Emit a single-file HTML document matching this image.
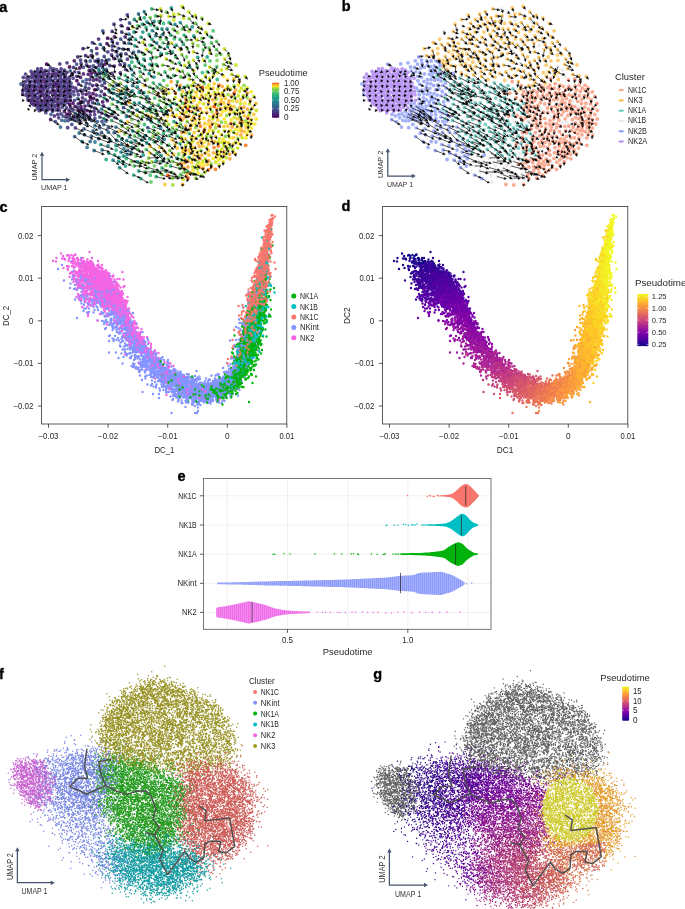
<!DOCTYPE html>
<html><head><meta charset="utf-8"><style>
html,body{margin:0;padding:0;background:#fff;width:685px;height:909px;overflow:hidden}
svg{display:block;font-family:"Liberation Sans", sans-serif;will-change:transform}
</style></head><body>
<svg width="685" height="909" viewBox="0 0 685 909" fill="none">
<defs><path id="qb" d="M89 252h0m-16 4h0m-1 2h0m-3-2h0m0 2h0m-13 0h0m16 3h0m5-1h0m8 4h0m2 2h0"/><path id="qc" d="M92 258h0m-9 0h0m-20-2h0m-10 5h0m25-1h0m3 0h0m13 6h0m-10 2h0m-4-3h0m-8 1h0m-5 0h0m18 4h0m0 1h0m2 3h0m9 2h0m-16 1h0"/><path id="qd" d="M73 258h0m-8 1h0m-9 2h0m17 2h0m1 0h0m4-1h0m6-1h0m0 0h0m6 3h0m0 0h0m3 0h0m4 1h0m-3 4h0m-1-1h0m-3-1h0m-1-1h0m-7 0h0m-13 0h0m1 7h0m13-2h0m5 0h0m1 0h0m2 2h0m3-3h0"/><path id="qe" d="M61 253h0m17 5h0m-9 0h0m-2-3h0m-3 3h0m-2 0h0m9 4h0m4-1h0m12 0h0m6 2h0m-5 2h0m-4 0h0m4 5h0"/><path id="qf" d="M81 258h0m12 11h0m-19-1h0m-16 1h0m16 2h0m9 0h0m-4 13h0m-5 5h0"/><path id="qg" d="M74 259h0m-3-4h0m-3 6h0m11 2h0m1-3h0m3 3h0m1 1h0m0-1h0m4 0h0m3-1h0m4 6h0m-4-3h0m-2 1h0m-3 3h0m-2-3h0m0 2h0m-2-1h0m-1 0h0m-1-1h0m-1-1h0m-1 0h0m-15 3h0m20 2h0m11 2h0m1-1h0m1-1h0m3 1h0m2 1h0m1-2h0m-15 9h0m-4-4h0m-14 2h0"/><path id="qh" d="M62 265h0"/><path id="qi" d="M77 258h0m-2-3h0m-7 0h0m-3 4h0m17 4h0m2-2h0m5 1h0m2 5h0m-7-1h0m-2 0h0"/><path id="qj" d="M87 259h0m-15 2h0m1 1h0m1 1h0m2 1h0m7-3h0m1 0h0m2 3h0m5-3h0m7 3h0m0 4h0m-1 0h0m-3 1h0m-4-3h0m-1 1h0m-3-2h0m-8 1h0m-5 0h0m-6 2h0m10 4h0m16-2h0m3 4h0m-7 2h0"/><path id="qk" d="M69 258h0m14 4h0m1-1h0m1 2h0m16 5h0m-6 1h0m-1-2h0m0-2h0m0 3h0m-2 0h0m-4-2h0m0 2h0m0 1h0m-1-2h0m-1 2h0m-1-2h0m0 1h0m-2-2h0m-2 0h0m0 1h0m-7 0h0m-2 5h0m4 1h0m1-1h0m2-2h0m1 2h0m2-2h0m8 1h0m4-1h0m1 3h0m0 1h0m1-2h0m1 1h0m7 0h0m9 3h0m-7 0h0m-1 0h0m-1 0h0m0 1h0m-2 0h0m-1 2h0m-3-2h0m0-1h0m0 0h0m-2 2h0m-3-2h0m-11 3h0m-4 0h0m10 2h0m3 1h0m0-1h0m12 2h0m8-3h0m-30 6h0"/><path id="ql" d="M71 261h0m13 7h0m11 3h0m-11 7h0m-7 1h0m-5 0h0m8 1h0m14 0h0m-15 7h0"/><path id="qm" d="M73 271h0m11-1h0m1 4h0m3-3h0m13 6h0m-1-1h0m-5-1h0m-2 0h0m-11 2h0m-18 3h0m26 3h0m13-2h0m4 5h0m-2-1h0m-14 3h0m-12-1h0m0 0h0m-4 12h0"/><path id="qn" d="M78 264h0m4-2h0m3 2h0m6 0h0m7-3h0m4 4h0m-1 3h0m-2-1h0m-1-1h0m-5 0h0m-3 1h0m-1-2h0m0 4h0m-1-2h0m-1 1h0m0-3h0m0 4h0m-1-3h0m-1 0h0m-1 3h0m-4-1h0m-12 2h0m7 1h0m2 1h0m5 1h0m4-2h0m3 1h0m6 2h0m3 0h0m4-1h0m1 1h0m1-2h0m4 3h0m-1 3h0m-10-2h0m-3-1h0m-4 0h0m-1 3h0m-2-2h0m-1 3h0m-4-4h0m-9 0h0m5 9h0m7-4h0m1 0h0m1 0h0m1 1h0m10 3h0m2-4h0m19 12h0"/><path id="qo" d="M73 260h0m-2 13h0m13-2h0m8 0h0m0 1h0m0-2h0m4 2h0m0 2h0m1-3h0m3 1h0m3 0h0m2 0h0m2 1h0m2 6h0m-4-3h0m-1-1h0m-1 4h0m-1-2h0m0 0h0m-3-1h0m-2 1h0m0-1h0m-1-1h0m0 4h0m-2 0h0m-6 0h0m-3-2h0m-3 0h0m-5 3h0m3 1h0m5-1h0m5 3h0m0-1h0m5-1h0m2 3h0m1-4h0m0 3h0m2-3h0m0 3h0m1-3h0m0 2h0m1-2h0m0 0h0m0 1h0m2 1h0m0-1h0m1 0h0m0 1h0m3 0h0m0 0h0m6 0h0m-1 3h0m-2 1h0m-1 3h0m-9-1h0m-8-1h0m-3-2h0m-3 2h0m-3 1h0m-2-2h0m-4 2h0m14 3h0m19 1h0m4 0h0m-11 4h0"/><path id="qp" d="M75 254h0m3 8h0m3 0h0m1-1h0m0 1h0m3 7h0"/><path id="qq" d="M87 262h0m6 5h0m-2 1h0m-3-3h0m0 4h0m-1-4h0m-2 2h0m0-1h0m-2 1h0m-2-2h0m0 1h0m-2-1h0m0 4h0m-8 3h0m5 0h0m4 1h0m4-3h0m3 0h0m1 1h0m2 0h0m0 2h0m0 1h0m1-2h0m0 0h0m2 2h0m0 0h0m4-2h0m0-1h0m3 3h0m1-2h0m5 1h0m1-1h0m6 3h0m-5 0h0m0 1h0m-1 2h0m-6-3h0m-3 2h0m-1 1h0m-5-2h0m-1-1h0m-2 2h0m0 1h0m-6-1h0m-4-1h0m-4-1h0m-2 3h0m16 3h0m14 1h0m5 0h0m7 0h0m-22 4h0m-15 0h0"/><path id="qr" d="M89 263h0m13 5h0m-8 0h0m-1 1h0m-4-4h0m0 3h0m0 1h0m-1 0h0m-1-4h0m-5 0h0m-7 1h0m-1 7h0m8-3h0m2 4h0m1-1h0m1-1h0m1 2h0m0 0h0m3-2h0m0 2h0m0-1h0m3 1h0m0 0h0m2-2h0m0 1h0m1-3h0m0 3h0m1-2h0m4 3h0m4-4h0m3 3h0m1 0h0m5 6h0m-6 0h0m-3-2h0m-1 2h0m-1-3h0m-1-1h0m0 4h0m-1-3h0m0 0h0m0 3h0m-2-2h0m-2-2h0m-1 0h0m0 3h0m-4-1h0m0 2h0m0-1h0m-4-1h0m-4-2h0m-1 0h0m-6 1h0m1 4h0m2 0h0m3 0h0m9 0h0m1 0h0m1 1h0m1 0h0m1 3h0m2-3h0m2-1h0m7 1h0m1-1h0m0 1h0m0 3h0m1-2h0m2-1h0m5 1h0m0 3h0m-8 0h0m-6 4h0m-4-2h0m-1 0h0m-3 0h0m-1 1h0m-7-3h0m-7 0h0m6 6h0m7 0h0m12 5h0m-15 2h0m-3 0h0m-5 1h0m-2-4h0"/><path id="qs" d="M76 263h0m3 1h0m2 0h0m0 0h0m9-3h0m5 7h0m-4-2h0m0-1h0m-1 2h0m0 2h0m-5-4h0m-5 1h0m0 3h0m-2 5h0m1-4h0m1 1h0m6 2h0m1-3h0m3 2h0m2 2h0m0-2h0m2 0h0m0-1h0m2 1h0m1 2h0m0-1h0m2-1h0m20 7h0m-13-2h0m-2-1h0m-1 1h0m-2 1h0m-2 1h0m-3-2h0m-3-1h0m-2 2h0m-2-3h0m-8 4h0m-3-3h0m-5 1h0m4 5h0m4-2h0m0 2h0m11 1h0m2-2h0m15 6h0m-14 5h0m14 0h0"/><path id="qt" d="M71 272h0m11 2h0"/><path id="qu" d="M80 273h0m3-3h0m10 1h0m-4 5h0m-15 0h0m2 5h0m37 1h0m-22 4h0m-3 1h0m-7-1h0m0 6h0m21 1h0m-20 2h0m-4 1h0"/><path id="qv" d="M80 274h0m10-2h0m-10 7h0m-8-3h0m13 5h0"/><path id="qw" d="M80 263h0m-6 16h0m3 4h0"/><path id="qx" d="M87 264h0m6 3h0m0 0h0m-2 2h0m-9-2h0m-1 6h0m5-1h0m0 2h0m4-4h0m1 0h0m0 4h0m2 0h0m1-4h0m0 3h0m1-2h0m0 2h0m1 1h0m3-3h0m7 3h0m16-2h0m-10 4h0m-1 3h0m-2-1h0m-1-1h0m-6-1h0m0 1h0m-3-2h0m-2 3h0m-2 0h0m-1-3h0m-2 0h0m-2 0h0m-1 1h0m-1 1h0m-1-1h0m0 3h0m-4-3h0m0-1h0m-1 1h0m-9 6h0m8 2h0m0-2h0m0-1h0m5 1h0m2 2h0m1-4h0m5 4h0m0 0h0m4-3h0m3 0h0m2 1h0m0-1h0m2 0h0m3 1h0m15 5h0m-6 2h0m-5-1h0m-15-2h0m-6-1h0m-2 1h0m-7 0h0m6 8h0m2-4h0m5 1h0m0 1h0m20-2h0"/><path id="qy" d="M99 279h0m-5-2h0m-5-2h0m-3 4h0m-2 0h0m-4-2h0m-10 6h0m7-2h0m11 2h0m3-2h0m8-1h0m2 1h0m0 0h0m12 8h0m-38-1h0m25 5h0m11 0h0m-33 5h0"/><path id="qz" d="M91 264h0m-3 4h0m-3-2h0m0 3h0m-7 5h0m1-3h0m3 2h0m2 1h0m1-3h0m8 0h0m0 1h0m1 1h0m1-2h0m0 3h0m0-1h0m2-1h0m1-1h0m1 3h0m1 0h0m6-4h0m4 8h0m-3-1h0m-1-1h0m0 0h0m0 3h0m-3-1h0m0 0h0m-3-1h0m-1-1h0m-3-1h0m0 0h0m0 1h0m0 3h0m-4-4h0m0 2h0m-2 0h0m-2-1h0m-1 2h0m-1-1h0m-1-1h0m0 0h0m-1-1h0m0 4h0m-1-1h0m-8 1h0m-1-1h0m2 3h0m1 3h0m2-2h0m6-1h0m6-1h0m1 4h0m2-3h0m1 3h0m2-4h0m1 0h0m0 1h0m1-1h0m2 2h0m5-2h0m5 8h0m-3-2h0m-5 1h0m-1-1h0m-11 0h0m-2 0h0m-3 0h0m-3 1h0m2 6h0m6 1h0m3-1h0m27 3h0"/><path id="qba" d="M100 267h0m-19 5h0m14 2h0m2 0h0m1 0h0m2-2h0m2 1h0m3 6h0m-4-1h0m-1 0h0m-2 1h0m-6-1h0m-15 5h0m15-2h0m5 2h0m1 0h0m3-1h0m0 2h0m1 0h0m1-3h0m0 3h0m1-1h0m2 0h0m4-3h0m6 5h0m-1 3h0m-2-2h0m-1 2h0m0 0h0m-3 0h0m-1 0h0m-1-3h0m0 2h0m-1-2h0m-2 0h0m-2 4h0m-2-3h0m-4-1h0m-2 1h0m-1 3h0m-4-1h0m-5-1h0m0 0h0m0 0h0m-8 2h0m2 5h0m4-2h0m2-1h0m4 3h0m9-2h0m8 0h0m3-1h0m1 2h0m1 1h0m11 0h0m1-3h0m1 3h0m-1 5h0m-14-3h0m-5 1h0m-9-2h0m-8 1h0m34 6h0"/><path id="qbb" d="M86 268h0m6 3h0m6 8h0m-18-4h0m-3 4h0m-3 0h0"/><path id="qbc" d="M110 276h0m-13 2h0m-12 1h0m-5 2h0m4 0h0m12 0h0m2-1h0m9 3h0m-17 2h0m-9 3h0m-2-3h0m-4 0h0m-5 3h0m16 3h0m9 1h0"/><path id="qbd" d="M80 271h0m16 2h0m-4 5h0m-7 4h0m3 0h0m-5 3h0"/><path id="qbe" d="M95 273h0m10 6h0m-6-2h0m-7-1h0m-14 4h0m31 4h0m1 0h0m4-4h0m-17 9h0m-3 0h0m0-2h0m-11-2h0m-1 4h0m14 1h0m4 4h0m2-2h0m17 5h0m0 0h0m-18-1h0m-13 3h0m-3 0h0m-6-3h0"/><path id="qbf" d="M90 272h0m0 2h0m3-1h0m1 1h0m5 0h0m5-1h0m1-1h0m5 7h0m-5-4h0m-4 3h0m-1 1h0m-5-3h0m-4-1h0m-4 9h0m10-3h0m0 2h0m2-3h0m0 4h0m3-3h0m2 1h0m0 2h0m2-3h0m2 3h0m1-2h0m2 2h0m3 2h0m-4-1h0m-2 1h0m-1 3h0m-6-2h0m-1 0h0m-13 1h0m-9-3h0m12 9h0m3 0h0m1-1h0m8-3h0m3 1h0m3 1h0m12-1h0m-4 5h0m-4 2h0m-9-2h0m-2 3h0m-2-3h0m-2-1h0m1 7h0"/><path id="qbg" d="M89 269h0m-3 4h0m31 6h0m-9 0h0m-5 0h0m-3-4h0m-1 2h0m-4 1h0m-3 1h0m-10-1h0m3 5h0m1-3h0m8 4h0m6-4h0m0 1h0m0 0h0m4 3h0m1-4h0m0 3h0m1-2h0m0-1h0m0 0h0m2 3h0m2 1h0m3-2h0m1 0h0m4 4h0m-3 3h0m0-2h0m-2-2h0m-3 0h0m-2 0h0m-1 2h0m-1-2h0m-2 0h0m-5 1h0m-4 1h0m0 0h0m-2 1h0m-3 0h0m-8 1h0m-6 0h0m6 3h0m8 1h0m6 0h0m3 1h0m2-4h0m0 2h0m2-1h0m0 1h0m0 1h0m2-2h0m0 0h0m3 2h0m3-1h0m0 2h0m1-1h0m2-2h0m2 2h0m2-3h0m2 3h0m-2 2h0m-5 0h0m0 2h0m-1-2h0m-3 2h0m-4-2h0m-2 2h0m-4-2h0m18 6h0m2-1h0m5 1h0"/><path id="qbh" d="M100 267h0m-10 6h0m2-1h0m8 2h0m23 5h0m-16-1h0m-1 0h0m-3-1h0m-1 2h0m-1-1h0m-2 0h0m-2-1h0m-3-2h0m-1 1h0m-4 0h0m-5 7h0m5-3h0m3 2h0m1-1h0m2 3h0m1-4h0m0 4h0m1-4h0m1 0h0m1 1h0m2 0h0m0 1h0m1-1h0m1 0h0m2 0h0m2 3h0m1-1h0m1 0h0m1-2h0m0 2h0m0 1h0m1-2h0m9 5h0m-8 0h0m-2-1h0m-1 1h0m-4 1h0m-1 1h0m-1-1h0m0 1h0m0 0h0m-1-3h0m0 0h0m-2 3h0m-1-1h0m0-3h0m0 4h0m-1-1h0m-2 1h0m-4-4h0m-3 3h0m-2-2h0m-5 1h0m1 6h0m3 0h0m1-3h0m5 1h0m7 3h0m6-1h0m3 1h0m12 2h0m-1-1h0m-4 0h0m-1 0h0m-30 0h0m-5 3h0m23 3h0"/><path id="qbi" d="M81 283h0m21 1h0m2 0h0m1 0h0m10-1h0m-12 6h0m-4-3h0m-2 3h0m-5-4h0m-5 5h0m12 3h0m3 1h0m18 3h0m-6-1h0m-2 0h0m-10 2h0m-8 0h0m-2-3h0m-5 1h0m-3 2h0m0 3h0m12 0h0m21 0h0"/><path id="qbj" d="M90 272h0m4 12h0m5-3h0m1 2h0m1 1h0m11-1h0m-12 6h0m-1-1h0m-9 1h0m-11-3h0m-2 4h0m20 0h0m0 2h0m5 0h0m16 1h0m-22 6h0m-6-4h0m-9 6h0"/><path id="qbk" d="M92 274h0m8 2h0m4 8h0m1 0h0m5-2h0m0-1h0m1 1h0m0-1h0m-1 6h0m0 2h0m-1-2h0m0 1h0m0 1h0m-1-4h0m-3 1h0m-1-1h0m-19 3h0m8 4h0m4-2h0m10 1h0m1-1h0m2 3h0m4 1h0m3-4h0m4 6h0m0 1h0m0 2h0m-1-2h0m-3 2h0m0 0h0m-1-1h0m0 1h0m-1-1h0m0 0h0m-1-2h0m0 1h0m-2-2h0m0 2h0m-1-1h0m0 3h0m-3-2h0m-1 2h0m-1-1h0m-1-3h0m-5 2h0m-6 1h0m-13 0h0m9 3h0m17 1h0m7-1h0m1-1h0m1 0h0m3 2h0m0-2h0m0 0h0"/><path id="qbl" d="M109 278h0m-17 1h0m-3 0h0m0 3h0m19 1h0m2 4h0m-4 1h0m-10 1h0m-2-4h0m-5 2h0m4 5h0m5 1h0m3-2h0m1-1h0m4 0h0m7 3h0m-19 6h0m-3 0h0m-7-1h0m-2-2h0"/><path id="qbm" d="M102 280h0m7 1h0m6 1h0m2 2h0m7 2h0m-7 2h0m-8-3h0m0 4h0m-2-1h0m-4-3h0m-2 2h0m-2-1h0m-1 3h0m-4 0h0m-4-4h0m-4 7h0m6 1h0m6 1h0m1-3h0m2 1h0m3 2h0m3 0h0m4-4h0m1 0h0m0 4h0m1-4h0m0 4h0m1-3h0m8 2h0m-1 2h0m-3 1h0m-3-1h0m-3 4h0m0 0h0m-4 0h0m-3 0h0m-13-4h0m-16 2h0m16 5h0m2 2h0m1-4h0m13 0h0m3 3h0m1-3h0m3 0h0m1 4h0m3 0h0m3-4h0m0 1h0m4 1h0m-1 5h0m-4-2h0m-16 1h0m-16-1h0"/><path id="qbn" d="M97 277h0m-5 7h0m14 5h0m-13 5h0m0-1h0m2-2h0m0 3h0m9 0h0m3-3h0m3 1h0m-6 4h0m0 0h0m0 3h0m-7 0h0m-1-2h0m-1-1h0m0 3h0m-10-4h0m-4 8h0m10-3h0m1 1h0m2 2h0m10-2h0m3-1h0m5 1h0m3-1h0m8 6h0m-5 0h0m-13 1h0m-1-2h0m-8 1h0m32 4h0"/><path id="qbo" d="M101 278h0m-5-1h0m1 7h0m3-2h0m2-1h0m1 3h0m9 5h0m-2-4h0m0 1h0m-3 0h0m-1 1h0m-3-1h0m-1 1h0m-4 2h0m-2 2h0m0-1h0m2 1h0m2 1h0m0 1h0m0 0h0m1 0h0m4-3h0m4 0h0m1 3h0m1 0h0m1 1h0m0-1h0m1 0h0m1 1h0m6-1h0m2 2h0m-4 0h0m-1 0h0m-1 0h0m-2 0h0m0 2h0m-2-2h0m0 2h0m-3-1h0m-1 0h0m-5 1h0m-2-2h0m-3 3h0m-5 1h0m0 0h0m-6 0h0m-5-3h0m12 4h0m18 0h0m4 0h0m8 7h0m-1 8h0"/><path id="qbp" d="M106 279h0m1 7h0m0 1h0m-2-1h0m0 3h0m-7 0h0m-1 0h0m-5 5h0m15-3h0m0 1h0m1 0h0m0-2h0m5 7h0m-8 0h0m-3 1h0m-2 0h0m-7-3h0m-12 0h0m35 6h0m4 0h0m2 7h0m-1-1h0m-9 1h0m-3 1h0m-2-4h0"/><path id="qbq" d="M104 283h0m7 7h0m4 3h0m12 4h0m-5 1h0m-2 0h0m-5-1h0m0 2h0m-1 0h0m-1-2h0m0 0h0m0 2h0m-10-1h0m-1 1h0m-1-2h0m-22 3h0m9 2h0m16 2h0m6-2h0m2 1h0m0 0h0m5-1h0m2 1h0m1 1h0m1-2h0m1 0h0m5-1h0m-3 8h0m-3-1h0m-2-2h0m-4 3h0m-2-4h0m-7 1h0m-4-1h0m18 6h0m8 8h0m-1-4h0m-9 5h0m18 7h0"/><path id="qbr" d="M103 283h0m9 6h0m-3 0h0m-6 0h0m-13-2h0m5 3h0m4 4h0m0 0h0m10 1h0m-7 3h0m-6 0h0m-1-2h0m-11 2h0m5 6h0m3-4h0m3 1h0m1 0h0m11 0h0m4 3h0m6-3h0m2-1h0m5 8h0m-30 2h0m22 0h0"/><path id="qbs" d="M107 289h0m-10-4h0m6 8h0m2-2h0m2 2h0m4-3h0m6 3h0m-3 2h0m-6 0h0m-3 2h0m-5-1h0m-2 1h0m-2 0h0m-5 2h0m-8-4h0m-1 1h0m2 8h0m13-2h0m3 2h0m2 0h0m1-3h0m3-1h0"/><path id="qbt" d="M109 279h0m-14 4h0m9 1h0m2-1h0m11 1h0m1 1h0m-3 2h0m-4 1h0m0 0h0m-3 0h0m-6-1h0m-3-2h0m-4 0h0m-5 7h0m2-1h0m6 3h0m1-1h0m3 0h0m8 0h0m4-1h0m6 2h0m1 3h0m-4-1h0m0 3h0m-4-4h0m-1 3h0m-4-3h0m-2 1h0m-2 0h0m-10 1h0m-4 0h0m-1 3h0m5 3h0m8 1h0m5-4h0m5 3h0m0-1h0m4-2h0m1 2h0m1-1h0m8 0h0m-14 8h0m-7-3h0m-18 0h0"/><path id="qbu" d="M98 294h0m5-2h0m7 1h0m0 1h0m6-2h0m1 2h0m3 4h0m-1 0h0m-3-1h0m-3 0h0m0-2h0m-1 2h0m-4 2h0m-1-2h0m-16-2h0m-4 0h0m-2 7h0m24 1h0m2 0h0m3-3h0m0 0h0m0 4h0m1-4h0m0 2h0m1-2h0m0 1h0m0 3h0m0 0h0m1-3h0m0 1h0m1-1h0m8 1h0m-2 3h0m-4 1h0m-1 1h0m-9-1h0m-7 1h0m-19-2h0m-2 2h0m36 5h0"/><path id="qbv" d="M105 288h0m-1-2h0m-11 8h0m6 0h0m5-1h0m1 1h0m4 0h0m4-2h0m2-1h0m6 4h0m-2 1h0m-1 0h0m-2-1h0m0 4h0m-2-1h0m-2 1h0m-5-3h0m-6 1h0m-5 2h0m-11 1h0m27 2h0m0 1h0m3-3h0m0 2h0m1-1h0m3 3h0m7-1h0m-2 2h0m0 1h0m-2 1h0m-5-1h0m-1 1h0m-3 2h0m-3-3h0m-5 0h0m-2 1h0m-1-1h0m-9-1h0m13 9h0m19-4h0m4 2h0m-1 5h0"/><path id="qbw" d="M106 289h0m-8 2h0m18 6h0m-1 2h0m-27-1h0m9 2h0m4 3h0m3 0h0m4 0h0m8-1h0m3 1h0m-1 3h0m-1-1h0m-2 0h0m-1 1h0m0 2h0m0-1h0m-3-2h0m-6 2h0m-4-1h0m-12 2h0m-5 0h0m3 4h0m27 2h0m4-1h0m2-3h0m1 2h0m3 3h0m-1 2h0m-4 0h0"/><path id="qbx" d="M106 287h0m-12 7h0m6 0h0m5-3h0m7 1h0m0 2h0m2-1h0m2-1h0m2 4h0m0 3h0m-3-3h0m-5 3h0m0 0h0m-5-3h0m-6 2h0m-4 2h0m7 0h0m0 4h0m0-3h0m2 1h0m5 1h0m2-2h0m0 1h0m2 2h0m4-3h0m0 2h0m2-3h0m0 4h0m1-3h0m2-1h0m3 4h0m4 4h0m-3-3h0m-4 3h0m-3-2h0m0 2h0m-6-3h0m0 2h0m-1 0h0m-6-1h0m-3-1h0m-12 0h0m23 8h0m2-2h0m5 1h0m1-2h0m1 7h0m-3-1h0m13 8h0"/><path id="qby" d="M110 297h0m0 2h0m-17-3h0m9 6h0m14 2h0m1 0h0m2 0h0m2 0h0m-1 2h0m-1-1h0m-4 0h0m-1 4h0m-1 0h0m2 5h0m1-2h0m3 1h0m2-1h0m4 0h0m0 1h0m1-3h0m2 8h0m-2-1h0m-5-1h0m7 5h0m0 0h0m2 3h0m4-3h0m2 3h0m-9 6h0m3 3h0"/><path id="qbz" d="M110 286h0m-12 8h0m18 0h0m-2 4h0m-1 0h0m-15-1h0m-11 6h0m7 0h0m1 1h0m4-2h0m2-1h0m3 1h0m0 1h0m2 1h0m2-4h0m4 2h0m5-2h0m0 4h0m1 3h0m-2-1h0m-6 1h0m0 0h0m-8-2h0m-9 2h0m-10 4h0m28 0h0m1-1h0m9 5h0m7 7h0"/><path id="qca" d="M96 298h0m3 2h0m9 2h0m3 2h0m1-1h0m12 4h0m-1 1h0m-1-1h0m0 0h0m-8 0h0m-1-2h0m-6 2h0m-21 1h0m38 3h0m3 6h0m-3-1h0m-2 0h0m-17 0h0m16 6h0m10 3h0m-4 2h0m9 5h0"/><path id="qcb" d="M102 298h0m-2-1h0m-12 7h0m11-2h0m19 3h0m-4 1h0m-1 2h0m-16-1h0m-4 5h0m15 1h0m7-2h0m5 2h0m0 1h0m3-1h0m4-2h0m1 1h0m-2 4h0m0 1h0m-1-2h0m-18 1h0m3 5h0m7 3h0m1 0h0m8-2h0m10 1h0"/><path id="qcc" d="M103 293h0m7 1h0m5 1h0m-6 7h0m14 6h0m-2 1h0m-14-1h0m-15-3h0m18 8h0m1-1h0m12 1h0m1 1h0m1 4h0m-1-3h0m5 6h0"/><path id="qcd" d="M100 298h0m-8 6h0m30 0h0m5 5h0m-8-2h0m-2-1h0m-1 0h0m-3 2h0m-12 4h0m0 2h0m2-1h0m6-3h0m6 4h0m1-1h0m4-1h0m5 1h0m4 5h0m-9-3h0m-2 2h0m0 1h0m-12-2h0m-2 0h0m23 4h0m3 0h0m2 5h0m-1 0h0m-5 5h0m6 1h0m4 9h0"/><path id="qce" d="M97 303h0m9-2h0m1 0h0m1 2h0m0 0h0m9-1h0m6 4h0m-3 3h0m-3 0h0m-4 0h0m-15 1h0m4 3h0m10 1h0m5-3h0m8 3h0m-2 2h0m-3 3h0m-9 0h0m0 0h0m-4-4h0m-30 3h0m47 2h0m6 2h0m5 7h0m-7-3h0m-1-1h0m-18 0h0m13 5h0m26 10h0"/><path id="qcf" d="M111 294h0m2-3h0m-3 8h0m-3-3h0m-14 7h0m9 0h0m4 0h0m3-3h0m0 3h0m2 1h0m1-3h0m7 4h0m0 3h0m-8-3h0m-5 4h0m-1-3h0m-4-1h0m-11 0h0m21 8h0m2-2h0m15 1h0m-13 10h0"/><path id="qcg" d="M118 298h0m-12 1h0m-4 1h0m8 3h0m6 0h0m1-3h0m2 4h0m7 4h0m-3 0h0m-7-2h0m-1 1h0m1 3h0m4 4h0m2-4h0m0 3h0m4-1h0m2 1h0m5 4h0m-2-1h0m-2 3h0m-1 0h0m-2-1h0m-29 2h0m19 3h0m11-2h0m6 2h0m0 4h0m-4-1h0m-5 10h0"/><path id="qch" d="M118 298h0m-14 6h0m5-2h0m5 1h0m2-3h0m7 2h0m2-2h0m3 9h0m-6-4h0m-1 3h0m0 1h0m-2-4h0m-2 2h0m-1-1h0m-2-1h0m0 4h0m-14 5h0m4-4h0m14 1h0m3 3h0m1-4h0m0 0h0m1 3h0m1 0h0m1 1h0m0-1h0m1 0h0m2 3h0m-1 3h0m-7-3h0m-1 0h0m12 7h0m9 11h0m1-2h0"/><path id="qci" d="M117 298h0m-3 1h0m-6 1h0m9 2h0m5-1h0m0 0h0m-8 5h0m-6 0h0m0-1h0m-3 6h0m4-1h0m14 3h0m0-1h0m3 2h0m1 0h0m-3 1h0m10 7h0m1 6h0m-2-1h0m0 9h0m-5 1h0"/><path id="qcj" d="M88 314h0m24-2h0m3-1h0m9-1h0m2 8h0m-2-1h0m0 2h0m-36-3h0m38 8h0m1-3h0m1-1h0m1 4h0m9 4h0m-2 0h0m-2 1h0m-1-4h0m-5 0h0m3 7h0m2-2h0m0 3h0m0 2h0m-3 4h0m8 3h0m5-1h0m8 3h0"/><path id="qck" d="M118 308h0m-3 1h0m-26 3h0m22 0h0m0 1h0m6 1h0m5-2h0m11 1h0m-7 5h0m-2-3h0m-4 3h0m0 0h0m-10-3h0m-8 6h0m4-1h0m13 1h0m1 0h0m7 3h0m5 5h0m-2 0h0m-13-2h0m7 7h0m4-2h0m-10 6h0m9 2h0m11 2h0m10 2h0m-2 7h0"/><path id="qcl" d="M112 305h0m-3 2h0m10 6h0m3-3h0m-13 5h0m7 6h0m1 0h0m8 0h0m2-1h0m1 1h0m0 3h0m0 3h0m-2-1h0m6 8h0m8-2h0m-1 3h0m-6 7h0"/><path id="qcm" d="M113 305h0m-3 9h0m15 0h0m1-1h0m-3 5h0m0 1h0m-1-4h0m-4 2h0m-4 0h0m-4 2h0m-13 1h0m0 0h0m14 0h0m0 3h0m5-2h0m2 0h0m3 0h0m1-1h0m0 0h0m2 2h0m3 0h0m5 4h0m-4 0h0m-2 1h0m-4-2h0m-1 3h0m-8-2h0m-1 0h0m12 7h0m5-2h0m0 1h0m1-1h0m2 0h0m2 6h0m-5 1h0m-1 0h0m2 4h0m8-2h0"/><path id="qcn" d="M124 303h0m-7 2h0m3 9h0m4-1h0m2 1h0m2 3h0m-8-2h0m6 8h0m6 3h0m-10-1h0m11 5h0m1 1h0m4 3h0m0 4h0m-11 1h0"/><path id="qco" d="M108 308h0m6 5h0m11 4h0m-9-2h0m0 4h0m-9 3h0m6 2h0m2-1h0m1-3h0m2 0h0m1 3h0m2-1h0m5-1h0m3 3h0m1-1h0m2 0h0m-1 5h0m0 0h0m-1-1h0m-1-1h0m-5 0h0m-1 3h0m-2-4h0m-5 1h0m4 7h0m5-3h0m11 2h0m3 4h0m-11 5h0m9-1h0m2 1h0m6 1h0m-1 4h0"/><path id="qcp" d="M120 306h0m-1 7h0m3-1h0m9 3h0m-4 0h0m-6 1h0m3 6h0m4-1h0m13 8h0m-5-1h0m-2 0h0m-1-1h0m-6-2h0m3 9h0m9 3h0m-2-1h0"/><path id="qcq" d="M107 313h0m5 1h0m9-1h0m9 0h0m-8 2h0m0 2h0m-2 1h0m-6-1h0m-10 4h0m2 1h0m4 2h0m4-2h0m7 1h0m4-2h0m1 1h0m4 0h0m4 7h0m-2 0h0m-2-4h0m0 1h0m0 2h0m1 5h0m1-1h0m0-1h0m0 1h0m3 2h0m1 0h0m-7 2h0m-4 0h0m-15-1h0m24 8h0m1 1h0"/><path id="qcr" d="M109 314h0m4-1h0m11 5h0m-4 1h0m-4-4h0m-5 3h0m12 3h0m9 0h0m-4 6h0m-9 6h0m4 0h0m2 0h0m3-2h0m5 1h0m14 6h0m-5 1h0m-5 0h0m-2-3h0m0 3h0m-4-1h0m-1-1h0m-2-1h0m8 4h0m9 7h0m0 2h0m-2-4h0m-8 2h0m-1-2h0m-2 2h0m-5-2h0m0 0h0m13 6h0m1 2h0m15 0h0"/><path id="qcs" d="M114 313h0m15 5h0m-3-2h0m-10 1h0m13 7h0m4 3h0m-4 0h0m-7-1h0m-3 7h0m3-2h0m10-1h0m2 0h0m13 7h0m-5 0h0m-2-2h0m-2 2h0m-5 2h0m10 2h0m2 1h0m0 2h0m5 5h0"/><path id="qct" d="M123 319h0m-6-4h0m-5 9h0m6-1h0m11 6h0m-2-2h0m-2-1h0m0 3h0m-1-3h0m-19 3h0m12 3h0m2 1h0m7 0h0m1-1h0m6 0h0m0 1h0m1-2h0m4 5h0m0 1h0m0 1h0m-3 1h0m-4-3h0m-1-1h0m-5 3h0m-16-2h0m28 4h0m3 0h0m3 2h0m4 6h0m-1-1h0m-5-1h0m-1 1h0m-2 2h0m-7-3h0m-5-1h0m13 6h0m6 6h0"/><path id="qcu" d="M104 324h0m15 5h0m-1 0h0m-5-1h0m-7 0h0m21 6h0m5 0h0m4 4h0m-6 0h0m-3 1h0m-1 0h0m-2-2h0m-9-1h0m-6 5h0m14 0h0m7-1h0m16 6h0m-2 2h0m-1-1h0m-1-2h0m-2 2h0m-2-2h0m0 4h0m-3-1h0m-1-1h0m-5-2h0m8 7h0m2 0h0m1-1h0m3 0h0m0 2h0m4 0h0m1-3h0m1 2h0m6-1h0m1 5h0m-3-1h0m-6 2h0m-4 2h0m-8-4h0m-4 3h0m10 4h0m2-2h0m-1 5h0"/><path id="qcv" d="M114 320h0m6 8h0m11 4h0m-2 10h0m7-2h0m3 1h0m12 6h0m-10-1h0m-3-1h0m4 5h0m4 0h0m2 4h0m3 0h0"/><path id="qcw" d="M107 324h0m21-1h0m2 6h0m-1 3h0m3 2h0m1-4h0m11 7h0m-2 1h0m-5-2h0m-4 0h0m0-1h0m0 4h0m3 2h0m5 2h0m1-3h0m1 5h0m-1 1h0m-2 0h0"/><path id="qcx" d="M112 324h0m20 4h0m-5 1h0m-2 0h0m-5 2h0m8 3h0m4 0h0m6 1h0m-3 2h0m-8-2h0m-1 3h0m4 5h0m7-2h0m7-1h0m6 9h0m-13-1h0m-8 5h0m10-3h0m6 2h0m0 1h0m1 0h0"/><path id="qcy" d="M110 323h0m25 0h0m-15 4h0m14 4h0m-5 6h0m10 5h0m11 7h0m-10-3h0m13 7h0"/><path id="qcz" d="M126 316h0m-1 6h0m10 2h0m-13 2h0m1 8h0m4 0h0m3-2h0m3 0h0m2 1h0m2-1h0m2 1h0m3 6h0m-2-2h0m0 2h0m-3-4h0m5 8h0m3 6h0m-9-4h0"/><path id="qda" d="M123 317h0m-3 6h0m2-2h0m1 3h0m2-3h0m0 3h0m3-1h0m8 5h0m-6-1h0m-14 0h0m-2 1h0m-2 2h0m4 0h0m13 0h0m13 2h0m-6 4h0m-1 1h0m-1-2h0m-1 3h0m0 0h0m-1-3h0m-4 3h0m-3-1h0m-1 0h0m0-1h0m-11 5h0m17 1h0m1 2h0m1-3h0m1 2h0m4-1h0m1 0h0m5 0h0m5 7h0m-6-4h0m2 6h0m7 1h0m-1 3h0m-2 0h0"/><path id="qdb" d="M115 322h0m15 21h0m6 1h0m6 3h0m-3 1h0m-1-1h0m-1-2h0m-3 1h0m0 1h0m-4 2h0m-6-3h0m-4-1h0m7 9h0m6-4h0m2 1h0m11 3h0m2 0h0m8 5h0m-1 0h0m-1-1h0m-4-1h0m0 1h0m-1 0h0m-3-1h0m-3 1h0m0-2h0m-2-1h0m-6 2h0m-2 6h0m8-1h0m6 1h0m1-3h0m1 1h0m3 0h0m2 1h0m1-2h0m3 3h0m1-3h0m2 1h0m5 7h0m-7-1h0m-15-1h0m-5 5h0m19 1h0m5-1h0m-23 4h0"/><path id="qdc" d="M124 328h0m-3-1h0m-9-1h0m17 8h0m-1 1h0m-1 3h0m-4-3h0m-11 3h0m20 4h0m8 2h0m2-2h0m5 7h0m-4-2h0m-1 1h0m-1-2h0m0 1h0m-1-1h0m-3 2h0m-1 1h0m-1-3h0m0 1h0m-1-1h0m0 3h0m-2 0h0m-2-2h0m-7 2h0m-1 0h0m-1 4h0m24-3h0m0 2h0m2 0h0m8 4h0m-6 0h0m0 1h0m-1-2h0m-4 1h0m-7 2h0m13 5h0"/><path id="qdd" d="M125 327h0m11 7h0m-12 3h0m-3 2h0m-5 1h0m16 3h0m5 1h0m1 0h0m5-1h0m-1 3h0m-3 3h0m0 0h0m-11-4h0m-1 4h0m12 1h0m6 1h0m2 2h0m3 1h0m2 0h0m9 5h0m-12-3h0m0-1h0m-14 1h0m-17 2h0m22 5h0m7 0h0m8-3h0m6 4h0"/><path id="qde" d="M125 328h0m-5 14h0m11 2h0m4-2h0m6 7h0m-21-3h0m12 6h0m11-1h0m4 3h0m10 4h0m-2 0h0m-3 0h0m-2 1h0m-1 0h0m-2-3h0m-4 0h0m0 2h0m0 1h0m-1 0h0m-6-3h0m0 0h0m-2-1h0m-12 8h0m16-1h0m8-2h0m3 1h0m0 0h0m2 1h0m1-1h0m4 3h0m2-4h0m3 4h0m10 2h0m-6 1h0m-17-2h0m-1 0h0"/><path id="qdf" d="M140 333h0m-4 3h0m0 1h0m-13-1h0m-1 0h0m0 2h0m-8 1h0m5 1h0m3 1h0m3 2h0m3-3h0m4 0h0m1 0h0m1 0h0m4 4h0m1-4h0m5 8h0m-1 0h0m-2-2h0m0 1h0m-3-2h0m-1 4h0m-5-2h0m-23 5h0m7 0h0m18-1h0m2 1h0m1-2h0m4 0h0m0 3h0m1-2h0m0 0h0m3 0h0m2-1h0m4 3h0m-3 5h0m-9-1h0m-9 0h0m13 5h0m9-2h0m1 0h0m4 0h0m4 0h0"/><path id="qdg" d="M126 340h0m9 3h0m6 2h0m-3 0h0m-13 7h0m11-1h0m8 0h0m2 0h0m0 3h0m3 0h0m2-1h0m1 6h0m-1 0h0m-3-4h0m-7 0h0m-6 4h0m-5-1h0m17 4h0m1-2h0m4 4h0m2-4h0m2 4h0m12-4h0m1 3h0m-6 2h0m0 0h0m-6 3h0m-4-2h0m-7-1h0m-13 2h0m18 4h0m7 0h0"/><path id="qdh" d="M139 335h0m-9 5h0m21 6h0m-8 6h0m8 1h0m-12 10h0m21-2h0"/><path id="qdi" d="M138 337h0m4 4h0m7 1h0m-9 4h0m-5 3h0m11 3h0m1-1h0m4 0h0"/><path id="qdj" d="M134 343h0m0-3h0m-2 9h0m-3-1h0m-4-2h0m5 7h0m3-1h0m15 2h0m1 0h0m5-3h0m8 6h0m-7 1h0m-5-3h0m-1 2h0m-2 0h0m-3 0h0m-6-1h0m-2 1h0m-5-1h0m-8 1h0m26 3h0m3 3h0m2 0h0m2-3h0m0 2h0m0 3h0m-1 0h0m-8 2h0m-1-2h0m0 5h0"/><path id="qdk" d="M135 338h0m-5 5h0m7 0h0m2-2h0m-10 4h0m16 6h0m5 1h0m-3 5h0"/><path id="qdl" d="M125 349h0m26 5h0m10 4h0m-5-1h0m-2 2h0m-1-2h0m-3 0h0m0 2h0m-2-3h0m-8 3h0m13 1h0m0 1h0m1 2h0m4 0h0m2-2h0m4 7h0m-1-2h0m-1 1h0m-2 2h0m-1-4h0m-4 2h0m0 2h0m-2-1h0m-2 0h0m-2-2h0m-6 0h0m-1 3h0m-1-3h0m0-1h0m-5 3h0m-1-1h0m10 5h0m13-1h0m7 3h0m5-4h0"/><path id="qdm" d="M139 343h0m2 5h0m9 5h0m2 1h0m5 5h0m-8-2h0m-3-1h0m7 7h0"/><path id="qdn" d="M134 346h0m-8 7h0m19-2h0m3 2h0m6 0h0m-2 6h0m-3 0h0m-23-4h0m15 7h0m4-1h0m0 2h0m5-3h0m1 0h0m1 3h0m3-1h0m3 1h0m2 0h0m8 2h0m-1 0h0m-5 3h0m-1 0h0m-1-3h0m0 4h0m-3-2h0m-3-2h0m0 1h0m0 1h0m-1-1h0m-7 0h0m-5 1h0m-3 0h0m6 3h0m6 2h0m3-1h0m3 1h0m5-2h0"/><path id="qdo" d="M125 354h0m30 24h0"/><path id="qdp" d="M143 341h0m2 9h0m9 3h0m1 1h0m3-1h0m-3 7h0m9 2h0m-14 5h0"/><path id="qdq" d="M147 348h0m-10 1h0m3 3h0m5-1h0m9 6h0m0 1h0m-3-2h0m3 5h0m16 2h0"/><path id="qdr" d="M144 347h0m1 6h0m7 1h0m1-2h0m-2 5h0m-1-2h0m0 4h0m-6-2h0m-2-1h0m-8 8h0m10-3h0m1 1h0m7-1h0m2 0h0m2 0h0m1-1h0m1 1h0m0 1h0m7 7h0m-3-1h0m-2 1h0m-2-2h0m-8-1h0m-1 3h0m-2-3h0m-4-1h0m-10 0h0m-2 1h0m8 6h0m10-2h0m2 1h0m2 2h0m4-2h0m1 1h0m8-1h0m3-1h0"/><path id="qds" d="M146 349h0m-3 1h0m4 3h0m4 2h0"/><path id="qdt" d="M154 359h0m-1-1h0m-8 1h0m-9-3h0m-2 4h0m6 4h0m2-2h0m2 1h0m4-3h0m4 0h0m1 3h0m2-1h0m6 0h0m3-2h0m-2 6h0m-1 3h0m-2-1h0m-2-3h0m-4 3h0m-7-2h0m-1-1h0m-7 4h0m-3-2h0m-1-1h0m6 4h0m5 2h0m5-2h0m2 3h0m7-2h0m1 0h0m3 5h0"/><path id="qdu" d="M155 350h0m-4 8h0m12 8h0"/><path id="qdv" d="M173 369h0m-15-2h0m-22 0h0m18 3h0m7 0h0m0 4h0m2-4h0m0 4h0m3-2h0m1-1h0m6 0h0m1 0h0m5 3h0m-4 4h0m-1 0h0m-2-2h0m-1 0h0m-2-1h0m-1 0h0m0 2h0m-4 1h0m-3-2h0m2 7h0m1-2h0m1 0h0m4 0h0m13 1h0m-19 3h0m-21 7h0"/><path id="qdw" d="M154 354h0m6 5h0m-9 0h0m-3-2h0m19 15h0"/><path id="qdx" d="M145 363h0m9-1h0m2 2h0m1-1h0m8 6h0m-2-1h0m-2 0h0m0 1h0m-1-4h0m-1 2h0m-2-1h0m-7 3h0m-10 1h0m11 4h0m4-2h0m5-2h0m1 1h0m4 1h0m1-1h0m1 2h0m1-3h0m0 1h0m1 3h0m0-1h0m0 1h0m2-2h0m5 7h0m-10-4h0m-1 2h0m-2-1h0m-3 2h0m-2-1h0m-11-2h0m-2 1h0m11 10h0"/><path id="qdy" d="M157 361h0m7 3h0m3 4h0m-3 0h0m-2 1h0m-4-2h0m-4-1h0m-3 0h0m-1 2h0m-5-1h0m7 6h0m2-1h0m6 0h0m5 0h0m9 1h0m1-3h0m3 6h0m-12-1h0m-4 1h0m0 1h0m0 1h0m-1-1h0m-12-2h0m9 6h0"/><path id="qdz" d="M157 364h0m12 2h0m-1 1h0m-16-2h0m13 13h0"/><path id="qea" d="M155 363h0m3 0h0m2 0h0m7-2h0m-3 8h0m-2-1h0m-2 0h0m-4-2h0m-1 1h0m-8 2h0m5 1h0m3 2h0m2-2h0m6 0h0m2 1h0m1 3h0m3-3h0m2 0h0m5 3h0m1-3h0m-1 5h0m-7 0h0m0 1h0m-13 0h0m-3 0h0m-8 1h0m8 8h0"/><path id="qeb" d="M154 363h0m9 5h0m-13 6h0m16-2h0m17 4h0m-7-1h0m0 2h0m-1-1h0m-1-1h0m-3 2h0m-1 0h0m-1 2h0m-1-1h0m-1-2h0m-1 0h0m-3 0h0m0 0h0m-2 2h0m-2-3h0m-3 0h0m-3 1h0m11 6h0m4 2h0m3-3h0m0 2h0m4-2h0m7-1h0m-6 9h0m-8-1h0m-9 0h0"/><path id="qec" d="M146 368h0"/><path id="qed" d="M158 358h0m9 5h0m-6 3h0"/><path id="qee" d="M160 361h0"/><path id="qef" d="M152 364h0m9-3h0m7 7h0m-1-3h0m-3 4h0m-4-1h0m-2-1h0m-1 0h0m-1 1h0m-5-3h0m3 5h0m0 0h0m1 3h0m2 0h0m2 1h0m2-1h0m1-3h0m0 3h0m1-3h0m1 4h0m2-2h0m0-2h0m5 1h0m2 0h0m-15 5h0m-1-1h0m-3 0h0m-2 2h0m-10 3h0"/><path id="qeg" d="M152 372h0m1-1h0m1 1h0m3 1h0m2-2h0m1 2h0m1-3h0m1 3h0m2 1h0m2-4h0m5 3h0m2 1h0m2-2h0m5 2h0m-6 3h0m-1 2h0m-3 0h0m-2-3h0m-2 2h0m0-1h0m0-1h0m-3 3h0m-8-4h0m-4 2h0m1 7h0m3-2h0m5-1h0m2 1h0m6 2h0m14-4h0m4 0h0"/><path id="qeh" d="M159 364h0m4 7h0m0 1h0"/><path id="qei" d="M163 364h0"/><path id="qej" d="M158 367h0m8 4h0m1 2h0"/><path id="qek" d="M175 369h0m-11 0h0m-9 3h0m1 2h0m3-2h0m2-1h0m1 2h0m3 1h0m0 0h0m3-3h0m2 1h0m7 1h0m16 6h0m-13-4h0m-1 1h0m0 3h0m-3-3h0m-2 3h0m0 0h0m-1-2h0m-3 0h0m0 1h0m0-1h0m-6 1h0m0 0h0m-12 2h0m12 0h0m0 1h0m4 3h0m6-4h0m7 1h0m-25 6h0m-5-2h0"/><path id="qel" d="M169 371h0m11 1h0m17 5h0m-11 0h0m0 1h0m-3-3h0m-1 4h0m-2-1h0m-5 0h0m-1-2h0m0 1h0m-2 0h0m0 1h0m-1-1h0m-1 0h0m0 1h0m-4 1h0m-1 0h0m0 0h0m-6 0h0m-12 5h0m9 0h0m5-2h0m0 2h0m2 0h0m6-2h0m2-1h0m1 1h0m1-2h0m2 0h0m3 0h0m0 3h0m1-1h0m2-1h0m-1 7h0m-1-1h0m-3 1h0m-2 1h0m-5-4h0m0 6h0"/><path id="qem" d="M171 374h0m8-1h0m13 5h0m-8-3h0m0 4h0m-1-2h0m-3 1h0m-2 1h0m-2-2h0m0 1h0m-1-3h0m-1 2h0m0 1h0m0-2h0m-9 1h0m-11 0h0m11 6h0m2-2h0m1-1h0m7 0h0m3 3h0m0-2h0m2 3h0m3 0h0m1 0h0m7 0h0m-8 3h0m-2-1h0m-1-1h0m-3 0h0m-2 1h0m-3 0h0m-1-1h0m-5 3h0m10 2h0m2 0h0"/><path id="qen" d="M157 374h0m19 0h0m3-1h0m10 4h0m-7 1h0m0-2h0m-2 2h0m-1-1h0m-5 2h0m-2-1h0m-2 0h0m-2 0h0m-8-3h0m1 5h0m2 1h0m2-1h0m3 2h0m1-1h0m6 0h0m1-1h0m3 2h0m2 0h0m0 1h0m0 0h0m1-3h0m1 3h0m1 0h0m-3 4h0m0-1h0m0 1h0m-4-2h0m-8 2h0m-4-1h0m-2 1h0m4 5h0"/><path id="qeo" d="M168 366h0m12 13h0m-1-3h0m-4-1h0m-1 4h0m-1-4h0m-1 4h0m-5 3h0m0 0h0m4 1h0m6-2h0m1 1h0m0 0h0m1-2h0m0 1h0m2 0h0m3-1h0m0 3h0m1-1h0m3 0h0m1 1h0m5-2h0m-26 5h0m-1-1h0m0 1h0m-3-1h0m2 7h0m8-2h0"/><path id="qep" d="M161 373h0m14 3h0m-12 4h0"/><path id="qeq" d="M173 366h0m5 12h0m-17-3h0m0 4h0"/><path id="qer" d="M162 376h0"/><path id="qes" d="M187 374h0m-2 4h0m0-1h0m-27 4h0m10 3h0m2-2h0m4-1h0m0-1h0m4 1h0m0 3h0m1-4h0m1 2h0m1 1h0m1 1h0m4 0h0m2-1h0m5-1h0m1 2h0m1-3h0m1-1h0m0 0h0m0 5h0m-4 0h0m-6 0h0m-3 0h0m-1 2h0m-3-2h0m-1 3h0m0 0h0m-5-3h0m-4 2h0m0 0h0m-7 0h0m-9 7h0m6 0h0m13-4h0m1 0h0m0 1h0m2 0h0m8-1h0m3 1h0m-13 8h0"/><path id="qet" d="M182 374h0m8 4h0m-4 0h0m-9 1h0m-2-1h0m-1-1h0m-1 2h0m-1 1h0m4 0h0m0 2h0m1 2h0m2-1h0m0 0h0m1 0h0m3-1h0m2-1h0m0-1h0m6 3h0m1-2h0m1 6h0m-7-2h0m-3 0h0m0 0h0m-1 3h0m0 1h0m-2-3h0m0-1h0m-1 1h0m0 0h0m-1 1h0m0 2h0m0-2h0m-3-2h0m-3 2h0m-1 0h0m-4 0h0m-11-1h0m4 4h0m6 0h0m7 4h0m2-1h0m5-2h0m0 1h0m1 0h0m0 2h0m5 0h0"/><path id="qeu" d="M165 373h0"/><path id="qev" d="M163 381h0m12 5h0"/><path id="qew" d="M166 382h0"/><path id="qex" d="M196 371h0m-9 8h0m-6-3h0m-3 0h0m-1 3h0m-9 0h0m3 4h0m1-1h0m3 2h0m1-1h0m6 0h0m0-1h0m0 0h0m3 1h0m2-3h0m2 1h0m4 1h0m-13 5h0m-2-2h0m-1 0h0m-4 0h0m-1 3h0m0 1h0m-2 0h0m-1-3h0m-6 4h0m13 0h0m2 4h0m5-3h0m1 0h0m0 0h0m-9 5h0m-2 0h0"/><path id="qey" d="M170 375h0"/><path id="qez" d="M175 374h0m-7 8h0m3-2h0"/><path id="qfa" d="M196 379h0m-1-3h0m-2 2h0m0 6h0m1-2h0m1-1h0m1 3h0m0 2h0m0-1h0m-3 1h0m0 2h0m-1-1h0m-5-1h0m-1 1h0m0 1h0m-1 1h0m-3 0h0m-2-2h0m-2 2h0m-1-3h0m-8 1h0m-3 2h0m6 3h0m8 0h0m0 0h0m4-1h0m9 5h0m-6-1h0m-2 2h0m-5 1h0m-21 0h0m34 3h0"/><path id="qfb" d="M174 373h0m13 12h0"/><path id="qfc" d="M172 377h0"/><path id="qfd" d="M180 371h0m7 7h0m0-2h0m-6 2h0m-2 0h0m-3-2h0m0 1h0m-1 2h0m-1-3h0m-1 6h0m2 1h0m4-3h0m0 3h0m3 1h0m1-3h0m2 0h0m0 1h0m3 0h0m2-1h0m2 0h0m-4 6h0m-3-2h0m0 0h0m-1 4h0m0-1h0m-2-3h0m0 2h0m-2-1h0m-9 1h0m-4-1h0m6 4h0m3 0h0m1 0h0m1 1h0m1-1h0m-1 6h0"/><path id="qfe" d="M178 379h0m-9 9h0"/><path id="qff" d="M189 388h0m-23 7h0"/><path id="qfg" d="M176 384h0m4-2h0m6 1h0m5 0h0m1 1h0m0 0h0m1-1h0m-5 5h0m0 1h0m-1 0h0m0 0h0m-1-2h0m-2 1h0m-1 0h0m-1-1h0m-4 0h0m-2 1h0m-8 4h0m6 1h0m8-3h0m3 1h0m5 2h0m2-1h0m0 1h0m3-3h0m-5 6h0m-9 0h0m-3 3h0m-2-2h0m-4 3h0m9 3h0"/><path id="qfh" d="M189 374h0m-11 8h0m1-1h0m0 3h0m2-1h0m1 1h0m0 0h0m3 0h0m1-2h0m2 2h0m3 0h0m1-3h0m1 3h0m3 0h0m1 1h0m-3 2h0m-1 0h0m-2 1h0m-2 0h0m-1 0h0m-1-3h0m-4 4h0m-1-1h0m-9 1h0m-4-1h0m9 4h0m9 2h0m4-4h0m1 5h0m0 2h0m-6-2h0m-1 0h0"/><path id="qfi" d="M199 376h0m-1 3h0m-11-2h0m-10 6h0m1 0h0m2-2h0m1 1h0m5-1h0m0 3h0m3-2h0m2 0h0m1 2h0m10 4h0m-5-2h0m-4 2h0m-1 1h0m-1 0h0m-2-2h0m-2-2h0m-2 1h0m0 1h0m-2 2h0m-1-1h0m-1-2h0m-5 3h0m0-3h0m-3 5h0m4 3h0m1 0h0m1-1h0m2 0h0m3-3h0m1 2h0m3-1h0m-18 5h0m8 4h0m3 0h0"/><path id="qfj" d="M179 376h0"/><path id="qfk" d="M183 376h0m-4 7h0"/><path id="qfl" d="M178 381h0m11 2h0m2 4h0m-6 3h0"/><path id="qfm" d="M177 385h0"/><path id="qfn" d="M180 381h0m14 8h0m-3-3h0m-4 9h0"/><path id="qfo" d="M192 382h0m-12 4h0"/><path id="qfp" d="M177 391h0"/><path id="qfq" d="M200 379h0m-2 0h0m-17 5h0m12-1h0m1-3h0m3 4h0m2 0h0m5 0h0m2 0h0m3 3h0m-12-2h0m-1 1h0m-1 2h0m-1-1h0m-2-1h0m0 0h0m-1 1h0m0 1h0m-4-3h0m0 2h0m-1 2h0m-2-1h0m0 1h0m-3 1h0m1 0h0m1 2h0m5 1h0m3-1h0m0-1h0m1-1h0m1 3h0m0-1h0m3-1h0m1 1h0m2 2h0m1 3h0m0-2h0m-3 3h0m-9 2h0m6 2h0"/><path id="qfr" d="M186 377h0"/><path id="qfs" d="M203 386h0m-24 3h0m14 5h0m-3 3h0m-11-1h0"/><path id="qft" d="M209 379h0m-3-1h0m-8 6h0m7-3h0m2 3h0m1-2h0m0 0h0m10 0h0m0 2h0m-7 5h0m-2-2h0m-1 0h0m0-1h0m-1 1h0m-1-1h0m-2 2h0m-1 0h0m-2 0h0m-1-1h0m-1 2h0m-1-1h0m0 0h0m-1 0h0m-1 1h0m-2-3h0m0 3h0m-18 5h0m12-3h0m5 3h0m2-3h0m0-1h0m0 2h0m1 0h0m0-2h0m2 2h0m0 2h0m0-1h0m0 1h0m1-1h0m1 0h0m0 1h0m4-3h0m1 2h0m6-3h0m-15 8h0m-3-2h0m-1 0h0m-14 5h0m10 1h0"/><path id="qfu" d="M199 383h0m13 1h0m-7 4h0m-2 1h0m-7-3h0m-4 2h0m-1 0h0m-1-2h0m-1 3h0m0-1h0m-2 1h0m-3 0h0m-2-4h0m-4 6h0m3 2h0m2-2h0m2 2h0m1 1h0m2-3h0m3 0h0m1-1h0m0 1h0m1 1h0m3 1h0m4-1h0m1 1h0m0-3h0m3 8h0m-5 1h0m-4-4h0m-1 0h0m-5 0h0m-5 0h0m-1 1h0"/><path id="qfv" d="M182 387h0"/><path id="qfw" d="M187 383h0m4-3h0m5 0h0m0 1h0m4 1h0m0 4h0m-1 1h0m-2 0h0m-1-2h0m-4 3h0m-2 0h0m-1 1h0m0-1h0m-1-1h0m-2 2h0m-1-3h0m-4 2h0m0 5h0m1 0h0m1-1h0m0 1h0m1 0h0m3-1h0m1 2h0m1-1h0m3-3h0m0 2h0m13 2h0m-16 2h0m-1 1h0m-2 0h0m-1 0h0m0 0h0m-9 0h0"/><path id="qfx" d="M204 384h0m1-3h0m-4 8h0m0-1h0m-2 1h0m-1-4h0m-1 0h0m-1 1h0m0-1h0m-4 2h0m0 0h0m0-1h0m-2 3h0m-2 0h0m-5-1h0m-2 4h0m10 1h0m1-2h0m1 0h0m2-1h0m8 0h0m-14 6h0m-1-1h0m-5 2h0m0 0h0m3 5h0m7 2h0"/><path id="qfy" d="M195 380h0m7 3h0m6 6h0m0-1h0m-2-2h0m0-1h0m0 0h0m-6 3h0m-1 1h0m0 0h0m-1-1h0m-1 1h0m-1-1h0m-1-2h0m-2-1h0m-7 2h0m-3 6h0m2 0h0m5-3h0m1 1h0m2 0h0m1 2h0m1-2h0m4 1h0m3 1h0m1-2h0m1-1h0m1 3h0m0-1h0m1-1h0m-1 6h0m-4-1h0m-5-1h0m-3 2h0m-2 0h0m0-2h0m-1 1h0m-3 0h0m-5 7h0m3-2h0m0 0h0m8-1h0m1 2h0m3 0h0m0 1h0m-26 10h0"/><path id="qfz" d="M207 384h0m2 0h0m-1 2h0m0 3h0m-3-3h0m-1 2h0m-1-1h0m-1 0h0m-1 2h0m-2-1h0m-1-2h0m-4 1h0m-8 2h0m-1 3h0m2 0h0m1 2h0m3 0h0m2 0h0m1-1h0m0-3h0m0 0h0m5 4h0m3-3h0m2-1h0m1 3h0m2-1h0m-1 7h0m0-4h0m-2 2h0m-4-2h0m-1 1h0m-3-1h0m-2 0h0m-1 0h0m-3 3h0"/><path id="qga" d="M211 375h0m-12 9h0m5 0h0m8 3h0m-3 1h0m-1-3h0m-1 1h0m-1 0h0m-3 3h0m-1 0h0m-3-2h0m-2-1h0m0-1h0m-10 2h0m2 5h0m4 2h0m4-4h0m0 2h0m2 1h0m1 0h0m1 1h0m1-3h0m3-1h0m4 3h0m1-2h0m1 1h0m-8 6h0m-3-3h0m-1 2h0m0-1h0m-5 2h0m-1-3h0m-4 0h0m-1 3h0m-2 3h0m2 1h0m4-1h0m5 3h0"/><path id="qgb" d="M186 389h0"/><path id="qgc" d="M192 376h0"/><path id="qgd" d="M190 382h0"/><path id="qge" d="M187 393h0"/><path id="qgf" d="M187 389h0"/><path id="qgg" d="M214 384h0m1-2h0m-1 5h0m-4 0h0m-2 0h0m-1 0h0m-1 0h0m-3 0h0m-11 3h0m0 1h0m5 3h0m4 0h0m0-3h0m2 2h0m0 0h0m0-2h0m5 3h0m2-4h0m0 3h0m2-3h0m3 1h0m2 3h0m-5 5h0m-5-3h0m-1-1h0m-1 2h0m-2 2h0m-4-2h0m-1 2h0m-12 1h0m12 3h0m0 1h0m2-4h0m0 5h0m-15 2h0"/><path id="qgh" d="M186 394h0m9-2h0"/><path id="qgi" d="M200 385h0m-10 5h0"/><path id="qgj" d="M201 385h0m-6 2h0m-1 0h0m-3 5h0m12-1h0"/><path id="qgk" d="M196 388h0m-2-2h0m-2 2h0m1 7h0"/><path id="qgl" d="M191 385h0"/><path id="qgm" d="M210 388h0m-18-1h0m16 4h0"/><path id="qgn" d="M195 389h0m4 2h0m3-1h0m7 3h0m0 3h0m-21 5h0"/><path id="qgo" d="M208 381h0m3 3h0m2-3h0m2-1h0m1 0h0m7 5h0m-10 1h0m0 2h0m-2-1h0m-1 1h0m0-1h0m0-1h0m0 1h0m-1-2h0m-2 4h0m0-3h0m0 2h0m-1-2h0m-1 1h0m0 2h0m0-1h0m-1-2h0m-3 0h0m-6 3h0m-3 2h0m9 2h0m1 1h0m0-3h0m1-1h0m5 2h0m0-1h0m1 3h0m-1 4h0m-1 1h0m-2-4h0m-2 3h0m-2-2h0m0 1h0m-2 6h0m2-2h0m2 0h0m-8 5h0m0 7h0m2 0h0"/><path id="qgp" d="M191 390h0"/><path id="qgq" d="M215 384h0m4-3h0m4 3h0m-5 1h0m-1 4h0m-3-4h0m0 2h0m-3 0h0m-1 0h0m-1 1h0m-2-1h0m-4 2h0m-2 0h0m-4-1h0m0 4h0m5-2h0m0 3h0m1-1h0m2 2h0m3-1h0m0-2h0m0 1h0m3 1h0m1-3h0m1 3h0m-4 2h0m-1 0h0m-1 3h0m-1 0h0m-4-3h0m-1 4h0m-2 0h0m-3 0h0m-1-3h0m-3 3h0m0 5h0m0-1h0m4-2h0m3 0h0m0 0h0m4-1h0m2 1h0"/><path id="qgr" d="M193 394h0m6 3h0"/><path id="qgs" d="M199 387h0m-4 2h0m0-3h0"/><path id="qgt" d="M212 383h0m3 6h0m0-2h0m-5 1h0m0 0h0m-1-2h0m-2 3h0m-1 0h0m-2 0h0m-1 0h0m-1-1h0m-1 0h0m-4 6h0m3 0h0m5-1h0m2 0h0m1 0h0m0-3h0m2 4h0m2 2h0m-5-1h0m-1 0h0m0 2h0m-3 1h0m-1-3h0m-1 4h0m0-4h0m-1 2h0m-1 2h0m0-2h0m-3-1h0m-1 4h0m2 3h0m13 0h0"/><path id="qgu" d="M207 387h0m-11 7h0m3-1h0"/><path id="qgv" d="M214 391h0m5-1h0m-20 5h0"/><path id="qgw" d="M211 388h0m-15 13h0"/><path id="qgx" d="M238 350h0m-9 19h0m-6-1h0m9 9h0m-4-2h0m-3 2h0m-15 3h0m13 4h0m0-2h0m3 1h0m1 1h0m1-1h0m1-3h0m1 4h0m-1 1h0m0 1h0m-3 0h0m-1 3h0m-1-2h0m0-2h0m-3 1h0m-3 3h0m-2-3h0m-3-1h0m-8 8h0m4 0h0m4-2h0m5 1h0m2-2h0m4 4h0m3-3h0m2 0h0m-11 7h0m-6-2h0m-2 0h0m3 5h0m-15 10h0"/><path id="qgy" d="M227 378h0m0 0h0m-5 1h0m0-1h0m-2-1h0m-1 2h0m-4-1h0m-2 6h0m2-2h0m2 1h0m0 0h0m4 1h0m1-1h0m6-2h0m3 7h0m-3-1h0m-7 1h0m-2 1h0m0-1h0m-1-2h0m-1 3h0m-2-1h0m-1 1h0m0-1h0m-2 0h0m-3 0h0m-8 5h0m4 1h0m1 0h0m1-1h0m2-3h0m1 3h0m1-2h0m2-1h0m0 3h0m0 1h0m0-4h0m1 4h0m7-1h0m5-1h0m-5 5h0m-5 0h0m-1-2h0m-5 2h0m-1-1h0m-1 3h0m-2-1h0m-2 4h0m2-2h0m-8 7h0"/><path id="qgz" d="M202 389h0m3 2h0"/><path id="qha" d="M218 374h0m10 4h0m-2 1h0m0-1h0m-8 1h0m0-3h0m-4 8h0m2-2h0m1 2h0m0 0h0m2 0h0m0 0h0m1 0h0m7-2h0m-1 7h0m-5-4h0m-1 2h0m-1-1h0m-3 0h0m-2 1h0m-6-1h0m-3 7h0m1-2h0m3 3h0m4-3h0m0-1h0m4 4h0m1-3h0m1 1h0m0-1h0m1 3h0m-3 2h0m-10-1h0m-1 0h0m-1 2h0m0 2h0m-1-4h0m0 5h0m2 1h0m3-1h0"/><path id="qhb" d="M205 398h0"/><path id="qhc" d="M235 375h0m-9 1h0m-1 2h0m-5 5h0m4 0h0m0 1h0m7 0h0m-1 4h0m-8-3h0m-3 4h0m-3-1h0m-1 1h0m-5 0h0m-2 5h0m5-2h0m7-1h0m-14 7h0m-1-3h0"/><path id="qhd" d="M223 378h0m-12 5h0m0 1h0m2 0h0m1 0h0m3-1h0m5-2h0m6-1h0m5 1h0m-11 6h0m0-1h0m-3 2h0m0-1h0m-1-1h0m-6 0h0m0 3h0m-1-3h0m-2 3h0m-3 5h0m2-3h0m1 3h0m1-4h0m1 0h0m1 0h0m2 4h0m2 0h0m3-3h0m1 2h0m4-2h0m-7 6h0m-3-1h0m-1 1h0m-5-1h0m-4 1h0m4 6h0m3-3h0m8 0h0"/><path id="qhe" d="M217 374h0m18 1h0m-8 0h0m-4 3h0m-8-3h0m-5 9h0m4 0h0m2-3h0m1 1h0m1 1h0m0 1h0m0-1h0m1 0h0m1-3h0m2 2h0m1-1h0m2 0h0m2 1h0m1 1h0m0-2h0m-2 7h0m-5-2h0m-2 2h0m-1-2h0m-1 2h0m0-3h0m0 1h0m-2-1h0m0 4h0m-8-2h0m-2 0h0m3 4h0m5 3h0m7-1h0m4-1h0m-4 3h0m-5 0h0m-3 0h0m-4 0h0m0 1h0"/><path id="qhf" d="M214 392h0m-1 3h0m-6 2h0m-1-2h0"/><path id="qhg" d="M223 378h0m0 0h0m1 4h0m2 1h0m3-1h0m-8 5h0m-1 1h0m-2 0h0m0 3h0m2-1h0m10 4h0m-18 1h0m-4 1h0m-2 2h0"/><path id="qhh" d="M234 377h0m-7 4h0m-8 4h0m-8 4h0m6 4h0m14-2h0m-13 8h0m-8-4h0m-2 3h0m0-2h0m-1 6h0"/><path id="qhi" d="M214 383h0m18-2h0m-6 5h0m-8-1h0m-6 3h0m-1 4h0m2 0h0m7 3h0m-15 0h0"/><path id="qhj" d="M226 371h0m2 0h0m2 3h0m1 0h0m0-3h0m1 1h0m-1 7h0m-18 5h0m0-3h0m1-1h0m9 0h0m2 2h0m0-2h0m1 3h0m5-3h0m1 0h0m-1 8h0m-1-1h0m-3-2h0m0 1h0m-3 0h0m-1 2h0m0-3h0m-1 4h0m0-3h0m-1 3h0m-1 0h0m-6-4h0m-4 6h0m7 1h0m2 2h0m0-4h0m1 1h0m0 0h0m4 3h0m0-1h0m0 1h0m3-4h0m-1 7h0m-6-2h0m-9 4h0m-2 2h0"/><path id="qhk" d="M224 372h0m6 6h0m-7 1h0m-7 5h0m0-1h0m1-2h0m4 2h0m4 0h0m1 0h0m5 1h0m1-2h0m-4 4h0m-4 1h0m-12-2h0m-1 3h0m-3 1h0m8 3h0m1 2h0m3-1h0m0-1h0m0-2h0m0 7h0m-4 2h0m-5-4h0m-2 1h0m0 2h0m2 2h0m0 1h0"/><path id="qhl" d="M240 358h0m-16 14h0m3 1h0m3 0h0m1 1h0m7-2h0m-9 4h0m-3 2h0m-4 1h0m-6 4h0m4-3h0m2 2h0m3-1h0m1-1h0m0 2h0m5-1h0m2 7h0m0-3h0m-7 1h0m-1 0h0m-2 2h0m-2 1h0m0-3h0m-1 1h0m-1 2h0m-1-1h0m-1 1h0m-4-3h0m-4 7h0m3-3h0m0 1h0m0 0h0m4 2h0m3-2h0m4 1h0m2 3h0m-4 0h0m0 3h0m-1-2h0m-1-1h0m-2 0h0m-5 3h0m-5 2h0m15 1h0"/><path id="qhm" d="M218 383h0m2 4h0m-9 2h0m0 4h0"/><path id="qhn" d="M237 379h0m-1-2h0m-1 1h0m-10 1h0m0-1h0m0 6h0m2 0h0m0-4h0m1 0h0m2 0h0m1 4h0m5-1h0m-9 4h0m-1 1h0m-2 0h0m-2-2h0m-3 2h0m2 6h0m1-4h0m2 4h0m-5 1h0m-8 1h0m6 5h0"/><path id="qho" d="M234 376h0m-1 1h0m-2 0h0m-4-1h0m-8 1h0m9 4h0m-1 6h0m0-1h0m-4 1h0m-12-1h0m4 6h0m1 0h0m15-1h0m-8 7h0m-5-2h0m-1-1h0m5 9h0"/><path id="qhp" d="M225 374h0m3 3h0m-6 5h0m7 0h0m0-1h0m2 2h0m2 1h0m-1 2h0m-4-1h0m-1 2h0m-1-2h0m-1 4h0m-1-2h0m-2 2h0m-1-3h0m-3 2h0m-5 1h0m0 2h0m3 2h0m4 1h0m7-4h0m4 7h0m-12 1h0m-1-1h0m-2-2h0"/><path id="qhq" d="M214 395h0"/><path id="qhr" d="M213 389h0"/><path id="qhs" d="M230 340h0m2 17h0m2 3h0m8 3h0m-6 5h0m-3-2h0m0 5h0m1 3h0m7-2h0m-5 4h0m-1 3h0m-4-1h0m-1 0h0m-1 1h0m-1-3h0m0 0h0m-5 8h0m1-1h0m1-1h0m6 1h0m2-1h0m2-2h0m3 1h0m-7 6h0m-3 0h0m0-1h0m0-1h0m-7 3h0m-2 1h0m2 2h0m2 0h0m1 2h0m3-3h0m0 0h0m11 5h0m-22 4h0"/><path id="qht" d="M238 364h0m1-2h0m2-2h0m2 2h0m-8 9h0m7 3h0m-4 5h0m-3 0h0m-3 4h0m7 2h0m-3 0h0m-2 3h0m0-2h0m-6 0h0m0 0h0m-3-1h0m-6 7h0m4 0h0m1 0h0m11-1h0m-9 7h0m-1-2h0m-3 1h0m-6 2h0"/><path id="qhu" d="M236 340h0m9 8h0m-6 1h0m0-3h0m-3 16h0m1 2h0m0-3h0m-1 7h0m-2-1h0m-1 6h0m0-1h0m3 1h0m2 1h0m2 5h0m-1-1h0m-2-1h0m-1 2h0m-1 0h0m0-1h0m0-3h0m-3 1h0m-4 3h0m-3 0h0m-3 5h0m0-2h0m3 2h0m8-2h0m2-1h0m-7 4h0m-1 2h0m-1-1h0m-3-1h0m-2 7h0m1 1h0m2-3h0m2 1h0m2-1h0m0 3h0m1-2h0m-6 6h0m-6 5h0"/><path id="qhv" d="M239 319h0m0 20h0m0 9h0m3 5h0m3-3h0m-5 7h0m-6 2h0m-3-1h0m5 6h0m4-2h0m0-1h0m5 0h0m2 3h0m-2 5h0m-4-1h0m-2 0h0m0-3h0m0 3h0m-2-3h0m-1 1h0m0-1h0m-2 4h0m0-1h0m0 5h0m2 0h0m1 0h0m5 1h0m-6 1h0m-1 2h0m-1-2h0m-10 4h0m4 3h0m1 2h0m8-1h0m-10 8h0m3 3h0m3-1h0m-2 3h0m-12 6h0"/><path id="qhw" d="M240 371h0m-21 12h0m8-1h0m9-1h0m-3 8h0m-5-3h0m-1 1h0m-1-1h0m-1 2h0m-4-2h0m-7 0h0m12 4h0"/><path id="qhx" d="M215 387h0"/><path id="qhy" d="M246 359h0m-14-1h0m3 5h0m1-3h0m4 0h0m0 6h0m-1 0h0m0 0h0m-3 2h0m-8-2h0m-2 7h0m1 0h0m11 1h0m0-4h0m5 0h0m-3 6h0m-2 0h0m-4 3h0m-6 0h0m-3-1h0m-1 1h0m-3 5h0m2 0h0m3 0h0m1-3h0m2 1h0m1 2h0m0 0h0m1-3h0m0-1h0m2 0h0m1 1h0m2 0h0m2 3h0m-8 4h0m-1-3h0m-3 3h0m-9 2h0m7 4h0m0 3h0m-3 6h0m3-2h0"/><path id="qhz" d="M220 390h0"/><path id="qia" d="M234 335h0m9 27h0m-4 3h0m-2 1h0m-4 7h0m0-2h0m1 3h0m1-4h0m9 4h0m0-3h0m-9 7h0m-7 3h0m5 1h0m3 0h0m1 0h0m0-2h0m2 2h0m-9 4h0m-3 1h0m0 2h0m-1-1h0m-10 5h0m5-3h0m1 0h0m2 4h0m5-3h0m3 2h0"/><path id="qib" d="M219 399h0"/><path id="qic" d="M226 385h0m-6 6h0"/><path id="qid" d="M239 354h0m6-4h0m-8 10h0m4 7h0m-6 7h0m2-1h0m2-2h0m0 2h0m2-3h0m2 5h0m-15 1h0m-7 8h0m3-2h0m1-1h0m6-1h0m1 4h0m0-2h0m4-1h0m3 6h0m-5 0h0m0 1h0m-4-1h0m-7 3h0m-2 7h0"/><path id="qie" d="M237 357h0m-3 5h0m2 2h0m3 0h0m4-4h0m4 4h0m-8 4h0m-1 0h0m-1-3h0m-7 7h0m1 1h0m2-1h0m7 3h0m-5 3h0m-1-2h0m-1 0h0m-6 3h0m-4-3h0m0 8h0m4-1h0m1-1h0m0-2h0m2 4h0m0-4h0m1 2h0m0 2h0m1 0h0m2-2h0m-5 3h0m-2 3h0m-8 1h0m-1 0h0m3 1h0"/><path id="qif" d="M240 334h0m10 13h0m-10-1h0m-8 6h0m6 1h0m1 0h0m5-3h0m1 0h0m4 7h0m0-1h0m-1 2h0m-6 0h0m-3-1h0m-3 1h0m-2-2h0m-1 7h0m4-1h0m1 1h0m1-2h0m3 1h0m2 2h0m0 0h0m2-2h0m2 2h0m2 4h0m-7-3h0m-5 1h0m2 4h0m3 2h0m0-2h0m1 2h0m3-1h0m2 5h0m-8 3h0m0-4h0m-2 2h0m0 1h0m-1 0h0m-1 1h0m-6-1h0m-4-2h0m12 4h0m-2 6h0m-9 0h0m-4 8h0m2 0h0m1-1h0"/><path id="qig" d="M236 327h0m6 9h0m1 18h0m-16 9h0m11 1h0m1-2h0m3 2h0m1-1h0m-2 5h0m-3 1h0m-6 3h0m4 0h0m3-1h0m1 3h0m1 5h0m-4-3h0m-1-1h0m-2 2h0m-2 1h0m0 1h0m-1-2h0m4 4h0m-2 8h0m0-4h0m-1 1h0m-10 4h0m9 0h0"/><path id="qih" d="M239 343h0m14 3h0m-4 2h0m-7 5h0m0 0h0m5-3h0m1 2h0m-6 6h0m-1-3h0m-2 4h0m-2 2h0m8 8h0m-4 0h0m-2-1h0m-1 0h0m-1 5h0m1 0h0m0-1h0m1 2h0m1-2h0m0-2h0m1 2h0m2 2h0m3-4h0m4 0h0m-5 8h0m-2-3h0m-1 0h0m-2 1h0m-1 0h0m-3 3h0m0-2h0m-2-1h0m-5 1h0m4 4h0m4 3h0m0 0h0m2-1h0m-8 4h0m-6 7h0m2-2h0m4 4h0m-5 1h0"/><path id="qii" d="M242 331h0m-8 14h0m7 5h0m1 3h0m2 0h0m4 0h0m-5 6h0m-5-3h0m-2 2h0m-2 1h0m-4 5h0m9-4h0m2 3h0m0 5h0m-9 1h0m-2 1h0m0 0h0m4 4h0m3 0h0m-6 8h0m2-2h0m2 4h0m3-2h0m3 0h0m-7 7h0m-7-3h0m12 4h0m-14 6h0"/><path id="qij" d="M243 323h0m-1 22h0m-8 2h0m4 8h0m7 11h0m-9 2h0m-4 2h0m4 0h0m1 0h0m2 0h0m-1 6h0m-5-1h0m-3 3h0m0-1h0m5 6h0m2-3h0m1 3h0m-7 5h0m-1 8h0"/><path id="qik" d="M222 386h0"/><path id="qil" d="M249 331h0m2 4h0m-7 8h0m-5 4h0m2 7h0m0-3h0m1 2h0m4-1h0m4 1h0m0 0h0m-2 5h0m-2 1h0m-3-4h0m-1 4h0m-2 0h0m0-3h0m-1-1h0m-1 0h0m-1 2h0m-1 6h0m1 1h0m0-2h0m2 2h0m0-1h0m1-1h0m2 2h0m0 0h0m3-2h0m2 1h0m4 5h0m-5 1h0m0-3h0m-6 1h0m0-2h0m0 1h0m-2-1h0m-1 2h0m-2 4h0m0 2h0m1-1h0m4 2h0m0-1h0m4 2h0m-2 1h0m-4-1h0m-1 4h0m0-3h0m0-1h0m-8 9h0m9-4h0m4 3h0m-5 2h0m-10 6h0m5 3h0m4 0h0"/><path id="qim" d="M233 349h0m8 3h0m-3 4h0m1 8h0m0-3h0m2 1h0m-1 4h0m-2 0h0m-7 2h0m0 6h0m1 0h0m1-4h0m3 0h0m1 4h0m0 0h0m0-4h0m5 0h0m1 1h0m-4 5h0m-2 3h0m-1-3h0m-2 2h0m-7 4h0m3-2h0m3 0h0m2 0h0m2 3h0m0 6h0m-4-4h0m-1 3h0m-7-3h0"/><path id="qin" d="M224 381h0"/><path id="qio" d="M250 334h0m-1 5h0m-6 5h0m-6 6h0m4 1h0m5 2h0m3-1h0m1 3h0m-3 4h0m-2 0h0m-3-1h0m-1 1h0m0 0h0m-1 0h0m-3-4h0m-1 8h0m2 0h0m5 1h0m11 2h0m-6-1h0m-3 2h0m-1 0h0m-3 1h0m-1-1h0m-1 1h0m0-2h0m-1 0h0m-1 8h0m5 0h0m0 0h0m5-2h0m-6 5h0m-2 2h0m-1-4h0m-2 0h0m-1 3h0m-1-3h0m-2 4h0m-5 3h0m6 2h0m0 0h0m5 0h0m0-2h0m3 5h0m-3-2h0m-6 6h0m5 2h0"/><path id="qip" d="M230 378h0m1 8h0"/><path id="qiq" d="M248 329h0m-3-1h0m-4 10h0m-1 2h0m7 8h0m0 0h0m-4 2h0m2 0h0m-9 10h0m2 0h0m5 5h0m-1 2h0m-1 2h0m-1-1h0m-5 1h0m0-3h0m3 10h0m-8 0h0m11 4h0m-5 8h0"/><path id="qir" d="M246 317h0m-4 2h0m20 1h0m-3 9h0m-5-4h0m-10 9h0m0-4h0m10 4h0m2 2h0m-5-1h0m-2 4h0m0-2h0m0 0h0m-3 2h0m-3-3h0m-2 3h0m0 3h0m5 0h0m1 0h0m0-1h0m8 6h0m-6 2h0m-1-2h0m-1-1h0m-1 3h0m-1-2h0m-1 1h0m0-2h0m-4 1h0m0-2h0m-1 9h0m0-4h0m4 1h0m1 1h0m1-1h0m0-1h0m0 0h0m1 3h0m1-2h0m0 2h0m2-3h0m0 1h0m9 4h0m-14 0h0m-5 1h0m-1 4h0m6 2h0m1-1h0m0 0h0m2 0h0m7 4h0m-7 1h0m-5 0h0m0 2h0m0-3h0m-2 0h0m-1 1h0m-2-1h0m9 7h0m0 0h0m2-2h0m3 4h0m-3 4h0m-5-1h0m-4 5h0m4 5h0m6 15h0"/><path id="qis" d="M249 312h0m-3 4h0m4 7h0m7-1h0m-12 12h0m4-1h0m6 3h0m-4 3h0m0-2h0m-4-1h0m0-1h0m-1 3h0m-1-3h0m-2 0h0m3 7h0m1-2h0m3 2h0m2 0h0m1 5h0m-2 1h0m-5-1h0m-1-1h0m-4 0h0m-2 2h0m0-1h0m1 3h0m2 3h0m3-1h0m0-1h0m3 1h0m4-1h0m2-1h0m-1 5h0m-3 4h0m0-2h0m-2 0h0m-1 0h0m-1-1h0m-3 0h0m-2 2h0m0 1h0m4 1h0m2 1h0m1 1h0m1-1h0m1 2h0m1 6h0m-4-3h0m-2 3h0m-2 0h0m-2-3h0m2 6h0m0-2h0m1 1h0m7 4h0m-11 1h0m-4 2h0m0 6h0m7 3h0m-6 1h0"/><path id="qit" d="M243 307h0m9 12h0m1 5h0m-4 10h0m7 4h0m-7-2h0m-7-1h0m7 11h0m-2 3h0m-3 0h0m5 9h0m-10-1h0m3 6h0m2 0h0m1-1h0m2 5h0m-2 0h0m-2-1h0m-1 1h0m-1 2h0m-3 3h0m7 4h0m-13 0h0m5 11h0"/><path id="qiu" d="M236 384h0"/><path id="qiv" d="M228 377h0"/><path id="qiw" d="M247 322h0m6 2h0m-2 2h0m-7 1h0m-1 5h0m11-1h0m0 0h0m-1 6h0m-3 2h0m-4-2h0m-2 2h0m-4 5h0m5-4h0m1 3h0m2 0h0m3-1h0m4 0h0m-2 5h0m-2-1h0m-2-1h0m-4 0h0m-9 1h0m-3 7h0m6 0h0m5 1h0m0-2h0m1 0h0m4 2h0m2-2h0m5 2h0m-8 5h0m0 0h0m-3-1h0m0-3h0m-2 4h0m-2 0h0m0-2h0m-7 4h0m6 2h0m3-1h0m0-1h0m1 2h0m1 1h0m0-2h0m4 1h0m7 1h0m-8 2h0m-2-1h0m-5 1h0m-3 1h0m4 3h0m2 4h0m-5 4h0m-4 0h0m-3-2h0m2 5h0m7 1h0"/><path id="qix" d="M249 311h0m-3 11h0m4 0h0m1 0h0m4 3h0m0 0h0m-9 3h0m0 6h0m5-1h0m3-2h0m-5 6h0m0 1h0m-3-1h0m-5 1h0m3 2h0m0 1h0m7-1h0m9 0h0m-6 5h0m-4 1h0m-2 3h0m-1-2h0m0 1h0m-4-1h0m-2 2h0m-1 3h0m2-2h0m2 0h0m2 0h0m1 2h0m0-2h0m1 4h0m1-1h0m4-1h0m-2 4h0m-5 1h0m-4 1h0m-2-3h0m-1 0h0m-2 3h0m3 3h0m1 3h0m3 0h0m3-4h0m2 0h0m-1 6h0m-1 3h0m-3-4h0m0 2h0m-1-2h0m-1 2h0m4 7h0m0-4h0m1 0h0m-2 9h0m-5-3h0m-4-1h0m4 9h0"/><path id="qiy" d="M234 330h0m5 17h0m-2 18h0m-5 12h0"/><path id="qiz" d="M238 378h0m-5-3h0"/><path id="qja" d="M247 329h0m-2-3h0m-5 3h0m2 5h0m4 3h0m-1 2h0m-3 8h0m0 2h0m-2-4h0m-3 4h0m1 5h0m6-4h0m3 0h0m5 8h0m-9-1h0m0-2h0m-2 7h0m2 1h0m2-1h0m-10 9h0m4 1h0m2-2h0m-3 6h0m-1 0h0"/><path id="qjb" d="M239 323h0m7 1h0m0-3h0m-8 7h0m7 3h0m1 12h0m4 1h0m5-1h0m-11 6h0m-2-1h0m6 6h0m1-1h0m2 1h0m-4 3h0m-1 0h0m-4 2h0m-1 0h0m0 1h0m6 5h0m-4 1h0m-1 2h0m-2-2h0m-4 1h0m1 7h0m4-1h0"/><path id="qjc" d="M238 354h0m6 2h0m-2 11h0m-2 8h0"/><path id="qjd" d="M238 374h0m5-2h0"/><path id="qje" d="M254 281h0m3 17h0m1 3h0m5 0h0m-3 7h0m-2-1h0m-1 0h0m-3 0h0m0 0h0m-2 1h0m-2 0h0m-3 3h0m2 1h0m3-2h0m1 4h0m4-1h0m1 3h0m-2 2h0m-1-1h0m-3-1h0m-1-1h0m-2 9h0m3-4h0m1 0h0m0 0h0m2 0h0m2 0h0m1 4h0m0-1h0m5-2h0m-1 8h0m-1-1h0m-3-3h0m-2 2h0m-1-2h0m-3 3h0m0 2h0m4 3h0m1 3h0m-1-1h0m-3 3h0m-1 0h0m-4 2h0m4 0h0m5 1h0m1 3h0m3 0h0m-9 39h0"/><path id="qjf" d="M243 349h0m-4 1h0m4 26h0m-1 0h0"/><path id="qjg" d="M233 373h0"/><path id="qjh" d="M256 299h0m-6 15h0m0-3h0m3 0h0m1 1h0m2 0h0m-4 7h0m0-4h0m-8 9h0m8-3h0m3 0h0m4 8h0m0-1h0m-11-1h0m-6-1h0m5 7h0m4 1h0m2-2h0m1-1h0m7 2h0m-2 5h0m0-1h0m-6 2h0m-3-2h0m-5 2h0m-1-2h0m-7 7h0m4-4h0m6 4h0m0-1h0m2-3h0m4 3h0m1 0h0m0-3h0m1 1h0m3 2h0m2-3h0m-2 6h0m-4-1h0m-11 2h0m-4-2h0m4 5h0m5 0h0m3 0h0m1 3h0m0-2h0m-1 6h0m-8-2h0m0 9h0m4-2h0m0 0h0m2-2h0m3 0h0m-5 10h0m5 4h0m4 2h0m-10 3h0"/><path id="qji" d="M259 314h0m4 2h0m-4 3h0m-1-3h0m-1 3h0m0-2h0m-2-1h0m-1 0h0m-1 2h0m-6 1h0m-4 3h0m6 2h0m3 0h0m0-2h0m0-1h0m1 0h0m6-1h0m0 9h0m-5 0h0m-1 0h0m-2-1h0m0-2h0m-6-1h0m5 9h0m4-2h0m1 1h0m5 3h0m-3 0h0m-2 0h0m-2-1h0m-2 3h0m0-1h0m-1 0h0m0-2h0m-7 0h0m-5 9h0m5-3h0m6 2h0m3-1h0m1 0h0m7-2h0m-5 6h0m-5 0h0m0-1h0m-2 4h0m-1-2h0m0-2h0m-3 7h0m2-1h0m0 2h0m5-2h0m4-1h0m1 6h0m-2-1h0m-6 0h0m-3 1h0m-2 3h0m-2 4h0m5 3h0m-1 7h0"/><path id="qjj" d="M253 292h0m4-2h0m0 6h0m1 5h0m-6 8h0m-5 5h0m5 2h0m-2 5h0m0-1h0m2 3h0m2 0h0m1-1h0m4 1h0m-5 6h0m-1-1h0m-1 0h0m0-3h0m-2 4h0m0 0h0m0-4h0m-2 2h0m-4 1h0m-1 6h0m0-3h0m3 1h0m2-2h0m2 1h0m2-1h0m3 8h0m-2-1h0m-1-2h0m-1 4h0m0 0h0m-2-4h0m-1 0h0m0 0h0m-6 3h0m1 5h0m1 0h0m0-3h0m3 4h0m3-2h0m8 2h0m-2 3h0m-5-1h0m-2 1h0m-2 1h0m-1-1h0m-1 7h0m4-4h0m2 4h0m0-3h0m1 0h0m1 2h0m2-1h0m-7 7h0m-12 1h0m9 0h0m4 3h0m2 0h0m1 3h0m-6 8h0"/><path id="qjk" d="M249 308h0m-3 4h0m5 3h0m6 7h0m-15 12h0m4-2h0m2 0h0m2 0h0m2-2h0m-7 10h0m-5 12h0m9 2h0m-8 5h0m-5 10h0"/><path id="qjl" d="M239 343h0m1 8h0m7-1h0m-7 13h0m-2 2h0"/><path id="qjm" d="M227 363h0"/><path id="qjn" d="M237 352h0m6 6h0m-9 5h0m2 0h0m2 1h0m0-3h0m7 0h0m-9 5h0"/><path id="qjo" d="M250 330h0m5 2h0m-2 6h0m-7-3h0m-8 17h0m13 5h0m-9 6h0m3-2h0m-4 5h0m-3 3h0"/><path id="qjp" d="M252 298h0m-11 16h0m12 5h0m-8 14h0m9-3h0m-12 9h0m8 2h0m-10 12h0m7-1h0m-11 13h0"/><path id="qjq" d="M242 305h0m5 17h0m9 1h0m-2 6h0m-6 0h0m-3-4h0m-13 15h0m12 1h0m8 1h0m-12 3h0m3 22h0"/><path id="qjr" d="M246 320h0m4 5h0m5 23h0m-11 1h0m-1 1h0m7 4h0m-4 14h0"/><path id="qjs" d="M253 300h0m-2 9h0m-10 14h0m14-2h0m-7 8h0m4 5h0m4-1h0m0 4h0m-10 2h0m-2-1h0m6 6h0m3-1h0m-4 6h0m-12 3h0m7-1h0m5 5h0m-7 8h0m5-1h0m1-1h0m-3 3h0"/><path id="qjt" d="M254 299h0m3 2h0m-2 7h0m-1-1h0m0-1h0m0-1h0m7 8h0m-1 4h0m-12 0h0m1 7h0m2 0h0m4-1h0m1-2h0m1 2h0m2-3h0m2 0h0m0 0h0m-2 8h0m-6 0h0m-1-3h0m-3 3h0m6 3h0m1 2h0m5 0h0m1-2h0m-4 7h0m-1-3h0m-2 1h0m-5 0h0m-4 2h0m-2-2h0m9 6h0m7 1h0m0-2h0m1 4h0m-10 8h0m6 5h0m-4-2h0m-4 0h0m-9 11h0m14 3h0"/><path id="qju" d="M259 316h0m-7 9h0m-6 4h0m0 12h0m-2 7h0m-2 1h0m0 11h0m4 5h0"/><path id="qjv" d="M238 346h0m-2 15h0m8 3h0"/><path id="qjw" d="M257 291h0m-4 20h0m3 5h0m-9 6h0m3 2h0m6 1h0m-1 3h0m0 8h0m0-1h0m-4 2h0m-1 6h0m4 0h0m-9 21h0"/><path id="qjx" d="M259 262h0m3 15h0m-14 26h0m6 11h0m3-1h0m5 4h0m-7 2h0m-4-3h0m-2 1h0m5 4h0m2-1h0m1 5h0m-4 0h0m-3 7h0m2-2h0m5 6h0m-5 4h0m2 1h0m-5 22h0"/><path id="qjy" d="M242 312h0m11 1h0m2 1h0m2-3h0m3 1h0m-2 4h0m-3-1h0m-6 9h0m0-1h0m3-3h0m2 3h0m0-3h0m2 4h0m3 4h0m0-2h0m0 0h0m-4 0h0m-1 0h0m-1 2h0m-7 5h0m1-2h0m1 0h0m2 2h0m2-3h0m2 3h0m0-1h0m1 0h0m1 2h0m-4 3h0m-2-1h0m-2 1h0m-8 3h0m5 4h0m1-3h0m1 0h0m2 1h0m2-2h0m1 4h0m0 0h0m2-3h0m3 1h0m1-2h0m-2 8h0m-1 0h0m0-3h0m-2 3h0m-1-2h0m-5 2h0m-2 0h0m-2-1h0m6 6h0m1 1h0m9-3h0m3-1h0m-17 6h0m-1 6h0m1-1h0m2 1h0m5 0h0m-4 3h0m-2 1h0"/><path id="qjz" d="M252 323h0m2 10h0m-3 5h0m-9 5h0m-5 8h0m11 6h0m-9 5h0m4-1h0m1 2h0m5 1h0"/><path id="qka" d="M256 289h0m1 1h0m4 3h0m-6 4h0m-3-1h0m1 6h0m2 1h0m3 1h0m1-4h0m1 6h0m-8 6h0m3 0h0m1 2h0m1 0h0m2-4h0m3 3h0m-3 4h0m-1 0h0m-3-2h0m-3 0h0m-1 4h0m3 5h0m1-2h0m3 1h0m1-3h0m1 4h0m0-4h0m0 0h0m3 9h0m-2 0h0m0 0h0m-1-1h0m-2 1h0m0-3h0m0 0h0m-2-1h0m-3 2h0m-3 4h0m3 1h0m2-1h0m0 0h0m5 2h0m3 3h0m-5 1h0m-1 2h0m-4-2h0m-3 0h0m2 3h0m2 1h0m5 0h0m0 7h0m-9 4h0m4-2h0m7 3h0m-9 10h0m4-3h0"/><path id="qkb" d="M244 328h0m-5 4h0m3 24h0m-14 3h0"/><path id="qkc" d="M235 357h0"/><path id="qkd" d="M247 340h0m-16 16h0"/><path id="qke" d="M257 300h0m1 4h0m4-4h0m1 6h0m-14 17h0m4 4h0m-4 6h0m10-1h0m-12 8h0m2 3h0m4-3h0m-1 6h0m0 6h0m-6 7h0m3 3h0"/><path id="qkf" d="M252 304h0m-11 14h0m4 15h0m5 4h0m-7 2h0m-1-1h0m1 3h0m3 0h0m1 0h0m6 0h0m-15 11h0m1-2h0m4 9h0m-5-2h0"/><path id="qkg" d="M247 323h0m6 1h0m1-3h0m-9 8h0m-3-4h0m3 11h0m-2 0h0m8 11h0m-7 5h0m8 6h0m-6 0h0m-1 2h0m5 0h0"/><path id="qkh" d="M250 318h0m-7 6h0m3-4h0m4 14h0m0-4h0m6 7h0m-3 0h0m-9-1h0m-1 0h0m2 10h0m-1-1h0m-2 9h0m7-1h0m0 0h0m-2 3h0m-2 2h0m1 3h0"/><path id="qki" d="M261 248h0m0 15h0m4 1h0m-8 20h0m1-1h0m5 0h0m0-2h0m2 13h0m1-4h0m-5 5h0m-3 3h0m3 4h0m2 6h0m-4 0h0m0-3h0m-1 2h0m-6 0h0m5 7h0m0-1h0m2 0h0m3 0h0m8 3h0m-9 2h0m0-3h0m-1 1h0m-1-1h0m-1 2h0m-1 0h0m-4 6h0m0-2h0m13-1h0m-8 7h0m-3-2h0m-9 4h0m8 15h0m0 17h0"/><path id="qkj" d="M250 322h0m0 7h0m-2 3h0m10 4h0m-20 7h0m1 11h0m5-2h0m2-2h0m5 1h0"/><path id="qkk" d="M248 349h0m-2-2h0m-7 8h0"/><path id="qkl" d="M256 288h0m6 20h0m-5-1h0m-4 7h0m8 4h0m-11 0h0m3 8h0m-1 3h0m-3 0h0m0-4h0m4 9h0m2 4h0m0-2h0m-10 4h0m-1 9h0m-1 4h0m11 4h0"/><path id="qkm" d="M257 306h0m-5 7h0m0-1h0m5 5h0m-6 1h0m-1-1h0m0 1h0m4 6h0m5-2h0m-2 8h0m0 9h0m-8-3h0m3 10h0m-1 3h0m1 4h0m0 5h0m-1-3h0"/><path id="qkn" d="M258 281h0m-6 11h0m7 2h0m3-1h0m3 5h0m-5-3h0m-1 3h0m-4 3h0m1-1h0m2 3h0m1 0h0m1-3h0m4 1h0m-3 5h0m-1 0h0m-1-1h0m0 0h0m-7 1h0m-2 3h0m8 4h0m1 1h0m0-2h0m2 2h0m1 2h0m-1 2h0m-2-1h0m-9-2h0m1 6h0m1 1h0m2-1h0m3 1h0m8 7h0m-9-3h0m-3 1h0m-3 2h0m0-4h0m-1 9h0m17 2h0m-15 3h0m-9 0h0m9 5h0m7-2h0m-2 7h0m-1-4h0m-3 0h0m6 14h0"/><path id="qko" d="M233 346h0m-1 2h0"/><path id="qkp" d="M253 295h0m-5 5h0m-1 17h0m0 12h0m3 1h0m4 2h0m-5 10h0m3 10h0"/><path id="qkq" d="M264 271h0m0 4h0m-4 11h0m-1 2h0m-2 2h0m6 3h0m3-1h0m0 6h0m0-1h0m0-1h0m-4 1h0m-3 2h0m-2-4h0m-6 5h0m4 4h0m7-3h0m9 8h0m-5 0h0m-10-2h0m-4 1h0m1 2h0m5 2h0m4-2h0m2 2h0m1-2h0m1 0h0m-1 5h0m-1 2h0m-3-1h0m-3 0h0m-6 2h0m9 5h0m3 0h0m-15 2h0m10 12h0m-7 12h0m-8-4h0"/><path id="qkr" d="M257 288h0m-2 10h0m4 9h0m-5-2h0m1 9h0m-5 5h0m3 18h0m-6 2h0m7 3h0m4 8h0"/><path id="qks" d="M259 268h0m1 3h0m-5 13h0m10 15h0m-6-1h0m0-3h0m0 0h0m-9 6h0m9 3h0m6 4h0m-11-3h0m-5 2h0m2 6h0m5-2h0m6 6h0m-11 6h0m2 0h0m4-3h0m4 9h0m0-3h0m-9-1h0m7 27h0"/><path id="qkt" d="M245 347h0"/><path id="qku" d="M255 281h0m-6 13h0m4 5h0m0-3h0m-5 8h0m-10 2h0m17 8h0m0-3h0m2 2h0m-2 6h0m-1-4h0m-3 0h0m-2 4h0m-1-2h0m2 7h0m2-4h0m-4 5h0m0 1h0m0-1h0m-4 3h0m-5 3h0m3 4h0m-1 8h0"/><path id="qkv" d="M264 230h0m-1 29h0m0-4h0m-2 7h0m-7 11h0m1-2h0m3 3h0m4 0h0m0-2h0m2 1h0m-10 3h0m-3 4h0m6 4h0m1 2h0m-4 1h0m0 2h0m-6 0h0m5 4h0m0 1h0m0-4h0m12 8h0m-4-3h0m-4 1h0m-1 3h0m0 0h0m-1-2h0m-1-2h0m-1 2h0m-5 3h0m3 3h0m1-1h0m6 1h0m4 1h0m-12 3h0m-1 2h0m-2 3h0m4-1h0m5-1h0m-2 9h0m-2-2h0m-3-1h0m2 5h0m4 1h0m-3 4h0m-7 2h0m12 4h0m-6 3h0m-4 9h0"/><path id="qkw" d="M260 273h0m3 16h0m-5 5h0m2-3h0m9 5h0m-13 7h0m1 0h0m0-2h0m4 2h0m6 2h0m-3 2h0m-3 1h0m0 1h0m-2-3h0m-1 0h0m-3 1h0m-2 6h0m2-1h0m3-2h0m1 3h0m1-1h0m1 6h0m-3 1h0m0 0h0m-1 3h0m-7 9h0m5 0h0m-2 11h0"/><path id="qkx" d="M248 292h0m2 10h0m5 2h0m0 16h0m-5 12h0m7 3h0m-1 10h0"/><path id="qky" d="M252 291h0m-2 7h0m-2 3h0m4 1h0m2 6h0m-4 1h0m-1 4h0m11 4h0m-15-1h0m-6-1h0m6 8h0m6-2h0m3-1h0m1 4h0m-3 1h0m-1 1h0m-2-1h0m-4 4h0m0-3h0m-1 9h0m6 8h0"/><path id="qkz" d="M261 255h0m3 17h0m0 10h0m-5 3h0m4 13h0m-1 7h0m-5 4h0m-11-3h0m11 5h0m9 6h0m-5 1h0m-1 5h0m0-1h0m1 1h0m2 5h0m-2-1h0m-3 0h0m3 4h0m-8 10h0"/><path id="qla" d="M270 225h0m-8 26h0m2 3h0m-9 5h0m0 1h0m6 4h0m-3 3h0m1 4h0m4 3h0m-11 4h0m6 4h0m0 1h0m0 4h0m-1 1h0m-1-2h0m0-1h0m-3 8h0m0-1h0m5 1h0m1-3h0m1 9h0m-2 0h0m-3-3h0m-1 2h0m0 0h0m-1-3h0m-3 9h0m1-3h0m1 2h0m0-2h0m1 1h0m1 2h0m0-3h0m1 2h0m0-3h0m10 1h0m-7 7h0m0-3h0m-1 1h0m-6-1h0m-1 2h0m2 4h0m-1 7h0m2 3h0m0 0h0m5 0h0m-7 12h0m-4 6h0"/><path id="qlb" d="M269 234h0m-3 11h0m-4 9h0m2-1h0m1-3h0m0 8h0m0-1h0m-1 2h0m0-1h0m0-3h0m0 1h0m-3 0h0m-1 7h0m0-2h0m2 2h0m0-2h0m1 3h0m1-2h0m4 3h0m-6 4h0m-1-2h0m-3 6h0m0 1h0m1 0h0m1-1h0m1 1h0m1-1h0m3 0h0m0-3h0m1 5h0m-7 3h0m-3-2h0m1 8h0m1-3h0m0 0h0m1 3h0m0-2h0m0 0h0m2-1h0m4 2h0m-6 4h0m-2-2h0m-3 2h0m0 7h0m1 0h0m2-2h0m-1 5h0m-5-2h0m6 6h0m1-1h0m2 4h0m-2 5h0m-6 1h0m5 7h0m-1 3h0m-5 18h0m1 2h0"/><path id="qlc" d="M261 269h0m-2 2h0m0 12h0m2 0h0m-4 2h0m-10 9h0m3-2h0m3 2h0m4-1h0m1 1h0m4-3h0m-16 4h0m9 8h0m0-2h0m6 3h0m5-3h0m-6 5h0m-4-1h0m-4 1h0m-2 1h0m3 6h0m1-3h0m2 1h0m1 0h0m-5 4h0m-1 1h0m-1 2h0m-2-3h0m-4 7h0m9 0h0m-2 4h0m-4 9h0m-2 0h0m9 5h0"/><path id="qld" d="M253 276h0m-6 22h0m1 6h0m4-4h0m2 0h0m6 3h0m-8 2h0m-4 1h0m-1 2h0m-4-1h0m8 7h0m0-1h0m-1 4h0m-3 2h0m-1 2h0m2 0h0m1-1h0m2 0h0m1 9h0m-14 3h0m1 2h0m6-4h0m5 3h0m-9 3h0"/><path id="qle" d="M262 237h0m-4 42h0m6 1h0m-5 8h0m-10 8h0m6 7h0m5-1h0m-2 9h0m0 4h0m-5 2h0m8 5h0m-6 5h0m-2 1h0m6 5h0m4 2h0m-18 2h0"/><path id="qlf" d="M264 262h0m-3 21h0m1-3h0m3 9h0m-7 2h0m5 8h0m-4-4h0m4 9h0m5 3h0m-9 0h0m-4 0h0m2 6h0m4-3h0m-8 19h0m-3 7h0"/><path id="qlg" d="M258 309h0m-9 0h0m-3 9h0m10 9h0m-3 4h0m2 6h0m-1 1h0"/><path id="qlh" d="M267 277h0m-3 10h0m-5-1h0m-1 2h0m-3 1h0m7 2h0m0 8h0m-1-4h0m-3 2h0m-1 5h0m2 1h0m0 1h0m3 0h0m-8 6h0m10 4h0m2 2h0m-8 6h0m9 0h0m-10 6h0m-2-2h0m-1 5h0m4 2h0m0 5h0"/><path id="qli" d="M264 264h0m-7 5h0m-1-1h0m1 3h0m3-1h0m1 5h0m-1 0h0m-1 2h0m0-1h0m-2 3h0m-1-2h0m0 4h0m3 0h0m3 3h0m4 2h0m-7 2h0m-4-2h0m-2 3h0m7 3h0m1 1h0m-1 2h0m-2 4h0m0 0h0m-3-2h0m-1-1h0m-1 3h0m-2-1h0m-3-2h0m-1 4h0m2 1h0m4 3h0m0 0h0m4 2h0m-5 3h0m-9 2h0m3 3h0m5-1h0m3 1h0m1-1h0m0-1h0m1 0h0m-3 7h0m-4-1h0m0-2h0m-1 1h0m3 3h0m1 4h0m5-1h0m-4 3h0m-2 2h0m1 6h0"/><path id="qlj" d="M268 237h0m-5 3h0m1 3h0m1 5h0m-2 6h0m0-3h0m-2 5h0m-3 1h0m-2 4h0m2 1h0m1 2h0m2-3h0m4 2h0m0 6h0m-3-3h0m-1 1h0m-4 7h0m0-3h0m2 1h0m2 1h0m0-2h0m2-1h0m3 0h0m-2 7h0m0 1h0m-1-3h0m-3 1h0m-1 0h0m-7 6h0m4 1h0m0-1h0m0-2h0m2 2h0m2-1h0m7 5h0m-2 1h0m-3 0h0m-2-2h0m-6 4h0m-1 4h0m2-2h0m0-1h0m0 3h0m3-1h0m1-2h0m1 1h0m2-1h0m-6 8h0m-1-3h0m0 0h0m-2 3h0m-4 5h0m2 1h0m11-3h0m2 2h0m-6 2h0m-6 1h0m5 6h0m-5 21h0"/><path id="qlk" d="M255 311h0m3 0h0m2-1h0m-10 6h0m3 15h0"/><path id="qll" d="M251 288h0m7 7h0m-4 0h0m-4 8h0m0-2h0m3-1h0m3 0h0m2 5h0m-4 1h0m-1-1h0m-11 7h0m8 1h0m1-1h0m3 1h0m-8 4h0m-1 0h0m-2 2h0m1 1h0m6 4h0m3 2h0m-5-1h0m-3 1h0m3 4h0m6 1h0"/><path id="qlm" d="M256 292h0m3 14h0m-1 1h0m2 4h0m-2 6h0m1 13h0"/><path id="qln" d="M262 267h0m-4 10h0m0 11h0m-2-3h0m1 5h0m3 3h0m6 3h0m-6 0h0m-2 3h0m-1 0h0m-3 4h0m0 0h0m5 0h0m0-2h0m2 2h0m4 0h0m0 6h0m-1-1h0m-3 1h0m-1-2h0m-2 2h0m-2-1h0m-2-3h0m1 7h0m2 1h0m3 1h0m0-3h0m4 1h0m-8 7h0m2 1h0m5 1h0m3-1h0m-12 8h0"/><path id="qlo" d="M270 223h0m-1 2h0m-1 1h0m-2 4h0m3 8h0m-3-2h0m-2 8h0m4 0h0m-1 2h0m-3 1h0m1 5h0m2 6h0m0-2h0m-2 0h0m-1-1h0m-3 1h0m-1 0h0m0 8h0m4 0h0m0-3h0m2 5h0m-2 2h0m-7 1h0m1 5h0m3 0h0m1-2h0m1 7h0m-1 0h0m-1-3h0m-1 1h0m-5-1h0m-1 8h0m1-2h0m2-1h0m1 1h0m3 1h0m3 3h0m-4 0h0m-1 3h0m0-2h0m-2 2h0m0 0h0m0-3h0m-4 0h0m-1 2h0m-4 6h0m1-1h0m3 1h0m3-4h0m3 4h0m0-3h0m2 3h0m5 4h0m-5-3h0m-3 4h0m-1-3h0m0 0h0m-5 2h0m5 5h0m0-1h0m6 1h0m-2 6h0m-3-3h0m-5 1h0m2 6h0m1 0h0m1-1h0m-1 4h0m-6 2h0m10 7h0"/><path id="qlp" d="M265 264h0m-2 5h0m-2 3h0m2-1h0m0 8h0m-2 0h0m-1-3h0m2 12h0m-3 6h0m1 0h0m3-3h0m1 2h0m2-2h0m-3 8h0m-2-1h0m-1 6h0m-6 2h0m3 4h0m1 4h0m-1 10h0m4 2h0"/><path id="qlq" d="M268 256h0m-3 7h0m-3 4h0m7 12h0m-7-2h0m-6 4h0m10 4h0m-3 1h0m-2 8h0m5-1h0m1 0h0m-8 3h0m-2 2h0m7 2h0m6 0h0m-8 7h0m7 8h0m-5 0h0m1 8h0"/><path id="qlr" d="M267 240h0m-1 20h0m0 9h0m-5-3h0m1 7h0m3-3h0m1 1h0m-4 23h0m3-3h0m-2 18h0m-4 16h0"/><path id="qls" d="M258 305h0m-7 15h0"/><path id="qlt" d="M264 273h0m2 5h0m-3 3h0m1 19h0m0 7h0m-1-2h0m-2 10h0m-3 1h0"/><path id="qlu" d="M267 273h0m0 4h0m-4 1h0m-1 2h0m12 8h0m-11 4h0m0 3h0m-6 7h0m3 0h0m5 17h0"/><path id="qlv" d="M259 268h0m3 2h0m-2 5h0m-1 7h0m1 2h0m2 5h0m-2-1h0m5 6h0m-7 4h0m-2-1h0m0-1h0m5 7h0m-9 12h0"/><path id="qlw" d="M264 252h0m0 16h0m0 5h0m0 6h0m-3-1h0m2 4h0m7 7h0m-11-2h0m1 4h0m1 3h0m3 7h0m0-1h0m4 16h0"/><path id="qlx" d="M269 248h0m-5 5h0m0 8h0m4 4h0m-7 4h0m6 3h0m-7 6h0m-1 0h0m10 7h0m-13 1h0m7 6h0m0-1h0m0 13h0m0-3h0m-3 8h0m0 4h0"/><path id="qly" d="M265 243h0m3 6h0m-1 5h0m-7 13h0m7 6h0m1-2h0m-11 7h0m6 5h0m0-3h0m1 0h0m2 3h0m5 3h0m-7 1h0m-6 8h0m-1 9h0m5 0h0m1-3h0m2-1h0m-1 7h0m-4 6h0m1 6h0"/><path id="qlz" d="M268 229h0m-3 5h0m1-4h0m1 6h0m-1 2h0m-3-1h0m8 9h0m-5 0h0m-5 1h0m-2 7h0m1-2h0m2 1h0m2-1h0m1 3h0m-2 0h0m-2 0h0m-3 3h0m1 2h0m1 0h0m3 1h0m1 3h0m1 2h0m-4 3h0m-1-4h0m-3 4h0m-2 1h0m3 0h0m9 3h0m1-3h0m-8 9h0m0-2h0m-2 0h0m0 2h0m0-1h0m-1 4h0m1-1h0m1-1h0m3 3h0m0 4h0m0 1h0m-1-2h0m-3 4h0m1 3h0m1-2h0m1 0h0m1 0h0m1 1h0m4-1h0m-6 5h0m-1 3h0m-3-4h0m-7 5h0m2 3h0m1 0h0m4-3h0m9 1h0m-10 4h0m-2 6h0m2 2h0m0 0h0"/><path id="qma" d="M269 314h0"/><path id="qmb" d="M269 255h0m-6 19h0m-6 37h0"/><path id="qmc" d="M267 246h0m-4 18h0m0-2h0m2 2h0m-4 10h0m5-3h0m1 2h0m-1 6h0m-3 0h0m-2 0h0m0 1h0m2 1h0m1 1h0m1 2h0m-1 5h0m-4 3h0m2 2h0m5-4h0m0 8h0m-4 7h0m-2 8h0"/><path id="qmd" d="M271 225h0m-6 7h0m4 2h0m0-2h0m1 5h0m-6 6h0m1-2h0m0-1h0m1 3h0m4 1h0m-2 2h0m-1 1h0m-2 2h0m0-1h0m-1-2h0m-1-1h0m0 8h0m1 1h0m2-4h0m0 8h0m-1-2h0m0-1h0m-1 2h0m0-2h0m-1 0h0m-1 1h0m-3 7h0m2-2h0m2-1h0m1 0h0m1 3h0m0-3h0m3 9h0m-1-3h0m0 1h0m-2 1h0m0-2h0m-2 2h0m-1-3h0m-2 7h0m0-1h0m1 0h0m1 0h0m0 1h0m0-2h0m2 1h0m1-1h0m1 1h0m2-1h0m1 4h0m-7 1h0m-1 3h0m-3 6h0m2 0h0m1-1h0m0-3h0m1 9h0m-7 1h0m3 2h0m2 1h0m4 6h0m0-1h0m-6-2h0m-2 12h0"/><path id="qme" d="M271 221h0m0-1h0m-2 9h0m-3 3h0m2-1h0m1 3h0m-5 3h0m1 6h0m0-2h0m1 2h0m1 1h0m1-1h0m-2 4h0m-2 2h0m0-1h0m0 4h0m1-1h0m5 6h0m-4 1h0m0 0h0m0-1h0m-1-1h0m-3 0h0m-2 4h0m2 1h0m3 0h0m2 8h0m-4-4h0m-1 6h0m1-1h0m0 0h0m2 1h0m0-1h0m1 1h0m-3 6h0m-2 1h0m0 1h0m0 0h0m-1 1h0m1 0h0m0 5h0m-4 1h0m-2 0h0m2 6h0m1 1h0m0 0h0m4-2h0m2-1h0m-2 6h0m-4 3h0m-1-3h0m-2 1h0m4 6h0m4 4h0"/><path id="qmf" d="M268 245h0m-2 18h0m-2 8h0m2 1h0m1 1h0m3 3h0m-2 1h0m2 7h0m4 8h0m-8 15h0"/><path id="qmg" d="M267 249h0m-1 28h0m3 20h0m-3 8h0"/><path id="qmh" d="M268 228h0m0-1h0m0-2h0m0 8h0m2 6h0m-2-2h0m-1 0h0m0-2h0m-3 8h0m2 0h0m2-1h0m-4 7h0m0-3h0m-3 4h0m3 1h0m2-1h0m1 1h0m0 0h0m0 5h0m-4 3h0m0-3h0m0-1h0m-1 3h0m0-3h0m-1 2h0m-1-1h0m0-1h0m1 6h0m2 2h0m0-2h0m0-1h0m1 3h0m2-3h0m-1 8h0m0 0h0m0-3h0m-1 0h0m-1 4h0m-1 0h0m-2 5h0m0-4h0m0 2h0m0-1h0m1-1h0m5 0h0m-3 6h0m-1-1h0m-4 0h0m0 7h0m1-1h0m3 3h0m0-2h0m1 2h0m4-1h0m3 1h0m-4 1h0m-5 4h0m-1-2h0m-2-1h0m6 8h0m6-3h0m-3 8h0m-1 0h0m-8-3h0m-8 0h0m14 8h0"/><path id="qmi" d="M269 222h0m2 3h0m-2 3h0m0-1h0m0-2h0m-1 0h0m-2 1h0m1 6h0m3 2h0m2 0h0m-2 2h0m-1 3h0m-1 0h0m-2 0h0m-2 4h0m0-3h0m1 3h0m4-3h0m-3 6h0m0 0h0m-3 3h0m-1 2h0m2 0h0m1 3h0m0 2h0m0-1h0m-2 4h0m0-1h0m-1 0h0m-1 6h0m2-2h0m0 0h0m0 0h0m1 2h0m1-4h0m2 5h0m-2 3h0m0-3h0m-1 2h0m0-2h0m-1 4h0m-1-1h0m-4-3h0m-1 4h0m-1 3h0m4 0h0m2 0h0m1 2h0m1-2h0m1-2h0m3 0h0m-5 9h0m-1-2h0m-2 2h0m-1 0h0m0-4h0m0 0h0m2 8h0m3-1h0m1 0h0m0 0h0m3-1h0m-3 6h0m-5 2h0m-1 1h0m2 0h0m0 9h0m-3 0h0m-4 2h0m3 1h0m0-2h0"/><path id="qmj" d="M265 250h0m1 24h0m2-4h0m1 12h0m-3 9h0m-3 11h0"/><path id="qmk" d="M271 229h0m-2 3h0m-3 21h0m-1 5h0m1 3h0m-3 28h0m4 10h0m-4 1h0"/><path id="qml" d="M252 298h0"/><path id="qmm" d="M275 216h0m-4 10h0m-1 2h0m0-2h0m-2 1h0m-1-1h0m0 5h0m0 0h0m0 0h0m1 0h0m0 1h0m2-2h0m0 7h0m-1 2h0m0-3h0m-1 1h0m0-2h0m-2 4h0m1 2h0m0 0h0m2 2h0m0-3h0m1 4h0m1 3h0m-3-2h0m-1 2h0m-2 0h0m-1 4h0m2-1h0m1 3h0m0-3h0m-5 10h0m2 0h0m4 1h0m-3 7h0m-4-3h0m-1 3h0m1 5h0m2 0h0m6 5h0m-6 2h0m3 0h0m0 5h0m-1 3h0m0-3h0m-1 7h0m1 3h0m-2 4h0"/><path id="qmn" d="M272 215h0m-3 5h0m1 3h0m1 6h0m-2-1h0m-1 1h0m0-2h0m1 6h0m1 0h0m0-2h0m0 6h0m-1 1h0m-3-3h0m-1 8h0m1 0h0m0-3h0m1 1h0m5 1h0m-4 6h0m-1 0h0m-1-2h0m-2 5h0m7 2h0m-3 4h0m-2-2h0m0 0h0m-1 1h0m-3 2h0m3 6h0m10 5h0m-7-3h0m-7 7h0m4-1h0m0-2h0m1 2h0m4 1h0m-18 16h0"/><path id="qmo" d="M268 247h0m-1 7h0m-1 9h0m1 0h0m-4 9h0m-1 15h0"/><path id="qmp" d="M269 258h0m-5 30h0"/><path id="qmq" d="M271 215h0m-1 8h0m0-3h0m0 0h0m1 4h0m0 0h0m0-4h0m1 2h0m-2 3h0m-2 9h0m0-2h0m1-2h0m2 3h0m0-2h0m-1 5h0m-2 3h0m0-1h0m-4 3h0m4 2h0m1 3h0m-1-1h0m-2 3h0m-2 4h0m2-2h0m1 1h0m2 3h0m1-4h0m-2 9h0m-1 0h0m-1 0h0m0 0h0m0-4h0m-1 4h0m-5 4h0m10-2h0m4 1h0m-7 5h0m0-1h0m-2 2h0m0-2h0m-4 4h0m7 2h0m1 2h0m1 2h0m-5 0h0m-3 1h0m-1 1h0m3 3h0"/><path id="qmr" d="M272 245h0m-6 2h0m-1 32h0"/><path id="qms" d="M273 218h0m0 1h0m-2 0h0m-1 7h0m0 1h0m-1-1h0m-1 2h0m0 3h0m3 3h0m-3 5h0m-1 5h0m1-4h0m1 1h0m1 6h0m0-1h0m-1 2h0m-2 0h0m0-3h0m-4 4h0m7 1h0m1 1h0m-3 6h0m-1 1h0m-3-1h0m-2 7h0m0-1h0m3-1h0m1-1h0m0 7h0m0 0h0m-2 4h0m2-2h0m0 0h0m2 4h0m1 0h0m-4 2h0m0 1h0"/><path id="qmt" d="M234 86h0m-41.3 4.5h0m-11.1 4.1h0m35 4.4h0m-4.7 12.4h0m27.7 4.9h0m-5.1 6.7h0m-18.8 4.6h0m22 10.6h0m-31.2-1.5h0m-8.7 25.2h0m-.6 7.1h0m-24.4 15.9h0"/><path id="qmu" d="M31.1 71.4h0m9.7.1h0m25.4 7.5h0m-5.8-1h0m-16.4-3.1h0m-9.4-2.5h0m-5.2 11.3h0m1.9-2.3h0m9.5 2h0m9.2.4h0m.8-3.5h0m4.4 6.2h0m2.8-6.3h0m2.7 2.8h0m4.6 11.2h0m-6.1-2.9h0m-6.5-3h0m-.1 6.1h0m-8.8-4.2h0m-6.5-.4h0m-4.5 3.2h0m-1.6-1.8h0m-1.6 1.7h0m-6.7-1.8h0m7.5 9.5h0m6.7-.1h0m2.9-1.7h0m3.2 2.3h0m15.7-2.7h0m8.7 4.1h0m-6.5 1.5h0m-8.5 7.2h0m-14-5.4h0"/><path id="qmv" d="M133.9 32h0"/><path id="qmw" d="M195.8 23.4h0m-13.5 5.7h0m-22 9.9h0m48.7 8.9h0m11.8 6.5h0m-68.2 14.8h0m60.2 1.5h0m-16.5 6h0m-8.7 8.9h0"/><path id="qmx" d="M112.7 99.1h0m48 28.8h0m-31.3 9h0m-2.7 3.8h0m-5-1.4h0"/><path id="qmy" d="M161.8 110.6h0m-30.9-3.6h0m-8.7 5.3h0m41.3 21.1h0m-45.1 2.7h0"/><path id="qmz" d="M77.8 98.7h0m-2.5 14.8h0m11.5 10.4h0m-24.9-3.6h0m39.6 12.1h0m2.8 4.8h0m-29.7-.6h0"/><path id="qna" d="M186.5 57h0m-5.7 20h0m23.5 6.6h0"/><path id="qnb" d="M90.2 61h0m-39.2 53.3h0"/><path id="qnc" d="M209.4 78.6h0m37.7 9.2h0m-3 2.4h0m-5.7 5.6h0m-24.1-3.1h0m-25.3-.7h0m-13.7 5.6h0m14.7 4.2h0m66.3 8.6h0m-22.5 1.6h0m14.7 13.6h0m-32.8-1.8h0m-2.5 6.8h0m5.2 1.1h0m6.1-1.1h0m-2.3 11.8h0m-3-3.5h0m-.5 3.5h0m-11.2-2.3h0m-14.7 1.6h0m40.2 8.3h0m4.5-1.9h0m-11.3 9.6h0m-5.2.1h0m-15.9 1.2h0m-12.3 7.7h0m4.2-1.6h0m8.1 6.9h0"/><path id="qnd" d="M137.3 86.8h0m-11.5 5.9h0m8.5 10.1h0m9.1 3.8h0m-11.3 40.8h0"/><path id="qne" d="M135.9 156h0m41.9 21.1h0"/><path id="qnf" d="M80.6 60.2h0m-2.9-3.3h0m-10.7 5.9h0m6.5 4.6h0m1.2 4.4h0m26.6 19.7h0m6.1 9.2h0m-8.9 11h0m-3.7-3.6h0m-23.9-.3h0m-12.2 10h0m50-1.2h0m-40.6 3.9h0"/><path id="qng" d="M90.2 141.5h0"/><path id="qnh" d="M197.1 31.4h0m-8.2-.4h0m3.9 12.1h0m-4.2 19.1h0m-18.4 7h0"/><path id="qni" d="M202.4 87.5h0m31.8 5.6h0m-3.4 16.3h0m-16.6-3h0m-26.3 2.6h0m30.9 16.6h0m-14.7 5.4h0"/><path id="qnj" d="M187.2 121.4h0m-4 34.8h0m-36.7 6.4h0m64.6 1.2h0"/><path id="qnk" d="M96.9 134h0m-1.9 8h0m26.7 2.6h0"/><path id="qnl" d="M223.6 76.1h0m-8.8 26.8h0m-5 13.7h0"/><path id="qnm" d="M171.3 7.9h0m-41.3 30.8h0m24 38.4h0"/><path id="qnn" d="M213.1 30.8h0m-46.8 8.2h0m8-.2h0m-18.2 25.7h0m17.6 11h0"/><path id="qno" d="M200 108.6h0"/><path id="qnp" d="M233.8 78.9h0m-6.4 1h0m-13.2 3.7h0m-12.5 11.6h0m-5.7-2.8h0m-2.1 8.3h0m42.9.7h0m4-1.9h0m-10 6.6h0m-3.1 1.7h0m-30.7-2.4h0m-12.1.3h0m-2.5 3h0m17.1 6.1h0m.1 3.7h0m44.8-2.7h0m7 3.5h0m2.4-4.8h0m-10.9 7.2h0m-19 4.6h0m-6-6.1h0m-26.1-.2h0m-6.4 12.7h0m8.9 0h0m42.5 1.1h0m4.1-5.7h0m-25.5 8.2h0m-.2 5.4h0m-20.3-3.7h0m-19.8 6.2h0m27.6 1.9h0m21.4 8.4h0m-26.1.4h0m-6.2 7.7h0"/><path id="qnq" d="M199.3 85.5h0m25.9 3.9h0m-4.8 6.3h0m-7.3-7.6h0m-10.5 3.1h0m-19.9.1h0m10.8 6.2h0m6.3 1h0m4.7-.1h0m4.1 4.4h0m12.8-3.1h0m2.3 3.2h0m1.7-4.4h0m30.5 4.9h0m-3.4 4.4h0m-8.7 4h0m-9.9-5.1h0m-37.5 2.9h0m-7.4 6.1h0m31.7-.8h0m16.7 3.9h0m8.6 8.9h0m-18.2-1.7h0m-23-2.5h0m-5.4-1h0m-4.1-2.4h0m-3.7 4.8h0m6.9 5.6h0m46.1 1.1h0m-11.2 6.2h0m-30.9.2h0m-4.7 5.1h0m-7 1.2h0m3.5 3.1h0m14.2 3.1h0m24.5-6.3h0m1.9 9.2h0m-25.9 1.6h0m-3.4-1.9h0m-10.4 6.3h0m12.1 5.1h0m-17.3 8.5h0m-25.1 11.5h0"/><path id="qnr" d="M137.3 161.7h0"/><path id="qns" d="M171.2 81.7h0m9 3.8h0m59-4.5h0m8.2 12.1h0m-11.9-3.3h0m-20.2 6h0m-2.5 4h0m7.5 3h0m8.8-2h0m21-1h0m-6.3 7.4h0m-52.2 4.2h0m40.6 15.6h0m-20.1-3.5h0m-21.8 5.5h0m50.6 5.9h0m10.7.2h0m-39.9 5.8h0m-11.1 0h0m29.1 13.4h0m-39.3-1.1h0m-5.4 6.2h0m-1.1 8.4h0m1-4.9h0m14.9 4.4h0m9-6.4h0m2.7 6.1h0m-28.8 17.4h0"/><path id="qnt" d="M69.5 66.9h0m25.2 22.9h0m-25 14.7h0m-2.9 9.6h0m17.1-1.7h0"/><path id="qnu" d="M195.3 15.5h0m-6.5-3.7h0m-5.3 6.3h0m24.7 5.2h0m-75.4 3.8h0m10.3 15.2h0m3.3 7.2h0m33.5.1h0m44.8 9.2h0m-21 1.4h0m-10.2.1h0m-16.2 9.6h0m49.3-1.2h0m11.5 7.2h0m-20.8-3.3h0m-12 3.4h0m-11.4 6.4h0"/><path id="qnv" d="M150.2 17.6h0m23.1 11.6h0m43.2 26h0m-34 16h0m-35.4 8.2h0m-6.6-3h0"/><path id="qnw" d="M206.5 87.7h0m31.7-2.6h0m13.2 6.7h0m-54.9 4h0m-16.6 4.5h0m44.9 6.4h0m-2.2 4.9h0m-12.1-4.3h0m-4 .7h0m-30.2 7.4h0m27.5 3h0m27.5 1.3h0m23.5 4.4h0m-3.4-1h0m-49.7 10.9h0m7.8-3.6h0m11.6 4.2h0m14.9-5.4h0m11 5.3h0m1.7-3.6h0m-9.6 12.5h0m-13.7-1.8h0m-2.4-2.4h0m-18.9 3.1h0m-21.5 6.4h0m9.9 1.7h0m27.8 1.2h0m6.4-4.9h0m1.2 3.4h0m-8.3 4.5h0m-19.2 9.3h0m-2.4 9.1h0m-5.1-2.9h0"/><path id="qnx" d="M141 37.2h0m11.2 2.1h0"/><path id="qny" d="M137.8 25.6h0m48.8 14.2h0m30 1.6h0m-29.1 7.2h0m15.8 1h0m13.2.1h0m-60.6 7.8h0m32.1 16.7h0"/><path id="qnz" d="M95.2 61.1h0m16.9 12.4h0m-22.2 6.2h0m14.7 3.3h0m-15.7 5.3h0m-4.9 1.9h0m7.4 16.6h0"/><path id="qoa" d="M117.3 55.8h0m1.4-7.5h0m4.3.9h0m-18.8 7.2h0m-1.8 11h0"/><path id="qob" d="M134.3 19.5h0m19.8 1.8h0m20.9 3.1h0"/><path id="qoc" d="M165.7 171.3h0m-13.3 0h0m-2.1 3.9h0"/><path id="qod" d="M134.6 96h0m20.1 2.1h0m-37.1 10.7h0m43.9 34.4h0m-7.3-1.3h0"/><path id="qoe" d="M155.5 15.9h0m3.4 5.7h0m27.6 4.6h0m-35.4 26h0m58.9 8.7h0m-75.4 5.5h0m70.5-1.3h0m2.1 6.6h0m-43.5 8.6h0m13.7 1.3h0"/><path id="qof" d="M74.3 60.8h0m12.9 49.8h0m-5.9-1.1h0m-3.3.8h0"/><path id="qog" d="M86.5 64.9h0m-7.8 7.4h0m7.6 11h0m-8 11.4h0m-5.4 15.5h0m4 6.5h0m2.7-3.6h0m10.6 2.1h0m4.7 3.1h0m-19.6 9.5h0"/><path id="qoh" d="M204.2 44.4h0m-79.1 30.9h0"/><path id="qoi" d="M139.3 18.7h0m49.7-.1h0m40.2 43.7h0m-57.1-.2h0m51.5 2.3h0"/><path id="qoj" d="M115.9 127.1h0m.9 13.5h0m-29.7 6.8h0"/><path id="qok" d="M98.6 39.1h0"/><path id="qol" d="M100.2 44.3h0m38.5 7.2h0"/><path id="qom" d="M56.6 69.6h0m7.9.5h0m-1 9.7h0m-27.5-5.4h0m-10.4-.3h0m1 11.5h0m21.9-5.5h0m10 3.4h0m3.3 2.5h0m2.9 5.6h0m-20.4 2.8h0m-7.4-.8h0m-9.9-.9h0m20.1 9.4h0m6.9 4.8h0m-1.6 1.9h0m-15.1-.7h0"/><path id="qon" d="M178.7 154h0m-47.3 7.5h0m8.6 4h0m25.9 0h0m13.8 2.8h0"/><path id="qoo" d="M148 167.7h0m-3 4.3h0m6 10h0"/><path id="qop" d="M222.1 92.6h0m-4.3.6h0m-7.3 2h0m-.9-6.8h0m-1.4 3.9h0m-45 .9h0m36.3 9.5h0m45.4.5h0m-4.4 8.6h0m-14.7-1.3h0m-37.2-4.7h0m-20.8 10.3h0m34.6-3.9h0m14.3 4.5h0m7.5 2.1h0m5.7-5.8h0m7 .2h0m19.3 5.8h0m-7.8 3.1h0m-2.7 1.9h0m-8.1 2h0m-29.1-1.7h0m-3.7 3.6h0m-9.6-4.1h0m12.4 9.5h0m22.5-2.8h0m8.9 0h0m12.4-2.4h0m-5.5 9.8h0m-15.9 0h0m-1.5 4.7h0m-37.3-5h0m-9.7 3.1h0m15.7 10.8h0m19.4 2.4h0m-3.5 4.5h0m-27.5-5.2h0m18 11.7h0m15-4.9h0m4.6 1.7h0"/><path id="qoq" d="M118.6 161.3h0"/><path id="qor" d="M114 24.2h0m2.1 27.6h0m4 12.9h0"/><path id="qos" d="M108 145.9h0m19.1 8.8h0"/><path id="qot" d="M103.9 76.1h0m78.8 27.2h0m-.8 24.5h0m-44.1 21.6h0"/><path id="qou" d="M146.9 22h0m45.3 4.8h0m-49.3 5.3h0"/><path id="qov" d="M123.2 161.8h0m2.2 4.3h0"/><path id="qow" d="M129.5 94.8h0m17.5 7h0m6.8 25h0m-11 3h0m26.4 6h0m19.9-2.3h0"/><path id="qox" d="M150.4 107.7h0m-22.2 3.3h0m-15.4.9h0"/><path id="qoy" d="M172.3 52h0m7 10.9h0"/><path id="qoz" d="M219 85.1h0m-39 32.5h0m67.8.3h0m-7.7 4.6h0m-29.8 4.5h0m-9.8-.8h0m13.5 21.4h0m4.3-1.6h0m27.5-.7h0m-46 13.4h0m-18.4 5.1h0m34.1 5.5h0m-6.9.5h0m-5.6-1.4h0"/><path id="qpa" d="M160.6 8.9h0m13.3 11h0m51.7 102.4h0"/><path id="qpb" d="M83.4 73.9h0m-2.8 3.5h0m-11.5 33h0m11.5 12.2h0"/><path id="qpc" d="M201.8 18.1h0m-24.2 14.3h0m4.2 22.2h0m-19.3 10.5h0"/><path id="qpd" d="M113.2 81.9h0m7.1 1.4h0m46.8 2.3h0m-5 2.4h0m-13.5 4.1h0m-25.6-2.9h0m40.7 8.3h0m6.4 3.5h0m-34.2 25.1h0"/><path id="qpe" d="M123.5 107.7h0"/><path id="qpf" d="M92.7 85.6h0m-2.5 26.2h0m-39.6 7.7h0m51.3-6.3h0"/><path id="qpg" d="M196.6 86.8h0m43.5 20.6h0"/><path id="qph" d="M177 109.4h0m-4.5 18.4h0m-33.7 16.3h0"/><path id="qpi" d="M70.2 70.9h0m33.3 53.7h0m-38.5-3.8h0"/><path id="qpj" d="M105.3 111.3h0m50.1 6.8h0m9.3 6.4h0m-39.8 9.4h0m32.8-.8h0m-4.7 3.3h0"/><path id="qpk" d="M144.4 17.8h0m-2.6 47.4h0m3.2 4.2h0m34.1 20.1h0"/><path id="qpl" d="M208.8 85.2h0m19 1.3h0m15.5 9.1h0m-2.1-7.5h0m-1.9 3.4h0m-8.8-2.3h0m-6.8 6.2h0m-5.8-6.5h0m-11.8 6.2h0m-6.7-4.8h0m-30.5 2.8h0m34.8 10.8h0m5.1-5.3h0m31.8 4.9h0m9.1.4h0m4-7.5h0m-60.7 10.1h0m-6.8 5.7h0m26.5 6.7h0m21.7-1.3h0m6.6 1.6h0m7.9-4h0m-13.3 26.9h0m-54.2-4.9h0m4.5 8.1h0m5.2 2.2h0m15.4-.2h0m15.5 1.3h0m1.8-3.2h0m-31.8 13.6h0m-14.8 5.3h0m25.5-2.9h0m13 .8h0m3.3 2.8h0"/><path id="qpm" d="M222.2 86.3h0m-36.7 12.2h0m43 5.3h0m2.7-7.6h0m16.4 13h0m-26.7-.8h0m-4.1.5h0m-31.9 8.5h0m8.6-.4h0m13.4-4.4h0m6.8 2.2h0m-4.7 5.9h0m-27-.6h0m-.2 12.4h0m60-1.6h0m-33 13h0m-9.5 2.4h0m24.7 5.4h0m5.9 7.1h0m-16.4-6h0m-11.7 2.3h0m-13.8 11.9h0m.1-6.1h0m-1.4 13.8h0"/><path id="qpn" d="M153.8 91.3h0m11.7 16.2h0m-8.8 6.1h0m11.6 45.5h0"/><path id="qpo" d="M65.4 75.5h0m-7.9.1h0m-3.3-.1h0m-3.6 2h0m-11.8-3.8h0m-11.9 4.4h0m-1.3 3.6h0m6 3.6h0m9.9.7h0m2.4.1h0m3.7-.3h0m11.5.7h0m4.8-4.4h0m9.7 9.2h0m-5.2 2h0m-.1-4.8h0m-5.6 4.1h0m-2.3.5h0m-4.5-.3h0m-3.8-1.9h0m-5.7 2.4h0m-15.9-4.6h0m-2.2 1.1h0m3.7 8.7h0m5.5-.7h0m1.3 4.5h0m2.8.3h0m12.3-1.1h0m10.2-5.2h0m3.2 3.6h0m0-3.5h0m3.1 4h0m.1-3.5h0m-20.5 12h0m-2.1-1.5h0m-2.9 2.7h0m-5.8.6h0"/><path id="qpp" d="M228 94.7h0m-42.3-.2h0m64.2 17.4h0m-31.5-6.7h0m8.4 10.3h0m14.7 9.7h0m-42.7 10.7h0m34.7-3.9h0m-22.7 4.3h0m16.3 16.7h0m-25.4 22.1h0m-6.1 3h0"/><path id="qpq" d="M172 88.8h0m-42.6 13.8h0m41.5 7.5h0m-24 5h0m25.2.2h0m13.6 10.6h0m-65.8 5.2h0m52.2 8.9h0m-12.3 7.3h0m4 3.4h0m13.4-2.5h0m-3.5 6.1h0"/><path id="qpr" d="M151.7 8.8h0m11.8 14.6h0m5.6-.9h0m1.6 12.6h0m13.4 0h0m26.2 1.5h0m-60.3 8.5h0m14.9 26.9h0"/><path id="qps" d="M37.6 71.7h0m12.9-3.9h0m3.2 1.1h0m7.2 2.9h0m12.2 6.4h0m-17.7-.2h0m-8.7-3.6h0m-6.2 5.5h0m-10.8-2.8h0m-5.8 7.1h0m4.9-3.6h0m5.7 3.3h0m11 .4h0m6.8 0h0m1.1-3.9h0m11.3 3.9h0m5.2 1.9h0m1.1-3h0m-9.7 12.6h0m-4.5-5.2h0m-33-2.4h0m50.7 12.1h0m-12.4 7.1h0m-16.7-.8h0m-2.8.9h0m3.2 5.2h0"/><path id="qpt" d="M89.8 83.8h0m8.1 5h0m-14.6 13.6h0m9.3.3h0"/><path id="qpu" d="M76.6 64.2h0m8.7 22.8h0m14.7 8.8h0m-36.8 20.4h0m7.5 2.8h0m7.3.9h0m4.8-4.3h0m23.1 5.6h0m-14.4-.7h0m7.1 18.2h0"/><path id="qpv" d="M115.1 117.4h0"/><path id="qpw" d="M98 62.5h0m-5.8 7.1h0m1.1-3.6h0m5.7 6.5h0m-12.6 7.2h0m15.5 5.7h0m-13.6 19.8h0m-8.5 11.2h0m5 2.3h0m15-1.6h0m-25.2 3.1h0m-2.8 4.2h0m-16.4-2.8h0"/><path id="qpx" d="M91.5 50.6h0"/><path id="qpy" d="M244.1 85.3h0m-53.4 9.7h0m-1.5 2.9h0m57.8-.3h0m-52.2 15.8h0m35 34.2h0"/><path id="qpz" d="M116.5 85.2h0m47.8 54.2h0"/><path id="qqa" d="M89.6 66.7h0m6.7.9h0m-5.1 8.8h0m-8.7 21.4h0"/><path id="qqb" d="M120.9 121.1h0m11.7 10h0m28.4 24.6h0"/><path id="qqc" d="M144.3 85.6h0m21.5 4.2h0m-8.1 4h0m-38.9-3.5h0m32.4 26h0m32.6-2.1h0m-56.2 7.7h0m57.4 17.1h0m-57.6 6.4h0m22.8 1h0m32.3 5.5h0m6.3-1.8h0m5.3 5h0"/><path id="qqd" d="M107.6 38.2h0m-.6 5.4h0"/><path id="qqe" d="M135.4 39.4h0m71.8 17.6h0m-9.4.3h0"/><path id="qqf" d="M107.8 51.9h0m4.5-1.8h0m13.6 3.7h0"/><path id="qqg" d="M104.9 64.3h0m9.4 1.9h0"/><path id="qqh" d="M137.2 109.9h0"/><path id="qqi" d="M59.8 63.9h0m17 12.4h0m23.1 4.8h0m3.6 24.9h0m-49.1 9.9h0m40.3-1.3h0m-27 13.1h0"/><path id="qqj" d="M82 141.3h0m42 7.2h0"/><path id="qqk" d="M216.8 66.7h0m-59.1 104.8h0"/><path id="qql" d="M108.7 153h0m10.8 14.7h0"/><path id="qqm" d="M182.2 6.5h0m-3.7 7.6h0m-4.7.1h0m-12.8 1.5h0m7.9.6h0m31.8 11.5h0m5.3 4.7h0m-9.1 7.5h0m-25.5 3.2h0m22 8.6h0m16.6.7h0m14.4-3.7h0m-58.2 10.1h0m18.5 6.5h0m8.9 5.3h0m16.1-3.6h0m26.2-2.1h0m9.3 11.6h0m-13.5-2.3h0m-18.3 1.1h0m-24.1 3.8h0m2.3 6.5h0m9.8-5.2h0"/><path id="qqn" d="M146.7 110.6h0m-7.3 24.9h0m40.5 8.1h0"/><path id="qqo" d="M94.9 125.7h0m-10.4 9.1h0m23.8-2.6h0m-14.2 18.3h0"/><path id="qqp" d="M156.7 28h0m23.3 11.4h0m-39.9 32.3h0m62.3.9h0m-34.2 4.5h0"/><path id="qqq" d="M45 70.5h0m7.1.1h0m9-1.6h0m3.4 8.6h0m-3.4-2.6h0m-13.8 2.2h0m-1.3 2.4h0m-4.9-4.5h0m-3.6 4.2h0m-3.4-3.5h0m2.4 10.5h0m10.5-4h0m22.3-2.2h0m3.5 7.1h0m-2.1 6.4h0m-9.3-4.4h0m-13.2 6.5h0m-13.1-.8h0m18.2 4.3h0m6.4 3h0m2.3-2.5h0m1 2.7h0m2.3-1.4h0m-9.1 8.9h0m-.6-4.4h0m-13.6 4.2h0"/><path id="qqr" d="M52.3 74.2h0m-8.8-1.8h0m-4.2 4.3h0m-4.3 5h0m21.4.8h0m12.1 1.8h0m-10.7 4.3h0m-8 3.7h0m-9.4-1.8h0m-12.2 9.8h0m7-2.8h0m4.4-1.1h0m5.5 3.4h0m.1 3.7h0m4.7-5.9h0m1.2 2.1h0m14.1-1.1h0m-14.4 6.4h0m-7.2 0h0m-8.3.2h0m-2.3-.7h0"/><path id="qqs" d="M174.7 103.4h0m-28.5 46h0"/><path id="qqt" d="M175.4 92.9h0m10.8 9.1h0m30.7 10.3h0m-31.3 37.6h0"/><path id="qqu" d="M127.3 14.8h0m-5.6 17.2h0m-9.5 14h0m-19.8-3.3h0m4.5 11h0m12.8 11.8h0"/><path id="qqv" d="M142.3 24.2h0m6.7 10.1h0m27.1 10.9h0m-8.6 1.4h0m-32.7-.8h0m26.1 7.7h0m-17.1 5.6h0"/><path id="qqw" d="M112.2 31.4h0m-26.6 24.3h0m20.2 5.5h0"/><path id="qqx" d="M121.6 103.7h0m36.6 1.1h0m-13.8 19.7h0m-32.9-4.1h0m60.6 11.7h0m5.1 4h0"/><path id="qqy" d="M82.9 81.4h0m31.2 51.3h0m-22.8 3.4h0"/><path id="qqz" d="M105.8 114.7h0m2.6 13h0m-8.8.1h0m-2.2-6.2h0m-13.5 7.3h0"/><path id="qra" d="M42.2 81.4h0m2.2.6h0m10.2 2h0m2.4 1.1h0m-23.3 5.6h0m24.6 16.6h0"/><path id="qrb" d="M149.8 87.1h0m7.1.5h0m-15.9 9.8h0m10.1 14.6h0m17.7 33.2h0"/><path id="qrc" d="M120.7 19.6h0m7.7 30h0m-30.3 9.8h0"/><path id="qrd" d="M37.6 69h0m10.6 1.8h0m20.9 6.6h0m-32.1-.6h0m-2.2 2.5h0m-2.5-1.6h0m-9-.2h0m5.8 8.5h0m16.5 1.8h0m4.2-1h0m11.7-5.9h0m4.9 5.9h0m4.1 3.1h0m-22.7-.2h0m-12.6-.7h0m-9.2 6.2h0m1.8 2.4h0m5.4-1.4h0m14.3 2.1h0m8.9 3.3h0m10.2 6.2h0m-7.1 2.5h0m-11.7-5.8h0m-7.7 3.5h0"/><path id="qre" d="M164 102.1h0m-52 2h0m20.3 9.9h0m48.2 9.9h0m-58.5 2.3h0m47.8 24.1h0"/><path id="qrf" d="M173.9 121.6h0m15.2 35.7h0m-18.6 8.7h0m-14.4 10.7h0"/><path id="qrg" d="M211.4 42.9h0m-48.4-.1h0m3.8 10.5h0m8.8 3.7h0m-38.9 0h0m60.5 9.4h0"/><path id="qrh" d="M118.9 78.1h0m40.8 6.3h0m-46.8 4.5h0m7.9 9.6h0m28.7 40.4h0"/><path id="qri" d="M109.8 85.2h0m42.2 18.3h0m-9.9 8.8h0m-14.4 15.4h0m10.5 3.1h0m49.7 11.5h0"/><path id="qrj" d="M153.2 82.8h0m1.8 26.7h0m3.8 12.2h0m-2.1 31.9h0"/><path id="qrk" d="M119 157.3h0"/><path id="qrl" d="M41.2 68.7h0m17.1 3.3h0m-1.7 1.5h0m-2.2-.6h0m-5.3 1h0m-5.6 4.3h0m-11.4-3.8h0m1.7 12.8h0m32.4-5.1h0m.9 8.6h0m-2-1.3h0m-6.4 6h0m-4.4-4.2h0m-12-2.7h0m-.4 4h0m-2.9.2h0m-8.8 2.6h0m-3.6-7.3h0m4.8 14.8h0m1.5-2.3h0m2.4 1.8h0m9.1-5h0m5.1 3.9h0m6.2-3.4h0m2.1 6.4h0m-20.4-.2h0"/><path id="qrm" d="M138.5 13.9h0m-18.4 45.9h0"/><path id="qrn" d="M131.9 79.7h0m-27.5 18.5h0"/><path id="qro" d="M105.8 73.7h0m33.4 29.2h0m2.8 37.3h0"/><path id="qrp" d="M117.3 43.4h0m8.2 25.9h0"/><path id="qrq" d="M129.2 65.7h0"/><path id="qrr" d="M126.8 80.2h0m17.2 12.5h0m-11.5-1.9h0m2.8 49.8h0"/><path id="qrs" d="M108.5 77.9h0m57.5 34h0m-17.2 19.7h0m19-1h0"/><path id="qrt" d="M155.6 35.7h0"/><path id="qru" d="M177.4 158.2h0m-15.2 3h0"/><path id="qrv" d="M143.3 53.9h0m11-5.7h0"/><path id="qrw" d="M161.7 118.8h0m19.1-5.7h0m-13.1 41.3h0"/><path id="qrx" d="M124.1 42.8h0"/><path id="qry" d="M234.9 97.6h0m2.3 11.9h0m8.5 11.5h0m-50.1 6.6h0m21.8 22.9h0"/><path id="qrz" d="M193.8 35.9h0m-43.9 28.4h0"/><path id="qsa" d="M221.4 69.9h0m11.2 30.9h0m-4 33.4h0m13.6 3.6h0m-58.9 41.4h0"/><path id="qsb" d="M81.1 63.6h0m-.4 26.5h0m3.6 19.2h0m-23.3 4.6h0m25.4 1.3h0"/><path id="qsc" d="M112.2 41.2h0m-.7 13.7h0m15.9 4.3h0"/><path id="qsd" d="M128.9 34.2h0m0 9h0m4.7 8.9h0"/><path id="qse" d="M83 48.7h0m37.3 24.2h0"/><path id="qsf" d="M78.6 84.2h0m15-4h0m2.9 4.8h0m-.3 10.1h0m-20.5-6.9h0m-53 6h0m55.5 9.6h0m15.8 7.4h0"/><path id="qsg" d="M96.8 79.5h0m-8.5 22.5h0m2.2-2.6h0m12.2 2.5h0m-32.8 11.5h0"/><path id="qsh" d="M149.9 153.2h0"/><path id="qsi" d="M89.2 70.6h0m-.9 3.7h0m-16.4.2h0m33.4 13.7h0m-11.7 10.3h0m-8.6 7.6h0m-20.7 5.4h0m9.4 5.5h0"/><path id="qsj" d="M83.3 67.3h0m16.6 10.3h0m-37-4.2h0m14.9 34.1h0m-8.6 9h0m32.8 5h0"/><path id="qsk" d="M216.6 157.1h0"/><path id="qsl" d="M197.9 45.6h0m-49.3 112.6h0m13.1 16.1h0m11 3.7h0"/><path id="qsm" d="M151.8 162h0m42.1 11.8h0"/><path id="qsn" d="M170.2 105.3h0m-66.2 13.3h0m27 23.5h0"/><path id="qso" d="M176.3 125.3h0m-9.6-4.4h0"/><path id="qsp" d="M156.6 42.9h0m-24 31.9h0"/><path id="qsq" d="M150.8 24.8h0m-.2 33.8h0m-18.8 3.6h0m85.5 17.3h0"/><path id="qsr" d="M159.7 100.5h0m-27.9 19.1h0m10.6-2.9h0m-3.3 6.1h0m14.3 9h0m23-2.1h0m-42 6.3h0m47 24h0"/><path id="qss" d="M180.6 174.5h0m-8.7-2h0"/><path id="qst" d="M98.7 69.4h0m27.6 17.3h0m12.7-5.1h0m.2 10.7h0m-17.9 1.5h0m25.8 2.8h0m11.3 41.4h0"/><path id="qsu" d="M95 72.6h0m-3.5.5h0m-5.4 21.2h0m-5.6 7.7h0m.5 4.6h0m-6-.1h0"/><path id="qsv" d="M131.7 57.5h0m-.2 12.2h0"/><path id="qsw" d="M167.9 175.4h0"/><path id="qsx" d="M46.7 64.2h0m33 3.8h0m-2.8 12.7h0m27.5 13.8h0m-11.4-.8h0m-20 9.5h0m17-6.8h0"/><path id="qsy" d="M144.2 11.7h0m18.1 22.9h0"/><path id="qsz" d="M179.2 106.1h0"/><path id="qta" d="M143.2 155h0"/><path id="qtb" d="M103.3 48.2h0"/><path id="qtc" d="M180.3 22.6h0m9.4 44.4h0"/><path id="qtd" d="M167.1 29h0"/><path id="qte" d="M166.3 12.1h0m55.2 110.1h0m-79.6 39.2h0m30.7.1h0m11.2 10.7h0"/><path id="qtf" d="M109.2 91.5h0m17.3 25h0"/><path id="qtg" d="M120.6 39.1h0m-11.7 20.6h0"/><path id="qth" d="M115.9 145.6h0m7.4 10.4h0"/><path id="qti" d="M230.8 123.3h0"/><path id="qtj" d="M85.6 60.8h0m13.7 4.7h0m-10.2 27.5h0m-6.5.8h0m-5.3-2.8h0m-19.5 23.4h0m8.1 2.7h0"/><path id="qtk" d="M121 152.1h0m-8 8.1h0"/><path id="qtl" d="M151.5 122.1h0"/><path id="qtm" d="M21 84h0m76.1 16.5h0"/><path id="qtn" d="M133.6 175.1h0"/><path id="qto" d="M117.5 95.7h0m29.3 47.3h0"/><path id="qtp" d="M162 168h0"/><path id="qtq" d="M201.9 38.3h0m15.1 22.1h0m-58.5 13h0"/><path id="qtr" d="M109.2 108.3h0m-7.7.8h0m44.1 26.6h0"/><path id="qts" d="M187.9 178.1h0"/><path id="qtt" d="M114.6 154.8h0m-8.5 4.7h0"/><path id="qtu" d="M63.8 86.9h0m10.2 7.9h0m-48.2-4.7h0m26.8 13.3h0m12.1 1.4h0m-17.2 5.1h0"/><path id="qtv" d="M228.4 55.1h0"/><path id="qtw" d="M140.8 178.6h0"/><path id="qtx" d="M137 115.5h0"/><path id="qty" d="M168.8 124.3h0m-14.4 25.4h0"/><path id="qtz" d="M146.1 27.4h0m37.2 16.6h0m-23.2 3.1h0"/><path id="qua" d="M101.7 73.3h0m-41.2 53.8h0m32.5 3.9h0m34.7 19.5h0"/><path id="qub" d="M113.4 93.3h0"/><path id="quc" d="M200.9 150.5h0"/><path id="qud" d="M127.9 28.5h0"/><path id="que" d="M110.6 140.9h0"/><path id="quf" d="M225.5 136.4h0"/><path id="qug" d="M125.2 97.5h0"/><path id="quh" d="M129.5 23h0m-23 46.4h0"/><path id="qui" d="M121.1 54h0m-19.1 6.6h0m-.3 3.1h0m22.9.3h0"/><path id="quj" d="M66.9 72.4h0m-29.5 9.7h0m18 12.9h0m-13.5.1h0"/><path id="quk" d="M41.3 105.2h0"/><path id="qul" d="M154.4 165.8h0"/><path id="qum" d="M85.4 99.9h0m3.6 18.4h0"/><path id="qun" d="M126.3 158.7h0"/><path id="quo" d="M162 29h0m-23.8 32.6h0m11 12.1h0"/><path id="qup" d="M103.8 80h0m28.8 5.6h0"/><path id="quq" d="M79.2 133h0m22.8 16.9h0"/><path id="qur" d="M121.2 25.7h0"/><path id="qus" d="M138.7 171h0"/><path id="qut" d="M156.1 161h0"/><path id="quu" d="M147.7 127.6h0"/><path id="quv" d="M134.2 165.9h0m53 5h0"/><path id="quw" d="M117.7 101.9h0"/><path id="qux" d="M131.2 152.9h0"/><path id="quy" d="M96 75.7h0"/><path id="quz" d="M116.1 150.1h0"/><path id="qva" d="M125.1 36.8h0m-28.4 11.6h0m17.3 10.1h0"/><path id="qvb" d="M114.4 36.9h0"/><path id="qvc" d="M152.3 30.7h0"/><path id="qvd" d="M98.3 103.9h0"/><path id="qve" d="M102.8 31h0"/><path id="qvf" d="M39.4 87.1h0"/><path id="qvg" d="M100.8 144.6h0"/><path id="qvh" d="M184 87.4h0"/><path id="qvi" d="M103.7 70h0"/><path id="qvj" d="M147.8 119.1h0"/><path id="qvk" d="M38.6 84h0"/><path id="qvl" d="M91.1 55.7h0"/><g id="arw"><path d="M189 12l3 4m-10-9.5l1 1m-11.5.5l0 1m-11 0l.5 1.5m-9.5-1.5l5 .5m-12.5 2l1.5 2.5m-18 1l0 1m11-2l1.5 3m10 .5l2 5m3.5-6.5l2 0m3.5-.5l-.5 5m8.5-4l4.5.5m5-3l4.5 1.5m12.5 0l.5 1.5m12 6.5l1 0m-13 0l2 3m-9-8l3.5 4m-12 0l3 4.5m-14.5-4.5l1.5 1m-11.5-2l.5 1m-5.5-1l0 3.5m-7-3l1 1m-8.5-4.5l.5.5m-5.5.5l1.5 1.5m-6.5 2l2.5 3m-11.5-6.5l4.5 0m-11 4.5l1.5 5m5.5-3.5l1 .5m11 1l3.5 1.5m1.5-3l1 .5m3.5-2l1 .5m2.5 3l.5 2m15.5-.5l1.5 3m3.5-3l1.5 3m5-3l1 1.5m.5-6l1.5 1.5m6 3l1.5.5m2.5-3.5l3 3m11-1l.5.5m5 4l1 1.5m-10-2.5l2.5 1m-5.5 3.5l0 1m-10-2l1.5 1.5m-15-1.5l4 1.5m-12-2l3.5 2.5m-10.5-1.5l4 1.5m-7-6.5l3.5 2.5m-7 1.5l1 1.5m-16-4l1 0m-6 2l3 2.5m-10.5-4.5l4 2m-13.5-2.5l3 1.5m-12-2l.5 1.5m4 5.5l3 1m1.5 2l.5 1m8-3l4 3.5m.5-5.5l3 2.5m7.5 0l3 2.5m2.5-5l2.5 2m8.5.5l1.5 1.5m13-2l1.5 3m12-2.5l1.5 1.5m5-1l4 0m6.5 0l5 1.5m0-3l1 0m7.5-2l1 .5m5 4.5l2 2.5m-7-1l2 2.5m-4.5 2.5l.5 1.5m-5.5-5l1 2.5m-12-4l0 3m-9.5-2l2.5 3m-10-2l4 3m-8.5-5l2.5 3.5m-6.5 0l2.5 4m-7-7.5l4 1m-7 3l4 1.5m-7.5-5.5l2.5 3m-9-1l1.5.5m-8.5-3l1.5 2m-9.5 1.5l1.5.5m-7.5-3.5l1.5 1m-18.5 2l2 .5m-7-3l1.5 1.5m-8.5-.5l3.5 2.5m-11-4.5l1.5 1m-11 5l4.5-.5m4 2.5l1.5 5m10.5-7.5l.5 2m8.5 0l3.5 1m0 1l3.5 2.5m-1-6l5.5.5m-3 5l0 2m2-7l4 0m-1 5l3 2m-.5-6.5l3 3.5m2-1l1.5 2.5m3.5-3l3 1m2 1.5l.5 0m2.5-4.5l2 2m2.5.5l1.5 5m2-9l3 1.5m3.5 4l.5.5m5.5-.5l3.5 0m2-1.5l2.5 2.5m12.5-6l1 3m5 .5l3 1m7-3.5l-1 5m7.5-2l.5.5m6-3.5l2.5 3m5.5-3.5l3.5 3.5m.5 2.5l1.5 3m-5.5 1l2 2.5m-28.5-4l.5 2.5m-16.5-5.5l2 4.5m-8.5-2l1 1m-10.5 1l3.5 1.5m-13.5-3l4-1m-9.5 2l2 5m-8.5-4.5l.5 1m-8-3l.5 1.5m-5.5-1l4.5.5m-16 2l1 .5m-3.5-4.5l1 4.5m-4.5-2l.5 0m-3-3.5l.5.5m-8 1l2 3m-8 0l.5 1.5m-7.5-5.5l1 2m-6.5-2l2 1.5m-10 0l2-.5m-33 7.5l1.5 1m33-1.5l0 1.5m5.5 0l.5 1m8-5l2 0m4.5 2.5l1 1.5m3.5-4l.5 1.5m3 3l2.5.5m8-1.5l2.5 2m2-2.5l.5 1.5m4 0l1 2.5m8-6.5l1 1m3 2.5l2 1.5m6-2l1.5 1m4.5-1l1 1m5.5-.5l5 1m4.5-4l2.5 1.5m5-.5l1 1.5m4 1l2 2m2-5.5l1 2.5m4-4l2.5 2.5m7.5-3l.5.5m19.5 4l4.5 2m1-4l1.5.5m-4 5.5l4 1.5m-13.5-3.5l-1.5 4m-2.5 0l.5 2m-4-5.5l4 2m-6.5 2.5l1 .5m-11-5.5l.5 1m-4 3l.5 3m-4.5-6.5l2.5 2m-9.5 2l2.5 5m-7.5-6l1.5 1m-9-2l2.5-.5m-20 .5l1 2.5m-8.5-2l4 1m-9 1l3 2m-8.5-7l4.5 1.5m-7.5 1.5l2.5 3m-8.5-3l1.5.5m-12.5-4l0 5m-8-1.5l3 3.5m-6-3l9.5 5.5m-10.5-8l4 3.5m-8-1.5l4 2.5m-9-6l1.5 1m-3 2.5l1.5 1m-20-3l2 1m-5.5 2.5l2 2m5 3.5l1 0m13 0l1.5.5m2.5-4.5l2 1.5m-1 1.5l6.5 3.5m-3.5-6.5l.5 1m2 0l6.5 2.5m-4 0l5 2.5m-3-5l8 4.5m-5.5 0l10 6m2-11l0 1m4.5 1.5l2.5 1.5m5-2l4 3.5m4-2l4 3.5m4.5-6.5l2 2.5m7.5-2.5l2 1m4.5-2.5l2.5 3.5m.5 1.5l2 1m3.5-2.5l1.5 0m6 1.5l2 .5m5-3.5l1 1m7.5 1.5l3.5 3.5m13.5-4.5l-.5 1m4.5-4l4 2m10 0l4 1.5m2.5 0l1 3m6-2.5l1 1m-12 1.5l-.5 1.5m-24-2l0 1.5m-8 .5l1 1m-8.5 1l3.5 2m-8-5.5l2.5.5m-14.5 2l-.5 3.5m-24-2l9 7.5m-23-9l5.5 3m-12.5-5l4.5 3m-9.5-2.5l6 3m-12.5.5l6.5 5m-8-10.5l8 4m-14 0l4 3m-13-5l8.5 5.5m-34-1.5l2 1m5 2l.5 3m8.5 0l1 0m6.5-4.5l6.5 4m-3-1.5l5.5 4.5m-1-7.5l10.5 5.5m-7.5-1.5l9 4.5m-5.5-8.5l9.5 4.5m-3-.5l7 3m-3.5-5.5l7.5 7m-1.5-8l9.5 7m-4.5-5.5l3 3m4-4.5l8 3m-2.5-1.5l8 5.5m-1-5l6 6m-3.5-9l8 4.5m-5.5-1l1.5 2.5m2.5-.5l0 3.5m6-4.5l1.5 1.5m5.5-1l5-1.5m-4-2.5l0 1.5m4 .5l2.5 4.5m1-6.5l1 1.5m3-1.5l1.5.5m3.5 1l.5 1.5m2.5-3l.5 1.5m2.5.5l.5 1.5m6.5-.5l1 0m14.5 1l-.5.5m3.5-3.5l-.5 1.5m19.5 0l0 .5m.5 4.5l-.5 1.5m-3-4.5l.5 1m-1 4.5l-.5 1m-9-3.5l0 1m-12-1.5l.5 1.5m-7 2l0 1m-1-4.5l1 1.5m-14 1l1 2m-10-6.5l-1 1.5m-1 3l.5 2m-9.5-2.5l.5 1.5m-24.5-2l6 5m-9.5-7.5l3 3m-8.5-2.5l10.5 4.5m-20-4l10 6m-14.5-2.5l11 2.5m-19.5-6l6 3m-10.5-1.5l7.5 2m-10-5.5l8.5 3m-10 2l9 5.5m-13-7.5l7 4.5m-11.5-6.5l10 2.5m-14.5.5l5 2.5m-9.5-1l6 3m-28.5-8l3 .5m0 10.5l1-.5m12-3l3 1m16-.5l9.5 4m-4.5-1l7.5 2m-4-5.5l4 3.5m0-4.5l4 2m12-2l7.5 4m-1.5.5l5.5 3.5m7-5l7 3.5m-3-6.5l4.5 2m2 1.5l2 2m3.5-5.5l-1 1m11 0l.5.5m4 3l.5 0m9.5-3.5l0 .5m9-.5l0 1.5m41 0l0 1m6 2.5l-1 1m-2.5 3.5l-.5.5m-12-1l1 .5m-10-2l-1 1.5m-5-1l0 1m-4.5-4.5l0 .5m-5.5-.5l0 .5m-4.5 4l0 1m-2-5.5l0 .5m-11.5 2l-.5 1.5m-3.5-.5l.5 1m-5-1.5l1 .5m-3.5-4.5l0 .5m-1 3l.5 1m-6.5-.5l1 1.5m-5.5-4l1.5.5m-6 1.5l1 1.5m-5.5.5l2.5 2.5m-4-8l1.5 1.5m-7.5 1.5l8 6m-14-7.5l8 4m-9.5 0l5 3m-12-4l6 3m-10.5-6.5l9 5.5m-13.5-5.5l8 5m-11.5-1l8 5m-9.5-9.5l4.5 2.5m-10.5 2.5l9 4.5m-11-8.5l9.5 3.5m-19-3l4 2m-12.5 0l10 5.5m-15-7.5l10 5m-16-6.5l2 1m-3 3.5l5 1.5m-8-3.5l.5.5m-11-1.5l2-.5m-5 3l6.5 4m-10.5-2.5l8 3.5m-10-1l8.5 4m-7.5-1l7 3m-1.5-3l6.5 4m-4-7l4.5 3m-3-.5l8 3.5m-3.5-4l5.5 4.5m-5-7.5l5.5 1.5m8.5.5l8 4m-5-6.5l9 5m-5-2.5l6.5 2.5m-3-5.5l5.5 3.5m-1.5 0l4.5 2.5m0-5.5l5.5 3m-1 .5l7 3.5m-1-5l4 2m5-3l8 5m-3-2.5l5.5 3.5m-1-5.5l10 3.5m-5.5-2l5.5 3.5m-1.5-6l10 4m-8.5 0l4 4m1.5-7l1 3.5m3-2l1 2m4-4l1.5 2.5m4.5-3l5 4m-1-.5l4.5 3.5m-3-8l.5 1.5m5-1l.5 1.5m6.5 3l.5.5m1-4.5l.5.5m20 2.5l0 1m13-.5l0 1m4-2l.5 1.5m6-1.5l-.5 1m-.5 3.5l1 .5m-27-2l0 1.5m-14-1.5l0 .5m-6 1.5l.5 1m-10-4l2 2.5m-14-1l2 1m-12.5 2.5l2 4m-8-5l9.5 2.5m-14-4l7.5 3.5m-10.5-1l10 7m-11-11l3.5 3m-8-1.5l7.5 3.5m-13-4.5l4 3m-8.5-4.5l8 5m-14-2.5l11 4m-22.5-3l9.5 6m-18.5-9l10 3.5m-16-1l6 2.5m-17-1l4.5 2m-10.5-5l5.5 4m-8.5-3l4.5 3m-7.5-3l8.5 5.5m-12-5l5.5 2.5m-8.5-.5l8.5 4.5m-12-9.5l5 2.5m-6 .5l5 2m-20.5.5l6.5 4m17.5-3.5l5.5 3m.5-.5l6 3.5m.5-2l9 5.5m-4.5-9l7.5 4.5m-4 .5l10.5 4m-2-5l7.5 2m.5-6l10 4.5m-.5-4l10.5 5.5m-4-4.5l10 3.5m14-3.5l8 3.5m-.5-4l9.5 7.5m-4-4.5l2.5 2m7-5l2 1.5m.5 2.5l2 .5m2-2l4.5 4.5m.5-2.5l1.5 3.5m0-8l3 3m5-.5l1.5 1m46.5-3.5l-1 1.5m6.5 2.5l0 1.5m0 4l1 0m-19.5-.5l-.5.5m-16.5-.5l0 2m-8-4.5l-.5 1m-14 0l-1.5.5m-7-1.5l2.5 1.5m-8 0l6 2m-10-3.5l2.5 3.5m-7-1l3 3m-17-6.5l9 3.5m-9.5 1.5l8 6m-12.5-6.5l6 3.5m-7.5-7.5l6 2.5m-15.5 1l7.5 4m-9.5-9l6 4m-9.5 1l10 5.5m-15-9l9.5 5m-15-6.5l5.5 4m-7.5 1l9.5 3.5m-13.5-7.5l9.5 5m-17-4.5l8 4m-23.5-.5l10.5 5m-19.5-7l9.5 4m-18-5l5.5 2.5m-6.5 6l7.5 5.5m-3-9l4.5 1.5m1 .5l6.5 3m.5-2l7 2.5m-1.5-4.5l7 3.5m-2.5-5l7.5 5.5m-4.5-1l5 3.5m-1-8.5l7 7.5m-1.5-7l8 5.5m7.5-1l9 6m-4-7l6 3.5m-1-4l4.5 3m1.5-3l11 5.5m-3.5-4.5l9 5.5m-4.5-9l5.5 3m-4.5 2l8.5 7m-3.5-11.5l2 2m3.5.5l5.5 2.5m-2.5-6.5l2 1m3 3l2 1.5m2.5-.5l.5 1.5m7-5l2.5 2m-.5 2l.5 1m15-2l0 2m4.5-2l0 .5m4.5-.5l.5.5m12.5-3l0 1.5m23-.5l0 1.5m-12.5 7l1 .5m-2.5-6l.5 1m-9.5 3.5l1 1.5m-4-2.5l-1 1m-6 0l-.5 1m-3-2l-1 1.5m-13.5-2l.5 1.5m-6-4.5l.5.5m-7.5 4l2 1.5m-5-5l4 3.5m-7.5-2l1.5 1m-3 2l1.5 4m-9.5-7.5l4 2m-22 0l7.5 5.5m-12-8.5l5 2.5m-12.5-1.5l7 4m-13.5-3.5l6 4m-10.5-2.5l11 3m-15.5-4.5l9 5m-14-6l5 5m-9.5-4l10 4.5m-16.5-4l7.5 3.5m-19.5-6l9 3.5m-25.5-.5l5 2.5m14 .5l10 4m-9 1.5l5 1m9-5.5l8.5 5.5m-3-6.5l10 4.5m-4-3.5l6 2m-1.5 0l7 3.5m-1-1.5l4 2m4-2l8 5.5m-4-8.5l8.5 5m-4-2l9 8.5m-3.5-10.5l4 3m5-5.5l3 3m3-4l0 2m11-.5l0 1m5-2l-.5 1.5m.5 1.5l.5 1m15-1l.5 1m17-3l1 1m1.5 0l.5 1.5m6-4l-.5 1.5m2.5 8l0 .5m-2-4l-.5 1.5m-8.5 3l-.5 1.5m-4-1.5l1.5 1m-3.5-5l-.5.5m-19 4l0 .5m-4-.5l4 2.5m-12.5-4.5l-.5 1m-2.5-2l1.5 1.5m-10.5 1l3 4m-6.5-8l1.5 2m-4 2l3 2m-6.5-6l1.5 1.5m-9 1.5l6.5 6.5m-13-7l6 4.5m-28.5-7l9 3.5m-13 2l10.5 5m-13-9l9 2.5m-15.5.5l8 6m-14-8l9.5 4.5m-24-7l8 3m11 6.5l3.5 3m2-1.5l4 2.5m.5-2l6 2.5m2.5-3l8 2m-3.5-7.5l3.5.5m-2 5l7 3m-2.5-3l6 1.5m.5-5l8.5-.5m-5 4.5l7.5 1.5m-3.5-2.5l6.5 0m-.5 0l4.5 1.5m2-3.5l.5 1.5m3.5 1l6.5 2m-1.5-5.5l4 1.5m0 .5l4.5 2m3-4.5l5 2m11-.5l1 1.5m3 .5l-1.5.5m15.5 0l0 1.5m-4 2l0 1m-8-2l0 1m-14 0l1 1.5m-5 0l1.5.5m-13-3l0 1.5m-11 .5l9 2.5m-31.5-1l8.5 2.5m-16.5-4.5l5.5 2.5m-11.5-2l5 0m-19.5 1.5l7 5m12-1.5l6.5 1.5m0-.5l8.5 0m-1-.5l7.5 1.5m-2.5-1.5l8-1m-3.5-2.5l8.5 4m-5-.5l8.5 2.5m5.5-5.5l5 .5m-.5 3l8.5 2m-5.5-3l8 3m-5-1l0 .5m4 .5l6 2m1.5-1l1.5 1.5m-7.5 1.5l.5.5m-8-.5l-.5 1.5m-7-5l4.5 2m-7 .5l3 .5m-8.5.5l4.5 0m-9-2.5l7.5 1m-14-2l7.5 3m-13-1l7 2m-22 0l5.5 3.5m-13-7l4.5 2" stroke="#000" stroke-width="0.65"/><path d="M193.5 18l-2.5-1.5 2-1.5zm-9-8.5l-2.5-1.5 2-1.5zm-12 2l-2-2 2.5-.5zm-10.5 1.5l-2-2 2.5-1zm-3-3l-3 1 .5-2.5zm-12 6l-2.5-1.5 2-1.5zm-18.5 2.5l-2-2 2.5-.5zm12.5 1l-2-2 2-1zm12 5.5l-2-2 2-1zm7-8.5l-3 1 .5-2.5zm.5 6.5l-1-3 2.5.5zm8.5-9.5l-2.5 0 1-2.5zm7 3.5l-2.5 1 0-2.5zm9.5-.5l-3 .5 1-2.5zm11.5 3l-2-2 2-1zm14.5 5l-3 .5 1-2.5zm-8.5-3.5l-2-2 2-1zm-3.5 8l-2.5-1.5 2-1.5zm-5.5-4.5l-2.5-1.5 2-1.5zm-9 4.5l-2.5-1.5 2-1.5zm-12.5-3.5l-3-1 1.5-2zm-12-.5l-2-2 2-1zm-6.5 2.5l-1-2.5 2.5 0zm-3.5-3l-3-.5 1.5-2zm-8.5-4l-3-.5 1.5-2zm-4 2l-2.5-.5 1.5-2zm-4.5 5.5l-2.5-1.5 2-1.5zm-6-9l-2.5 1.5 0-2.5zm-11 12.5l-2-2 2.5-.5zm7.5-4.5l-2.5 0 1-2zm6.5 3l-2.5 0 1-2.5zm8.5-1l-3 .5 1-2.5zm2-1.5l-3-.5 1.5-2zm5-2.5l-3 .5.5-2.5zm1 7l-1.5-2.5 2-.5zm12-2l-2.5-.5 1.5-2zm5.5 4.5l-2-1.5 2-1.5zm5.5 0l-2.5-2 2.5-1zm6.5-2.5l-3-1 2-1.5zm2-4.5l-2.5-.5 1.5-2zm8 3l-2.5.5.5-2.5zm5 0l-3-.5 2-2zm11.5 0l-3-1.5 2-1.5zm5 6l-2-2 2-1zm-6-2.5l-3 0 1-2.5zm-6.5 5.5l-2.5-2 2.5-1zm-8-1.5l-3-.5 2-2zm-11-.5l-2.5.5 1-2.5zm-8.5 1l-3-.5 1.5-2zm-6-1l-3 .5 1-2.5zm-4-3l-3-.5 1.5-2zm-7 4l-2.5-2 2.5-1zm-13-6.5l-3 1.5 0-2.5zm-4 6l-3-.5 1.5-2zm-6-3l-3 0 1-2.5zm-10.5-1l-3 0 1-2.5zm-13.5 1l-2-2 2.5-1zm9 4.5l-3 .5 1-2.5zm.5 5l-2-2 2.5-1zm4-6.5l-3 .5 1-2.5zm9 6.5l-3-1 1.5-2zm3.5-3.5l-3-1 2-1.5zm2.5-.5l-3-.5 1.5-2zm8 3l-3-.5 2-2zm5.5-3l-3-.5 1.5-2zm9.5 2.5l-3-1 2-1.5zm14 1l-2.5-1.5 2-1.5zm13.5-1l-2.5-1 2-1.5zm10-3l-2.5 1 0-2.5zm11.5 2.5l-3 .5 1-2.5zm1-4.5l-2.5 1.5 0-2.5zm8 .5l-3 0 1.5-2.5zm6.5 7.5l-2.5-1.5 2-1zm-5 2l-2.5-1.5 2-1.5zm-4.5 4l-2-2 2.5-1zm-4.5-3l-2-1.5 2.5-1zm-13-.5l-1.5-2.5 2.5 0zm-5 0l-2.5-1 1.5-1.5zm-5.5.5l-3 0 1.5-2.5zm-6.5-.5l-3-1 2-1.5zm-5 4.5l-2.5-1.5 2.5-1.5zm-1.5-8.5l-2.5.5.5-2zm-3 5l-3 .5 1-2.5zm-6-1.5l-2.5-1 2-1.5zm-6.5-2.5l-3 1 .5-2.5zm-7.5 1l-3-1.5 2-1.5zm-8 1l-2.5 0 1-2zm-5.5-3l-2.5.5.5-2.5zm-16.5 2.5l-2.5.5 0-2.5zm-6.5 0l-2.5-1 1.5-2zm-4.5 2l-2.5-1 1.5-1.5zm-9-4.5l-3 0 1-2zm-6.5 3l-2.5 1.5-.5-2.5zm3.5 10.5l-2-2 2.5-1zm12-6l-2.5-1.5 2-1.5zm13-.5l-3 .5.5-2.5zm3.5 4.5l-3-.5 1.5-2zm4.5-6.5l-2.5 1 0-2.5zm-5.5 9l-1-2.5 2.5 0zm8.5-9.5l-2.5 1.5 0-2.5zm1.5 9l-2.5-1 1.5-2zm2.5-3l-2.5-1 1.5-2zm2.5 2l-2-2 2-1zm8-4l-3 .5.5-2.5zm2.5 2l-3 .5 1-2.5zm3.5-2l-2.5-1 1.5-1.5zm3 6.5l-1.5-2.5 2-.5zm6.5-8.5l-3 0 1.5-2.5zm3.5 5l-2.5-1 2-1.5zm10-2l-3 1 .5-2.5zm3.5 2.5l-2.5-1 2-1.5zm6.5-7l-2.5 1.5 0-2.5zm6.5 4.5l-2-2 2.5-1zm9.5 0l-3 0 1-2zm3 3.5l-1-3 2.5.5zm10.5-2.5l-3-1 2-1.5zm8.5-.5l-3-1 2-2zm8.5 0l-2.5-1 2-1.5zm1.5 6l-2.5-2 2.5-1zm-3 3.5l-2.5-1.5 2-1.5zm-28.5-1.5l-2-2 2.5-.5zm-14.5-1l-2-1.5 2-1.5zm-6-2l-3-.5 1.5-2zm-7 2l-3 0 1-2.5zm-9.5-6l-2.5 2-.5-2.5zm-9.5 10.5l-2-2 2.5-.5zm-7-4l-2.5-1 2-1.5zm-8-1l-2-2 2.5-1zm.5-2.5l-3 .5.5-2.5zm-15.5 4l-3-1 2-2zm-3.5.5l-2-2 2.5-.5zm-2.5-3.5l-2.5.5.5-2.5zm-4-1.5l-2-1.5 2-1.5zm-5.5 3.5l-2.5-1.5 2-1zm-8.5 2l-2-2.5 2.5-.5zm-5.5-4l-2.5-1.5 2-1.5zm-4-1.5l-2.5 0 1-2.5zm-7-2l-2.5 1.5-.5-2zm-32 10l-3 0 1-2.5zm31 1.5l-1.5-2.5 2.5-.5zm6-5l-2.5-.5 1.5-2zm1 5.5l-2.5-1.5 2-1.5zm11-7l-2.5 1.5 0-2.5zm4.5 6.5l-2.5-1.5 2-1.5zm4-2.5l-2.5-1.5 2.5-1.5zm6.5 1.5l-3 .5.5-2zm10.5 1l-3 0 1.5-2.5zm.5.5l-2-2 2.5-.5zm5.5 2l-2-1.5 2-1zm9-5l-2-1.5 2-1.5zm6 2.5l-2.5 0 1-2.5zm7.5-.5l-3-.5 1.5-2zm5.5.5l-3-1 2-2zm11-1l-3 .5.5-2zm7-2l-3 0 1.5-2zm5 2l-2.5-1 2-1.5zm6.5 2.5l-3-1 2-1.5zm1.5-2l-2-2 2.5-1zm7.5-2l-2.5-1 2-2zm8.5-2.5l-2.5-1 1.5-2zm24.5 5l-3 0 1-2.5zm2-3l-3-.5 1.5-2zm.5 6l-3 .5 1-2.5zm-18 2.5l-.5-2.5 2.5.5zm-.5 2l-2-2 2.5-1zm1.5-4.5l-3 0 1.5-2.5zm-6 3l-2.5-.5 1-2zm-12-3.5l-2-2.5 2.5-.5zm-3.5 6l-2-2.5 2.5-.5zm-.5-5l-3-1 2-1.5zm-8 7l-2-1.5 2-1zm-5-5.5l-2.5-.5 1-2zm-6-4.5l-2 2-.5-2.5zm-20 6l-2.5-2 2.5-1zm-3.5-3l-2.5.5.5-2.5zm-6.5 4l-3-.5 1.5-2zm-4-6l-2.5 0 1-2zm-5.5 5.5l-2.5-1.5 1.5-1.5zm-6.5-2.5l-3-1 1.5-2zm-14 1.5l-1.5-2.5 2.5 0zm-4 1.5l-2.5-1.5 2-1.5zm4.5 2l-3-.5 1-2zm-7-4.5l-3-.5 2-2zm-3.5 1l-3-.5 1.5-2zm-8-5l-3-.5 1.5-2zm-1 3l-3 0 1-2.5zm-4.5 0l-2.5.5 1-2.5zm-13.5-2l-3 0 1-2.5zm-4.5 5l-2.5-1 2-1.5zm-10.5-2.5l1-2 1.5 2zm-3 1.5l-2-1.5 2.5-1zm-5.5-2l-2.5 0 1.5-2zm-9.5 1l1-2.5 1.5 1.5zm-6 .5l1.5-2.5 1.5 2zm-5-.5l.5-2.5 2 1.5zm-7.5 4.5l1.5-2 1.5 2zm9.5 1l-1.5-2 2.5-.5zm5.5.5l-1.5-2 2.5-.5zm5.5-.5l-.5-2.5 2 .5zm4 0l.5-3 2 1.5zm7.5-.5l-1-3 2.5 1zm6.5-2.5l-3-.5 2-2zm-1 3l-.5-2.5 2.5 1zm5.5-1l.5-2.5 2 1.5zm4.5-1.5l-2.5.5 1-2.5zm6.5 1l-2.5 1 0-2.5zm0-2l-2.5-1 2-1.5zm14 4l-3-.5 1.5-2zm4.5-3l-3-.5 1.5-2zm6 4.5l-3 0 1-2.5zm-4.5-4.5l-2-1.5 2-1.5zm9.5 1.5l-2.5 0 1-2.5zm1.5 2.5l-3 0 1-2.5zm4.5 0l-2.5-.5 1-2zm4.5 6l-3 0 1.5-2.5zm.5-9l-1.5-2.5 2.5-.5zm8.5 2l-3-.5 1.5-2zm9 1.5l-3-.5 2-2zm7.5 2l-2.5-1 1.5-2zm6.5-4l-2.5-1.5 2-1.5zm10-2l-2.5-.5 1-2zm6 1.5l-2.5-1.5 2.5-1zm4 1l-2.5.5.5-2.5zm5-3l-3 1.5.5-2.5zm8 2.5l-3 1 1-2.5zm5.5-1l-3-1 2-1.5zm11 5l-3-1 2-1.5zm4.5-3l-2-2 2-1zm5.5 0l0-3 2 1zm12-4l-3 .5 1-2.5zm14 2.5l-3 0 1-2.5zm2 4l-2-2 2.5-1zm7.5-2l-2.5-1.5 2-1.5zm-8 4.5l-1.5-2.5 2.5 0zm-6-1l-1-2.5 2.5 0zm-5.5-1l-1.5-1.5 2-.5zm-17.5.5l-2-2 2.5-1zm-5.5 0l-3 0 1.5-2zm-5.5 3l-2.5 0 1-2zm-5-5.5l-2.5 1 .5-2.5zm-18 7.5l-1-3 2.5.5zm-12.5 5l-3-1 2-1.5zm-17-6.5l-3-.5 1.5-2zm-8.5-2.5l-3 0 1.5-2.5zm-3 .5l-3 0 1-2.5zm-6.5 6l-3-.5 1.5-2zm0-7l-2.5 0 1-2zm-9.5 3.5l-3-.5 1.5-2zm-5 0l-2.5 0 1-2zm-46-3.5l.5-3 2 2zm-5-.5l0-2.5 2.5 1.5zm-7-1l1.5-2 1 2zm-3.5 1.5l-1.5-2.5 2.5 0zm-7-.5l0-2.5 2 1.5zm-6.5-.5l.5-2.5 2 1.5zm-5.5.5l0-2.5 2 1zm-4 1l-1.5-2.5 2.5 0zm-7.5-.5l-.5-2.5 2.5.5zm-1 8l.5-2.5 2 2zm.5-4.5l1-2 1.5 2zm7.5 2l-1-3 2.5 0zm4.5 3.5l-.5-2.5 2.5 1zm.5-4l-1-2.5 2.5.5zm7 0l-1.5-2.5 2.5-.5zm4 0l0-3 2 1zm7.5 0l-1-2.5 2.5 0zm0 4l-1-2.5 2.5.5zm5.5-3.5l-1-2.5 2.5 0zm4.5-1l.5-2.5 2 1.5zm6.5.5l-.5-3 2.5 1zm-1.5 3.5l1.5-2.5 1.5 2zm15-5l-3 0 1-2.5zm4 6l-2-2 2.5-1zm11-2l-2.5.5 0-2.5zm1.5-4.5l-3 .5 1-2.5zm11 4.5l-3 0 1.5-2.5zm2.5 4l-3-1 1.5-2zm10-3l-3 0 1.5-2zm1.5 3l-3 0 1.5-2zm4-4l-3 0 1-2zm4 2.5l-3 0 1-2zm3 2l-2.5-.5 1.5-2zm9-1l-3-.5 1.5-2zm-2-2.5l-2.5-.5 1.5-2zm12.5-2.5l-3 .5 1-2.5zm5 5l-3-.5 1.5-2zm5 1l-3-1 2-1.5zm5-5l-3 0 1.5-2zm-5 2.5l-2.5-1.5 2-1.5zm1.5 3.5l-1.5-2.5 2.5 0zm9-3.5l-2.5-1 1.5-1.5zm11-5.5l-2 2-1-2.5zm-7.5 2.5l-.5-3 2.5.5zm9 5l-2.5-2 2.5-1zm1.5-5l-2-2 2-1zm6-3.5l-2.5 1 0-2.5zm2 5l-1.5-2.5 2-.5zm4-2l-2.5-1.5 2.5-1zm2 2.5l-2-2 2.5-.5zm9.5-2l-3 .5.5-2.5zm5-1.5l-.5-3 2.5 1zm5 4l1-3 1.5 2zm4.5-1l-1-3 2.5.5zm1.5.5l.5-3 2 1.5zm5.5-2.5l-1.5-2.5 2.5-.5zm12.5 2l-1-2.5 2.5 0zm-1 6l0-3 2 1zm.5-4.5l-3-1 2-1.5zm-3.5 7l-1-3 2.5.5zm-9-3l-1-3 2.5.5zm-10.5 1l-1-2 2.5.5zm0-1l-2-2 2.5-1zm-3.5-1.5l-3-.5 2-2zm-5 4.5l-1-2.5 2.5 0zm2-3.5l-2.5-1.5 1.5-1.5zm-6.5 2l-1.5-2.5 2.5 0zm-1-3.5l-2-1.5 2-1zm-5.5 4.5l-2.5-1.5 2-1zm-3.5-6l-2-2 2-1zm-10.5 1l.5-3 2 1.5zm1.5 5.5l-1.5-2.5 2-.5zm-5-2.5l-2-1.5 2.5-1zm-3.5 1.5l-2-2 2.5-1zm-7-3.5l-2-1.5 2.5-.5zm-10.5 5.5l-2.5-1 1.5-1.5zm-7-4l-2.5-1 2-2zm3 1l-3 0 1-2zm-10.5 2.5l-3-.5 1.5-2zm-3-1l-3 .5.5-2zm-14-2.5l-3 0 1.5-2zm-2.5.5l-3 .5 1-2.5zm-2-2.5l-2.5 0 .5-2zm-.5 8l-3-.5 1.5-2zm-6.5-3.5l-2.5 0 1-2zm-1-4.5l-2.5 1 .5-2.5zm-10 4l-2.5 0 1-2.5zm-3.5 2l-2.5 0 1-2.5zm-25-8.5l-3 .5.5-2.5zm-13.5 6l0-3 2 1zm-6-5.5l.5-2.5 2 1.5zm-.5 4.5l0-3 2.5 1.5zm-6-5.5l1.5-2.5 1 2.5zm0 4.5l1-2 1.5 2zm-4 1.5l-1.5-2 2.5-.5zm-7-.5l0-2.5 2 1zm1.5-4l-2-2 2.5-.5zm-7 4.5l-.5-2.5 2 1zm-.5-4.5l-1-2.5 2.5.5zm-6 3.5l.5-2.5 1.5 2zm-6.5-4.5l1-2.5 1.5 2zm1.5 5.5l-1.5-2.5 2.5 0zm-7.5-1.5l1-2 1.5 2zm1 6l-.5-2.5 2.5.5zm6.5 0l-1.5-2.5 2.5 0zm5 0l-.5-2.5 2.5 1.5zm7.5 0l-1.5-2 2.5-.5zm5.5.5l-1-2.5 2.5 0zm3-2l2.5-1.5.5 2.5zm6.5-.5l1.5-2 1 2.5zm8 2.5l-.5-3 2.5 1zm5.5-.5l-.5-2.5 2.5 1zm10-2l-2.5 0 1-2zm4 1l-2.5 2-.5-2.5zm8.5-3l-3-.5 1.5-2zm6 2.5l-2.5.5 1-2.5zm26 3.5l-3 .5 1-2.5zm3 .5l-3 .5 1-2.5zm-.5-1l-3-.5 1.5-2zm4.5-2.5l-3 0 1.5-2.5zm19.5 1.5l-3 0 1-2zm3.5 4.5l-3-.5 1.5-2zm14.5-2l-3 0 1-2zm1.5-4l-3 0 1-2.5zm3.5 3.5l-3-1 2-1.5zm-1-4l.5-2.5 2 1.5zm9 2l-2.5-1 1.5-2zm5.5-1l-2.5-1.5 2-1.5zm5 2l-2.5-.5 1-2zm3.5-4.5l-3-.5 1.5-2zm5.5 2l-2.5-1.5 2-1zm6-1.5l-3 0 1-2zm1.5 3l-1.5-2.5 2.5 0zm23-4l-2-1.5 2.5-1zm3.5 1.5l-1.5-2 2-.5zm14.5 3.5l-1-3 2.5.5zm5.5-5l-2.5-1 2-1.5zm-2 8l.5-2.5 2 1.5zm-3.5 4l1-3 2 2zm-7.5-.5l-2.5-1 1.5-2zm-13 0l-.5-2.5 2.5.5zm-1-4l-1.5-2 2.5 0zm-2.5 4l-2-2 2.5-1zm-4.5-4l-2-2 2.5-.5zm-5.5 0l-2-2 2.5-1zm-5.5 5l-1.5-2.5 2.5 0zm-2.5-5l-1-2.5 2.5.5zm-12 3.5l-.5-2.5 2.5.5zm-1 .5l-2.5-2 2-1zm-3.5-2l-2.5-.5 1-2zm-7.5-3.5l1-2.5 2 1.5zm2.5 4.5l-2.5-2 2.5-1zm-5 .5l-2.5-1.5 2-1.5zm-3-4l-3 0 1.5-2.5zm-6 4l-2.5-2 2-1zm-2.5 2l-3-.5 2-2zm-2.5-6l-2.5-1 1.5-2zm.5 7.5l-3-1 2-2zm-6-4l-3-.5 1.5-2zm-4.5 3l-3 0 1.5-2.5zm-5.5-1.5l-3 0 1-2.5zm-1.5-.5l-3-.5 1.5-2zm-5.5-.5l-3-.5 1.5-2zm-3.5 3.5l-3 0 1.5-2zm-5-7l-3 0 1-2zm-1.5 7l-3 0 1-2zm-1.5-5l-3 .5 1-2.5zm-15-.5l-3 0 1.5-2.5zm-3 5.5l-2.5-.5 1-2zm-5-2.5l-2.5-.5 1-2zm-13.5-6l-3 0 1-2.5zm1.5 5l-2.5.5.5-2.5zm-7-2.5l-3 0 1.5-2.5zm-9-3.5l-2.5 1.5 0-2.5zm1.5 8.5l-3-.5 1-2zm-3 .5l-2.5 0 1-2zm-11-5l-1-2.5 2.5.5zm-7-.5l0-3 2.5 1zm-5-.5l-.5-2.5 2.5 1zm-7 1l0-3 2 1zm-7-2l2-2 1 2.5zm-4 1.5l-.5-2.5 2.5.5zm-5-.5l-.5-2.5 2 .5zm-4.5 1l-2-2 2-1zm-2.5 3l-.5-2.5 2.5 1.5zm6 1.5l.5-3 2 1.5zm6.5-.5l-.5-2.5 2.5 1zm5 .5l.5-3 2 1.5zm7.5 0l-1.5-2.5 2.5-.5zm4-.5l0-2.5 2 1.5zm8 0l-1-2.5 2.5.5zm15 4l-3 0 1-2.5zm-.5 2l-3 0 1-2zm5 1l-3 0 1.5-2zm0-3.5l-2.5-.5 1-2zm5.5 2.5l-3 0 1-2zm1.5 1.5l-3-1 1.5-1.5zm1-7.5l-3 .5.5-2.5zm16.5 5l-3 0 1-2.5zm4-1l-3-.5 1.5-2zm1.5-.5l-3 0 1-2zm2-1.5l-3-.5 1.5-2zm3 2.5l-2.5-.5 1-2zm6-3l-3 0 1-2zm6 4l-3 0 1-2zm3-3l-3 0 1.5-2zm13 2.5l-3-.5 1.5-2zm2.5 1l-3 0 1.5-2.5zm9-3l-3 .5 1-2.5zm-.5 2l-2.5 0 1-2.5zm9-1.5l-3 0 1-2.5zm-5.5 4.5l-2.5-1 2-2zm2.5-3l-2.5-2 2.5-1zm4-.5l-2.5-1.5 2.5-1zm5.5-1.5l-2.5-1.5 2-1.5zm10 .5l-3-.5 1.5-2zm4 2.5l-3 0 1.5-2zm-4.5-5l-2-2.5 2.5-.5zm6.5.5l-2.5-2 2.5-1zm3.5.5l-2.5-1 2-1.5zm3.5 2.5l-2.5-1.5 2-1.5zm2.5-4.5l-3-.5 1.5-2zm.5 2.5l1.5-2.5 1.5 2zm6.5.5l-1-2 2.5.5zm10.5-2.5l-1.5-2.5 2.5 0zm.5 4l-1.5-2 2.5-1zm2-5l0-3 2.5 1.5zm10 5.5l-1-3 2.5.5zm3.5-6.5l-2.5.5 1-2.5zm3 5.5l-2.5-1.5 2-1.5zm2 0l-2-1.5 2-1zm-.5-4l-1.5-1.5 2.5-.5zm2 4l-.5-3 2.5 1zm2.5-2l.5-2.5 2 2zm8 1l-1.5-2.5 2.5 0zm1.5 7l-1.5-2 2.5 0zm-3.5-1.5l-1.5-1.5 2.5-.5zm-5.5 1l-2.5-1 2-1.5zm-.5-2l-2.5-1 1.5-2zm-24.5-.5l-2-1 2.5-1.5zm-4.5.5l-1-3 2.5.5zm-14 1.5l-.5-2 2 .5zm.5-2.5l-1.5-2.5 2.5 0zm-4 2l-2.5-1.5 2-1.5zm-7-2l-1-2.5 2.5 1zm-1 0l-2.5-1 1.5-1.5zm-7.5 3l-1.5-3 2.5.5zm-4-3l-3-.5 1.5-2zm-11.5 7l-2-1.5 2-1zm3-3.5l-3 .5.5-2.5zm-7-.5l-2.5 0 1-2zm-.5 6l-2.5 0 1-2.5zm-7.5-7.5l-3-.5 1.5-2zm0 2l-3 0 1-2.5zm-9.5-1.5l-2.5-.5 1.5-2zm0 .5l-3-.5 1.5-2zm-3 1l-3 0 1-2zm-13 3l-3 0 1.5-2.5zm-8.5-5.5l-2.5.5.5-2.5zm-10 1.5l-2.5 0 .5-2zm-12.5 1l-3 0 1-2.5zm-5.5-1l-2.5 0 1-2.5zm-3.5.5l-3-.5 1.5-2zm1 2.5l-3-.5 1-2zm-6.5-2.5l-3 0 1-2.5zm-.5 4l-2.5-.5 1-2zm-6.5-7.5l-3 0 1-2zm-1 2.5l-3 .5 1-2.5zm-14 5l-3-.5 1-2zm22.5-1l-2.5 0 1-2.5zm7 3l-3 0 1.5-2zm9 3.5l-3 0 1.5-2zm3-4l-2.5-.5 1-2zm7 4l-2.5 0 .5-2zm5.5-3.5l-2.5.5.5-2.5zm10-1l-2.5 0 1-2zm10 2l-3-.5 1.5-2zm6.5-1.5l-2.5.5.5-2.5zm22 0l-3 0 1-2zm9 4l-3-.5 1.5-2zm-2.5-2l-2.5-1 1.5-2zm10-4.5l-3 0 1-2.5zm2.5 3.5l-3 0 1-2.5zm6 2.5l-3-1 2-1.5zm-8-9.5l2.5-1.5.5 2.5zm9 11l-2.5-2 2.5-.5zm4-5l-3-1 2-1.5zm-3 .5l1.5-3 1.5 2zm4.5-5.5l-2.5-.5 2-1.5zm4.5 5.5l-2.5-1 2-1.5zm.5-2.5l-.5-2.5 2.5 1zm14 1.5l-1.5-2 2.5-.5zm8.5 1.5l-3-.5 2-2zm10.5-2.5l-2-1 2.5-1zm2 1l-.5-3 2.5 1zm3 1.5l0-2 2 1.5zm4.5-3.5l-2-1 2.5-1zm.5 3.5l-1-2 2.5 0zm-1-2l.5-3 2 1.5zm7.5-1l-1-2.5 2.5.5zm0 5l-1-3 2.5.5zm2.5-4l-.5-2.5 2.5.5zm1.5 6.5l-3 .5 1-2.5zm-25 .5l1.5-2.5 1.5 2zm-2 .5l-1.5-2 2.5-.5zm-12 2l-1-2.5 2.5 0zm-9-3.5l-.5-2.5 2.5.5zm-1 2.5l0-3 2 1zm-3.5-2l-2-.5 2-1.5zm-13-1.5l2-2 1 2zm.5.5l-3-.5 1.5-2zm-2 1.5l-3 .5 1-2.5zm-8.5 1l-2.5-1.5 2-1.5zm-3.5 2l-3-1 2-1.5zm-7.5-4l-3 0 1-2zm-2 8l-2.5-.5 1.5-2.5zm-6-3.5l-3 0 1-2zm-1.5-5l-3 0 1-2zm-8.5 5.5l-2.5-.5 1-2zm-3.5-5l-2.5-.5 1-2zm1 6.5l-3-.5 1.5-2zm-6-4l-3 0 1.5-2.5zm-9.5-2.5l-2.5-.5 1.5-2zm2.5 4l-3 .5 1-2.5zm-4.5-2l-3 0 1.5-2.5zm-9-1l-3 0 1.5-2zm-12.5 4.5l-3 0 1-2.5zm-10-3l-3 0 1-2zm-12.5-2.5l-3 0 1-2.5zm.5 12l-2.5-.5 1.5-2zm2-8.5l-3 .5 1-2.5zm7 4.5l-2.5-.5 1-2zm8-.5l-3 .5.5-2.5zm5.5-.5l-3 0 1-2.5zm4.5 1l-3-.5 1.5-2zm.5 2.5l-3-.5 1.5-2zm5.5-1l-2.5-1 1.5-1.5zm7-1.5l-3-.5 1.5-2zm16.5 5l-2.5-.5 1.5-2zm2-3.5l-2.5-.5 1-2zm4-1l-3-.5 1.5-2zm12.5 2l-3 0 1-2zm5.5 1l-3 0 1-2.5zm.5-6l-3 0 1.5-2zm4 9.5l-3-.5 1.5-2zm-1.5-9.5l-2.5-1 1.5-1.5zm9.5 2.5l-3 0 1.5-2zm-.5-5.5l-3 0 1-2.5zm4.5 5l-3-.5 1.5-2zm2 1.5l-2-1.5 2-1zm10.5-3.5l-2.5-.5 1.5-2zm-1.5 4.5l-2-2.5 2.5-.5zm7.5-5.5l1-3 2 2zm3.5 4l-1.5-1.5 2.5-.5zm3 1l-1-3 2.5.5zm2.5-6l-2-1 2-1zm3.5 4.5l-2-2 2.5-1zm5-.5l-2.5-1.5 2.5-1zm6-3.5l-2 .5 1-2.5zm6 2.5l-1.5-2.5 2.5 0zm5.5-4l-2-1.5 2-.5zm13 2l-1.5-1 2-.5zm3.5 3l-1-2.5 2.5 0zm-9 6.5l-2.5-.5 1.5-2zm-3-4l-2-2 2-1zm-3 3l-1.5-2 2.5-.5zm-5.5 2l-2.5-2 2.5-1zm-7-2l0-2.5 2.5 1zm-6.5 1l0-3 2.5 1.5zm-5-1l1-2.5 2 2zm.5-1.5l-2-1.5 2.5-1zm-3.5-1.5l-2-.5 1.5-1.5zm-7 3.5l-2-2 2.5-1zm-4-5.5l-3 0 1-2.5zm-6 6l-2.5-.5 1.5-2zm-1-1.5l-3-.5 2-2zm-6-1l-3-.5 1.5-2zm-2 6.5l-2.5-1.5 2.5-1.5zm-5-6l-3-.5 1.5-2zm-14.5 5.5l-3-.5 1.5-2zm-6.5-6.5l-3 0 1-2zm-6 3l-3-.5 1.5-2zm-7.5.5l-2.5-.5 1-2zm1 0l-3 .5 1-2.5zm-7 1l-3-.5 1.5-2zm-9-.5l-3-1 2-2zm1 0l-3 0 1-2.5zm-9-1l-3 0 1-2zm-10.5-2.5l-3 0 1-2zm-21 2l-2.5 0 1-2zm24.5 4.5l-3 0 1-2zm-4 2.5l-2.5.5.5-2.5zm17.5 0l-3 0 1.5-2zm6.5-2l-3 .5 1.5-2.5zm2.5-1.5l-3 .5 1-2.5zm5 4l-2.5-.5 1-2zm3 .5l-2.5-.5 1-2zm12 3.5l-2.5-.5 1-2zm5-3.5l-3-.5 1-2zm4.5 6.5l-3-.5 2-2zm.5-7.5l-3-.5 1.5-2zm8-2.5l-3-.5 1.5-2zm1-1l-1.5-2.5 2.5 0zm10 3.5l-.5-2 2.5.5zm.5-2.5l-1-3 2.5 0zm5-1l-1-2.5 2.5 0zm1.5 2.5l-2-2.5 2.5-.5zm4.5-2l-3-.5 2-2zm11 2l-2-2.5 2.5-.5zm19.5-3.5l-2.5 0 1-2.5zm0 3.5l-1.5-2.5 2.5-.5zm5-3l-.5-3 2.5.5zm4 8.5l-2-2 2.5-1zm-3.5-2.5l-1-3 2.5.5zm-3.5-1.5l-2-1.5 2-1zm-3.5 2.5l.5-2.5 2 1.5zm-2.5 3.5l-.5-2.5 2.5.5zm0-5.5l0-2 2 1.5zm-.5-1l-2 1 0-2.5zm0 5.5l-2.5-1 1.5-1.5zm-6.5-4l0-3 2.5 1zm2.5 2l-2.5-.5 1.5-2zm-15-2.5l2-1 0 2.5zm-2-.5l-1.5-1.5 2-.5zm-4 5.5l-1-2.5 2.5 0zm0-4l-1.5-2 2.5-.5zm3 5l-3-.5 1.5-2zm-7.5-5.5l-1.5-2.5 2.5-.5zm0 0l-2.5 1 0-2.5zm-9.5 3l.5-3 2 1.5zm2.5-1.5l-2.5-.5 1.5-2zm-7.5 5.5l-3-1.5 2.5-1.5zm-5.5-6l-2.5-1.5 2-1zm0 3.5l-3-.5 1.5-2zm-6-4l-2.5-1 1.5-1.5zm-2 8l-2.5-1 1.5-2zm-7-3l-2.5-.5 1.5-2zm-19-4l-3 0 1-2zm-2.5 7l-3 0 1-2zm-4-7l-3 .5.5-2.5zm-8 7.5l-3-.5 1.5-2zm-4.5-3.5l-2.5 0 1-2.5zm-15.5-4.5l-3 .5 1-2.5zm14.5 10.5l-3-1 1.5-1.5zm5.5 0l-2.5 0 1-2.5zm7 .5l-3 0 1-2zm10.5-1.5l-2.5.5.5-2.5zm.5-7l-3 1 .5-2.5zm4.5 8.5l-3 .5 1-2.5zm3.5-2l-2.5.5.5-2.5zm9-6l-2.5 1.5 0-2.5zm2.5 6.5l-3 .5.5-2.5zm3-2.5l-2.5 1 0-2.5zm4 2l-2.5.5.5-2.5zm1.5-.5l-2.5-2 2-1zm11 1.5l-2.5 0 .5-2zm2-4l-2.5 0 .5-2zm5 2l-3 .5 1-2.5zm-3.5 0l-1.5-2.5 2.5-.5zm.5 0l1.5-2.5 1.5 2zm11-2l-3 0 1-2zm-4 .5l-1.5-1.5 2.5-.5zm2.5.5l-1-2 2.5.5zm12.5 1l-2.5-1.5 2-1.5zm-2.5 0l2-2 1 2zm10-4.5l.5-2 1.5 2zm8 7.5l-1-2.5 2.5 0zm-3.5 3l-1.5-2.5 2.5-.5zm-9.5 0l.5-2.5 1.5 2zm1-.5l-1-3 2.5.5zm-11 .5l-3-1.5 2-1.5zm-3-.5l-3 .5 1-2.5zm-13.5 1.5l-1-2 2.5 1zm-1.5-1.5l-1.5-2.5 2.5-.5zm-3.5-2l-2-1 2-1.5zm3.5 3l-3 .5 1-2zm-23 1.5l-3 .5 1-2.5zm-11-1.5l-3 0 1-2zm-6-3l-3 1.5.5-2.5zm-13.5 8l-3-.5 1.5-2zm19-.5l-3 .5.5-2.5zm8.5-2l-2.5 1.5 0-2.5zm6.5 2l-3 .5.5-2.5zm6-3.5l-2.5 2-.5-2.5zm4 3l-3 0 1.5-2zm4 1.5l-3 .5.5-2.5zm10.5-5l-3 1 .5-2.5zm8 5l-2.5 1 .5-2.5zm2.5.5l-3 .5 1-2.5zm-6.5 1l-2-2 2.5-.5zm11.5 1l-3 .5 1-2.5zm.5-6.5l-1.5-2 2.5 0zm.5 2.5l.5-2 1.5 2zm2.5-1.5l1.5-2.5 1.5 2zm-1.5 6.5l-2.5-1 2-1.5zm-6 1.5l-3 0 1-2zm-11.5 2.5l-.5-2.5 2.5 0zm.5-4.5l-2.5 0 .5-2.5zm-3.5.5l-3 1 .5-2.5zm-4.5.5l-2.5 1 0-2.5zm-1.5-2l-3 1 .5-2.5zm-6.5 2.5l-3 0 1-2.5zm-6 0l-2.5.5.5-2.5zm-17 4l-2.5 0 1-2zm-8-5l-3 0 1-2zm42 8.5l-1-2 2.5 0z" fill="#000" stroke="#000" stroke-width="0.3" stroke-linejoin="round"/></g><path id="qvm" d="M242 745h0m-51 9h0m4 7h0m5-1h0m5 1h0m24 6h0m-4-2h0m-4 1h0m-9-3h0m-3-1h0m-4 0h0m-16 2h0m0 2h0m0 1h0m-1 0h0m-11-4h0m2 8h0m2-1h0m2 3h0m7-2h0m1-3h0m6 1h0m10-1h0m13 0h0m5 2h0m0 1h0m0-2h0m7-1h0m3 1h0m7 8h0m0 2h0m-9 0h0m0-2h0m-1 2h0m-2-4h0m-63-1h0m60 10h0m5-4h0m1 1h0m7-1h0m2 1h0m0 2h0m1 0h0m0 0h0m0-2h0m5 1h0m0 4h0m-3 2h0m-1 2h0m-3-3h0m-3 4h0m0-2h0m-3-3h0m-62 4h0m-1-4h0m3 6h0m66 5h0m1-3h0m9 5h0m-1 1h0m-3 0h0m-4 3h0m-1-3h0m-1 2h0m-7 0h0m-2 6h0m2-2h0m0 3h0m1-5h0m2 3h0m3 1h0m2 0h0m0 0h0m7 1h0m1 0h0m13-3h0m-4 7h0m-7-2h0m-5 4h0m-2-3h0m-5 0h0m-1 0h0m-2 1h0m-1-2h0m-4 1h0m-60-1h0m51 10h0m3-4h0m1 1h0m0 1h0m8 1h0m2-3h0m1 4h0m3-2h0m3-3h0m0 3h0m1-2h0m1-1h0m0 5h0m3-4h0m1 1h0m9 3h0m-8 4h0m-5-2h0m-2 0h0m0 0h0m-1 2h0m-1-2h0m0-1h0m-2 4h0m0 0h0m-2-2h0m-1 0h0m-1 2h0m-10-3h0m-2 2h0m-1-3h0m-1 4h0m0-1h0m-2 1h0m-36-2h0m-8 3h0m-5-4h0m-8 9h0m15-2h0m9 3h0m2-4h0m3 4h0m7-1h0m1 1h0m7 0h0m12-5h0m5 3h0m1-2h0m3 2h0m0 0h0m0-2h0m3 0h0m2 1h0m1 1h0m6-3h0m4 1h0m2 3h0m2 1h0m1-2h0m-6 3h0m-1 0h0m-34 1h0m-9 0h0m-4 1h0m-1 0h0m-2-2h0m-11 1h0m-1 1h0m60 6h0m5-2h0m-6 10h0m5 8h0"/><path id="qvn" d="M140 754h0m-9 10h0m-21 3h0m-3 6h0m21-1h0m6 0h0m2-1h0m9 2h0m6-2h0m13 2h0m11-5h0m12 3h0m-15 4h0m-11 3h0m-21 0h0m-1-1h0m-2 2h0m-1 0h0m-7-5h0m-8 0h0m0 4h0m-8 7h0m7-3h0m2-2h0m0 2h0m5-2h0m6 4h0m1-2h0m4 1h0m0-3h0m1 3h0m0-2h0m3 1h0m1-1h0m1 4h0m3-3h0m2 0h0m1 2h0m1 1h0m0-3h0m4 0h0m5 0h0m1-1h0m3 4h0m7-3h0m1 1h0m1-3h0m3 1h0m3 1h0m-4 4h0m-1 5h0m-2-4h0m-5 4h0m-1-5h0m-3 4h0m0-1h0m-3-1h0m0 3h0m-1-2h0m0 0h0m-1 0h0m-1 1h0m-1-2h0m-4 1h0m0-2h0m-5 0h0m-4 1h0m-7 2h0m0-3h0m-3 0h0m0 3h0m-3-4h0m-1 1h0m-1 3h0m-1-3h0m-3 4h0m-3-3h0m-2-2h0m-12 1h0m-5 3h0m0-1h0m-3-3h0m0 9h0m24-1h0m3 1h0m1 0h0m8 1h0m2-2h0m8 0h0m0 1h0m1-2h0m7 3h0m1 1h0m5-5h0m3 3h0m5-3h0m4 5h0m2-3h0m1-2h0m-3 9h0m-7 1h0m-1 1h0m-6-4h0m-4 2h0m-2-3h0m-8 0h0m-3 0h0m-1 3h0m-2 0h0m-5-3h0m-1 5h0m-5-2h0m-1-3h0m-1 2h0m-1 0h0m-1 0h0m-1 0h0m-5 0h0m-2-1h0m-4 1h0m-3-1h0m-4 10h0m4-2h0m2 0h0m3-1h0m1 1h0m7-2h0m11-1h0m3 0h0m1 5h0m0-1h0m1-4h0m0 1h0m1 4h0m3-3h0m3 0h0m1 0h0m1 1h0m2-1h0m3 2h0m1-1h0m1-3h0m10 0h0m1 0h0m1 10h0m-12 1h0m-2-4h0m-3 4h0m-1-2h0m-1-3h0m-2 5h0m-14-3h0m0 3h0m-4-4h0m-1-1h0m-3 2h0m0-1h0m-3 1h0m0 1h0m-1 2h0m-1-4h0m0-1h0m-2 3h0m-2 7h0m4-2h0m2 3h0m9-2h0m0 0h0m11-3h0m1 4h0m12-3h0m3 2h0m8-3h0m2 0h0m-23 6h0m-15 4h0m-4-4h0m-4 3h0m-9 5h0m30 3h0m4-3h0m21 1h0m-39 5h0m-11-1h0m17 5h0"/><path id="qvo" d="M151 671h0m5 5h0m20 6h0m-5-1h0m-2 1h0m-6-1h0m-1-1h0m-1 1h0m-3 2h0m-3-5h0m-1 2h0m-1 0h0m0 3h0m-1-1h0m-2-2h0m0-1h0m-1 2h0m0 2h0m-2-5h0m-3 3h0m0 2h0m0-3h0m-3-1h0m-2 2h0m-16 7h0m2 0h0m1-1h0m1 1h0m3-2h0m1 2h0m2 1h0m1-1h0m3-3h0m2 1h0m1 3h0m1 0h0m3 0h0m1-5h0m1 2h0m1-1h0m1 0h0m0 4h0m0-5h0m1 2h0m1-1h0m0 3h0m1 1h0m0 0h0m0-2h0m1-2h0m0 4h0m0-4h0m1 4h0m1-5h0m3 3h0m0 2h0m1-1h0m1-1h0m1 2h0m1-1h0m2 0h0m1-2h0m1 3h0m0-4h0m0 4h0m2-3h0m1-2h0m1 4h0m0-2h0m0 0h0m0-2h0m1 5h0m1 0h0m0-4h0m0 4h0m1-4h0m4 2h0m1 2h0m0-4h0m15 4h0m5-2h0m-2 8h0m-1-4h0m-1 0h0m-1 3h0m-1-3h0m-1 2h0m-4-2h0m-2 4h0m0-5h0m-2 0h0m0 4h0m-1-1h0m0-1h0m0 0h0m0 3h0m-1-3h0m-1 3h0m0-4h0m-1-1h0m-1 0h0m-1 1h0m-1 4h0m-1-4h0m-1 4h0m0-3h0m0 2h0m0-3h0m0 0h0m-1 0h0m-2-1h0m-2 0h0m-1 3h0m0-2h0m0 4h0m-1-1h0m-2 0h0m0 1h0m0-5h0m-1 0h0m-2 0h0m0 0h0m-3 1h0m0 1h0m-6 1h0m-1-2h0m-1 0h0m0 2h0m0 0h0m-1 1h0m0-3h0m-1 1h0m0-1h0m-1 3h0m-1-4h0m-1 5h0m-3-3h0m-1 0h0m0 0h0m-1-2h0m-2 3h0m0 0h0m-3-3h0m-2 4h0m0-2h0m0-1h0m-2 0h0m-1 1h0m0 0h0m0 3h0m0-1h0m0 0h0m-1-2h0m-8-1h0m-15 2h0m8 4h0m0 3h0m0-3h0m1 1h0m2 1h0m4-1h0m0-1h0m2-1h0m0 0h0m0 5h0m1-5h0m2 1h0m0-1h0m1 4h0m1-1h0m7 0h0m0-3h0m1 1h0m0 0h0m0 1h0m1-2h0m1 0h0m0 3h0m0 0h0m0-3h0m0 3h0m0-3h0m2 4h0m2-3h0m0 0h0m3 1h0m0 0h0m1-1h0m1 4h0m0-4h0m3 4h0m1-5h0m2 0h0m1 3h0m0 1h0m0 1h0m1-4h0m0 4h0m1 0h0m0-1h0m1-4h0m1 5h0m2-4h0m3 2h0m0 1h0m0-3h0m1-1h0m0 4h0m0-2h0m1-2h0m0 3h0m1-1h0m1 3h0m0-1h0m0-1h0m1 2h0m2 0h0m0-2h0m0 2h0m0-2h0m2 2h0m1 0h0m0 0h0m1-1h0m0-4h0m1 5h0m1-2h0m3 1h0m1-4h0m1 1h0m1 4h0m1-2h0m1 1h0m0 1h0m7-2h0m1 2h0m0-2h0m0-3h0m3 5h0m1-3h0m0 2h0m0-1h0m0-2h0m1 3h0m2-3h0m2 2h0m0-1h0m1 2h0m3-1h0m1 0h0m0 0h0m0 2h0m9 0h0m0-2h0m5 8h0m-4-3h0m-2-2h0m-3 3h0m-1 0h0m-2 0h0m-1 0h0m-3-2h0m-1 3h0m-2-1h0m0 0h0m-1-3h0m-1 4h0m0-4h0m-1 0h0m-1 2h0m-1 2h0m0-4h0m-3 5h0m0 0h0m-2-3h0m-1 3h0m0-5h0m-2 4h0m-1-3h0m0-1h0m-1 0h0m0 4h0m0-1h0m0 1h0m0 0h0m-1-2h0m0 3h0m-1-3h0m0-2h0m0 1h0m-5-1h0m-1 0h0m-3 4h0m-2 0h0m0 0h0m0 1h0m-2-3h0m0 1h0m0-2h0m-1 1h0m-1-1h0m0 1h0m-4 3h0m0 0h0m0-3h0m-1 1h0m-2 1h0m0-1h0m-1-3h0m0 2h0m-1-1h0m-1 2h0m0 1h0m-1-3h0m-1 0h0m-1 4h0m-2-5h0m0 3h0m-2 0h0m-1-2h0m-1 4h0m0-3h0m-1 1h0m0-2h0m-2 0h0m-1 4h0m-3-3h0m-1 1h0m0 2h0m-1-3h0m0 0h0m-2-2h0m0 1h0m0 2h0m-3 2h0m-1-3h0m0 3h0m-1-4h0m0 2h0m-2 2h0m0-4h0m-3 0h0m-2 3h0m-1-2h0m0-1h0m0-1h0m0 4h0m-3 1h0m0-1h0m-2-4h0m0 3h0m0-1h0m-1 2h0m-1-2h0m-3 2h0m-3-4h0m-1 3h0m-3-1h0m-11 8h0m9-4h0m3 5h0m0 0h0m1-2h0m0 1h0m1-1h0m0-3h0m2 2h0m1-1h0m1 3h0m0 0h0m0-3h0m1 4h0m1-2h0m0-3h0m1 2h0m1 3h0m0-4h0m1 2h0m2-2h0m1 2h0m1-1h0m2-2h0m2 3h0m1 0h0m1-3h0m1 0h0m1 0h0m0 5h0m0-1h0m1-4h0m6 3h0m1-2h0m1 4h0m0-4h0m1 2h0m0 1h0m1 1h0m0-3h0m0 2h0m2-1h0m1 0h0m1 2h0m1-5h0m1 2h0m0 0h0m2-2h0m0 4h0m1-1h0m2-3h0m2 0h0m2 1h0m1-1h0m1 0h0m1 5h0m0-5h0m1 0h0m0 2h0m0 1h0m1-1h0m1 3h0m0 0h0m4-4h0m2-1h0m3 4h0m4 1h0m1-5h0m0 4h0m0-1h0m0-1h0m2 2h0m0-1h0m4 0h0m1 2h0m1-2h0m0 2h0m0-5h0m2 4h0m2-3h0m4 3h0m0-1h0m0 2h0m0 0h0m3-1h0m3-1h0m1 0h0m3 0h0m0 1h0m1-3h0m0 1h0m1 0h0m5-1h0m3 0h0m2 4h0m1-4h0m9 10h0m0-3h0m-3 1h0m-1 1h0m-1-2h0m-1 0h0m0-2h0m-2 1h0m-2 3h0m-1-1h0m-1-3h0m-2 5h0m-1-5h0m-1 4h0m0-3h0m-1 4h0m-2-5h0m0 2h0m-1 0h0m0 2h0m0 0h0m0-2h0m-1 2h0m-1-1h0m-1 1h0m-1-3h0m-1-1h0m-1 3h0m-2 0h0m-4 0h0m0-2h0m-1 0h0m0 2h0m-1 1h0m-1 0h0m-1-2h0m-2-1h0m-4 0h0m0 0h0m0 4h0m-2-4h0m0-1h0m-1 4h0m0-2h0m-1 2h0m-1-4h0m0 0h0m-1 1h0m-2 2h0m-2 0h0m0 0h0m-3 2h0m-1-5h0m-2 5h0m0 0h0m-2-3h0m-1-1h0m0-1h0m-2 4h0m-1-2h0m-2 1h0m-1-1h0m-2 1h0m0 2h0m0 0h0m-1-2h0m0-3h0m0 0h0m-1 3h0m0 1h0m-2-4h0m0 4h0m-1-2h0m-2-1h0m-2 2h0m-2-3h0m0 0h0m-2 3h0m-2 2h0m0 0h0m-1 0h0m-1-4h0m0 4h0m-1-1h0m-2-4h0m-1 2h0m0 0h0m-2 1h0m0 0h0m0 2h0m-1-4h0m-3 0h0m-1 2h0m-1-1h0m0 1h0m-1-3h0m-1 0h0m-1 2h0m-2 3h0m-1-4h0m0-1h0m0 1h0m-5 4h0m-1-3h0m-1-1h0m0 3h0m-1-1h0m-1-3h0m0 0h0m-1 3h0m-2 2h0m-3-1h0m-3-2h0m0 3h0m-2-2h0m-1 0h0m-12 7h0m11 0h0m5 1h0m2-3h0m0-2h0m3 2h0m0 3h0m0 0h0m1 0h0m3-5h0m1 2h0m3 2h0m0-1h0m1 2h0m0-3h0m0 0h0m0-2h0m1 4h0m0-3h0m2 2h0m2 1h0m0-4h0m1 2h0m5 2h0m0 0h0m1-4h0m2 2h0m1 1h0m0-1h0m0 3h0m1-4h0m0-1h0m1 1h0m1 1h0m0 3h0m6-5h0m1 5h0m2-3h0m1-1h0m1 4h0m0-3h0m1 2h0m1-1h0m0-1h0m2-1h0m2-1h0m3 1h0m3 1h0m1 3h0m1-2h0m0-1h0m2 3h0m1-5h0m0 1h0m1 4h0m1-3h0m1 0h0m1 1h0m0 1h0m1-4h0m0 3h0m0 1h0m1-2h0m0 3h0m0 0h0m1 0h0m0-2h0m2-1h0m0 2h0m0 1h0m2-1h0m2-4h0m0 2h0m1 0h0m0 1h0m1 2h0m0-3h0m1 3h0m1-5h0m1 0h0m2 1h0m0-1h0m1 4h0m0 1h0m1-1h0m1 1h0m3-2h0m0 1h0m1 0h0m2-4h0m0 2h0m2-1h0m2 1h0m1-1h0m2 4h0m1 0h0m1 0h0m2-4h0m1-1h0m0 4h0m0-1h0m1 2h0m1-4h0m0 2h0m2 1h0m0-3h0m0 3h0m1-4h0m0 0h0m1 5h0m2-3h0m1 3h0m2 0h0m1-2h0m2-1h0m1 3h0m0-4h0m0 1h0m2 3h0m4-1h0m9-1h0m-8 8h0m-1-1h0m-1 1h0m0-1h0m-6-3h0m-1-1h0m-2 3h0m-2 1h0m-1-1h0m0-2h0m-1 0h0m-1 0h0m-1 2h0m-1-2h0m-1 0h0m-6 3h0m0-3h0m-2 2h0m0 2h0m-2-1h0m-1-3h0m-3-1h0m-3 1h0m0 1h0m-1-1h0m0 2h0m-2-2h0m-2 3h0m-3 1h0m-1-4h0m-2 3h0m0-2h0m-3 3h0m-6 0h0m-1-1h0m-1-3h0m-2-1h0m-3 2h0m0 2h0m-1-1h0m-1-1h0m-3 3h0m-3-4h0m0 3h0m-4 1h0m-1-1h0m0 1h0m-5-1h0m-4 1h0m-1-5h0m-2 5h0m-2-5h0m0 0h0m-1 3h0m-2-2h0m-1 4h0m0-5h0m-2 1h0m0 2h0m-2-3h0m-2 3h0m-1 0h0m-1 2h0m0-5h0m-1 5h0m0-5h0m0 5h0m0-3h0m-1-1h0m0 1h0m0 3h0m-1-4h0m-2-1h0m-1 4h0m0-2h0m-1 0h0m-1 3h0m-2-5h0m-1 0h0m0 3h0m0 2h0m0-1h0m-1-1h0m-1 2h0m-1-5h0m-1 0h0m0 4h0m-4 0h0m0-4h0m-2 1h0m-1 0h0m-4 1h0m-3 2h0m0 1h0m-3 1h0m7 3h0m0 2h0m0-1h0m0-3h0m1 4h0m1 0h0m1-3h0m1 2h0m5-3h0m1 1h0m1-1h0m0 0h0m0 0h0m3 1h0m1 0h0m1 0h0m1 3h0m0-2h0m0 2h0m0-4h0m1 0h0m2 3h0m0-2h0m1 0h0m2-2h0m0 5h0m3-5h0m0 1h0m0 4h0m3-1h0m0-1h0m3 2h0m0-3h0m0 0h0m2-2h0m0 3h0m2-3h0m0 2h0m0-2h0m0 4h0m1-4h0m2 2h0m0 0h0m1 0h0m0-1h0m1-1h0m0 1h0m1 2h0m1-1h0m2-1h0m1 0h0m1-1h0m0 0h0m2 4h0m0-3h0m1 3h0m0-4h0m3 3h0m2 1h0m0 0h0m1-2h0m1 0h0m0 1h0m0-2h0m2 2h0m0 1h0m1-2h0m2-1h0m0 0h0m1 2h0m0-2h0m1 3h0m3-3h0m5-1h0m0 1h0m0 2h0m1 0h0m0 2h0m1-4h0m1 3h0m0-2h0m0-2h0m2 0h0m0 4h0m0 1h0m2 0h0m0-3h0m2 3h0m1-2h0m1-3h0m2 4h0m3-3h0m2 2h0m1-3h0m5 1h0m0 2h0m2 0h0m1-1h0m2-1h0m2 1h0m3 2h0m10-4h0m2 3h0m1 0h0m2-1h0m2 0h0m0-2h0m1 2h0m0-2h0m1 4h0m0 0h0m0 1h0m6 0h0m1-2h0m-4 8h0m-1 0h0m0-3h0m-2 2h0m-1 1h0m-1-5h0m-3 1h0m0 0h0m-3 0h0m0 4h0m0 0h0m-1-3h0m0-2h0m-3 4h0m-1-2h0m0-2h0m-3 4h0m-1-1h0m-1 1h0m-1-1h0m0-2h0m0 1h0m-1 2h0m-1 0h0m0-1h0m0-3h0m-2 2h0m0-1h0m-1 4h0m0-4h0m0 3h0m-10-1h0m0 2h0m-1-5h0m0 3h0m0-1h0m-2 3h0m-3-2h0m-5 0h0m0-1h0m0 1h0m0-2h0m0 4h0m-2-3h0m0-1h0m-1 4h0m0-2h0m0-2h0m-1-1h0m0 4h0m0 0h0m-1 0h0m-5 1h0m-1-4h0m-2 0h0m0-1h0m-1 2h0m-1 3h0m0-2h0m-1 2h0m-2-1h0m-1-4h0m0 3h0m-1-2h0m0-1h0m-2 5h0m-1-2h0m0-2h0m-1-1h0m0 2h0m0 1h0m-1-1h0m0 0h0m0-1h0m-3 4h0m-1-1h0m-5-2h0m-1 0h0m-3 0h0m0 2h0m0-2h0m-2-2h0m0 3h0m-1-2h0m0 3h0m0-1h0m-1 2h0m-1-2h0m0-3h0m-1 2h0m0 2h0m0 0h0m-3-1h0m-6 1h0m0 1h0m-1-5h0m-2 3h0m0 1h0m0-4h0m-3 3h0m-1-2h0m-1 1h0m-3 2h0m0 0h0m-1-1h0m-1 2h0m-1-4h0m0 2h0m-1 1h0m0 1h0m0-4h0m-4 1h0m0-1h0m-1 0h0m-1 3h0m0-4h0m-1 3h0m-1-2h0m-1 0h0m0 2h0m-3 1h0m-1-4h0m-1 0h0m-4 4h0m5 5h0m4 2h0m0-2h0m0 0h0m3 0h0m1-3h0m1 0h0m3 3h0m1 2h0m0 0h0m0-4h0m0 2h0m1 0h0m1-2h0m3-1h0m0 0h0m0 5h0m2-5h0m2 4h0m0-1h0m2-1h0m0-2h0m0 3h0m4 1h0m1-1h0m1 0h0m1-3h0m2 5h0m0 0h0m1-4h0m2 0h0m3-1h0m0 1h0m2 4h0m1-2h0m1-2h0m3-1h0m0 0h0m2 2h0m0 0h0m5-1h0m1 0h0m0 3h0m5 1h0m0-3h0m1 1h0m0 2h0m2-1h0m5-3h0m0 0h0m1-1h0m1 4h0m3-1h0m4-3h0m3 3h0m0-3h0m9 5h0m0-5h0m1 1h0m2 1h0m1 1h0m3-1h0m0 0h0m1 2h0m2-1h0m3-3h0m0 3h0m0-3h0m1 3h0m0-3h0m0 2h0m0 2h0m2-3h0m3 0h0m2-1h0m1 4h0m1-3h0m1 2h0m0-2h0m1 1h0m1-2h0m0 5h0m1-2h0m5-3h0m2 3h0m3 0h0m0 2h0m1-3h0m1 3h0m1-4h0m2 2h0m1 2h0m3-1h0m-6 3h0m-3 1h0m-1 1h0m-2-2h0m-3 2h0m-1-1h0m-2 0h0m-2 3h0m-2-5h0m-3 1h0m0-1h0m-1 2h0m-3 0h0m0 0h0m0 2h0m-1-1h0m0 0h0m-2-3h0m-3 4h0m-2-2h0m-3 1h0m0-1h0m-1-2h0m-1 1h0m0-1h0m-2 3h0m0 1h0m-1 0h0m-2-4h0m0 5h0m-4-3h0m0 3h0m-2-3h0m-1 0h0m0-2h0m-1 2h0m0 1h0m-5 1h0m0-2h0m0 0h0m-2 1h0m-3 1h0m-2-2h0m0 1h0m0 2h0m-1-2h0m-2-3h0m-4 4h0m-1 1h0m-1-1h0m0-3h0m-1 2h0m-2-3h0m0 4h0m-1-3h0m-1 4h0m0-1h0m-3-2h0m0 3h0m-2 0h0m-1-5h0m-1 3h0m0 0h0m-5-3h0m0 0h0m-2 5h0m0-5h0m-2 0h0m-1 3h0m0 1h0m-2-2h0m-1-2h0m-1 0h0m-2 2h0m-1 0h0m0 0h0m0-2h0m-1 0h0m-2 0h0m0 3h0m0 0h0m-1-1h0m-2 0h0m-2 0h0m0-2h0m0 3h0m-2-3h0m-2 2h0m-1 0h0m-2-2h0m0 0h0m-6 5h0m-3-4h0m-1 0h0m-3-1h0m0 5h0m-2 5h0m6-2h0m4 0h0m2-2h0m1 3h0m2 0h0m5-3h0m4 1h0m0 3h0m1-1h0m0 1h0m4-1h0m0-3h0m3 0h0m1 0h0m1 5h0m0-2h0m0-1h0m1 2h0m4 0h0m1 0h0m0-2h0m1 3h0m1-4h0m0 3h0m0 1h0m1-5h0m0 0h0m0 4h0m1-2h0m0 0h0m2-2h0m0 0h0m1 5h0m1-3h0m2 0h0m0-2h0m1 1h0m0 3h0m0-1h0m0 1h0m1-1h0m1 1h0m2-2h0m2-2h0m1 5h0m1-3h0m1 3h0m1-5h0m2 3h0m0 1h0m3-4h0m0 4h0m2 1h0m0-2h0m1 1h0m1-1h0m1 0h0m1 1h0m1 1h0m2-2h0m5 1h0m0-2h0m1-1h0m1 0h0m4 2h0m2 2h0m1-3h0m2 3h0m3 0h0m1-4h0m1 4h0m1-4h0m6 0h0m0 0h0m0 0h0m0-1h0m1 2h0m3 1h0m0-1h0m1 1h0m1 1h0m1-4h0m0 0h0m1 3h0m1-1h0m7-2h0m1 1h0m0 2h0m1-1h0m3 1h0m2-2h0m3 1h0m2-1h0m9-1h0m-11 7h0m0 1h0m-8 1h0m-1-2h0m-2 2h0m0 1h0m-5-3h0m-4 1h0m-4-2h0m-1 2h0m-4 1h0m-3 1h0m-5 0h0m-1-2h0m-2 1h0m-3 0h0m-2 1h0m-2 1h0m0-4h0m-1 3h0m-1 1h0m0-4h0m-1-1h0m-5 3h0m-1-1h0m0 0h0m-2-1h0m-2-1h0m0 0h0m-2 3h0m-2 2h0m-10-2h0m0-3h0m-3 5h0m-3-1h0m-2 1h0m-5-3h0m-2-1h0m-1-1h0m0 0h0m0 3h0m-2-2h0m-3 0h0m-2-1h0m-2 0h0m-1 2h0m-2-1h0m-8-1h0m-1 2h0m0-2h0m3 6h0m11 3h0m16-2h0m3 0h0m2 1h0m0-2h0m1 3h0m1 2h0m7-4h0m1 4h0m2-5h0m6 1h0m1-1h0m1 0h0m1 4h0m4-3h0m0-1h0m2 5h0m0 0h0m10-2h0m7-3h0m1 1h0m-4 5h0m-12 0h0m-5 3h0m-9-3h0m-24 5h0"/><path id="qvp" d="M67 747h0m16 8h0m-27-5h0m-3 3h0m-7 5h0m10-2h0m3 4h0m4 1h0m3-2h0m10 0h0m6 1h0m-1 2h0m-8 0h0m-3 4h0m-1 1h0m-7 0h0m-2-2h0m-1-2h0m-6 1h0m-1-1h0m-6 3h0m-1 1h0m-1 0h0m-4 2h0m7 4h0m6-4h0m10 1h0m1-1h0m4 3h0m4-4h0m1 5h0m1-2h0m2-1h0m5 2h0m8-3h0m-13 10h0m-2-3h0m-3 3h0m-1-1h0m-2-1h0m-3 0h0m-1 1h0m-4-2h0m-5-1h0m0 4h0m-6-1h0m-10-3h0m8 5h0m8 5h0m5 0h0m8-1h0m8 1h0m0 0h0m18-4h0m0 5h0m-10 5h0m-7-5h0m-4 5h0m-15-2h0m-27 1h0m6 6h0m3 0h0m10 0h0m3 1h0m11-4h0m6 4h0m6-4h0m8 1h0m2-1h0m8 4h0m-21 3h0m-2 2h0m-14-4h0m-5 5h0m-12 1h0m15 5h0m2-4h0m1 3h0m1-2h0m18-1h0m3 4h0m-11 5h0m-6-1h0m-7 2h0m0 2h0m6 3h0m3-3h0m-2 5h0m-2 3h0m-21-1h0m36 15h0"/><path id="qvq" d="M182 776h0m58 26h0m-15 31h0m9 6h0m-16 0h0m-3 0h0m-2-4h0m-1 2h0m-2-2h0m-3 2h0m-4-1h0m-19 3h0m-4 2h0m2 3h0m2-1h0m2 2h0m3 0h0m2-5h0m2 5h0m3-4h0m5 4h0m3-3h0m2 1h0m12 1h0m1 0h0m5-4h0m5 4h0m5 0h0m-1 7h0m-1-2h0m-13 1h0m-4-4h0m-4 2h0m-1-1h0m-9 4h0m-4 0h0m-1-5h0m-12 3h0m14 8h0m34 1h0m-29 4h0m-9 5h0m26-1h0m-8 7h0"/><path id="qvr" d="M139 750h0m-44 4h0m3 2h0m3 2h0m9 2h0m4-2h0m6 1h0m2 2h0m3-2h0m7 0h0m1 2h0m21 4h0m-15-1h0m-4 0h0m-1 1h0m-9 0h0m-6-3h0m-1 1h0m-1 0h0m-1 2h0m-3 0h0m-17 1h0m-4 7h0m15-3h0m0-1h0m6 2h0m1 1h0m1 1h0m0-4h0m1 3h0m1 1h0m6-2h0m4-3h0m6 0h0m2 4h0m0-3h0m9 2h0m5-3h0m-8 6h0m-8 3h0m-4 1h0m0 1h0m-4-5h0m0 1h0m-3 0h0m-11 2h0m-3-3h0m0 2h0m-3 3h0m6 3h0m5-1h0m4 1h0m0-2h0m0 5h0m12-2h0m2 2h0m16-1h0m5 0h0m11-4h0m-63 8h0m15 5h0m3 4h0m6-2h0"/><path id="qvs" d="M153 677h0m16 0h0m14 6h0m-6-4h0m-4 3h0m-2-1h0m-4-3h0m-3 1h0m-2 2h0m-1 2h0m-1-2h0m-1 2h0m-1 0h0m-5-1h0m-1-1h0m-2 1h0m-5 0h0m-5-2h0m-9 6h0m4 1h0m1-3h0m0 2h0m1 2h0m0 1h0m3-3h0m1-1h0m0 4h0m1 0h0m1 0h0m0-3h0m2 3h0m1-2h0m1-1h0m0-2h0m0 2h0m2-1h0m0 4h0m2-1h0m1-4h0m2 5h0m0 0h0m0-5h0m1 5h0m1-4h0m5 3h0m0 1h0m1 0h0m2-2h0m1 1h0m1-4h0m0 1h0m3 4h0m4-3h0m2 1h0m0-1h0m0-1h0m0 2h0m3 2h0m2-4h0m1 4h0m2-2h0m1-1h0m14 6h0m-3 1h0m-1 1h0m-5 1h0m-2-2h0m-1 2h0m-1-2h0m-1-2h0m0 1h0m-1-1h0m0 4h0m0-5h0m-1 2h0m-2 0h0m-1-1h0m-1 4h0m0-1h0m0-2h0m-1 1h0m-2 0h0m0-2h0m0-1h0m-2 2h0m0-1h0m0 1h0m0 3h0m-1-3h0m-1 0h0m-1 0h0m0 2h0m0 0h0m-1 1h0m-1-1h0m-1 0h0m0-3h0m-1 2h0m0-1h0m-2 0h0m-3 3h0m0-4h0m0 1h0m-1 1h0m-1-2h0m-1 1h0m0 1h0m-1 0h0m0 1h0m-1 0h0m-1-3h0m-1 4h0m-1-5h0m0 1h0m-1 2h0m-3-3h0m0 2h0m-1 2h0m-1 1h0m0-1h0m0-4h0m-1 4h0m-1-2h0m0 1h0m-1 2h0m0-3h0m-1 1h0m0-2h0m-1 0h0m-2 2h0m-1 1h0m-1 1h0m-2-4h0m0 4h0m-4 0h0m0 0h0m-7 0h0m-1 0h0m-1-1h0m0-2h0m-3-2h0m-8 10h0m4 1h0m1 0h0m1-1h0m2 1h0m0 0h0m5-4h0m3 3h0m2 1h0m0-2h0m0 0h0m0-1h0m2-1h0m0 1h0m1-1h0m1 4h0m0-2h0m1-1h0m0 1h0m1 2h0m0-2h0m3-3h0m2 1h0m0 1h0m1 0h0m0-2h0m1 5h0m1 0h0m3-3h0m6-1h0m0 2h0m1 1h0m0-3h0m0 1h0m1 3h0m1-1h0m1 0h0m0-4h0m1 2h0m1 2h0m3-2h0m3-1h0m0 3h0m5-2h0m1-2h0m1 1h0m0 0h0m0-1h0m1 5h0m0 0h0m4-5h0m0 1h0m1 4h0m2-3h0m1 3h0m0 0h0m0-1h0m4-1h0m0 0h0m1 1h0m1-4h0m0 3h0m1-1h0m0 2h0m4 1h0m2-3h0m3 1h0m2 2h0m3-4h0m8-1h0m8 9h0m-3 1h0m0-1h0m-2 0h0m0 1h0m-2 1h0m-1-3h0m-2-2h0m0 5h0m-1-5h0m-1 1h0m0-1h0m-3 4h0m0-4h0m0 5h0m-1-2h0m-2 0h0m-3 0h0m0 1h0m-2-4h0m-3 3h0m-1-1h0m0 0h0m0 3h0m0-2h0m0 0h0m-3 0h0m-2-3h0m-2 1h0m-1 1h0m-4-2h0m-1 2h0m-1 2h0m-1-1h0m0-1h0m-1-1h0m0 1h0m-2 0h0m-3-2h0m0 5h0m0-5h0m-1 3h0m-1 0h0m-1 1h0m0-3h0m0 0h0m0 1h0m-1-1h0m-3 2h0m-2-3h0m0 0h0m-1 3h0m-1 1h0m-1-1h0m-1 1h0m-2-3h0m-6 0h0m0 0h0m0 2h0m-2 0h0m-2 2h0m0-3h0m-2-2h0m0 2h0m-1 0h0m-2 3h0m0-2h0m-1-3h0m-1 3h0m0-3h0m-2 4h0m-1-3h0m-1-1h0m-1 0h0m-2 2h0m-1-1h0m-1 0h0m-1 4h0m-1-3h0m0 3h0m-1-5h0m-1 2h0m-1 2h0m-5-2h0m-1 1h0m-2-2h0m-2 3h0m-2-1h0m-5 2h0m-4 3h0m2 3h0m2-1h0m0-1h0m2 0h0m2-1h0m0 2h0m2-3h0m1 4h0m1-4h0m2 1h0m0-2h0m2 0h0m0 5h0m0-4h0m0 4h0m1-3h0m1 0h0m0 2h0m0-1h0m1 0h0m0 2h0m0-3h0m2-2h0m2 5h0m0-3h0m1 1h0m0 2h0m1-5h0m0 5h0m1 0h0m1-3h0m1 3h0m1 0h0m1-4h0m0 2h0m0-3h0m3 4h0m1 0h0m1-2h0m1 3h0m2-2h0m2-1h0m3 1h0m0 1h0m1 1h0m0-2h0m2-3h0m1 4h0m3 1h0m2-5h0m0 5h0m0-1h0m6-4h0m1 5h0m3-2h0m0-3h0m1 1h0m3 1h0m8 0h0m1-2h0m2 5h0m0-4h0m1 4h0m2-4h0m1 2h0m1 1h0m0-4h0m1 3h0m1-3h0m1 1h0m3 3h0m1-2h0m3-2h0m0 1h0m1 4h0m1-4h0m0 0h0m1 0h0m1 3h0m0-4h0m0 2h0m1-2h0m0 4h0m0 0h0m4 1h0m2-3h0m1-1h0m1 4h0m3 0h0m1-4h0m0 2h0m0-1h0m2 3h0m1-2h0m3-3h0m0 5h0m2-3h0m1 3h0m1 0h0m7 5h0m-4-1h0m0 1h0m-4-4h0m-1 5h0m-1-4h0m-1 1h0m0-2h0m-1 1h0m-1-1h0m0 5h0m-1-1h0m-3-4h0m0 2h0m-1 2h0m-1-4h0m-4 1h0m0 1h0m-1 2h0m-2-2h0m-1 3h0m-1 0h0m-1-4h0m-1 2h0m-1-2h0m-1 0h0m0 2h0m-4 0h0m-1-1h0m-2 1h0m-3-1h0m-1-2h0m-3 2h0m0 0h0m-2 2h0m-4-2h0m-3 3h0m0 0h0m-1-4h0m0 2h0m-3 2h0m0 0h0m-3-1h0m-1-3h0m-1-1h0m0 0h0m-3 2h0m-1-1h0m0 2h0m0-2h0m-2 2h0m-1-3h0m-5 4h0m-2 0h0m0-2h0m-2 3h0m0-1h0m-1-1h0m-2 2h0m-1-5h0m0 1h0m-1 1h0m-1 1h0m-1 0h0m-2-1h0m-7 1h0m0-3h0m-1 1h0m0-1h0m-2 2h0m0 1h0m-1-3h0m0 2h0m-1-2h0m-2 4h0m-1 1h0m0-5h0m-2 4h0m-2-2h0m-1 0h0m-1 2h0m-1-1h0m0 2h0m-1-1h0m-1-1h0m-1 0h0m0 1h0m-2-1h0m0 1h0m-1-3h0m-2 0h0m-1 0h0m-1 3h0m-1-4h0m0 5h0m-1 0h0m0-2h0m0-1h0m-1 3h0m0-5h0m-2 1h0m0 4h0m2 1h0m3 0h0m1 3h0m0-1h0m0 2h0m0-2h0m0 2h0m1 1h0m1-5h0m0 0h0m0 0h0m0 0h0m2 2h0m0 2h0m2-2h0m1 2h0m1 0h0m0 0h0m0-4h0m1 5h0m1-4h0m0 4h0m2-1h0m2-2h0m1 2h0m1-2h0m2-1h0m1 4h0m2 0h0m0-2h0m1 0h0m0 2h0m1-2h0m1-1h0m3 1h0m2-2h0m0 2h0m1 2h0m0-5h0m0 2h0m1-2h0m1 0h0m0 1h0m2 3h0m1-2h0m0-2h0m4 5h0m0-2h0m1-1h0m2 1h0m0-2h0m0-1h0m5 2h0m1 1h0m6-2h0m0-1h0m2 4h0m2-2h0m1-2h0m0 3h0m1-3h0m0 2h0m1 2h0m0-2h0m1-2h0m0 4h0m1 0h0m0 1h0m2 0h0m1-1h0m2 1h0m1 0h0m2-4h0m1 2h0m1-1h0m0 0h0m1 0h0m1 1h0m1-1h0m0 0h0m1 3h0m0-2h0m0-3h0m3 1h0m1 4h0m0 0h0m3 0h0m1-5h0m4 2h0m1 0h0m3 1h0m0 2h0m0-2h0m4-1h0m1 3h0m0-2h0m1-1h0m3 1h0m1-2h0m0 0h0m4 3h0m2 1h0m1-5h0m1 0h0m0 0h0m3 4h0m1-3h0m0 1h0m1-1h0m1 1h0m1-2h0m1 4h0m6 7h0m-1 0h0m-7-2h0m-3-3h0m-3 4h0m-4-1h0m0 1h0m-1-3h0m-1 3h0m-1 0h0m-6-1h0m0-3h0m-1 3h0m-1-3h0m-1 3h0m-1 0h0m-8-2h0m0 0h0m-2 4h0m-1-1h0m0-1h0m0-3h0m-1 4h0m-5 1h0m0-3h0m-1 1h0m0 0h0m-1 2h0m-1-1h0m0-4h0m-1 5h0m-1-2h0m0-1h0m-2 0h0m0 1h0m-2 2h0m0 0h0m-1-5h0m0 5h0m-2-3h0m-2 3h0m-1-1h0m-1 0h0m-4-2h0m-1-2h0m0 4h0m0-1h0m-3-2h0m0 1h0m-1 0h0m-1-1h0m-1 3h0m-3-1h0m-2-1h0m-1 3h0m-2-2h0m0 0h0m0 2h0m-1-3h0m0-2h0m-1 1h0m-1 2h0m0 0h0m-1-1h0m-1 1h0m0 1h0m0 0h0m-1 1h0m0-4h0m0-1h0m-3 3h0m-1-1h0m0-2h0m-1 4h0m0 1h0m-1-3h0m0-1h0m-1 1h0m-1-1h0m0 0h0m0 2h0m-1-3h0m0 4h0m-1-3h0m0 1h0m-1 1h0m-1 0h0m0-3h0m-1 0h0m0 5h0m-2-1h0m-1-1h0m-2 2h0m0-5h0m-3 5h0m0-4h0m0 1h0m0 0h0m0-1h0m-2 1h0m0-1h0m-1 0h0m-1 1h0m-1 1h0m-1 1h0m0-2h0m-4-2h0m-2 5h0m0-1h0m0-2h0m0 0h0m0 0h0m-1 3h0m0-4h0m-2-1h0m0 5h0m0-2h0m0 1h0m0-3h0m-1 2h0m0-3h0m-1 5h0m-1-3h0m-1 2h0m-2 1h0m0-5h0m-2 0h0m0 0h0m0 3h0m-11 0h0m2 7h0m7-4h0m2 1h0m2 2h0m2-3h0m0 2h0m2 3h0m0-5h0m0 4h0m3-1h0m1 0h0m0-2h0m1 1h0m3 3h0m0-2h0m1 0h0m1-3h0m1 4h0m1 1h0m2-3h0m0 2h0m0-1h0m0 1h0m1-4h0m0 3h0m1-2h0m1 1h0m2 0h0m6 3h0m0 0h0m1-5h0m0 2h0m2 2h0m3 1h0m0 0h0m1-4h0m1 4h0m2 0h0m1-5h0m0 4h0m0 1h0m1-2h0m2-3h0m3 0h0m0 4h0m0-1h0m1 2h0m2-2h0m2 1h0m4-1h0m0 2h0m1-3h0m0 3h0m0-5h0m1 0h0m0 5h0m2-2h0m0-2h0m0 1h0m2 0h0m1-2h0m2 0h0m2 4h0m2-4h0m0 4h0m1 1h0m0-1h0m1-3h0m2 4h0m3-1h0m0-1h0m3 1h0m1-2h0m0 3h0m2-1h0m1-1h0m1-1h0m1 3h0m2 0h0m0 0h0m3-2h0m2-1h0m2 0h0m1 1h0m1-2h0m1 0h0m0 3h0m1-2h0m0 3h0m2 0h0m4 0h0m4-5h0m2 1h0m1-1h0m0 1h0m1 3h0m1-4h0m3 4h0m3 1h0m1-3h0m1 3h0m1-3h0m0 3h0m0-4h0m2 2h0m2-2h0m2 3h0m3-1h0m0-1h0m5 3h0m-3 1h0m0 3h0m-1 1h0m-3-4h0m-2 3h0m0 1h0m-1-1h0m-1 0h0m-1-2h0m-2 4h0m-3-3h0m-7 3h0m-5-3h0m0 1h0m0-3h0m-1 5h0m0-4h0m0 4h0m-3 0h0m0-4h0m-1 3h0m-1-2h0m-1-2h0m0 2h0m-3-2h0m-1 4h0m-1-4h0m-2 5h0m-1-4h0m0 4h0m-2-2h0m-1-1h0m-1 2h0m-1-1h0m0-3h0m-1 5h0m-1-5h0m-4 0h0m-1 0h0m0 3h0m-1-1h0m0 0h0m-1 0h0m0 3h0m-1-5h0m-1 5h0m-4-4h0m-3-1h0m-2 0h0m-1 0h0m-1 4h0m0 0h0m0-4h0m-1 3h0m-3-2h0m0-1h0m-1 4h0m0-2h0m-1-2h0m0 0h0m-1 5h0m-2-2h0m-1 1h0m0 0h0m-1 0h0m-1 1h0m-1 0h0m-1-3h0m0-1h0m-1 2h0m-1-1h0m0 0h0m-1-2h0m0 1h0m-1 0h0m0 0h0m-7-1h0m-4 1h0m-1 2h0m0 1h0m-2-4h0m-4 2h0m0-1h0m0 3h0m-2-1h0m-1-3h0m-1 0h0m-3 3h0m-5 2h0m-1-4h0m-1 2h0m-1 0h0m0 1h0m-3 1h0m0-4h0m0 3h0m0 0h0m-3-2h0m-1-1h0m0 1h0m-2 1h0m0 1h0m-1-1h0m0 2h0m-1-2h0m0 2h0m0-5h0m-1 3h0m-1-1h0m-1 2h0m0-3h0m-1 3h0m0-2h0m-2 4h0m2 5h0m4-5h0m0 5h0m1-1h0m1 0h0m3 1h0m0-5h0m1 1h0m1 0h0m1 0h0m0 3h0m0 0h0m0-4h0m0 3h0m1 1h0m1-1h0m2-2h0m0 4h0m2-4h0m1 2h0m0 1h0m2-3h0m1 1h0m1 2h0m0-2h0m0 2h0m1 0h0m1-4h0m4 5h0m1-3h0m2 3h0m1-4h0m1 3h0m0-1h0m5-3h0m1 3h0m3-3h0m2 0h0m0 2h0m3 0h0m1 0h0m2-1h0m1 3h0m4 0h0m1-4h0m1 0h0m1 3h0m0-2h0m1 4h0m0-2h0m0 2h0m0 0h0m2-4h0m1 4h0m0 0h0m1-3h0m0-1h0m1 2h0m1-2h0m2-1h0m1 5h0m4-2h0m4-1h0m0-1h0m3 0h0m2 4h0m2 0h0m0-2h0m0 0h0m1-1h0m2 1h0m0 2h0m3-2h0m2-1h0m2 3h0m1-1h0m4 1h0m1-4h0m0-1h0m2 0h0m1 4h0m0-1h0m1 2h0m0-1h0m1-3h0m1 0h0m0 2h0m1-2h0m1 2h0m6-1h0m0 0h0m1 1h0m0-3h0m3 4h0m2 0h0m1-2h0m1-1h0m0 2h0m1-3h0m1 3h0m1 0h0m0-2h0m1 4h0m1 0h0m1 0h0m1 0h0m1-5h0m3 0h0m1 5h0m5 1h0m-7 0h0m-3 3h0m0-1h0m0-1h0m-2 0h0m0 0h0m0 0h0m-1 4h0m-6-5h0m-2 1h0m-2 0h0m-6 4h0m-1-3h0m0 0h0m-3-2h0m-2 1h0m-1 0h0m0 1h0m-2-1h0m-2 3h0m-6-3h0m-1 1h0m-2 3h0m0-1h0m-1-4h0m0 3h0m-1 0h0m-4-2h0m-2 2h0m0 1h0m0 0h0m0 0h0m-1 1h0m-1-2h0m0-2h0m-1 0h0m0 3h0m-2 0h0m-1 1h0m-3-3h0m-1 0h0m-1 0h0m0 2h0m-2-1h0m-2 1h0m-1 1h0m-1-3h0m-5-1h0m-4 0h0m-1 4h0m-2-4h0m-1-1h0m-1 0h0m-2 5h0m-1-3h0m-1 1h0m0 0h0m0-3h0m-2 0h0m-3 4h0m-1 1h0m0-3h0m0 3h0m-1-1h0m-1-1h0m-1-3h0m0 4h0m0 1h0m-1-2h0m0 0h0m-1-1h0m-3 0h0m-2-2h0m-3 0h0m0 3h0m0 0h0m0 1h0m-1-3h0m0-1h0m0 4h0m-1-3h0m-2-1h0m-1 1h0m0 3h0m0 1h0m-1-1h0m0 1h0m-1 0h0m0-5h0m-2 2h0m0 3h0m0-4h0m0 0h0m-1 2h0m0 2h0m0-1h0m-1-4h0m0 0h0m0 0h0m0 2h0m-2 1h0m-1-1h0m-5-1h0m0 2h0m-1 1h0m-1-1h0m0 0h0m-2 1h0m-3-3h0m-7 0h0m7 5h0m2 1h0m5 4h0m0 0h0m3-4h0m3-1h0m2 2h0m1-2h0m3 2h0m1 0h0m0-1h0m1 2h0m0-1h0m3 0h0m1-1h0m0 2h0m1 1h0m2-3h0m2 4h0m1-4h0m2 3h0m0-4h0m3 0h0m5 1h0m0 2h0m2 2h0m1-3h0m0 0h0m1 0h0m1 1h0m2-1h0m1-2h0m0 1h0m2 2h0m0-2h0m1-1h0m0 3h0m0 2h0m3 0h0m0-3h0m2-1h0m3-1h0m0 4h0m4-3h0m1 3h0m1-4h0m1 3h0m4-2h0m0 0h0m2 2h0m1-2h0m1-1h0m2 3h0m0 1h0m1-3h0m1 3h0m1-3h0m0-1h0m3 2h0m0 0h0m3 0h0m0 0h0m1 2h0m0-1h0m0 0h0m1 0h0m1 1h0m0 0h0m1-4h0m0 2h0m3-2h0m5 1h0m1 4h0m0 0h0m2-3h0m3 2h0m2-4h0m2 4h0m0 1h0m0-4h0m2 3h0m2-2h0m0-1h0m0 3h0m1-3h0m2 1h0m2-2h0m1 4h0m2 0h0m4 1h0m1-1h0m4-4h0m2 5h0m2-4h0m-15 9h0m-3-2h0m-1-1h0m-2 3h0m0-3h0m0-1h0m-4 3h0m0-2h0m-2 2h0m-1-2h0m-1 1h0m0 0h0m-1 2h0m-1-4h0m-4 0h0m-1 1h0m-1 2h0m-1-3h0m-1 3h0m-1 0h0m0 0h0m-1 0h0m-2 0h0m-2-3h0m0 0h0m-2 2h0m-1-2h0m-4 0h0m-1 5h0m0-3h0m-3 0h0m0 3h0m-1-4h0m-2 1h0m-5-2h0m0 4h0m-2-3h0m-2 2h0m0 1h0m0-1h0m-1 0h0m-1-2h0m-6 1h0m-3 3h0m0-2h0m-1-2h0m-1 0h0m-4 2h0m-2-1h0m-4 2h0m-2-4h0m0 1h0m-1 3h0m-2-3h0m-1 2h0m-2-2h0m-1 3h0m-1-2h0m-2-2h0m-3 3h0m-3-3h0m-4 2h0m-3-2h0m-6 0h0m-2 0h0m-1 0h0m25 6h0m3 0h0m12 1h0m7 2h0m1 0h0m8-2h0m3 0h0m2-1h0m2 2h0m0-2h0m0 2h0m1-1h0m2 1h0m2-2h0m5 2h0m2-1h0m3 3h0m2-2h0m1-1h0m0 4h0m1-5h0m13 4h0m6-4h0m-27 6h0m0 0h0m-5 0h0"/><path id="qvt" d="M164 666h0m-27 8h0m19 1h0m1 1h0m17 6h0m-3 1h0m-4-3h0m-2 3h0m-1-3h0m0 2h0m-1 0h0m-3-2h0m0 1h0m-1-2h0m-4 3h0m-2-1h0m-2-2h0m-3 3h0m-1-2h0m-18 7h0m10 2h0m1-2h0m1 1h0m0 0h0m0-1h0m1 1h0m0 1h0m1-2h0m1 2h0m1-1h0m2 0h0m2 0h0m2 1h0m0-1h0m2-4h0m2 5h0m1 0h0m3-4h0m1 1h0m1 1h0m0 2h0m3-3h0m0-2h0m1 0h0m0 4h0m2-3h0m0 3h0m0-3h0m0 2h0m3 0h0m1-3h0m1 1h0m0 4h0m1 0h0m0 0h0m1-2h0m1 1h0m3 0h0m4-1h0m0-1h0m20 8h0m-8 1h0m0-3h0m-1-2h0m-2 1h0m0 0h0m-2 1h0m-1 3h0m-7-4h0m0 4h0m0-2h0m-2-1h0m-1 3h0m-1-4h0m0 4h0m-3 0h0m-1-4h0m-2 2h0m-1 0h0m-2-3h0m-1 4h0m0-2h0m-1 2h0m0 0h0m-1-1h0m-1-1h0m-1 2h0m-1-3h0m-1-1h0m-1 3h0m-1 1h0m-1 1h0m0-2h0m-2-2h0m-3 4h0m-3-1h0m0-4h0m-3 1h0m0 1h0m-1 2h0m-1-1h0m-1-2h0m-1 4h0m-1-2h0m0-1h0m0 2h0m-1-4h0m0 1h0m-4 4h0m0-4h0m-2 3h0m0 1h0m-1-4h0m0 4h0m-2-2h0m-1-1h0m0 0h0m-4 3h0m-2-3h0m0 1h0m-1-2h0m0 2h0m-1-2h0m0-1h0m-2 3h0m-12 7h0m5 1h0m2-1h0m2 0h0m0-4h0m1 4h0m2-2h0m1 3h0m0-5h0m0 5h0m1-1h0m1 1h0m0-5h0m0 5h0m1-2h0m0 0h0m1-1h0m1 1h0m2 1h0m1-1h0m0 2h0m1 0h0m0-1h0m0 1h0m1-1h0m1 1h0m0-2h0m2-2h0m2 3h0m1 1h0m1-4h0m1 1h0m0 3h0m1-5h0m0 2h0m2-2h0m0 2h0m1-1h0m0-1h0m1 0h0m0 3h0m0 1h0m1 0h0m0 0h0m1-2h0m0 1h0m1-2h0m4 1h0m0-2h0m2 3h0m0 1h0m1 0h0m1-4h0m0 1h0m1 4h0m0-2h0m5-3h0m2 3h0m0-2h0m1 4h0m0-2h0m1 2h0m4-1h0m2 1h0m2-4h0m0 0h0m1 3h0m0-1h0m1 0h0m0 2h0m6 0h0m0-1h0m1 1h0m4-2h0m1-2h0m0 1h0m2-1h0m1 2h0m1 0h0m0-2h0m3 3h0m1 0h0m5-1h0m2 1h0m2 1h0m2-5h0m11 10h0m-3-1h0m-1 1h0m-1-1h0m-3 2h0m-1-2h0m-2 0h0m-1-1h0m-2 0h0m0-2h0m-3 5h0m0 0h0m-1-4h0m-1 0h0m-2 1h0m-1-2h0m0 0h0m-1 1h0m-2 4h0m-1-1h0m-2-1h0m0 0h0m-3 1h0m0-4h0m0 5h0m0-1h0m0-3h0m-2 0h0m0-1h0m0 3h0m0-3h0m-4 5h0m0 0h0m-1-5h0m-1 0h0m-1 4h0m-2 1h0m0-2h0m0-2h0m-2 4h0m-1-1h0m-5 1h0m0-1h0m0-2h0m-1-1h0m-3 4h0m-1-2h0m0-3h0m-2 3h0m-1 0h0m-2 1h0m-1-3h0m0 2h0m-1 2h0m-1-4h0m-7 3h0m-1-3h0m-1 0h0m0 0h0m-1-1h0m0 3h0m-2-1h0m0-1h0m-1 3h0m0-4h0m-3 1h0m0 3h0m-1-2h0m0 1h0m-1-2h0m-2 3h0m-3-4h0m0 0h0m-1 5h0m0-2h0m-1 2h0m0-4h0m0-1h0m-1 3h0m-5 2h0m-1-2h0m0 1h0m-2 1h0m0-3h0m0 0h0m-1 2h0m-1 1h0m0 0h0m0-5h0m-4 2h0m-2 1h0m-1-3h0m-2 2h0m0 1h0m-4-1h0m-2 2h0m2 4h0m3 3h0m2-2h0m1 0h0m1 1h0m1-1h0m2 1h0m0 0h0m0 1h0m2 0h0m1-3h0m1 2h0m1 0h0m1-4h0m0 3h0m1-2h0m0-1h0m2 1h0m0 0h0m1 0h0m1 2h0m2 0h0m4 1h0m2-2h0m0 0h0m0 2h0m1 1h0m1-5h0m0 0h0m2 2h0m1 2h0m1 0h0m1-2h0m1-1h0m0 2h0m3-1h0m0 0h0m0 2h0m2 0h0m1-3h0m0 4h0m2-1h0m2 1h0m2-2h0m1-3h0m0 4h0m0 1h0m2 0h0m1-2h0m0-2h0m1 3h0m0-2h0m1-1h0m3 4h0m2-5h0m2 2h0m2 3h0m1-4h0m0 0h0m0 0h0m1 3h0m3-1h0m1-2h0m0 0h0m0 4h0m2-4h0m1 2h0m0 1h0m3-2h0m1-2h0m1 3h0m0 2h0m1 0h0m0-4h0m0-1h0m1 0h0m1 0h0m3 1h0m0 4h0m1-2h0m1 1h0m0-3h0m0 3h0m4 0h0m0-1h0m1-3h0m4 2h0m1 0h0m0 0h0m1 1h0m4-1h0m1-1h0m1 0h0m1 4h0m1 0h0m0-4h0m0-1h0m3 5h0m3-2h0m0 0h0m1-3h0m2 0h0m0 2h0m2-1h0m0 1h0m1 9h0m-1 0h0m-4-5h0m-3 3h0m0 2h0m-2-2h0m0 1h0m-1-2h0m-2-2h0m-2 5h0m-1-4h0m0 0h0m0 1h0m-1 2h0m-1-2h0m-1 3h0m-2-2h0m-1-2h0m0 2h0m-2 0h0m0-1h0m-1-1h0m-1 2h0m-1-1h0m-1 0h0m0-2h0m0 5h0m-1-4h0m-2 2h0m0 2h0m0 0h0m-1-5h0m-2 0h0m0 0h0m-2 5h0m-1-5h0m0 5h0m-2-5h0m-2 5h0m0-3h0m-1 1h0m-4-3h0m-1 0h0m-4 3h0m0 0h0m-1-2h0m-5 4h0m-1-1h0m0-3h0m-1 4h0m0-5h0m0 0h0m-1 3h0m0-3h0m-1 1h0m0-1h0m0 1h0m-3-1h0m0 4h0m0-3h0m-2 3h0m0 0h0m0-2h0m-1 0h0m-2-2h0m-1 5h0m0-1h0m-3-1h0m0 2h0m-1-4h0m-2 1h0m-1 3h0m0-1h0m-1 1h0m-8-2h0m0-2h0m0 4h0m0-5h0m-4 1h0m-1 4h0m-1 0h0m-1-2h0m0-1h0m-1 1h0m-1 1h0m-1-2h0m0 2h0m0-1h0m-2-2h0m-1 0h0m-1 3h0m0-1h0m-2-3h0m0 3h0m0-2h0m-1 2h0m-1 2h0m0 0h0m0-2h0m-1 0h0m0 0h0m0-3h0m-3 0h0m-1 0h0m0 4h0m-1-4h0m-1 4h0m0-2h0m0 2h0m-1-4h0m-1 3h0m0 1h0m0 0h0m-1 0h0m0 1h0m-1 0h0m-4-2h0m-2 0h0m-3 6h0m1-2h0m2 0h0m2 4h0m1-5h0m0 2h0m0 0h0m0 1h0m1 1h0m3-1h0m1 0h0m1-1h0m1-1h0m0 2h0m1-1h0m0 2h0m1 1h0m3-3h0m1-1h0m0 0h0m2 4h0m1 0h0m2-1h0m1-3h0m1 1h0m0 0h0m1 2h0m0-1h0m1-1h0m0 0h0m1 0h0m0 3h0m0-1h0m1 1h0m0-3h0m1 2h0m2-3h0m1 1h0m1-2h0m0 2h0m0 3h0m3-5h0m0 3h0m4 0h0m2 2h0m0 0h0m1 0h0m2-1h0m0 0h0m1-1h0m3 2h0m1-5h0m0 1h0m1 4h0m1-3h0m1 2h0m0 1h0m2-3h0m0-1h0m2-1h0m0 1h0m0 2h0m1 0h0m0 1h0m1-3h0m2-1h0m0 0h0m1 1h0m0 2h0m1-1h0m2-1h0m0-1h0m1 4h0m1-2h0m0 2h0m0 0h0m4-2h0m1-2h0m1 5h0m0-4h0m0 4h0m0-4h0m1 0h0m3 3h0m2 1h0m1-3h0m2 0h0m6 3h0m1-1h0m0-1h0m1-3h0m5 2h0m1 1h0m0 1h0m1-3h0m1 0h0m0 3h0m1-1h0m0 0h0m3-3h0m1 4h0m1-4h0m1 2h0m0 0h0m6 1h0m2-1h0m1 0h0m1 2h0m1-2h0m1 0h0m1 3h0m2 0h0m1-3h0m2-1h0m2 1h0m2-2h0m0 1h0m4 3h0m4 3h0m-5 4h0m-1-1h0m-2-4h0m-3 5h0m-2-2h0m-1-1h0m-1-1h0m-3-1h0m-2 5h0m-2-2h0m-2 2h0m-1-4h0m0-1h0m-3 1h0m-3 3h0m-1 0h0m0-4h0m-1 1h0m-2 3h0m0-4h0m0 4h0m0-3h0m-3 4h0m-4-2h0m0 0h0m-1-3h0m-2 0h0m-2 5h0m-1-4h0m-1 2h0m-1-2h0m-1 0h0m0 0h0m-3 1h0m-1 2h0m0-3h0m0 0h0m-2 2h0m0 1h0m0-1h0m-1-2h0m-1 1h0m0 3h0m0-3h0m-1 2h0m0-3h0m0-1h0m-4 1h0m0 2h0m0-3h0m-1 3h0m0 0h0m-1 0h0m-1-3h0m-2 1h0m0 0h0m0 3h0m-1-3h0m0 2h0m-2 2h0m0 0h0m-4 0h0m-1-1h0m0-1h0m-2 2h0m-3-1h0m-2-1h0m-1 2h0m-1-4h0m0 1h0m-1-1h0m0 0h0m-1-1h0m-3 4h0m-1 1h0m-3-3h0m-1 3h0m0-1h0m-1-1h0m0 2h0m-2-1h0m-1-3h0m-1 1h0m-1 3h0m-1-1h0m-1-3h0m0 4h0m-2-2h0m-2-1h0m-1-2h0m-1 1h0m0 2h0m0-1h0m-2 3h0m-1-3h0m-2 0h0m-1-1h0m-3 0h0m-1 3h0m0-2h0m0 1h0m-1 2h0m-1-3h0m0-1h0m0 2h0m-1 0h0m0 2h0m0-1h0m-3-4h0m0 2h0m0 2h0m-1 1h0m0-1h0m-1 0h0m0-1h0m-3-3h0m0 1h0m-1-1h0m-3 5h0m-1-2h0m0-3h0m-3 3h0m1 5h0m4 0h0m4 3h0m0-2h0m0 1h0m1-4h0m3 1h0m2 2h0m3-2h0m1 4h0m2-4h0m0 2h0m1-1h0m2 1h0m4 0h0m0-2h0m0 1h0m1 1h0m0 2h0m2-5h0m0 2h0m1 3h0m0 0h0m2-2h0m1-3h0m1 3h0m1-3h0m0 2h0m1-1h0m0-1h0m0 5h0m3-5h0m0 0h0m3 3h0m1-1h0m0-2h0m2 4h0m0-1h0m2-3h0m0 1h0m4 0h0m0 2h0m0-1h0m1-2h0m1 2h0m0 2h0m2-1h0m1-2h0m1-1h0m0 1h0m2 2h0m0 0h0m1-1h0m1-1h0m1 4h0m2-1h0m3-1h0m0 1h0m0-2h0m2 1h0m0 1h0m1 0h0m1-3h0m0 4h0m5 0h0m3-5h0m1 2h0m1 1h0m0-1h0m2 1h0m1-3h0m2 5h0m4-2h0m0-3h0m2 0h0m2 4h0m1-4h0m1 3h0m0-1h0m3 3h0m2-4h0m0-1h0m2 0h0m0 4h0m3 1h0m0-4h0m0 1h0m0 2h0m1-3h0m0 1h0m2 1h0m1 0h0m0 2h0m0-2h0m5 0h0m0 1h0m1-2h0m1-1h0m1 4h0m0-4h0m0 4h0m1-3h0m1-2h0m1 2h0m0-2h0m0 1h0m0 4h0m3-1h0m2-4h0m4 1h0m1 2h0m0-1h0m3 3h0m2 6h0m0-3h0m-6 0h0m0 3h0m-2 0h0m0-3h0m-1 1h0m0-1h0m0 3h0m-1-2h0m-2-2h0m0-1h0m-1 1h0m-1 3h0m-1-4h0m-2 5h0m-2 0h0m-1-3h0m0 2h0m-2-4h0m0 1h0m-3 1h0m-2 0h0m-4 0h0m-2 3h0m-1-4h0m0 3h0m-1-2h0m-1 1h0m-1 1h0m0 0h0m-1-3h0m-1 1h0m-3-1h0m0 4h0m-1 0h0m0-3h0m-3 3h0m-4-1h0m-3-4h0m-1 4h0m0-3h0m0 0h0m-1 4h0m-1-1h0m-4-1h0m-2-2h0m0 0h0m-1 1h0m-1-1h0m-1 0h0m-2 2h0m0-3h0m-1 0h0m0 2h0m-4-2h0m-1 5h0m0-2h0m-1 2h0m-1-4h0m-1 1h0m-1 3h0m-1 0h0m-3-5h0m-2 1h0m-1-1h0m-1 2h0m-1 1h0m0 0h0m-3 1h0m-2-2h0m-6-1h0m-1-1h0m-1 4h0m0-1h0m-2 1h0m-3-3h0m0 4h0m-2-2h0m0 2h0m-2-4h0m0 4h0m-1-5h0m-2 0h0m-1 1h0m-3 4h0m0-3h0m-2-2h0m0 2h0m-1-1h0m-4 4h0m0 0h0m0-3h0m-3-1h0m0 0h0m-1 0h0m0 4h0m-2-5h0m-1 2h0m0 0h0m0 2h0m-1-1h0m-2 0h0m-1 0h0m-1-1h0m-2-2h0m-10 1h0m9 6h0m2-1h0m1 2h0m3-1h0m1 2h0m1 2h0m2-1h0m1-2h0m1 3h0m1 0h0m2-5h0m1 5h0m0-5h0m1 2h0m1-1h0m0 1h0m1-2h0m1 3h0m1 1h0m1-4h0m2 5h0m4-3h0m1 2h0m0-2h0m1 1h0m1 2h0m1-1h0m0-2h0m1 3h0m1-1h0m3-3h0m1 0h0m2 1h0m2 0h0m1-2h0m0 2h0m0-1h0m2 2h0m2 1h0m2 0h0m1-4h0m0 5h0m2-1h0m8-3h0m1 2h0m0-3h0m1 3h0m0 1h0m4 1h0m0-1h0m1 1h0m1 0h0m2-3h0m0-2h0m1 2h0m1 0h0m1-1h0m6 1h0m3-2h0m1 2h0m2 3h0m1-1h0m2 1h0m0 0h0m1 0h0m1 0h0m8-1h0m0-3h0m3 2h0m0 2h0m0-2h0m6-1h0m1-2h0m1 1h0m1 4h0m2-5h0m1 0h0m1 4h0m1-1h0m3 0h0m2-3h0m0 0h0m3 2h0m3-2h0m3 2h0m1-2h0m1 1h0m8 4h0m-1 6h0m-4-5h0m-1 0h0m-6 1h0m-1-1h0m-5 5h0m0-3h0m-1 0h0m-4-1h0m0 1h0m-1 3h0m-3-5h0m-1 1h0m0 2h0m-1 0h0m-1 2h0m-1-4h0m0 2h0m-1 0h0m-4-3h0m-1 4h0m-2-3h0m-2 3h0m-2-1h0m-3 2h0m-1-5h0m-1 3h0m-1 1h0m0-2h0m-4-2h0m0 1h0m-1 2h0m0-2h0m-1 1h0m-2 2h0m-2 1h0m-2-4h0m-1 3h0m-3 1h0m-6-5h0m-4 5h0m-2 0h0m-2-3h0m-4 1h0m0-1h0m-3 3h0m0-3h0m0 0h0m-3-2h0m-2 0h0m0 0h0m-2 5h0m0-4h0m0-1h0m0 0h0m-1 0h0m0 5h0m-2-4h0m0 1h0m0 2h0m0-1h0m-3-2h0m-1 1h0m-1-2h0m0 0h0m-1 1h0m-1 2h0m-6-3h0m0 5h0m-2-5h0m0 4h0m0-1h0m0-1h0m-1 0h0m-2 2h0m-1 0h0m-3-2h0m-3 0h0m0 2h0m-1-4h0m-3 4h0m-2-1h0m-2 1h0m0 0h0m-1 0h0m-2-3h0m0 4h0m0-4h0m-5 1h0m-2 2h0m10 2h0m0 0h0m4 5h0m0-1h0m0-4h0m2 3h0m1 0h0m1-2h0m0 1h0m2 3h0m1-2h0m5-3h0m2 1h0m0 2h0m2 2h0m0-5h0m2 3h0m1-2h0m2 2h0m1 0h0m2 0h0m1 0h0m6 1h0m6 0h0m1-3h0m0 3h0m2-1h0m1-1h0m4 0h0m9 0h0m0 2h0m1 0h0m3 0h0m1 1h0m1-1h0m0 0h0m5-2h0m1 0h0m7 0h0m0 2h0m1-1h0m0 2h0m1 0h0m3-5h0m0 0h0m0 1h0m1 4h0m1-1h0m0 0h0m2 0h0m1-2h0m1 0h0m4-1h0m0 3h0m3-3h0m2 1h0m0-2h0m1 0h0m3 4h0m2-4h0m0 1h0m0 0h0m4 3h0m3 1h0m1-4h0m0 1h0m6 3h0m0-5h0m5 7h0m-1 2h0m-6 0h0m0-1h0m-3-2h0m0 0h0m-2 2h0m-1-1h0m-2 4h0m-5-2h0m-1-3h0m0 1h0m0 0h0m-1 1h0m-6-1h0m0 2h0m-4 1h0m-4-2h0m-5 0h0m-6 1h0m-2 0h0m-2-1h0m0 3h0m-2-3h0m-1-1h0m0-1h0m-1 4h0m-3-2h0m-1 3h0m0-5h0m0 0h0m-1 4h0m-1-1h0m-3-1h0m-1 0h0m-3-1h0m-1 1h0m-1 2h0m-5-1h0m0 2h0m-1 0h0m-2-5h0m-3 2h0m0-2h0m-2 2h0m0 2h0m0-4h0m-4 2h0m-2 3h0m-1-1h0m0-3h0m-1-1h0m-3 3h0m-1-2h0m0 1h0m-1-2h0m0 2h0m-1-2h0m-2 2h0m0-1h0m-4 0h0m-5 0h0m0-1h0m0 0h0m9 6h0m4 0h0m9 0h0m3 0h0m6 1h0m4 3h0m0 1h0m1-3h0m2-1h0m2-1h0m7 3h0m1-3h0m2 0h0m3 1h0m2 0h0m0 4h0m5-1h0m1-4h0m4 2h0m2 0h0m13 1h0m3-3h0m5 5h0m2-2h0m5-3h0m3 1h0m0-1h0m-28 6h0"/><path id="qvu" d="M17 758h0m0 0h0m5 3h0m3-1h0m0-1h0m2-2h0m5 4h0m2 0h0m5-1h0m5 1h0m5 0h0m-3 4h0m-4-2h0m-2 4h0m-2 0h0m-1-5h0m0 1h0m-1 4h0m-1-2h0m0-3h0m0 0h0m-1 4h0m0-3h0m-1 2h0m0-2h0m0 3h0m-4-2h0m0 2h0m-2-2h0m-1 1h0m-1-2h0m-2 4h0m-1 0h0m0-1h0m-1-1h0m0-3h0m-1 1h0m-1 2h0m0 2h0m-2 0h0m0-2h0m0-1h0m-2 0h0m-7 9h0m8-5h0m1 3h0m1 0h0m0 0h0m1 2h0m0-5h0m1 2h0m1 3h0m0-3h0m0-2h0m0 3h0m0 0h0m2-1h0m1-2h0m0 1h0m2 0h0m0 2h0m0-1h0m1 2h0m0 1h0m0-1h0m2-1h0m0 0h0m1 1h0m0 0h0m4-1h0m1 1h0m1-3h0m1-1h0m0 4h0m0-1h0m1 1h0m2 0h0m2-1h0m1-3h0m1 2h0m0 2h0m0-1h0m1-2h0m0 4h0m1-1h0m0-1h0m1 0h0m6 7h0m-1 1h0m-2 0h0m-4-2h0m-1-1h0m0 0h0m0 2h0m-1-2h0m-2 1h0m-2-1h0m0 2h0m-1 1h0m0-4h0m0 4h0m0 0h0m-1 0h0m0-3h0m0 2h0m0-1h0m-1-1h0m-1 0h0m0 3h0m-1 0h0m-3-2h0m-1-2h0m-1 3h0m-2 1h0m0-5h0m-1 3h0m0-1h0m0 0h0m-1-1h0m0 0h0m-1 0h0m0 0h0m0 1h0m0 0h0m0 0h0m-1 1h0m-1-1h0m-1 3h0m-1-1h0m-1-4h0m-1 4h0m-4 1h0m-2-4h0m-4 7h0m5 3h0m3-3h0m0 1h0m0 2h0m3-3h0m1 0h0m0 3h0m0-1h0m1 1h0m0-2h0m2-2h0m0 4h0m3 0h0m0-3h0m0 0h0m1 2h0m1-1h0m0 1h0m0-3h0m1 0h0m0 1h0m1-1h0m0 2h0m0-2h0m2-1h0m0 3h0m1 2h0m3-3h0m1 2h0m1-3h0m0-1h0m2 4h0m12 1h0m0-3h0m2 2h0m1 0h0m-5 5h0m-1 1h0m-1-1h0m-1-2h0m-1 3h0m-1 0h0m-1-2h0m0 1h0m0-3h0m-2 4h0m0-4h0m-1 2h0m-1-2h0m-1 0h0m0 1h0m-1-1h0m-1 3h0m0 1h0m0-2h0m0 1h0m-1-3h0m-1 5h0m-1-1h0m-1 0h0m0 1h0m0-4h0m-2 0h0m-1 1h0m-1 2h0m-1 1h0m-5 0h0m0-1h0m-2 0h0m-1-1h0m-1-2h0m0 1h0m-1-2h0m-2 2h0m3 7h0m3 1h0m1-4h0m1 2h0m1-2h0m1 2h0m2 0h0m1-2h0m0 5h0m1 0h0m1-5h0m3 2h0m1 2h0m0-4h0m1 1h0m1 3h0m1 0h0m1-4h0m0 3h0m0 0h0m1 1h0m6-2h0m1-1h0m3 1h0m1 0h0m3 2h0m-5 4h0m-3 0h0m-7-2h0m-3 3h0m0-2h0m-1-1h0m-1 4h0m0 0h0m0 1h0m-1-3h0m-2-2h0m-1 4h0m-1-2h0m0 1h0m-2 2h0m0-4h0m-6 0h0m15 6h0m1 2h0m1-1h0m1 0h0m0 0h0m4 3h0m0-4h0m1-1h0m1 1h0m2 6h0m-17 3h0"/><path id="qvv" d="M192 773h0m1 0h0m4-2h0m1 2h0m2-2h0m0-2h0m7 2h0m1 0h0m3 0h0m8 8h0m-1-3h0m-2 1h0m-6 1h0m0 0h0m-1-3h0m-2 0h0m0 4h0m-1-3h0m-1-2h0m0 0h0m-1 4h0m-5 0h0m0-3h0m-1 4h0m0 0h0m-6-3h0m-3 3h0m-1-1h0m-3-1h0m-3 3h0m7 4h0m2-2h0m1 1h0m0-1h0m1 3h0m1 0h0m0-2h0m2 1h0m0 0h0m1-4h0m4 3h0m0 0h0m0 1h0m2-2h0m1 0h0m4-2h0m0 3h0m0 2h0m2-3h0m3 3h0m5-3h0m1 0h0m2-2h0m0 0h0m1 0h0m1 5h0m4 0h0m4 6h0m-5 0h0m-1-4h0m-1 4h0m-1-3h0m-8-1h0m-1 2h0m-3 2h0m-1 0h0m0-4h0m-4-1h0m0 1h0m-4 1h0m-1 2h0m0-1h0m-1 1h0m-2-4h0m-2 1h0m0 3h0m-1-3h0m-1 3h0m0-4h0m0 3h0m-1 0h0m-1 1h0m-3-3h0m-3 0h0m-3 2h0m-2 2h0m-1-4h0m0 8h0m1-1h0m1-1h0m1 4h0m2-4h0m2 4h0m3-1h0m1 0h0m2 1h0m0-1h0m4-4h0m5 1h0m2 0h0m1-1h0m2 2h0m2 0h0m4-1h0m0-1h0m2 1h0m3 2h0m1-3h0m4 1h0m0 1h0m0-1h0m1 0h0m0 1h0m1 2h0m1-4h0m1 0h0m1 2h0m1 0h0m1 3h0m1 3h0m0 3h0m-1-1h0m0-3h0m0 1h0m-2-2h0m0 5h0m-5-1h0m-1 0h0m-1-2h0m-1-2h0m0 1h0m-1 1h0m-2 2h0m0-4h0m-4 3h0m0-2h0m-3-1h0m0 2h0m-1-1h0m-1 4h0m-5 0h0m0-3h0m-2-2h0m-2 4h0m-2-2h0m-4 1h0m-1-3h0m0 5h0m-3-5h0m-1 1h0m-1 2h0m-1 1h0m-3-3h0m-1-1h0m-6 1h0m0 1h0m5 4h0m3 2h0m1-1h0m1 1h0m1 3h0m1-3h0m1 3h0m1 0h0m1-3h0m0 1h0m3 0h0m1 2h0m1-3h0m1-1h0m1-1h0m4 0h0m0 4h0m1-2h0m2-2h0m2 4h0m0-1h0m1 0h0m4 1h0m1-4h0m0 2h0m4 2h0m3-4h0m3 1h0m2 4h0m1-3h0m1 3h0m1-5h0m0 8h0m-1 0h0m-5 3h0m-2-3h0m-1 3h0m-5-3h0m-2-2h0m-1 5h0m-2-5h0m-1 4h0m0 0h0m-1-3h0m-3 2h0m-3-3h0m0 1h0m-1 3h0m-2-1h0m0 0h0m-3-2h0m0 4h0m-1-2h0m-1 0h0m-4 2h0m-2-1h0m-4 1h0m4 6h0m1-4h0m0 3h0m1 0h0m2-4h0m1 3h0m1 2h0m1-2h0m1 2h0m1-5h0m0 2h0m1 0h0m0 3h0m2-3h0m3 1h0m0-2h0m0 3h0m0-3h0m3 4h0m1-4h0m5 2h0m1 0h0m1-2h0m2-1h0m1 0h0m1 3h0m1 0h0m1-3h0m1 0h0m0 4h0m2-1h0m3-1h0m-3 8h0m-2-3h0m-2 2h0m-5-2h0m0-1h0m-2 4h0m-3-3h0m-1 2h0m-1-3h0m-2 1h0m-1 4h0m-2-4h0m0 3h0m-1-2h0m-5 3h0m-4-2h0m-1 1h0m-3 0h0m-2-3h0m0-1h0m-2 0h0m7 6h0m8 1h0m1-1h0m0 0h0m2 2h0m7-2h0m1 1h0m0 2h0m1-1h0m1-1h0m2 1h0"/><path id="qvw" d="M199 765h0m-28 13h0m-3 0h0m-12-1h0m2 5h0m18 6h0m-1-1h0m-4-1h0m-2 3h0m-1 0h0m-9 2h0m-2-5h0m-20 2h0m-9 1h0m-9 1h0m-11 5h0m21 2h0m1-4h0m3 4h0m5 0h0m6-1h0m2 1h0m7-3h0m1 2h0m8 0h0m8-4h0m5 11h0m-2-4h0m-2 2h0m-2 1h0m0-4h0m-4 2h0m-3 0h0m-1 3h0m-9-5h0m-13 2h0m-1-1h0m-15 4h0m-2 0h0m-20 0h0m12 5h0m24-4h0m0 4h0m8 0h0m15 0h0m0 1h0m2 0h0m5-1h0m1 1h0m1-2h0m7-1h0m0-1h0m-7 9h0m0 1h0m0 0h0m-8-5h0m-8 2h0m-1-1h0m-3 3h0m-13 0h0m-4 0h0m-2 1h0m-8-1h0m-6-1h0m-3-3h0m-12 4h0m7 7h0m2 0h0m9-2h0m0 0h0m3 0h0m2-1h0m9 1h0m4-2h0m4 2h0m2-1h0m2 3h0m0-2h0m0-1h0m1 0h0m2-1h0m7 2h0m4-3h0m0 5h0m2-5h0m4 1h0m0 4h0m2-4h0m0 3h0m9 1h0m1-2h0m11 7h0m-8 1h0m-6-1h0m-2-4h0m-3 3h0m-2 0h0m-2-2h0m-1 4h0m-1-5h0m0 1h0m-5-1h0m-3 0h0m-3 3h0m-2 1h0m0-4h0m-1 2h0m-2 0h0m-2 3h0m-1-5h0m0 3h0m-2-3h0m-2 5h0m-7 0h0m-1-5h0m-2 4h0m-1-1h0m-4-1h0m-3 2h0m0-4h0m-2 1h0m-5 5h0m2 2h0m4 0h0m1-1h0m1-1h0m6 1h0m1 3h0m1-4h0m2 3h0m1-2h0m0 2h0m3-1h0m0-2h0m4 5h0m0 0h0m1-2h0m5 2h0m1-4h0m0 1h0m9 0h0m1 2h0m2-2h0m1 2h0m1 1h0m4 0h0m2-2h0m-1 3h0m-1 0h0m-7 1h0m-5-1h0m-1 1h0m-2 4h0m-3-2h0m0-3h0m-2 5h0m-3 0h0m-1 0h0m-7 0h0m-9-1h0m-1 3h0m10 1h0m3-1h0m17 0h0m2 4h0m5-5h0m-28 6h0m-20 1h0"/><path id="qvx" d="M75 755h0m-16-4h0m-3 4h0m-3 0h0m-25 3h0m19 3h0m0-1h0m40 5h0m-45-2h0m0 5h0m4 5h0m20-4h0m1 3h0m1-2h0m11 7h0m-6 0h0m-11-3h0m-11 4h0m-7 4h0m27 1h0m-3 3h0m-4 5h0m-17 0h0m0-1h0m-10 3h0m20 0h0m46 1h0m-43 9h0m29 4h0m-46 4h0m-2-1h0m-1 7h0"/><path id="qvy" d="M150 806h0m21 3h0m-29 7h0m1 0h0m16 3h0m4 2h0m13-2h0m2 0h0m0 1h0m1 5h0m-2-3h0m-15 4h0m0-2h0m-1 0h0m-5 0h0m-15 1h0m-1 2h0m0 6h0m2 0h0m5-1h0m1 0h0m9 1h0m6 0h0m1-5h0m0 1h0m1 3h0m4 0h0m1-1h0m2-1h0m22 1h0m-14 3h0m-2 5h0m-1-5h0m-7 2h0m-7 1h0m0 0h0m-5 2h0m0 0h0m-5-3h0m-1-1h0m-7 1h0m0-1h0m-2 3h0m-6 1h0m-2-2h0m-2-1h0m-4 0h0m-2-2h0m9 7h0m0 1h0m1-2h0m10 4h0m1-1h0m11 1h0m0-3h0m1 4h0m2 0h0m1-4h0m0 2h0m4 2h0m1-5h0m9 3h0m-7 3h0m-17 0h0m-4 4h0m-11-4h0m-1 1h0m-13 1h0m24 4h0m32 0h0"/><path id="qvz" d="M102 753h0m-6-1h0m-6-2h0m-3 2h0m-2 3h0m-13-1h0m-3 0h0m-11 4h0m6 3h0m9-3h0m3-1h0m4 4h0m10-1h0m12 1h0m3-2h0m6-2h0m-13 10h0m0 0h0m-2-3h0m-2 3h0m-1-1h0m-1-2h0m-1 1h0m0-3h0m-5 5h0m-6-4h0m-9-1h0m-3 1h0m-10-1h0m-3 9h0m5-1h0m3 3h0m1-4h0m2-1h0m9 5h0m5-5h0m2 2h0m3 3h0m8-1h0m14-1h0m0-3h0m8 1h0m2 4h0m-5 4h0m-5 2h0m-6 0h0m-4-5h0m0 5h0m0-3h0m-1-1h0m-1 3h0m-2 0h0m0-2h0m-1-2h0m-3 0h0m-8 2h0m-3 1h0m-3-2h0m-8-1h0m-2 4h0m-5-3h0m0-1h0m-3 5h0m-9-3h0m-9 4h0m15 4h0m17 0h0m1 1h0m3-4h0m0 2h0m5 0h0m1-2h0m4 4h0m2-3h0m1-1h0m5 1h0m9-2h0m3 5h0m1-5h0m7 0h0m2 10h0m-15-2h0m-1 1h0m-7-2h0m-2 4h0m-1-1h0m-3-2h0m0-2h0m-1 4h0m-2-3h0m-9-1h0m-3 2h0m-1 0h0m-1 3h0m-11-1h0m-1-2h0m-2-2h0m0 1h0m-2-1h0m-9 10h0m16-1h0m17 1h0m2-1h0m2 1h0m1-3h0m1 3h0m0-1h0m16-2h0m2-1h0m1 2h0m1 0h0m2-2h0m-5 6h0m-1 4h0m-1 0h0m-5-2h0m-1 2h0m-4-3h0m-2-1h0m-6 3h0m-2-1h0m-1-2h0m-5 0h0m-7 3h0m-7 1h0m-6-1h0m5 4h0m9 3h0m1-2h0m0 0h0m12-1h0m4-1h0m1 1h0m3 1h0m2 0h0m4-2h0m3 3h0m4 1h0m17-1h0m-23 4h0m-1 3h0m-1-1h0m-14 1h0m-4 0h0m-1 1h0m-2-1h0m-2 1h0m-1-1h0m0-4h0m-4 5h0m-4-3h0m-10 0h0m3 6h0m7-1h0m12 4h0m7-1h0m2-1h0m4 0h0m1-1h0m9-1h0m8 0h0m-12 8h0m-16 1h0m-14 0h0m-3-2h0m13 6h0m7 1h0m4-3h0m3 0h0m14 0h0m20 11h0m-24-2h0m-2-2h0m-5 2h0m-3-3h0m-3 0h0m-3 0h0m-9 2h0m-1 4h0m4 1h0m41 10h0m-37-5h0m0 0h0m-17 2h0m40 8h0m2-1h0m-14 10h0m20 0h0m-18 9h0m2 2h0"/><path id="qwa" d="M158 755h0m9 11h0m-20 0h0m-3 0h0m-4 1h0m-2 0h0m-9 1h0m1 3h0m1-2h0m1 1h0m6-2h0m3 1h0m1 2h0m10 0h0m4-2h0m0 1h0m2 2h0m12-1h0m2 1h0m8 4h0m-17-1h0m-13 0h0m-9-1h0m0 4h0m-2-4h0m0 5h0m-1-5h0m-1 5h0m-1-1h0m-5 1h0m-2 0h0m0 0h0m-28-1h0m1 2h0m9 4h0m6 0h0m0 1h0m2 0h0m1 0h0m2-1h0m2-2h0m2 2h0m1 0h0m0-2h0m4-1h0m2 0h0m6-1h0m1 1h0m3 4h0m1-2h0m1 1h0m8-2h0m4-1h0m4 3h0m0-3h0m6-1h0m0 2h0m2-2h0m0 4h0m9-1h0m1-2h0m-2 6h0m-2-1h0m0 3h0m-2 1h0m-3 0h0m-3-2h0m-1 1h0m0 1h0m0 1h0m-8 0h0m-1-4h0m-5 2h0m-2-3h0m0 5h0m-3-4h0m-1-1h0m0 5h0m-2-4h0m-2 0h0m0 2h0m-1-1h0m-1 0h0m-6-2h0m-3 4h0m0-4h0m0 0h0m-4 0h0m-2 0h0m-3 4h0m-8-3h0m-1 2h0m0 2h0m0-4h0m-5 4h0m1 6h0m1-1h0m2-3h0m0 0h0m2 0h0m2 3h0m1 0h0m1-2h0m2 2h0m4-3h0m0 1h0m12 2h0m8-4h0m1 1h0m0 4h0m0 0h0m2-5h0m1 4h0m3 1h0m1-4h0m3 4h0m0-4h0m3 4h0m3 0h0m2 0h0m8 3h0m0 3h0m0 0h0m-8-3h0m0 1h0m-3-1h0m-2 3h0m-2-1h0m-9-1h0m-1 2h0m0-4h0m-4 0h0m-1 3h0m0-4h0m0 0h0m-3 3h0m-4-2h0m-4 1h0m-2-1h0m0 4h0m-4-1h0m-4 1h0m0 0h0m-1-3h0m-1 1h0m-3-1h0m-4-1h0m-4 2h0m0 1h0m0-4h0m-3 10h0m0-3h0m10-1h0m1 5h0m0-2h0m2 2h0m4-2h0m2-2h0m1 4h0m0-3h0m4 3h0m0-3h0m1 1h0m1-2h0m1 2h0m0-3h0m8 1h0m6 3h0m0-4h0m2 0h0m5 3h0m1-1h0m19 3h0m-6 1h0m-6 4h0m-3-3h0m-4 4h0m-1-4h0m-9 3h0m-6-3h0m-8 0h0m-8-1h0m-3 4h0m-1-1h0m0-1h0m-2 2h0m-7 1h0m-2-1h0m2 4h0m2-2h0m3 1h0m5 0h0m2 4h0m2-1h0m4-2h0m1 2h0m1 1h0m10-2h0m1 1h0m2-3h0m10 3h0m4-2h0m7 0h0m16 5h0m-14-1h0m-2 0h0m-8 2h0m-19-1h0m-2 4h0m-5-5h0m-1 2h0m-11 0h0m-13 3h0m22 5h0m8-4h0m17 2h0m11-2h0m-32 8h0"/><path id="qwb" d="M161 830h0m15 7h0m-13-2h0m-7 4h0m-11-5h0m-9 10h0m5 1h0m10 0h0m1 0h0m4 0h0m1-1h0m6-2h0m8-1h0m4 10h0m-3-3h0m-15 0h0m-5 2h0m-3-3h0m-6 4h0m0-2h0m0-1h0m-1 1h0m-13 3h0m9 1h0m0 4h0m2 0h0m1-3h0m2 2h0m1-3h0m2 2h0m1-1h0m6 0h0m4 1h0m4 0h0m2-3h0m2 3h0m15-1h0m8 4h0m-26 4h0m-2 1h0m0 0h0m0-5h0m-8 4h0m0-3h0m-1 0h0m0 1h0m-3-1h0m-3 4h0m-5-2h0m-2-3h0m-4 1h0m0 6h0m6 2h0m1 2h0m2-2h0m2 2h0m2 0h0m4-1h0m2 0h0m2-2h0m0 3h0m1-5h0m1 2h0m2 0h0m4 0h0m2 1h0m2 1h0m1-1h0m4 0h0m15 2h0m-4 1h0m-9 0h0m-3 5h0m-7-3h0m-3 0h0m-1 3h0m0-4h0m-2 1h0m0 2h0m-1-3h0m-4 1h0m0-2h0m0 4h0m-1-2h0m-1 0h0m-1-1h0m-7 1h0m-1 2h0m-24-1h0m10 6h0m6-3h0m2 3h0m1-3h0m5 0h0m3 2h0m0 2h0m3 1h0m6-1h0m4 0h0m0-2h0m1 3h0m0-4h0m1 1h0m2-1h0m5 3h0m0-4h0m3 1h0m3 4h0m1-1h0m1-4h0m2 7h0m-2-1h0m-7 0h0m-4 1h0m0 1h0m-3 0h0m-1 0h0m-8 3h0m-1-2h0m-1 2h0m0-4h0m-1-1h0m-1 1h0m-1 4h0m0 0h0m-9-3h0m0 3h0m-14 0h0m1 1h0m17 0h0m9 4h0m0 1h0m7-1h0m3 5h0m-7 4h0"/><path id="qwc" d="M148 675h0m22 2h0m10 6h0m-9 0h0m-9-2h0m-2 0h0m-4-3h0m-1 4h0m-3 1h0m-4-1h0m-5-1h0m-3 2h0m-2-5h0m-9 4h0m6 7h0m4-1h0m1 0h0m1-2h0m1 1h0m1 1h0m1 0h0m2 1h0m1-1h0m1-2h0m0-1h0m2 4h0m0-3h0m0-2h0m1 3h0m3 1h0m1 0h0m0 1h0m0-1h0m1-4h0m0 0h0m1 2h0m0 3h0m1-3h0m3 3h0m1-3h0m1 1h0m0-1h0m1-1h0m0 2h0m0 2h0m2-1h0m0-2h0m1 3h0m0 0h0m1-2h0m5 2h0m4 0h0m1 0h0m1-1h0m1 0h0m1 1h0m4-3h0m1 3h0m4 0h0m1-1h0m19 6h0m-5 0h0m-8 0h0m-2-1h0m-4 0h0m-1-1h0m0 0h0m0 1h0m-6 2h0m-1 0h0m0-1h0m-3 0h0m-1 1h0m-2-2h0m-1 2h0m0-5h0m0 0h0m0 1h0m-2 4h0m-1-3h0m0-1h0m0-1h0m-1 4h0m0 1h0m0-5h0m-3 0h0m-1 1h0m-1 2h0m-1-2h0m-1-1h0m-4 4h0m-1-1h0m0-2h0m-2 3h0m-3-1h0m-1 1h0m-1 1h0m-1-1h0m0-2h0m-1 2h0m0 1h0m-1 0h0m0-2h0m-2-1h0m0 1h0m0-1h0m-2 2h0m-2-2h0m-1 0h0m0-1h0m-4 3h0m0-1h0m-4 0h0m-1 2h0m-3-3h0m-3 3h0m-5-1h0m-14 2h0m3 5h0m3-4h0m5 4h0m1-5h0m1 0h0m0 3h0m4 1h0m0-3h0m1-1h0m2 0h0m0 3h0m1-2h0m1-1h0m0 2h0m0-1h0m2 1h0m1 0h0m0 0h0m3 2h0m2-2h0m2 1h0m0 2h0m0-5h0m1 4h0m2-2h0m1 3h0m2-2h0m0-3h0m1 5h0m0-4h0m1 1h0m2 0h0m0 3h0m1-5h0m0 2h0m1-2h0m2 1h0m0 2h0m1-2h0m1 2h0m0 1h0m0 1h0m2-4h0m0-1h0m2 0h0m1 5h0m0-4h0m0 3h0m0-3h0m1 4h0m0-4h0m0-1h0m1 1h0m2 1h0m0 2h0m2 0h0m0 1h0m2-3h0m2 3h0m4 0h0m0-1h0m1 1h0m0-5h0m0 3h0m1 0h0m1-3h0m4 5h0m1-5h0m0 2h0m0-1h0m1 0h0m1 4h0m3-3h0m0-1h0m1 1h0m1 2h0m1-1h0m2 1h0m1-4h0m0 5h0m1-4h0m0-1h0m0 1h0m1 4h0m0-4h0m3 4h0m1-3h0m6 2h0m2 1h0m3-1h0m3-1h0m1 7h0m-2 1h0m-1-2h0m0-3h0m-1 5h0m-2-3h0m-3 1h0m-1-1h0m0 0h0m-2 3h0m-1-4h0m-1 4h0m-2-2h0m-2-2h0m0 3h0m-1-1h0m0-2h0m-1 2h0m-2-2h0m-1 0h0m0 3h0m0-3h0m0 1h0m-1 0h0m-1 0h0m0-2h0m-2 0h0m-2 2h0m0 0h0m-1 3h0m-1-4h0m0 4h0m-1-2h0m0 0h0m-1-2h0m-1 0h0m0 1h0m-2 0h0m-2 1h0m-1-2h0m-1 2h0m0-1h0m-2-1h0m-1 1h0m-1 3h0m0-3h0m-1-2h0m0 0h0m0 0h0m0 1h0m-1 1h0m-2-1h0m-1 0h0m0 1h0m-1-1h0m0 0h0m-1 0h0m-1 4h0m0-4h0m-2 1h0m0 0h0m-1 3h0m0-4h0m-1 3h0m0-2h0m-1 2h0m-1-2h0m0 1h0m-1-2h0m0 0h0m0 1h0m-5-1h0m0 3h0m-5-1h0m0 2h0m-1-4h0m-2 2h0m0-3h0m0 0h0m-1 1h0m0 2h0m0-2h0m-1-1h0m-1 4h0m-2-2h0m0-1h0m0 2h0m-1 1h0m-4-3h0m0 3h0m-2-3h0m-2 0h0m-1 1h0m0 1h0m-1-1h0m-1-2h0m-1 2h0m-1 3h0m-1-5h0m0 1h0m-1 4h0m-1 0h0m-2-1h0m-1-1h0m0 0h0m-2-3h0m0 5h0m-1 0h0m-3-5h0m-1 0h0m-2 3h0m-2 2h0m-7 2h0m8 2h0m2-1h0m1 1h0m1 1h0m1-3h0m3 3h0m1-4h0m1 0h0m2 3h0m0-2h0m0 2h0m0 2h0m1-2h0m0 0h0m1-2h0m2 4h0m0-2h0m1-3h0m1 1h0m0 0h0m0 0h0m1 3h0m0-3h0m4-1h0m1 2h0m0-2h0m1 2h0m2-1h0m1 3h0m1-4h0m2 5h0m1-2h0m0-3h0m0 5h0m0-5h0m1 5h0m0 0h0m0-1h0m0 1h0m2 0h0m1-2h0m0 2h0m3-1h0m1-4h0m0 2h0m0 3h0m3-3h0m1 3h0m2-5h0m0 5h0m1-3h0m2 2h0m0-4h0m0 3h0m0 2h0m1-1h0m0-2h0m2 2h0m0-4h0m0 5h0m2-1h0m1-1h0m1 1h0m2 0h0m1-1h0m1 1h0m0 1h0m2-4h0m3 1h0m3-1h0m0 3h0m0-2h0m0-2h0m1 4h0m1 1h0m1-4h0m2 2h0m1-2h0m1 4h0m0-1h0m2-2h0m1 1h0m0-2h0m0 3h0m2 1h0m1 0h0m0-1h0m1 1h0m1-5h0m1 1h0m0 4h0m0-3h0m3 2h0m1-2h0m0 2h0m0 1h0m1-1h0m1-2h0m0-2h0m2 1h0m0 2h0m2 0h0m2-2h0m1 1h0m0 2h0m2-3h0m3 4h0m2-5h0m2 1h0m2 4h0m1-3h0m0 2h0m2-1h0m4 7h0m-6 0h0m0-4h0m-1 1h0m-1 3h0m-1-3h0m-1-1h0m-1 5h0m-1-1h0m0-4h0m-3 4h0m-5-1h0m0-2h0m-3 2h0m-2 2h0m-1-1h0m0-4h0m-4 5h0m0-5h0m-1 2h0m0 2h0m-2-4h0m-4 2h0m-1-1h0m-2 4h0m-1-2h0m-3-3h0m0 2h0m0-1h0m-1 2h0m0-1h0m0 1h0m0-2h0m-1 0h0m-1 0h0m-2 1h0m-1 3h0m-2-4h0m0 3h0m-3-1h0m-1 2h0m-3-5h0m0 3h0m-5 1h0m0-2h0m-3 0h0m-2-1h0m-2 2h0m-1 2h0m0-3h0m-1 1h0m0-3h0m-4 4h0m-1 0h0m0 0h0m0 1h0m0-5h0m-1 0h0m0 4h0m0-2h0m-2 1h0m-2-1h0m-4 1h0m0 1h0m-2-4h0m0 3h0m-1 0h0m-1-3h0m-2 1h0m-1 2h0m0-3h0m0 2h0m0-2h0m-1 1h0m0 3h0m0-2h0m-1 0h0m0-2h0m-1 2h0m-1 1h0m0-3h0m-1 1h0m0 3h0m-1-4h0m-2 5h0m0-2h0m0-2h0m0 4h0m-1-5h0m-1 5h0m0-4h0m-1 2h0m0 0h0m-1 1h0m-1-4h0m0 3h0m0 1h0m-1-1h0m-2-3h0m0 0h0m-1 4h0m-1 1h0m0-2h0m0-1h0m-1-1h0m-1 3h0m0-1h0m-1-1h0m-1-2h0m-1 4h0m-1-1h0m-4 0h0m2 8h0m0-4h0m1 4h0m0-1h0m1-4h0m0 3h0m1 2h0m0-5h0m0 1h0m2 0h0m1-1h0m1 3h0m1 1h0m1 1h0m0-5h0m2 2h0m0 0h0m2-2h0m0 2h0m1-1h0m0 2h0m1-2h0m0 2h0m0 1h0m2-3h0m0-1h0m0 3h0m2-3h0m1 0h0m3 1h0m4-1h0m1 2h0m0-1h0m0 2h0m1 1h0m0-1h0m1-2h0m3 0h0m3-1h0m2 3h0m3-1h0m1 2h0m0-4h0m3 0h0m3 0h0m1 1h0m0 0h0m1-1h0m2 2h0m2-2h0m3 5h0m1-1h0m0-4h0m1 4h0m0-1h0m1 1h0m1-3h0m1 2h0m1-3h0m0 3h0m0 2h0m2-1h0m0-3h0m1 0h0m1 0h0m0 2h0m0-2h0m1 3h0m1-3h0m0 2h0m0-2h0m2 4h0m0-5h0m0 1h0m1 0h0m2 3h0m1 0h0m1 0h0m0-2h0m0-1h0m2 1h0m0 2h0m0-2h0m3 0h0m1 3h0m0-5h0m0 2h0m2-1h0m3 0h0m2 1h0m1 3h0m1-5h0m1 2h0m0 3h0m4-4h0m0 1h0m1 0h0m3 0h0m0 2h0m0 0h0m3-4h0m1 5h0m0-4h0m2 3h0m1 0h0m3-2h0m1 1h0m0 1h0m0-4h0m1 5h0m0-4h0m0 2h0m1-1h0m0-1h0m1-1h0m0 2h0m1-2h0m1 2h0m4 2h0m3-4h0m2 5h0m2 0h0m0 0h0m-1 3h0m-3-2h0m-1 1h0m-2 4h0m-4-1h0m-1-4h0m0 0h0m0 5h0m-2-1h0m0 0h0m-1 1h0m-1-2h0m-1-2h0m-3-1h0m-1 5h0m-1-3h0m-4 1h0m-1-2h0m-3 0h0m-5-1h0m-2 3h0m-5 1h0m-1 0h0m-1-4h0m-1 3h0m-2-1h0m-1 1h0m0 2h0m-1-2h0m-1-3h0m-1 1h0m-1 3h0m0-1h0m-2-1h0m-1 3h0m-3-4h0m0 2h0m0-2h0m0 1h0m-1-1h0m0 4h0m-1-2h0m-2-2h0m-1 2h0m-1 0h0m0-1h0m-1 2h0m-1-4h0m-1 1h0m-1 0h0m-1-1h0m0 5h0m0-4h0m-2 4h0m-1-5h0m-2 0h0m0 3h0m-2 1h0m0 1h0m0-3h0m-1 2h0m0-3h0m-1 0h0m-1-1h0m-1 3h0m0-1h0m-1 2h0m-2-3h0m0 0h0m-1 0h0m0 4h0m0-5h0m-2 2h0m-3-2h0m0 0h0m-2 2h0m0 0h0m-1 0h0m0-1h0m0 2h0m0-1h0m-2 3h0m-2-3h0m-2 3h0m-2 0h0m-1-2h0m-1 2h0m0-2h0m-1-2h0m-1 3h0m-1-4h0m0 2h0m0 2h0m-3-4h0m-1 1h0m0 3h0m-1-1h0m-1-2h0m0-1h0m-2 1h0m0-1h0m-1 1h0m-3 1h0m-1-1h0m-2 3h0m-1 1h0m-3-1h0m-1-1h0m0-2h0m-2 3h0m-2 0h0m-1 0h0m-5 1h0m-5 0h0m9 3h0m0-1h0m0 4h0m5-3h0m1-1h0m1 1h0m1-2h0m1 4h0m1-1h0m0 2h0m1 0h0m0-3h0m1 1h0m1 2h0m1-1h0m1 0h0m1-1h0m0-2h0m3 1h0m3 2h0m0 0h0m1-1h0m0-2h0m1 1h0m1-1h0m2-1h0m3 4h0m1 0h0m1-1h0m1-3h0m2 3h0m0 1h0m3 0h0m5-2h0m0-2h0m1 3h0m1 0h0m2-1h0m0-1h0m2 0h0m1 4h0m0-4h0m3 2h0m0 1h0m2-2h0m0 3h0m1-5h0m0 1h0m2 0h0m1 2h0m1-1h0m2-2h0m1 3h0m5-3h0m2 1h0m1-1h0m0 2h0m0 0h0m1 2h0m3 1h0m1-3h0m0 3h0m1 0h0m0-1h0m0-1h0m1 1h0m0-4h0m0 5h0m0-1h0m1-4h0m1 0h0m0 2h0m2 2h0m0-2h0m1 3h0m0-3h0m2 3h0m3-5h0m1 3h0m4-2h0m1 4h0m6-5h0m2 4h0m1-2h0m2 2h0m8 1h0m1-5h0m1 0h0m1 4h0m1-1h0m1-2h0m1 3h0m0 0h0m1-2h0m4 3h0m2-2h0m0-3h0m2 3h0m1 1h0m1 0h0m2-1h0m0-2h0m2 6h0m-5-1h0m-1 4h0m0-1h0m-1 0h0m-1-2h0m-5-1h0m0 0h0m-4 1h0m-1 0h0m0 3h0m-2-3h0m-3-1h0m-5 5h0m-2-3h0m-3 0h0m0-2h0m-1 4h0m-1-3h0m0 1h0m-1 1h0m-2-2h0m-4 0h0m-4 3h0m-1-2h0m-1 1h0m-1-3h0m-3 5h0m-1-5h0m0 3h0m0 2h0m-1-1h0m0-3h0m-4 1h0m-1 3h0m-2 0h0m-2-2h0m0-3h0m-1 3h0m-1 2h0m-1 0h0m-1-5h0m-1 5h0m-1-3h0m0-2h0m-1 5h0m0-2h0m-1-2h0m-1-1h0m-1 4h0m0-4h0m0 2h0m-3 2h0m0-3h0m0 1h0m-1 1h0m0-1h0m-2 0h0m0-2h0m0 3h0m-1-2h0m-2 4h0m0-1h0m-1-2h0m0-1h0m0 2h0m-2 0h0m-2 2h0m-1 0h0m-3-2h0m0-3h0m0 4h0m-1-4h0m-4 3h0m0 0h0m-2 2h0m0-1h0m-2-1h0m-5-2h0m-1 4h0m0-3h0m-1 0h0m-1 2h0m0-1h0m-1-1h0m-1 2h0m0-2h0m-1-1h0m-2 3h0m-1-3h0m-1 4h0m-2 0h0m0-2h0m0 0h0m-1 1h0m-1 0h0m0-4h0m0 4h0m-1 0h0m-1 0h0m-1-3h0m-1 1h0m-1 3h0m0-2h0m-4 1h0m-2-1h0m-4-1h0m-3 3h0m-2-3h0m10 8h0m0-3h0m0 3h0m1-4h0m2 2h0m0 0h0m1-1h0m3-1h0m3 3h0m0-1h0m1 3h0m1-3h0m0 0h0m1 2h0m1-3h0m3 1h0m0 1h0m0 0h0m1 1h0m1-2h0m1-2h0m0 5h0m2-4h0m0 4h0m1-3h0m0-2h0m0 1h0m1 2h0m0 2h0m1 0h0m2 0h0m1-4h0m3 0h0m1 1h0m0-2h0m1 5h0m2-5h0m0 5h0m1-3h0m3 2h0m0-2h0m2 2h0m1-3h0m1-1h0m1 4h0m0-1h0m1 1h0m1 0h0m2-4h0m1 4h0m0-3h0m0 4h0m0-1h0m1-3h0m0 0h0m0-1h0m1 2h0m0-2h0m1 1h0m1 1h0m0 2h0m1-3h0m1-1h0m0 5h0m2-1h0m1-2h0m1 1h0m3-3h0m0 4h0m0 1h0m1 0h0m0-2h0m0-3h0m1 4h0m0-2h0m1 3h0m1-2h0m5-3h0m1 0h0m1 2h0m4-2h0m6 2h0m1-2h0m2 2h0m1 1h0m1 2h0m3-3h0m3-1h0m1 4h0m0-2h0m2-2h0m0-1h0m1 0h0m0 2h0m1 1h0m2-2h0m0-1h0m1 1h0m1 0h0m0 0h0m1 3h0m2-3h0m1 4h0m1-4h0m1-1h0m1 1h0m0 4h0m1-5h0m3 2h0m1 2h0m4 0h0m1 1h0m1-2h0m5-1h0m0 1h0m10-3h0m-4 6h0m-3 3h0m0-2h0m-1-1h0m-4 3h0m-1-3h0m0 3h0m-3-1h0m-1 2h0m-1-4h0m-3 1h0m-1 1h0m-2 3h0m-3-4h0m-2 0h0m0 2h0m-1-3h0m0 0h0m-1 0h0m-1 2h0m-5-1h0m-1 3h0m0-2h0m-1-1h0m-1 2h0m0-1h0m-1 1h0m0-1h0m-1 3h0m-3-3h0m-1 1h0m-4 2h0m-1-1h0m-1-1h0m-2 1h0m0 1h0m-1-5h0m-1 0h0m-1 5h0m-1-1h0m-3-4h0m-1 0h0m-1 2h0m0-2h0m-1 1h0m-1 1h0m-1-2h0m0 2h0m-1 1h0m-2-1h0m-4 0h0m-2 0h0m-4 1h0m-1-1h0m0 1h0m-1 1h0m-3 0h0m-1-4h0m-1 5h0m-2-4h0m-1 2h0m-1 0h0m0 1h0m-2-1h0m-2-1h0m-2 1h0m-2 0h0m0 2h0m0-3h0m-1 0h0m0 3h0m0-2h0m-2 1h0m-1 1h0m-1-5h0m0 5h0m-1-2h0m0 0h0m-5 1h0m-1 1h0m-1-4h0m0 3h0m-1-4h0m-3 1h0m0 4h0m-1-3h0m-3 0h0m-2 3h0m-1-3h0m-2 0h0m-1 0h0m0 0h0m-1 0h0m-2 0h0m0-1h0m-1 2h0m-1 2h0m-5-2h0m-1 1h0m-1-2h0m1 9h0m1-5h0m1 4h0m5-2h0m0 3h0m3-4h0m1-1h0m0 1h0m0 2h0m3-2h0m0 3h0m0-4h0m0 2h0m2 2h0m0 0h0m0-3h0m2 1h0m1-2h0m2 2h0m6-1h0m2 3h0m0 1h0m0-2h0m3-1h0m1 0h0m0 1h0m1-3h0m3 5h0m0-1h0m0 0h0m0-2h0m0-1h0m1 2h0m1-1h0m1-2h0m0 3h0m0 0h0m3-1h0m1 0h0m1-1h0m0 2h0m2 2h0m1-1h0m1 0h0m0 1h0m1-2h0m0 2h0m4-2h0m0-1h0m1-2h0m4 5h0m0-4h0m1 3h0m0 1h0m1 0h0m0-2h0m2 1h0m0-2h0m0 0h0m0 2h0m3-2h0m1 0h0m1 1h0m1 2h0m2-3h0m0-1h0m1 1h0m0 0h0m4 1h0m1-1h0m1 2h0m3-2h0m1 1h0m0 0h0m1-1h0m2 3h0m2-1h0m2-4h0m2 0h0m1 2h0m0 2h0m0 0h0m2-1h0m1 2h0m1-4h0m2 0h0m0 1h0m5 3h0m0-2h0m0-2h0m2 0h0m0 0h0m0 0h0m1 0h0m1 3h0m2-4h0m3 1h0m0-1h0m2 1h0m0 3h0m0-4h0m1 3h0m1 2h0m2-1h0m0-1h0m1-2h0m2 1h0m1-1h0m2 1h0m1 0h0m0 8h0m-1-4h0m-2 4h0m-5-1h0m0-3h0m-2 5h0m-1-4h0m-4 0h0m-1 2h0m-2-3h0m0 4h0m-2-4h0m0 2h0m-1-1h0m-2 3h0m0 1h0m-1-1h0m0-3h0m-1 3h0m-4-4h0m-1 2h0m-1 3h0m-1 0h0m0-5h0m-2 5h0m-2 0h0m0-1h0m-1 0h0m-2-1h0m-1-2h0m-2 2h0m-4 0h0m-2-2h0m-9 3h0m-1-4h0m-1 5h0m-1 0h0m-1-4h0m-1 1h0m-1 1h0m-3-2h0m-6 2h0m-2 0h0m-5-2h0m0 0h0m-1 3h0m-1-4h0m0 3h0m-3 0h0m-5 1h0m0-4h0m-2 4h0m0-1h0m-6-1h0m-1-1h0m0-1h0m0 4h0m-3-1h0m-1-1h0m-1 0h0m-2 0h0m-2-2h0m-1 0h0m-11 2h0m-5 0h0m-7-2h0m47 7h0m3 0h0m17 0h0m7-1h0m2 1h0m3 1h0m1 0h0m8-2h0m3 2h0m1-2h0m0 0h0m1 5h0m1-3h0m3-1h0m8 1h0m2-2h0m4 3h0m6 0h0m20-2h0m-36 6h0m-5 1h0m-44-2h0"/><path id="qwd" d="M229 832h0m7 0h0m-3 2h0m-11 4h0m-1-2h0m0 0h0m-1 3h0m-1-1h0m-1-2h0m-2-2h0m-3 5h0m-1-2h0m-7-2h0m0 3h0m-9-1h0m-2 0h0m-5 2h0m-3 1h0m7 2h0m0-1h0m7 3h0m2 0h0m1 0h0m3 0h0m6-2h0m1 3h0m3-5h0m2 4h0m0-1h0m3-3h0m16 1h0m-2 9h0m-4-3h0m-8 2h0m0-2h0m-6 2h0m-1 2h0m-2-4h0m-1 3h0m-3 0h0m-4-4h0m-4 1h0m-1 3h0m-3-2h0m-5-2h0m-4 5h0m5 5h0m6 1h0m14-2h0m0-1h0m3 0h0m1-2h0m-17 8h0m5 6h0"/><path id="qwe" d="M240 755h0m-44 4h0m9-2h0m34 10h0m-9-4h0m-18 1h0m-5 3h0m0 0h0m-2 0h0m-1-5h0m-3 1h0m-1 1h0m-7-1h0m-2 0h0m-24 5h0m24 5h0m3-5h0m21 3h0m0-1h0m10-1h0m0 3h0m6-2h0m2 0h0m5 1h0m5-1h0m6 3h0m-14 1h0m-3 3h0m-3 2h0m0-1h0m-1-3h0m0 0h0m-4 2h0m-2 1h0m-42-3h0m-2 9h0m50 1h0m1 0h0m1 0h0m1 0h0m2 0h0m9-2h0m2-2h0m7 3h0m-14 6h0m-2-1h0m-2-1h0m-1-2h0m0 1h0m1 6h0m1 3h0m1 1h0m3-5h0m4 5h0m5-1h0m1-2h0m2 0h0m0 1h0m5-1h0m2 7h0m-5 0h0m-1-2h0m-4 3h0m-1-1h0m-1-1h0m-1-2h0m-4 0h0m-3 2h0m-1-2h0m-1 4h0m-3 2h0m0 5h0m1 0h0m3-3h0m3-2h0m0 2h0m3-2h0m1 4h0m1-4h0m12 11h0m-4-3h0m-2 1h0m-4-2h0m-1 2h0m-2-2h0m-2 1h0m-7 2h0m-3 1h0m0-5h0m-1 5h0m-1 0h0m0-5h0m-52 5h0m-9 1h0m7 4h0m1-3h0m5 2h0m43-2h0m2 3h0m2-4h0m1 3h0m0 1h0m5-3h0m2 3h0m3-4h0m5 4h0m6-2h0m2 8h0m-3 1h0m0-1h0m-6-1h0m0-1h0m-4 1h0m-2-3h0m-5 5h0m-2-2h0m0 0h0m0-3h0m-8 5h0m-1-3h0m-29 3h0m-7-4h0m-3 0h0m0 2h0m-2 1h0m-5-2h0m10 9h0m1-4h0m3 1h0m0-2h0m2 2h0m2 2h0m0-3h0m1 2h0m7 1h0m4-3h0m9 1h0m1 1h0m2 0h0m3-2h0m0 1h0m2 2h0m1-4h0m1 2h0m3 1h0m5 0h0m7-1h0m2-1h0m8-1h0m0 2h0m2 8h0m-1-3h0m0 3h0m-9-4h0m-40 1h0m-1-1h0m-1 1h0m-1 1h0m-15 1h0m61 3h0m-2 6h0m-4 1h0"/><path id="qwf" d="M200 752h0m-11 8h0m5 0h0m24-1h0m24 6h0m-5 0h0m-7 2h0m-5-2h0m-5-1h0m-9 2h0m-2-1h0m-7 2h0m-8-5h0m-3 4h0m0-2h0m0 2h0m-7 1h0m-4 6h0m3 0h0m0 0h0m8-2h0m18-2h0m6-1h0m2 0h0m0 4h0m0-1h0m3 2h0m4-3h0m2 2h0m0-1h0m2-3h0m3 5h0m5-1h0m11 1h0m2-3h0m-15 9h0m-2-1h0m-3 1h0m-2-1h0m-1-3h0m-1 1h0m0 4h0m4 5h0m0-3h0m1 2h0m3-2h0m1-1h0m3 1h0m1 3h0m3 0h0m1-4h0m2 1h0m5 2h0m1-2h0m4 2h0m4 0h0m7 7h0m-12-5h0m-1 2h0m-9 3h0m-1-4h0m-2 1h0m-3-1h0m0 1h0m-2 0h0m-1 1h0m-1 2h0m0 6h0m0-5h0m0 0h0m1 1h0m0 4h0m4 0h0m1-1h0m1-4h0m1 1h0m4 0h0m6 3h0m10 6h0m-7-2h0m-3-1h0m-1 4h0m-1-2h0m-7 0h0m-1 1h0m-1-3h0m-1 3h0m-1-3h0m-3 4h0m-4-2h0m-62 2h0m62 1h0m1 4h0m4 1h0m2-4h0m1 0h0m1 1h0m2-2h0m1 0h0m2 1h0m7 0h0m3 0h0m-7 8h0m-1 2h0m-3 0h0m0 0h0m-5-3h0m-2 1h0m-1-1h0m-4 2h0m-2-4h0m-59 5h0m8 5h0m55 1h0m3-3h0m0 0h0m3-2h0m1 3h0m1-3h0m3 0h0m3 5h0m1-1h0m2 1h0m2-1h0m1 0h0m7 7h0m-11-3h0m-4-1h0m-2 3h0m-4-1h0m-1-2h0m-4 1h0m0-1h0m-2 1h0m-7-2h0m-2 1h0m-45 4h0m1 4h0m3 2h0m0-2h0m1-1h0m2 2h0m2 0h0m1-1h0m1 0h0m3 0h0m0-2h0m0 1h0m5 2h0m0 0h0m1-1h0m0 0h0m4 2h0m9-2h0m1 0h0m2-1h0m2-2h0m4 4h0m1 0h0m1-3h0m1 1h0m1-1h0m0 3h0m1 0h0m3-1h0m0-3h0m1 1h0m2-1h0m3 1h0m1 1h0m3 2h0m6-4h0m3 2h0m2-1h0m-3 5h0m-3 5h0m-4 0h0m-42-5h0m-7 1h0m-6 2h0m-8 2h0m-2 0h0m64 1h0m0 4h0m0 0h0m3-4h0m4 1h0"/><path id="qwg" d="M202 775h0m-22 10h0m9-2h0m0 5h0m0 1h0m-4 0h0m-1 2h0m-9 1h0m3 0h0m19 3h0m-9 8h0m0 0h0m-8 0h0m0-3h0m-2-1h0m0 4h0m0-4h0m-1 6h0m5 2h0m6 3h0m-1 0h0m-5 5h0m-2-2h0m-1-1h0m0 5h0m1-1h0m2 4h0m1 1h0m10 0h0m-9 4h0"/><path id="qwh" d="M194 773h0m2 0h0m2-1h0m0 0h0m3 1h0m1 0h0m1-2h0m2 1h0m3-2h0m1 1h0m13 7h0m-5 1h0m0 0h0m-2-5h0m-2 4h0m0-3h0m0 3h0m-1-2h0m-8 3h0m0-4h0m-1 2h0m-3 2h0m-1-3h0m-2 3h0m-4-1h0m-1 0h0m-3-3h0m-2 0h0m-1 2h0m-1-1h0m-7 9h0m8-1h0m2-4h0m2 0h0m4 2h0m4-1h0m3 4h0m1 0h0m2 0h0m1-4h0m2 3h0m0-1h0m2-1h0m2-2h0m0 0h0m0 1h0m1-1h0m2 4h0m0-1h0m2 2h0m0-5h0m2 2h0m1 3h0m8 3h0m-1 2h0m-2-4h0m-2 3h0m-2-3h0m-6 4h0m-1-1h0m-4 1h0m-8 1h0m-1 0h0m-7-3h0m-2 0h0m-1 1h0m-1-1h0m-9-1h0m-4 7h0m3 0h0m1-2h0m6 4h0m2-4h0m1 0h0m2 3h0m4-3h0m4 1h0m2 2h0m5-1h0m2 0h0m3 2h0m3-3h0m1 0h0m6 4h0m0-1h0m1-3h0m0 1h0m2-2h0m1 4h0m0-2h0m2 3h0m0-2h0m0 2h0m1-1h0m3 2h0m-2 3h0m-2 2h0m0-2h0m-4 1h0m-1 0h0m-1-3h0m-1 2h0m-4 1h0m0 1h0m-17 0h0m0-5h0m-1 1h0m-3 4h0m-1 0h0m-5-4h0m-7 0h0m-3 6h0m1-1h0m1 2h0m2-2h0m2 1h0m5 1h0m2-2h0m2 3h0m2-3h0m0 0h0m1 4h0m2 1h0m1-3h0m0 2h0m0-1h0m5-1h0m1 3h0m2 0h0m2-4h0m1 4h0m0-3h0m3-1h0m2 4h0m1 0h0m5 0h0m1-3h0m1 0h0m0 2h0m1 0h0m1 0h0m0-4h0m3 4h0m0-1h0m1-3h0m-2 8h0m0 0h0m-2 1h0m-1-1h0m0 0h0m-1-1h0m-2 1h0m-1 0h0m-4 2h0m-6 1h0m-4-2h0m0 2h0m-1-4h0m-4 4h0m-1-1h0m-1 1h0m-3-4h0m-3 3h0m0-1h0m-3 0h0m-1-1h0m-1 0h0m-1-1h0m-3 0h0m-4 0h0m3 5h0m1 1h0m2 3h0m2-2h0m5 0h0m6 2h0m2-1h0m1-3h0m2 2h0m1-2h0m0 2h0m0 2h0m3-4h0m1 4h0m2-2h0m2 0h0m0 1h0m2-2h0m0 3h0m0 0h0m5 0h0m2 1h0m-3 2h0m0-1h0m-1 3h0m-3 1h0m0-2h0m-1 0h0m0-2h0m-1 2h0m0 1h0m-3 1h0m0-3h0m-2-1h0m-2 2h0m-2 1h0m-2 0h0m-4-2h0m-9-1h0m0 0h0m0 0h0m-1 5h0m10 3h0m3 0h0m2 3h0m0-5h0m0 1h0m1 2h0"/><path id="qwi" d="M107 773h0m56 5h0m-8-3h0m-9 2h0m-9 7h0m7-2h0m18 2h0m1-4h0m3 1h0m1 1h0m9 1h0m-5 6h0m-4-2h0m-3 4h0m0-5h0m-3 0h0m-8 4h0m-5-2h0m-18 8h0m23-2h0m0-2h0m6 3h0m2-1h0m1 1h0m11 0h0m3 0h0m-1 7h0m-1-3h0m-9-1h0m-14 5h0m-3-1h0m-5 1h0m-9-4h0m0 1h0m-22-2h0m2 6h0m3 0h0m11 2h0m8-1h0m5-1h0m4 5h0m1-5h0m7 3h0m0 2h0m1-5h0m1 3h0m1 0h0m1 1h0m0-4h0m0 5h0m1-3h0m0 1h0m0 0h0m3-2h0m2 0h0m3-1h0m4 4h0m1-2h0m5-1h0m2 9h0m-1-2h0m0 2h0m-3-3h0m-2 2h0m0-2h0m-1 4h0m-4-2h0m0 0h0m-3 0h0m-3 0h0m-2-2h0m-2-1h0m-1 3h0m0-3h0m-2 4h0m0-4h0m-11 1h0m-3 4h0m-2-5h0m-2 5h0m-8 0h0m-7-3h0m-1 0h0m-8 7h0m5 1h0m2 0h0m5 1h0m1-3h0m1 0h0m9 1h0m4 0h0m2 0h0m5-2h0m2 3h0m2-4h0m0 5h0m1 0h0m1-2h0m3 2h0m2-1h0m4-4h0m5 2h0m1 3h0m3-3h0m8 3h0m2 6h0m-9-5h0m-1 1h0m-3 1h0m-1-1h0m-2-1h0m-2 5h0m-2-1h0m-1-4h0m-1 3h0m-1 1h0m-3-1h0m0 2h0m0 0h0m-1-4h0m-6 2h0m-1-3h0m-1 4h0m-1-3h0m-1 4h0m-7-1h0m-1-2h0m-2 0h0m-2 0h0m-1 1h0m0 0h0m-3-3h0m-1 5h0m0-3h0m-1 1h0m0 1h0m-2-2h0m-5 0h0m-2 7h0m0 2h0m3-3h0m3 1h0m4-3h0m0 0h0m3 2h0m3 3h0m10-3h0m10 1h0m0-2h0m1 1h0m2 1h0m12-3h0m1 4h0m1-4h0m1 3h0m0-1h0m0 3h0m-11 2h0m-2 1h0m-8-1h0m-5 4h0m-1-4h0m-4 0h0m-3 1h0m0 1h0m-5-3h0m-3 1h0m-1 2h0m-1-1h0m-3-1h0m0 4h0m-3-1h0m-16-2h0m21 4h0m15 1h0m7 1h0m9 2h0m6 1h0m0 1h0m-8 3h0m-24 0h0m-14-2h0m36 5h0"/><path id="qwj" d="M180 827h0m3 11h0m-4 0h0m-11 3h0m8-1h0m2 1h0m10 2h0m-27 6h0m-12 6h0m13 2h0m4 15h0"/><path id="qwk" d="M145 831h0m2 1h0m19 4h0m-23 0h0m-3-1h0m-23 6h0m9 4h0m5-4h0m12 3h0m13 1h0m4-2h0m17 8h0m-22-1h0m-7-3h0m-9 3h0m0 1h0m-7-4h0m-3 2h0m-12 3h0m7 1h0m4 1h0m0-1h0m1 3h0m3-4h0m2 5h0m4-1h0m3 0h0m8-3h0m6 3h0m4-3h0m4 4h0m8 1h0m-8 0h0m-2 5h0m-2-5h0m-3 0h0m-5 3h0m-2-3h0m-2 3h0m0-3h0m-4 4h0m0-1h0m-1 0h0m-2 2h0m0-3h0m-22 2h0m-3-3h0m-2 7h0m17 3h0m0-2h0m5-2h0m1 3h0m2-1h0m1-1h0m8 1h0m2 2h0m3-2h0m4 0h0m2-1h0m0-1h0m2 3h0m2-1h0m15-3h0m-11 8h0m-13-2h0m0 1h0m-8 3h0m-1 1h0m-4-4h0m-1 2h0m-4 2h0m-2-5h0m-3 1h0m0 4h0m-6-1h0m-9-3h0m-1 1h0m9 8h0m3-2h0m2-2h0m1 3h0m2-3h0m0 1h0m3 2h0m12 1h0m3 0h0m2-2h0m9 2h0m5 4h0m-3 1h0m-2 1h0m-2-1h0m-1 1h0m-6-1h0m-4 2h0m-12-5h0m-4 3h0m-2 0h0m11 6h0m5 0h0m1-2h0m3 3h0m12-3h0m-6 6h0m-9 5h0"/><path id="qwl" d="M122 745h0m-7 15h0m13-2h0m43 5h0m-39 1h0m-8 0h0m-2-2h0m-2 4h0m-6 1h0m-10 0h0m-10-3h0m-2-2h0m7 7h0m0 2h0m2 2h0m6-1h0m13 1h0m10-5h0m13 5h0m30-5h0m-52 6h0m-15 5h0m-1-4h0m-1 0h0m-9 8h0m6-1h0m54 0h0m-11 4h0m-32 6h0"/><path id="qwm" d="M48 755h0m-33 5h0m1 0h0m2-1h0m1 1h0m1-2h0m5 2h0m0-3h0m3 4h0m4-1h0m0 1h0m3-1h0m6 1h0m4 4h0m-5-3h0m0 2h0m-1 3h0m-1-5h0m0 0h0m0 0h0m-1 2h0m-2-1h0m-1-1h0m-1 0h0m-2 5h0m0-4h0m-1 1h0m-2-2h0m-1 5h0m-2 0h0m0-5h0m-1 4h0m0-4h0m0 5h0m-1 0h0m0-1h0m-1 0h0m-1-2h0m0 1h0m-1-3h0m-8 9h0m1-3h0m1 3h0m2 0h0m0 1h0m1 1h0m3-2h0m0-2h0m1 4h0m0-2h0m2-2h0m0 3h0m0-4h0m1 1h0m2 4h0m2-5h0m0 4h0m1 1h0m0-5h0m3 3h0m1-3h0m0 2h0m1-1h0m2 3h0m1-3h0m0 4h0m2-3h0m1-2h0m1 2h0m3 2h0m1-1h0m0 2h0m3-1h0m1 1h0m6 3h0m-1 0h0m-1 0h0m0 2h0m-3 0h0m-4-3h0m0-1h0m-2 2h0m0 1h0m-1 1h0m-1-2h0m0 0h0m-2-2h0m-4 0h0m-2 3h0m-2 2h0m0-2h0m0 2h0m0-3h0m0 2h0m-1 0h0m0-4h0m0 0h0m-1 1h0m-1 3h0m-2-4h0m0 5h0m0-5h0m0 4h0m-1-4h0m0 1h0m-1 4h0m-2-1h0m-1-4h0m-1 5h0m0-4h0m0 1h0m-4-2h0m0 1h0m-2 0h0m-1 4h0m-1-3h0m0 0h0m-2 0h0m-1 2h0m7 7h0m0-4h0m1 2h0m2 2h0m2-4h0m0 3h0m1 0h0m0 1h0m0 0h0m1-1h0m0-2h0m1-2h0m0 4h0m0-4h0m0 3h0m1 2h0m0-3h0m1 2h0m0 1h0m4-4h0m1 2h0m1 1h0m0-3h0m0 1h0m1 1h0m0 0h0m1 1h0m0-3h0m1 0h0m1 4h0m1-3h0m0-1h0m1-1h0m0 1h0m1 3h0m1-1h0m0-1h0m1 0h0m1 3h0m3-1h0m0-1h0m1 1h0m4-2h0m3 1h0m1-1h0m-5 9h0m0-4h0m0 4h0m-1-4h0m0 2h0m-1 2h0m0 0h0m-1-2h0m-1 2h0m-1-3h0m0 3h0m-1-4h0m-4 0h0m0 3h0m-1-4h0m-2 2h0m0-2h0m-1 1h0m-1-1h0m-1 2h0m0 0h0m-1 0h0m0 2h0m-1 1h0m-1-1h0m-2-4h0m0 0h0m-1 1h0m0 1h0m-1 2h0m0-4h0m-1 0h0m-1 5h0m0-3h0m0-2h0m-2 2h0m0 3h0m-1-4h0m-1-1h0m-1 5h0m-1 0h0m-2-4h0m8 7h0m1-2h0m1 4h0m1 1h0m0-3h0m2 0h0m1-1h0m1 1h0m0-2h0m1 5h0m0-4h0m1 1h0m0-1h0m0 1h0m1 1h0m0 0h0m0 2h0m3-5h0m0 5h0m0-4h0m1 4h0m0-2h0m0 0h0m2-1h0m1 2h0m0 0h0m1 1h0m1-4h0m0 4h0m1-4h0m2-1h0m2 0h0m1 1h0m1 8h0m-1-3h0m0 1h0m-5-1h0m0 1h0m-8 4h0m-3-3h0m0-1h0m-1 4h0m0-4h0m-1 1h0m0-1h0m0 1h0m-1 1h0m-1 0h0m-1 1h0m-1-2h0m-2-2h0m4 8h0m5-1h0m0 2h0m0-3h0m3 0h0m0 5h0m1-3h0m1 3h0m-3 1h0"/><path id="qwn" d="M207 767h0m-16 5h0m12-2h0m0 2h0m0 0h0m4 1h0m8 0h0m3-1h0m6 7h0m-4 0h0m-2 0h0m0-3h0m-1 3h0m-7-4h0m-1 2h0m-1 2h0m0-4h0m-1 1h0m0-2h0m0 1h0m-1 2h0m-1 1h0m-1 1h0m-2 0h0m-3-3h0m-3 1h0m-4 2h0m0-4h0m-1 1h0m0 3h0m0-2h0m-2 2h0m-3 1h0m1 0h0m3 1h0m4 0h0m0 1h0m0-2h0m1 2h0m0 2h0m0-3h0m1 3h0m0 1h0m1 0h0m2 0h0m4-2h0m1-2h0m1 4h0m1-1h0m2 0h0m4 0h0m5-4h0m2 1h0m1 4h0m0-4h0m5 4h0m6 6h0m-3-1h0m-3-2h0m0-1h0m-3 4h0m0-1h0m-1-4h0m-5 2h0m0 1h0m-1 1h0m-1 0h0m-1-4h0m-2 0h0m-1 5h0m-2 0h0m-1-1h0m0-1h0m-2 0h0m-3 1h0m-1-2h0m-2 1h0m-3 2h0m-3-1h0m-2-2h0m-1 3h0m-2-2h0m-6 1h0m1 3h0m2 1h0m0 1h0m1-3h0m1 1h0m1 4h0m0-2h0m2-2h0m1 1h0m0 3h0m2 0h0m3-4h0m0 0h0m8 1h0m5 1h0m0 2h0m0-3h0m1 0h0m0 3h0m2-1h0m2 0h0m2-3h0m1 4h0m0-2h0m2-1h0m4 3h0m1-1h0m0-3h0m3 1h0m2 7h0m0 2h0m-1-1h0m-1 1h0m0-3h0m-3-2h0m0 3h0m-1-1h0m-1 2h0m-2-3h0m-1 1h0m-1 2h0m0-1h0m-1-2h0m-1 2h0m-2 2h0m-2-2h0m-1-2h0m-1 1h0m-1-2h0m-3 2h0m0 1h0m-4 1h0m-3-1h0m-1-2h0m0 2h0m-2-2h0m-1 0h0m-3 1h0m-2 1h0m0 2h0m-1-3h0m0-2h0m-5 1h0m-1 1h0m-4 1h0m-2-3h0m4 11h0m8-3h0m1-1h0m1 1h0m2 3h0m2-5h0m4 1h0m0-1h0m2 0h0m0 3h0m0 2h0m1-3h0m1-2h0m3 1h0m1 4h0m1-2h0m1-2h0m2 2h0m0 1h0m1-1h0m3 0h0m2 2h0m5-4h0m1 2h0m1-1h0m1 3h0m0-4h0m2 0h0m1 2h0m1 7h0m-1-1h0m0 0h0m-1 0h0m-1 2h0m-1 0h0m-2-1h0m-2-4h0m-1 5h0m-1-1h0m-1-1h0m-1-2h0m-1 0h0m0 0h0m-3 1h0m-3 0h0m-4 0h0m-3 0h0m-1-2h0m-2 5h0m0 0h0m-1-1h0m0-4h0m-1 0h0m-1 4h0m-3 0h0m-1-1h0m-1-1h0m0-2h0m-1 3h0m-1-1h0m0-2h0m-4 1h0m-9-1h0m7 10h0m4-3h0m1 1h0m0 3h0m1-2h0m1-1h0m2 1h0m3 0h0m2-3h0m0 0h0m0 5h0m2-5h0m3 3h0m0 1h0m1-3h0m2 0h0m0 4h0m0-2h0m4 1h0m2-2h0m3 1h0m1-1h0m0-2h0m1 0h0m1 0h0m1 3h0m1 0h0m0 0h0m1-2h0m1 0h0m1 2h0m1-3h0m1 2h0m-6 6h0m-2-1h0m-2 4h0m-1-1h0m-1 1h0m-1-3h0m-1-2h0m-1 1h0m-5 3h0m0-4h0m-1 1h0m0 4h0m-4 0h0m0-4h0m-2 4h0m0-3h0m-3 0h0m-2 2h0m-2 1h0m-1-1h0m0-2h0m7 4h0m4 1h0m3 2h0m3-3h0m4 0h0"/><path id="qwo" d="M119 749h0m3 6h0m0 0h0m-8-2h0m-12 6h0m1-1h0m2 3h0m8-3h0m7 3h0m16-2h0m19 6h0m-2 2h0m-12-5h0m-3 3h0m-3 2h0m-5-3h0m-5 1h0m-2 2h0m-1-3h0m-2 0h0m-2 2h0m-3-1h0m-2 2h0m-1-3h0m-1-1h0m-14 8h0m8-2h0m2-1h0m1 2h0m4 0h0m1-2h0m0 3h0m1 0h0m0 0h0m8 0h0m1-1h0m4-1h0m2 1h0m0 0h0m0-1h0m2 1h0m2 0h0m1-1h0m4-1h0m1 5h0m5-1h0m0 0h0m0-3h0m1 4h0m1-2h0m3 2h0m4-1h0m10-3h0m-1 6h0m-3 1h0m-4-1h0m-10 4h0m-4-4h0m-8 3h0m-5-1h0m-3 2h0m-1-3h0m0 1h0m-2 0h0m0-3h0m-1 1h0m-1 2h0m-2-3h0m-2 0h0m0 3h0m0-1h0m-1 3h0m-2-5h0m-1 2h0m-3-2h0m-7 3h0m-1-3h0m-4 11h0m6-4h0m2 0h0m5 4h0m0-1h0m2-3h0m16 3h0m2 1h0m8-5h0m0 4h0m1 0h0m3-3h0m1 2h0m8 0h0m3-3h0m1 3h0m16 2h0m-42 6h0m-9-1h0m-2-4h0m-1 2h0m-1-2h0m-4 2h0m-1-1h0m-4 2h0m-6-1h0m-4 1h0m9 4h0m6 1h0m13-2h0m0 1h0m11 3h0m26-4h0m-30 7h0m-7-1h0m-3 5h0m-3-3h0m-9 5h0m57 6h0m-54-1h0m-6 0h0"/><path id="qwp" d="M148 764h0m-1 3h0m-22 3h0m11 3h0m4 0h0m6 0h0m33 2h0m-2 0h0m0 3h0m-4 1h0m-5-2h0m-3 2h0m-4-1h0m-1 0h0m-5-3h0m0 3h0m-1-2h0m-6 2h0m-5-1h0m-3 0h0m-2 0h0m-2 0h0m-10-3h0m-4 0h0m-4 1h0m0-1h0m-15 3h0m-3-2h0m7 7h0m3-2h0m5 2h0m7-2h0m4 3h0m1 0h0m6-1h0m3 2h0m4-2h0m0-1h0m1 1h0m1 0h0m0-1h0m2 1h0m1-2h0m5 0h0m3 2h0m0 3h0m2-4h0m0 3h0m5-2h0m2 2h0m1 1h0m3-3h0m3 1h0m2-3h0m2 4h0m0-1h0m2-2h0m4 0h0m-1 5h0m-2 2h0m-1 0h0m-2-1h0m-10-1h0m-1 2h0m-1 3h0m-2-3h0m0 0h0m-5 2h0m-1 0h0m0-4h0m0 3h0m-1-2h0m-1 1h0m-1 0h0m-4 0h0m-1-2h0m-3 0h0m-4 4h0m-1 1h0m-1-3h0m-1 0h0m-2 1h0m-1-1h0m-6 1h0m-2-3h0m-2 2h0m-1 2h0m-1 0h0m-1-2h0m0-2h0m-1 5h0m-11-3h0m0 3h0m-1-2h0m-9-3h0m7 10h0m0-4h0m2 1h0m5 4h0m5-4h0m3 0h0m4-1h0m0 1h0m1 1h0m0-1h0m0 2h0m0 0h0m0 1h0m5-2h0m2 2h0m1-4h0m0 5h0m4-2h0m2 0h0m1 0h0m4 1h0m1 0h0m0 1h0m1-3h0m1 0h0m1 3h0m0-3h0m4 1h0m0-1h0m0 1h0m0 0h0m1 1h0m3-1h0m1-2h0m5 0h0m7 4h0m2-2h0m2 3h0m-2 4h0m-7 1h0m-3-2h0m-2 1h0m0 0h0m-3-1h0m-3-3h0m-7 2h0m-3-1h0m0 0h0m0 3h0m-4-2h0m-3 1h0m-1 1h0m0-2h0m-3-1h0m-1 2h0m-2 0h0m-5 2h0m0-4h0m0 4h0m-1-4h0m-8-1h0m0 1h0m-8 0h0m-3 2h0m-4 1h0m7 7h0m1-4h0m5-1h0m0 3h0m5 2h0m6-5h0m4 0h0m4 3h0m0 1h0m1-4h0m2 3h0m3 1h0m5 1h0m4-1h0m11-2h0m12 3h0m-6 2h0m-2-1h0m-14 0h0m-5 0h0m-9 0h0m-3 0h0m-2 5h0m-1-1h0m-2 1h0m0-2h0m-2-2h0m-2 1h0m-1 2h0m-1 0h0m-5 3h0m6 2h0m7-3h0m1 1h0m40 3h0m-17 3h0m-6 0h0m-8 3h0m-10-2h0m-2 1h0m-13 6h0m41 2h0m1-3h0m11 0h0m-25 13h0m7 2h0"/><path id="qwq" d="M175 836h0m-16 0h0m-9-1h0m29 10h0m3-3h0m12 3h0m2 3h0m-9 3h0m-6-1h0m-2-3h0m-10 1h0m-2-1h0m0 3h0m0-2h0m-3-2h0m-1 2h0m-25 3h0m15 5h0m10 1h0m4 0h0m4-3h0m2 0h0m1 3h0m1-2h0m0 2h0m6-4h0m7 3h0m5 0h0m12 5h0m-4-3h0m-6 1h0m-1-1h0m-8 2h0m0 3h0m-3-3h0m-1 0h0m-1 0h0m-11 1h0m-3-3h0m-2 1h0m-2 4h0m-11-1h0m-1 2h0m1 3h0m7 2h0m5 0h0m3-4h0m0 2h0m5-1h0m0 1h0m3 0h0m1 1h0m0 0h0m2 0h0m2-4h0m1 0h0m1 3h0m8 1h0m2 0h0m4-2h0m4 3h0m2 5h0m-6-2h0m-5 1h0m-2 2h0m-7-5h0m-3 4h0m-2 1h0m-1-1h0m-3-4h0m-5 2h0m-1-1h0m-1 2h0m-5 1h0m-2 0h0m-11-4h0m17 6h0m4 2h0m3-2h0m0 2h0m3 2h0m4-1h0m2 2h0m9-2h0m2-2h0m-6 7h0m-7 1h0m-1 2h0m-3-4h0m-1 2h0m-19 1h0m13 5h0m5-2h0m0-1h0m-8 11h0"/><path id="qwr" d="M130 832h0m8 7h0m-23 0h0m-7-3h0m14 7h0m7-2h0m4 4h0m-12 6h0m-1-4h0m-3 4h0m-1 0h0m-18 2h0m10 0h0m5 1h0m9-1h0m0 3h0m2 0h0m7 0h0m0 1h0m6 3h0m-1-1h0m-16 0h0m0 3h0m-2-1h0m-9-3h0m1 6h0m7 4h0m4-4h0m3 3h0m2-1h0m5-2h0m4 0h0m8 1h0m-3 8h0m-3-2h0m-4 3h0m0-1h0m-3 1h0m-4-4h0m-1 1h0m-3-1h0m0 3h0m-3 2h0m-12 0h0m5 6h0m5-3h0m2 0h0m0 2h0m6-3h0m5 2h0m8-3h0m2 9h0m-19-1h0m35 6h0"/><path id="qws" d="M165 841h0m8 3h0m9 0h0m16 0h0m-4 5h0m-17-3h0m-6 0h0m-2 2h0m4 9h0m7-3h0m3 0h0m4 0h0m5 2h0m2 0h0m0 1h0m2-1h0m6 2h0m-8 3h0m-1-1h0m-1 3h0m-2-1h0m-3-4h0m0 1h0m-2 4h0m-1-4h0m-2 3h0m0-3h0m-5 2h0m-2-2h0m-1-1h0m-1 4h0m-7-4h0m-3 3h0m0 1h0m4 4h0m15-2h0m1 5h0m0-1h0m3-2h0m1 1h0m1 1h0m12-2h0m7 0h0m1 5h0m-19 2h0m-1-1h0m0 3h0m-5-2h0m0-1h0m-2-2h0m-2 2h0m-25 7h0m11-3h0m5 0h0m10 1h0m5 3h0m11 1h0m1 3h0m-8 2h0m-2-1h0m-10 2h0m16 6h0m-16 4h0"/><path id="qwt" d="M222 833h0m9-2h0m3 2h0m4 2h0m-4 4h0m0-2h0m-4 1h0m-1-2h0m-2-2h0m-3 1h0m-1-1h0m0 2h0m-3 1h0m-5 1h0m-1-2h0m-4-1h0m-15 4h0m-4-1h0m-9 1h0m-1 2h0m7 3h0m4-3h0m3 2h0m1-1h0m1 3h0m1-1h0m2-1h0m0-1h0m5-1h0m0 1h0m2-1h0m4 2h0m6-1h0m6-1h0m0 3h0m2-4h0m8 4h0m-3 6h0m0-1h0m-2-1h0m-1 1h0m-2 2h0m-3-1h0m-7-1h0m-1 0h0m-2-2h0m-8 1h0m-1 2h0m-2 1h0m-4-5h0m-5 0h0m-3 4h0m6 3h0m13 1h0m2 2h0m2-3h0m5 0h0m1-1h0m1 1h0m1-1h0m7 0h0m1 7h0m-3 1h0m-10 1h0m-2 1h0m0 6h0m0 2h0"/><path id="qwu" d="M217 764h0m-2 2h0m0 0h0m-2 0h0m-13-2h0m-1 2h0m-1-2h0m-11 1h0m-1-2h0m-2 5h0m12 1h0m11 0h0m1 1h0m9-1h0m27 0h0m10 3h0m2 5h0m-11 1h0m-3 0h0m-6-2h0m-1-2h0m-4 0h0m0 4h0m-2-4h0m-46 3h0m-5-1h0m49 6h0m3 2h0m3-2h0m0 1h0m1 0h0m0-3h0m1 3h0m3-3h0m1 5h0m1-2h0m2 1h0m1 1h0m2-2h0m4 2h0m7 0h0m-8 4h0m-3-2h0m-4-1h0m-1 1h0m-4 3h0m-2 1h0m-2-4h0m-1-1h0m1 11h0m3-2h0m4 2h0m3 0h0m3-5h0m7 4h0m0-2h0m2-2h0m1 4h0m2 1h0m4 0h0m-1 1h0m-4 3h0m-12-2h0m-2 4h0m-3-4h0m-1 0h0m-3 2h0m-1 0h0m0-1h0m-65 1h0m3 5h0m59 2h0m5 1h0m1-2h0m2-1h0m5 2h0m5-4h0m-2 8h0m-3 3h0m-8-2h0m0-3h0m-6 0h0m0 2h0m-48 7h0m0 1h0m44-2h0m2 2h0m2 0h0m5 0h0m1-3h0m2 4h0m1-3h0m5 3h0m1-5h0m1 2h0m3 3h0m7 0h0m1-4h0m-17 6h0m-1-1h0m-4 0h0m-6 2h0m0-1h0m-3 0h0m0 4h0m-1-1h0m-4-1h0m-38 1h0m-3-4h0m-14 0h0m5 7h0m13 4h0m2-3h0m2-1h0m3 4h0m4 0h0m1-1h0m1-4h0m7 5h0m5-4h0m2 0h0m8 1h0m11 1h0m3-3h0m1 2h0m8 2h0m2-3h0m4 0h0m2 4h0m0-2h0m2 2h0m2 2h0m-4 3h0m-46-3h0m-3-1h0m-6 1h0m-1-1h0m45 11h0m1-1h0m3-2h0m2 2h0m12 2h0m-18 4h0m11 2h0"/><path id="qwv" d="M102 739h0m-28 4h0m-6 6h0m17-4h0m12 3h0m24 5h0m-15 1h0m-7 1h0m-5-5h0m-3 5h0m-3 0h0m-11-3h0m-6 7h0m2 1h0m2-2h0m0-2h0m8 1h0m4 2h0m2 0h0m0-3h0m6 5h0m1-4h0m2-1h0m0 3h0m6 1h0m12-2h0m-8 8h0m-5 0h0m-1-1h0m0-1h0m-3 3h0m-1-2h0m-5-3h0m-1 3h0m-2-1h0m0 3h0m-5-3h0m-4 2h0m-10 0h0m-8-3h0m0 1h0m-15 8h0m7 1h0m18 0h0m10-4h0m1-1h0m3 4h0m0-1h0m1-1h0m3 1h0m2 2h0m1-3h0m5-2h0m7 1h0m2-1h0m-1 9h0m0-1h0m-2 1h0m-3-1h0m0-2h0m0 5h0m0-2h0m-3 0h0m-3-1h0m-7-2h0m-1 4h0m-2 1h0m-2-2h0m-2 1h0m-3-2h0m-4 2h0m-2-3h0m-2 1h0m-13 2h0m-4-3h0m-5 9h0m3-3h0m14 2h0m3-2h0m3 4h0m4-5h0m2 5h0m0-4h0m8-1h0m3 3h0m5 0h0m3 2h0m7-1h0m1-2h0m7 5h0m-6-1h0m-3 4h0m-5-3h0m-2 1h0m-1 1h0m-1 1h0m0 0h0m-1-3h0m-3 4h0m-3-1h0m-1-1h0m-9 2h0m-1-3h0m-1 0h0m-15 2h0m-11 0h0m8 6h0m6 0h0m1-1h0m0 0h0m5-1h0m2 0h0m6-2h0m0 5h0m2-2h0m2 1h0m1-1h0m0-2h0m0 3h0m4 1h0m0-1h0m0-4h0m0 3h0m2-2h0m4 0h0m3 2h0m0 1h0m4-1h0m3-3h0m4 9h0m-19-3h0m-1 1h0m-1-1h0m-9 2h0m-3 2h0m-15-3h0m-3-1h0m9 8h0m2 2h0m2-1h0m6-2h0m5 4h0m0-4h0m0 3h0m3-1h0m3-1h0m3 3h0m2 0h0m1-2h0m6 1h0m7-3h0m-6 6h0m-23 2h0m0-3h0m-7 1h0m-9 0h0m14 10h0m1-4h0m6-1h0m5 0h0m3 3h0m5-3h0m1 1h0m1 1h0m2 0h0m-7 7h0m0-2h0m-13 3h0m-1-3h0m-6 0h0m-4 0h0m5 8h0m5 0h0m6 0h0m6-3h0m-10 8h0m-8 1h0m-8-3h0m12 10h0m8 6h0m-6-2h0m-7-2h0m-11 3h0m5 8h0m6-5h0m22 0h0m7 0h0m1 0h0m0 0h0m6 1h0m-34 8h0m18 4h0"/><path id="qww" d="M107 759h0m21 0h0m29-2h0m-3 9h0m-3 1h0m-4 0h0m-1-5h0m-5 4h0m-3 1h0m-9 0h0m-13 0h0m-11-3h0m-2 7h0m11-2h0m7 0h0m2 4h0m2-3h0m4-1h0m1 2h0m1-2h0m3 3h0m2 1h0m0-4h0m1 3h0m1-2h0m9 2h0m2 0h0m6-4h0m1 2h0m1 2h0m3-1h0m3 1h0m8 2h0m-10 1h0m-4 3h0m-10 0h0m-3-1h0m-1 2h0m-1-3h0m-2 1h0m-1-2h0m-5 1h0m0 3h0m-4-3h0m-3-1h0m-1-1h0m-2 0h0m0 0h0m-1 3h0m-2-1h0m-2 2h0m-2 1h0m-2 0h0m-2-2h0m-5-3h0m-1 5h0m-3-2h0m0-1h0m-2 3h0m2 6h0m10-3h0m1 0h0m0 2h0m0-3h0m11 0h0m1 3h0m4-1h0m4-2h0m1 1h0m0-2h0m3 0h0m1 1h0m1 1h0m3-1h0m0 3h0m1-1h0m1-1h0m0-1h0m5 1h0m1 1h0m1 0h0m0 1h0m3 0h0m2-3h0m0 2h0m3 2h0m1 0h0m4-1h0m-5 4h0m0-2h0m-9 5h0m-2-4h0m-1 3h0m-6-1h0m-8 1h0m-12 0h0m0 1h0m0-2h0m-1 1h0m-1-4h0m-1 2h0m-10 2h0m-1 0h0m-9 1h0m0-4h0m-10 2h0m21 8h0m5-5h0m2 0h0m4 4h0m1 1h0m1 0h0m1 0h0m1-4h0m4 0h0m0 2h0m2 1h0m6-3h0m0 4h0m8 0h0m0 0h0m7-5h0m1 11h0m-2-3h0m-5 0h0m0-2h0m-4 4h0m-9-2h0m-8 3h0m-8-5h0m-4 2h0m-7 2h0m-1-2h0m-3 1h0m-5 0h0m19 8h0m0-3h0m4 1h0m0-2h0m3 2h0m1-1h0m17-2h0m10 0h0m7 9h0m-20 0h0m-22-2h0m-12 1h0m-9 2h0m36 4h0m26-1h0m-30 8h0m-10 0h0"/><path id="qwx" d="M166 820h0m12 19h0m-10-1h0m-36 7h0m7-1h0m9-4h0m3 0h0m0 2h0m2-1h0m28 8h0m-16-1h0m0-2h0m0 1h0m-14 2h0m-1-2h0m-1 2h0m-2 0h0m-13 2h0m0-5h0m-3 8h0m2 2h0m4-4h0m7 2h0m1 3h0m0-5h0m2 3h0m1-2h0m3 0h0m1 2h0m4-1h0m1 0h0m8-2h0m8 1h0m1 4h0m10-3h0m-13 8h0m-2-4h0m-3 2h0m0 2h0m0 0h0m-7-1h0m-3-1h0m-3 3h0m-2-2h0m-1-3h0m-1 3h0m-1-2h0m-2-1h0m-4 2h0m0-2h0m-1 3h0m-4-2h0m-8 8h0m9-2h0m1 3h0m2-3h0m1 1h0m2 0h0m5-2h0m1 3h0m2 0h0m5 2h0m2-3h0m7 2h0m0-4h0m1 4h0m1-2h0m7-2h0m9 5h0m13 4h0m-20-3h0m-4 3h0m-5-3h0m-4 5h0m-4-1h0m-3-2h0m-1-2h0m0 4h0m-4-2h0m-1 1h0m-1 2h0m-1 0h0m-7-5h0m0 0h0m-1 1h0m-2 0h0m-6 1h0m-6 1h0m-7 7h0m22-3h0m2 4h0m6-4h0m5 3h0m6-3h0m1 1h0m0 0h0m10 1h0m9 8h0m-2-2h0m-5 2h0m-2-5h0m-2 2h0m-4 0h0m0 1h0m0-3h0m-3 1h0m0-1h0m-6 2h0m-1 2h0m0-1h0m-1-3h0m-1 2h0m0 1h0m-3-2h0m-3 3h0m-13 4h0m7 3h0m5-5h0m3 2h0m6-1h0m5 2h0m1-2h0m3 4h0m3 2h0m-18 0h0"/><path id="qwy" d="M228 752h0m-38 5h0m41 0h0m1 4h0m12 4h0m-8 0h0m-19 0h0m-23-1h0m-23 9h0m9-2h0m7 1h0m4 0h0m3-3h0m4 0h0m18 4h0m5-5h0m2 3h0m2-2h0m6 3h0m6-4h0m4 4h0m3 7h0m-5-2h0m-8-1h0m-1 2h0m-3-2h0m-1-1h0m-4 2h0m-47 0h0m53 4h0m2 0h0m0 4h0m4-5h0m1 4h0m0 0h0m0-3h0m2 2h0m2 1h0m2-2h0m4-1h0m4-1h0m10 2h0m-7 9h0m-7-5h0m-6 5h0m-4-3h0m-4 1h0m-3-3h0m-1 2h0m-52 2h0m62 6h0m2 0h0m3 0h0m0-1h0m4 1h0m0 1h0m3-1h0m4-4h0m0 2h0m-4 7h0m-2 1h0m0-1h0m-4-2h0m-1 2h0m-4 1h0m-1-4h0m0 2h0m-4-2h0m-1 3h0m1 4h0m2 3h0m5-3h0m3 2h0m4-1h0m0-2h0m5 4h0m3-1h0m12 0h0m-17 5h0m-6-2h0m-6 3h0m-3-2h0m0 1h0m-2 2h0m0 1h0m-1 0h0m-1-2h0m-61 2h0m56 2h0m6 4h0m4-2h0m1 2h0m3-1h0m5 1h0m0-1h0m0-4h0m1 5h0m6-2h0m-3 3h0m-9 3h0m-2 0h0m-1 2h0m-1-1h0m0-4h0m-2 2h0m0 2h0m-1-2h0m-1 0h0m-4 3h0m-4-3h0m-3 0h0m-38 2h0m-2-4h0m0 5h0m-2 0h0m-6-4h0m-13 2h0m32 6h0m16 2h0m3-3h0m1 3h0m2 0h0m3 0h0m0-4h0m2 2h0m5-2h0m8 1h0m7 0h0m2 3h0m0-1h0m1-4h0m1 5h0m9-2h0m0-2h0m-7 7h0m-2 3h0m-42-5h0m-12 3h0m-2-1h0m-4-1h0m0-1h0m-6 0h0m62 10h0m3-4h0m3 5h0m1-2h0"/><path id="qwz" d="M118 749h0m42 2h0m-22 4h0m-39 6h0m21-2h0m7 2h0m8-1h0m43-3h0m-25 6h0m-4 1h0m-4 0h0m-1 0h0m-2 3h0m-1-3h0m0 3h0m-2-4h0m-9 4h0m-5-1h0m0 0h0m-1 1h0m-5-4h0m-6 3h0m-5 0h0m-8-3h0m-6 9h0m10 1h0m0 0h0m6-4h0m1-1h0m1 1h0m7 2h0m4-3h0m1 4h0m0-3h0m3 2h0m0 1h0m5-4h0m2 1h0m3 3h0m0-3h0m0 3h0m1-1h0m0 1h0m1-1h0m2-1h0m10 1h0m0-2h0m4 3h0m1-3h0m3 3h0m23 3h0m-14 2h0m-3 1h0m-14-4h0m-1 2h0m-4-1h0m-3 1h0m-2 3h0m-6-3h0m-2-1h0m-3 4h0m-2-4h0m0 0h0m-1 4h0m0-3h0m-1-2h0m-2 1h0m-2 2h0m0 2h0m-3 0h0m-8-2h0m-1-1h0m-1-1h0m-5 0h0m-8 3h0m5 6h0m3-2h0m2-1h0m3 4h0m1-5h0m4 4h0m3 0h0m2 0h0m2-3h0m1 0h0m0 4h0m1 0h0m4-1h0m1-1h0m3-1h0m2 0h0m3-2h0m18 2h0m21-1h0m-12 5h0m-13 5h0m-6-4h0m-6-1h0m-4 0h0m-1 2h0m-6 2h0m-5-3h0m0 2h0m-8-1h0m-3 1h0m-2-2h0m-1 3h0m0-1h0m-1-1h0m-11-1h0m9 10h0m5-4h0m15-1h0m2 4h0m23-2h0m-20 4h0m-6 4h0m-22-4h0m-4 9h0m12 1h0m0-3h0m8 0h0m7 4h0m5-3h0m-21 4h0"/><path id="qxa" d="M192 772h0m0-1h0m3 2h0m4 0h0m1-2h0m2-2h0m2 4h0m0-2h0m2 0h0m1-2h0m12 10h0m-1-5h0m-4 4h0m-2 0h0m-3 0h0m0 1h0m-6-1h0m-3-2h0m0 1h0m-2-3h0m-1 1h0m0-1h0m-1 0h0m-4 4h0m-2 0h0m-1-2h0m-4 3h0m-5 6h0m1-2h0m9 2h0m1-3h0m2 2h0m1-2h0m1 2h0m1-4h0m3 2h0m2 0h0m4 1h0m1 2h0m1 0h0m0-5h0m0 1h0m3 3h0m0 1h0m2-1h0m2 1h0m1-3h0m2 0h0m2-2h0m2 0h0m3 0h0m5 6h0m-2 3h0m-1 0h0m-4-1h0m0 3h0m-1 0h0m-1-5h0m-1 2h0m-2 2h0m-2-3h0m-4 3h0m-1-4h0m-1 1h0m-7 4h0m-1-4h0m-1 4h0m-3-3h0m-3 1h0m-1-3h0m-2 4h0m-1-4h0m-6 1h0m-3 2h0m12 6h0m3-1h0m5 3h0m3-5h0m4 3h0m2 1h0m0 1h0m5-5h0m2 4h0m4-2h0m2-2h0m1 5h0m2-3h0m2 0h0m2-2h0m2 6h0m-3 0h0m-1 3h0m0-3h0m-2 4h0m-3-2h0m-5 0h0m-3 2h0m-1 0h0m0 1h0m-1-3h0m-8 2h0m-1-2h0m-2 3h0m-1-3h0m-2 2h0m0 0h0m-1-2h0m-4-1h0m-3 2h0m0-1h0m-5 0h0m-1-1h0m-7 7h0m7 0h0m7 2h0m0-2h0m1 2h0m0-3h0m0 1h0m0 0h0m1 1h0m2 0h0m1 2h0m1-3h0m2 3h0m1-1h0m0-4h0m0 5h0m4 0h0m1-4h0m1-1h0m3 1h0m1 4h0m0-3h0m1 2h0m0-1h0m3 2h0m1-2h0m4-1h0m1 3h0m0 0h0m2 0h0m5-1h0m2-3h0m-6 10h0m-6-5h0m-2 4h0m-1 1h0m-1-3h0m0-2h0m-2 1h0m-1 1h0m0-1h0m-2 2h0m-1 1h0m-4-1h0m-7 2h0m-1-1h0m-2 0h0m-1 0h0m-3-2h0m0-2h0m-1 0h0m-4 2h0m-1 6h0m0-2h0m7 1h0m4-1h0m0 4h0m8 1h0m1-2h0m2-2h0m4 1h0m2-1h0m1 3h0m0-2h0m0 3h0m5-2h0m1 0h0m0 1h0m2-3h0m0 0h0m1 0h0m1 0h0m1 3h0m0-1h0m-5 4h0m-6 4h0m-5-3h0m0 1h0m-5-2h0m0 2h0m-1 1h0m0-2h0m0-2h0m-1 1h0m-1 3h0m-1-3h0m0-1h0m-2 0h0m-2 0h0m0 4h0m-3 1h0m0-2h0m7 4h0m4-1h0m0 0h0m3 0h0m3 2h0m4-2h0m1 2h0"/><path id="qxb" d="M229 839h0m-1-1h0m0 0h0m0-2h0m-10 2h0m-9-1h0m-7 0h0m-15 6h0m4 0h0m8 2h0m12-1h0m2-3h0m13 0h0m1 3h0m1 0h0m0-3h0m-7 7h0m-3 1h0m-1-1h0m-1-1h0m-8-1h0m-6 0h0m-1 0h0m-16 2h0m23 6h0m7 2h0m14-3h0m8 1h0m-21 9h0"/><path id="qxc" d="M132 828h0m-1 10h0m-11 1h0m3 6h0m25 6h0m-1-3h0m-10-1h0m-8 3h0m-1-3h0m-1 2h0m-7 0h0m-1 2h0m-6-4h0m-4 0h0m-11 1h0m12 6h0m8-2h0m1 2h0m4 3h0m2-3h0m13 3h0m16 1h0m-10 1h0m-7 1h0m-4-1h0m-8 2h0m-4 2h0m-2-4h0m-15-1h0m6 10h0m2-1h0m2 2h0m2-4h0m2-1h0m1 5h0m7-4h0m13 3h0m13-3h0m-10 7h0m-7 3h0m-3-5h0m-2 5h0m-4-4h0m-2 2h0m0 0h0m-4-1h0m0-2h0m-5 5h0m-6-3h0m0 6h0m10 2h0m13 1h0m2-3h0m10 3h0m-26 6h0m26 5h0"/><path id="qxd" d="M81 760h0m36 1h0m-15 5h0m-6-4h0m-2 1h0m-16 9h0m20 7h0m19 1h0m-22 10h0m-20 2h0m10 4h0m15 1h0m1-3h0m3 6h0m-22 8h0m8-3h0m3 7h0m-15-1h0m10 9h0m14 1h0m2-5h0m5 3h0m-28 7h0m8 4h0m6-2h0m10 0h0m11 6h0m-7 4h0m-1-4h0m-15 2h0m-5 5h0m12-1h0m17 3h0m-5 4h0m-10 0h0m-5 3h0m-13 4h0m11 1h0m47 7h0m-21-4h0m-7 4h0m-11-3h0m-2 6h0m7 2h0m9 2h0m9 2h0m-7 2h0m-23-2h0m9 7h0m-4 9h0"/><path id="qxe" d="M103 813h0m22 49h0m2 19h0"/><path id="qxf" d="M125 743h0m-58 5h0m42 3h0m-1 1h0m-7-2h0m-4 4h0m-4-4h0m-14 5h0m-2 0h0m-1-4h0m0 2h0m0 0h0m-24 5h0m14 0h0m7 2h0m7-4h0m2 0h0m2 3h0m5-1h0m7-1h0m2-1h0m6 3h0m9 4h0m-9 4h0m-3-1h0m0-1h0m-8 2h0m-4-3h0m0-2h0m-1 1h0m-3 3h0m-15-2h0m-4-1h0m-1 2h0m-3 2h0m1 3h0m2 2h0m2-4h0m4 3h0m4 1h0m0-2h0m2 3h0m1-2h0m2 2h0m2-5h0m7 5h0m1-1h0m3 0h0m0-4h0m6 4h0m3-1h0m2-2h0m2 0h0m1 0h0m2 0h0m1 7h0m-1 2h0m-1 0h0m0 0h0m-3 0h0m-2-2h0m-1-2h0m-6 5h0m-3-1h0m-4-3h0m-3 0h0m0 0h0m-4 1h0m-4 3h0m-5-2h0m-4 2h0m-8-3h0m-5 0h0m-1 1h0m-16 8h0m13 0h0m23-5h0m4 2h0m1-2h0m4 2h0m2 0h0m1 1h0m5-1h0m0 1h0m6-3h0m11 4h0m0-2h0m4 8h0m-1-2h0m-18-2h0m-3 5h0m-1-2h0m-3 2h0m-1 0h0m-6-1h0m-1 0h0m-3-2h0m-1-2h0m0 4h0m0-1h0m0 1h0m-3-2h0m-6 3h0m-20-3h0m6 4h0m16 2h0m1 1h0m5 0h0m1 1h0m1-1h0m1-1h0m10 1h0m3 0h0m6-1h0m0-2h0m3 4h0m8 1h0m1-2h0m-14 6h0m0-3h0m-3 1h0m-3 1h0m-1 0h0m0 3h0m-5-5h0m-3 4h0m-6 1h0m-10-5h0m-8 1h0m-14 1h0m16 9h0m1-5h0m6 2h0m5 3h0m7-2h0m4-2h0m8 1h0m1 1h0m5 2h0m1-5h0m0 0h0m2 1h0m3 4h0m8 5h0m-3 1h0m-7-2h0m-3 2h0m-2-3h0m-2 2h0m-11-3h0m-1 3h0m-1-2h0m-5 1h0m-7-2h0m-4 2h0m-14 7h0m23-3h0m4 3h0m1-1h0m9 1h0m0-2h0m2 0h0m1-1h0m2 3h0m2-1h0m1 2h0m0-3h0m1-2h0m2 4h0m21-1h0m-22 4h0m-1 4h0m-4-1h0m-7-4h0m-7 2h0m-17 0h0m5 8h0m17-1h0m5-3h0m14 1h0m-10 5h0m-8 3h0m-1-2h0m-4 3h0m-7-1h0m-7 2h0m-3-3h0m15 6h0m34 0h0m1 0h0m9 7h0m-34 1h0m-5-3h0m-1 1h0m4 4h0m0 0h0m4 5h0m3-2h0m6-3h0m17 22h0"/><path id="qxg" d="M162 794h0m2 3h0m-2 1h0m-21 1h0m-4 0h0m-15 7h0m3 3h0m11-1h0m8-4h0m12 0h0m3 3h0m7-2h0m6 4h0m2 0h0m0 4h0m-1-1h0m-3 1h0m-9 2h0m-6 0h0m-3-5h0m-4 4h0m-9 0h0m-8-3h0m-7 4h0m-1-3h0m-3-2h0m-6 10h0m5-1h0m4-3h0m12 2h0m0 2h0m1-4h0m3 4h0m2 0h0m1 0h0m2-4h0m2 5h0m2-3h0m4 2h0m1 0h0m2-1h0m3 2h0m1 0h0m1-2h0m2-2h0m2 2h0m0 2h0m6 0h0m11-2h0m-4 4h0m-2 3h0m-2-2h0m-2 2h0m-3-2h0m-2 3h0m-3-2h0m-1 2h0m-1-2h0m0-2h0m-1 0h0m-1 4h0m-2 0h0m-2 0h0m-3-5h0m-1 5h0m-5-4h0m-2 1h0m-2 2h0m-2-2h0m-3-2h0m-27 3h0m10 4h0m6 0h0m7 1h0m0 3h0m2-2h0m6 1h0m7 1h0m1-4h0m1 2h0m0 0h0m1 2h0m0 0h0m2-3h0m4-1h0m1 4h0m0 0h0m1-5h0m5 5h0m0-1h0m0 1h0m9 0h0m2-4h0m12 3h0m0 2h0m-14 0h0m-4 5h0m-3-3h0m-2 3h0m-9-5h0m-2 0h0m-1 2h0m-2 1h0m0 0h0m-1-3h0m-1 2h0m-2 0h0m-5 3h0m-2-5h0m-2 2h0m-3 1h0m-2 0h0m0-3h0m-1 5h0m-2-2h0m0 2h0m-1 0h0m-6-4h0m2 10h0m6 0h0m3-4h0m2 0h0m2 3h0m1 0h0m4-3h0m1 2h0m1-1h0m1 3h0m8-5h0m3 4h0m0 1h0m4-5h0m2 0h0m2 3h0m11-2h0m-12 8h0m-4 1h0m-5-4h0m-5 4h0m-6-2h0m-7 2h0m-3-1h0m11 3h0m36 1h0m-30 6h0"/><path id="qxh" d="M168 836h0m-2 0h0m-2 2h0m-7-4h0m-3 4h0m-1-1h0m-2 1h0m-5 1h0m-10 5h0m17-2h0m16 0h0m7 0h0m5-1h0m1 7h0m-9 0h0m-6 3h0m-2 0h0m-2-1h0m-1-1h0m-1-3h0m-5 0h0m-2 2h0m-7 0h0m-12 9h0m3-5h0m10 4h0m1-2h0m2-2h0m4 1h0m1 2h0m6 1h0m1-2h0m1 1h0m4-3h0m0 3h0m3-1h0m3-2h0m4 2h0m1-2h0m7 4h0m6 6h0m-2 1h0m-4-5h0m-1 4h0m-19 1h0m-2-1h0m-2-2h0m-1 3h0m0-5h0m-3 2h0m0-2h0m-1 0h0m-2 1h0m-6 1h0m-2 2h0m-1-1h0m-2-3h0m-2 8h0m4 2h0m7-3h0m3 3h0m1 1h0m3-4h0m2-1h0m13 3h0m4-1h0m3 0h0m2 2h0m3 0h0m5 0h0m-1 7h0m-5-1h0m-2-4h0m-6 2h0m-5 3h0m0-3h0m-2 0h0m-6 2h0m-2 1h0m-2-3h0m-1 1h0m-9-3h0m0 3h0m-5 0h0m-17-2h0m22 7h0m5-1h0m1 1h0m1 3h0m0-3h0m5 3h0m4-4h0m1 2h0m0-1h0m6 0h0m2 2h0m4 0h0m2 1h0m8 3h0m-7 0h0m-4-2h0m-1 3h0m-6-3h0m-1 1h0m-3 0h0m-1 0h0m-1 2h0m-3-1h0m-1 1h0m-2-2h0m-1 2h0m-3-1h0m-2-2h0m-1 2h0m-1 7h0m1-2h0m2 1h0m2 0h0m2 3h0m7 0h0m7-3h0m2 2h0m-9 3h0m-7 4h0m-7-2h0m1 4h0"/><path id="qxi" d="M143 765h0m15 19h0m13-1h0m6-1h0m-5 4h0m-1 5h0m-2-4h0m-13-1h0m-12 2h0m-18 3h0m-2 0h0m-7 6h0m11-1h0m7 0h0m5-1h0m2 2h0m2-4h0m3-1h0m21 0h0m1 5h0m6-3h0m-2 9h0m-1-5h0m-8 5h0m-3 0h0m-1-1h0m-3-1h0m-9-3h0m-10 4h0m-2-3h0m-5 2h0m-19 2h0m-11-3h0m10 8h0m0-3h0m3-1h0m2 0h0m7 4h0m1 0h0m6 0h0m2 0h0m6-3h0m5 4h0m8 0h0m1-4h0m2 0h0m0 0h0m1 0h0m5 4h0m4-4h0m1 3h0m4-2h0m2-1h0m0 1h0m0-2h0m0 0h0m3 2h0m0-1h0m1 4h0m3-4h0m-11 6h0m-3 1h0m-2 1h0m-1-2h0m-2-1h0m-10 2h0m-7-1h0m-14 3h0m-9-2h0m-1 0h0m-4 2h0m-3-4h0m4 9h0m2 2h0m4-2h0m2 1h0m0-4h0m1 0h0m7 1h0m2 2h0m4-3h0m1 2h0m3 2h0m2 0h0m1-3h0m0 0h0m1 1h0m1 1h0m0-3h0m2 1h0m0-1h0m2 5h0m1-3h0m9-1h0m4 0h0m6 2h0m1-3h0m4 5h0m2-5h0m3 2h0m-4 9h0m-5-3h0m-4 0h0m0 0h0m-2 0h0m-1 0h0m-1-1h0m-2 0h0m-1-1h0m-2 0h0m-1 3h0m-1 0h0m-1 1h0m-2-2h0m-1 2h0m0-2h0m-1-1h0m-3 2h0m-3-1h0m-1 0h0m0 3h0m-1 0h0m-1 0h0m-2-1h0m0 1h0m-2-1h0m-2-2h0m-6 0h0m-1 2h0m-10 0h0m2 6h0m7 1h0m0-1h0m3 1h0m2-3h0m1 2h0m0 0h0m2-2h0m4 1h0m0-1h0m1-1h0m8 3h0m2 1h0m0-2h0m6-2h0m0 3h0m3-2h0m1 0h0m4 3h0m3-5h0m1 5h0m2-3h0m7-2h0m-16 9h0m-1 1h0m-2 1h0m0-3h0m-1-2h0m-1 4h0m-1-4h0m-5 4h0m-1-2h0m-1-1h0m-1 4h0m-4-4h0m-1 0h0m-12 3h0m-2-2h0m0 4h0m7 5h0m0-1h0m3-4h0m15 2h0m2 3h0m-8 4h0m-7-2h0m5 7h0"/><path id="qxj" d="M123 785h0m7 0h0m2-1h0m43 4h0m-6 1h0m-14 2h0m-18 5h0m29 7h0m-51-3h0m7 9h0m20-4h0m7 4h0m3-3h0m3 1h0m8 2h0m3 0h0m0 0h0m3-4h0m4 2h0m3 1h0m1-1h0m-4 6h0m-7 2h0m-3 0h0m-3-2h0m-1 2h0m-6-3h0m-5 2h0m-6 1h0m-5-3h0m-3 2h0m-26 6h0m5 1h0m27-2h0m8-1h0m13 2h0m1-3h0m4 3h0m3 1h0m1-2h0m2-3h0m1 2h0m5 7h0m-1-3h0m-7 0h0m-2 1h0m0 2h0m-5-2h0m-4 0h0m0-1h0m-2 2h0m-2 3h0m-6-3h0m-1 2h0m0 1h0m-2-1h0m-1 1h0m-10-1h0m-2 1h0m-9 0h0m-25-4h0m20 7h0m3 1h0m2-3h0m2 0h0m8 2h0m2-2h0m1 4h0m0-3h0m3 1h0m7 0h0m10 2h0m0-3h0m1 3h0m0-3h0m1-1h0m6 2h0m0-1h0m0 3h0m0-3h0m2 0h0m5 3h0m0-1h0m5-1h0m1-2h0m4 4h0m5 0h0m-12 4h0m-1-1h0m0-1h0m-1 4h0m-7 1h0m-1-2h0m-3 0h0m-2-2h0m-4 4h0m0-1h0m-8-3h0m-6 0h0m0 2h0m-1-1h0m-2 0h0m-3 2h0m-2 1h0m-1-5h0m-1 1h0m-9 1h0m-8-2h0m16 6h0m3 0h0m1 3h0m3-3h0m1 5h0m2-4h0m8 2h0m0 2h0m3-2h0m1-2h0m0 0h0m1-1h0m1 3h0m12-1h0m11 3h0m5 0h0m-26 2h0m-5 3h0m-2 1h0m-17 0h0m-5-2h0m10 6h0m13-2h0m4 0h0"/><path id="qxk" d="M197 771h0m0-1h0m4-1h0m9 3h0m10 4h0m-10-1h0m-2 1h0m-1-1h0m-4 3h0m0 0h0m-2-4h0m-2 0h0m-9 1h0m-4 1h0m-4 9h0m7-4h0m2 0h0m2-1h0m6 1h0m2 1h0m0 1h0m2-3h0m1 0h0m0 5h0m3 0h0m1-3h0m3 2h0m2-1h0m1-1h0m4 2h0m3 1h0m1-5h0m4 8h0m0 1h0m-1 0h0m-1 2h0m0-3h0m-1 3h0m-1-3h0m0 2h0m0 1h0m0 0h0m-13-1h0m-1-1h0m-1-1h0m-2 0h0m-4 2h0m-1-4h0m-2 4h0m-9 0h0m-11 1h0m1 3h0m6 0h0m4-1h0m0 4h0m6 0h0m1-1h0m1-1h0m0-1h0m1 3h0m1-3h0m1 2h0m1-2h0m6-1h0m0 3h0m3-4h0m0 5h0m0-3h0m1-2h0m0 1h0m1-1h0m3 0h0m3 2h0m0-2h0m7 0h0m3 4h0m2 3h0m-1-1h0m-5 0h0m-2 1h0m-1 0h0m-2-1h0m-1 4h0m-1-4h0m-4 2h0m-1 2h0m-2 0h0m-1-3h0m0 1h0m-1 2h0m-2 0h0m-3-4h0m0 4h0m-1-2h0m-3-2h0m-1 3h0m-2 2h0m-2 0h0m-2 0h0m0-5h0m-1 1h0m-3 2h0m-2-2h0m0 2h0m0 0h0m-2 0h0m0 1h0m-1-3h0m-4 0h0m-1 0h0m-2 4h0m6 5h0m0 0h0m2-1h0m1 2h0m1-1h0m11 1h0m0-3h0m1 2h0m0-1h0m0 1h0m1 0h0m0 1h0m2-1h0m2-1h0m3 1h0m0-3h0m1 4h0m4-3h0m1-1h0m1 2h0m0-2h0m4 1h0m12 1h0m-4 4h0m-2 2h0m-2 1h0m0-3h0m-2 3h0m-3-2h0m-2 1h0m0-1h0m-8 3h0m-6-1h0m-2 0h0m0-2h0m-5 3h0m-1-1h0m-1-2h0m-1 0h0m-1 3h0m-2-3h0m-2-2h0m-1 5h0m-1-4h0m0 1h0m-3 3h0m6 4h0m0 1h0m0-2h0m3 1h0m5-2h0m0 1h0m1-2h0m2 5h0m3-5h0m2 5h0m1-3h0m0 1h0m1-3h0m2 3h0m5-3h0m2 5h0m0-1h0m2-4h0m1 1h0m1 2h0m1 1h0m5 1h0m0 0h0m1-3h0m-5 7h0m0-3h0m-1 3h0m-1 1h0m-4-2h0m0-2h0m-2 1h0m-2 2h0m0 1h0m-1-2h0m0-2h0m-2 5h0m0-2h0m0 2h0m-2-3h0m-1 1h0m-1-3h0m-1 5h0m-1-2h0m-1 0h0m-1-3h0m0 4h0m-3-2h0m0-1h0m-4 0h0m-2 0h0m1 5h0m3 1h0m5 0h0m4 1h0m6-1h0"/><path id="qxl" d="M149 779h0m-17 5h0m30 1h0m1-3h0m7 3h0m2-4h0m5 7h0m-6-2h0m-1 4h0m-1-3h0m-9-1h0m-4 4h0m-4-4h0m-2 3h0m-24 3h0m22 2h0m6 1h0m11 2h0m1-5h0m0 3h0m4-3h0m4 1h0m-2 9h0m-3 0h0m-1-4h0m-4 1h0m-19-1h0m-2 5h0m-9-3h0m-1 1h0m-11 2h0m-7-3h0m-2 1h0m-5-1h0m11 5h0m2 3h0m2-2h0m6-1h0m1 3h0m8 1h0m7-5h0m4 5h0m2-2h0m1-1h0m0 1h0m1-1h0m3-1h0m4 0h0m0 4h0m2-4h0m2 1h0m1 2h0m3-4h0m1 0h0m2 1h0m3 0h0m-3 5h0m-2 5h0m-1-1h0m-11-1h0m-3-3h0m0 0h0m-1 1h0m-6 0h0m-6 1h0m-1 1h0m0-1h0m-3 1h0m-8 0h0m-3 1h0m-3 2h0m0 5h0m4-3h0m5 1h0m0 0h0m1-2h0m1 0h0m3 2h0m1 2h0m1-5h0m1 1h0m3-1h0m1 1h0m1 3h0m0-1h0m0 2h0m3-5h0m0 0h0m2 5h0m4-1h0m3 1h0m1-1h0m1-2h0m11-2h0m0 0h0m0 3h0m0-2h0m3-1h0m0 0h0m1 1h0m1-1h0m7 9h0m-3-3h0m-3 0h0m-2 2h0m-4 0h0m-2 1h0m-2 2h0m-1 0h0m-7-2h0m-3-1h0m0-1h0m-1 0h0m0 4h0m-6-3h0m-1 2h0m-2-1h0m0-1h0m-1 1h0m-3-3h0m-2 3h0m-1-2h0m-2 1h0m-5 2h0m-2-3h0m-3 4h0m-2 0h0m-1 0h0m-1 0h0m-3-5h0m-7 8h0m8-1h0m3 1h0m3 0h0m1 3h0m3-1h0m1-1h0m1 0h0m0-3h0m1 5h0m1 0h0m0-5h0m1 4h0m2 0h0m3 1h0m3 0h0m2-4h0m0 4h0m4-2h0m0-1h0m1 0h0m2 2h0m3-2h0m0 2h0m9 1h0m1-5h0m2 6h0m-2 1h0m-10-1h0m-2 5h0m-10 0h0m-1-4h0m-8 0h0m-1 0h0m-4 3h0m-2 0h0m-5-2h0m-6 1h0m8 8h0m25-2h0m1 1h0m4 0h0m-4 2h0m-16 7h0"/><path id="qxm" d="M95 748h0m11 7h0m-4-2h0m-4 0h0m-4 2h0m-6-1h0m12 7h0m4-3h0m1 0h0m7 2h0m0-2h0m3-2h0m1 10h0m-2 1h0m-1-5h0m-4 0h0m-4 0h0m-44 1h0m8 6h0m1-1h0m5 1h0m9 3h0m0-2h0m9 3h0m0-1h0m7-4h0m3 5h0m1-2h0m11 1h0m3-1h0m-2 3h0m-3 2h0m-3 2h0m-2-1h0m-1 1h0m-3-2h0m-2 3h0m-2-3h0m-18 3h0m-12 2h0m4 2h0m0 0h0m5-1h0m6 3h0m3-5h0m11 1h0m1 2h0m1-2h0m3 0h0m3 9h0m-1-1h0m-6-2h0m-2 3h0m-2-2h0m-3 3h0m-2-4h0m-3-1h0m-6 1h0m-5 3h0m-11 0h0m8 5h0m10-1h0m1 0h0m1 0h0m3-2h0m3 5h0m8-1h0m4-4h0m7 5h0m-17 5h0m-5-3h0m-6 3h0m-7 0h0m-3-3h0m5 6h0m0 3h0m3 0h0m0-1h0m1-1h0m8 3h0m2-3h0m6 3h0m3-1h0m7-4h0m-3 8h0m-1 1h0m-1-2h0m-3 4h0m0-5h0m-14 1h0m-4 0h0m-10 4h0m-11 2h0m7-1h0m11 2h0m5-1h0m1 0h0m4 1h0m0 0h0m4 0h0m6 2h0m11 4h0m-11-2h0m0 0h0m-3 1h0m-2 2h0m-11 0h0m0 1h0m-14-3h0m11 7h0m7-1h0m9 0h0m1 0h0m1 3h0m2 0h0m7-3h0m1-1h0m3 5h0m-6 4h0m-4-1h0m-1-1h0m-4-1h0m-2 0h0m-20 0h0m-6 5h0m10 4h0m4-1h0m6 1h0m7 1h0m0-2h0m8 1h0m1 0h0m4 0h0m4 2h0m-7 1h0m-4 2h0m-5 2h0m-7-4h0m-3 2h0m-3-1h0m10 9h0m7 0h0m3 3h0m-2-1h0m-10 1h0m13 7h0m12 2h0m-10 3h0m-6-1h0m-5 2h0m-11 2h0m31 7h0m6-3h0"/><path id="qxn" d="M230 833h0m2-1h0m2 0h0m3 0h0m1 3h0m-2-1h0m-4 2h0m0-2h0m-4 2h0m0 3h0m-5-2h0m0 0h0m-4-2h0m-1 3h0m-2-2h0m-1 3h0m0-4h0m-1 3h0m-1-2h0m0-2h0m-2 2h0m-4 2h0m-3 0h0m-7 0h0m-12 1h0m-1 4h0m0-3h0m3 3h0m14 2h0m2-5h0m1 2h0m0 3h0m1-2h0m4 1h0m3 0h0m4 0h0m2 0h0m0 0h0m3 0h0m3-3h0m1 2h0m0 2h0m6-3h0m-12 4h0m0 4h0m-7-1h0m-2-3h0m-10 2h0m-3-1h0m-2 2h0m-7 1h0m-4 0h0m4 5h0m10-2h0m2 1h0m10 1h0m7 1h0m3-4h0m1 0h0m1 4h0m7-2h0m6-1h0m0 2h0m2-3h0m-18 7h0m-17 0h0m-4 4h0m-8-5h0m11 10h0m7-3h0m11 1h0m-8 6h0m-21 9h0"/><path id="qxo" d="M71 735h0m-4 14h0m15 0h0m9-1h0m17 5h0m-12-3h0m-4 1h0m-6 0h0m-5 4h0m-3 0h0m-9 0h0m-3-5h0m0 5h0m-16 6h0m2-2h0m15-2h0m1 1h0m7 3h0m5-3h0m3-2h0m2 4h0m0-3h0m1 1h0m7 2h0m2-4h0m8 3h0m4 6h0m0 0h0m-14-3h0m-2 1h0m-2 4h0m-2-5h0m-2 0h0m-6 2h0m-2 2h0m-4 0h0m-1-3h0m-10 1h0m-7 3h0m-4 6h0m5-1h0m7-4h0m3 5h0m2-2h0m2-3h0m5 0h0m6 4h0m7-1h0m2-2h0m1 2h0m3-3h0m2 4h0m4 1h0m0-4h0m3 1h0m5 6h0m-9-2h0m-7 1h0m-1 1h0m-4 0h0m-4-1h0m-9 0h0m-4 3h0m-7-4h0m-1 5h0m-4 0h0m-3-4h0m-1 2h0m-9 8h0m12 0h0m1-2h0m3 1h0m3-3h0m2 2h0m2-1h0m1 2h0m0-2h0m2 0h0m1 0h0m2 1h0m1-3h0m15 1h0m10 2h0m5 8h0m-22 0h0m0-1h0m-1-2h0m-6-2h0m-2 3h0m-9-3h0m-5 1h0m-12 2h0m-8 0h0m21 8h0m0-3h0m3-1h0m1 4h0m3-5h0m4 1h0m0 1h0m3 1h0m0-1h0m1 3h0m3-2h0m12-2h0m2 4h0m5-5h0m-1 10h0m0-3h0m-3-1h0m-4 1h0m0 3h0m-15-3h0m-2 1h0m0-1h0m-7 2h0m-19-2h0m-18-1h0m26 10h0m2-2h0m5 0h0m3 1h0m4-3h0m3 2h0m2-2h0m3 1h0m3 2h0m15-3h0m1 0h0m-13 6h0m-10 2h0m-4 1h0m-1 0h0m-12-1h0m-11 2h0m13 4h0m5-2h0m12 3h0m7-2h0m-1 5h0m-1 0h0m-5 1h0m-12 6h0m16 3h0m19 1h0m3-1h0m-23 3h0m-16 5h0m21 1h0m3 4h0m11 5h0m-23-3h0m-5 5h0m29 17h0"/><path id="qxp" d="M158 818h0m5 2h0m-7 6h0m-4 6h0m2-3h0m16 2h0m8 7h0m-17-4h0m-4 5h0m-18-1h0m31 13h0m-3-1h0m-5-3h0m-8-1h0m-21 4h0m18 3h0"/><path id="qxq" d="M196 754h0m-9 5h0m13 1h0m34 1h0m-8 3h0m-4 3h0m-2-2h0m-3 1h0m-9 1h0m-1 0h0m-2-4h0m-2 4h0m-2 0h0m-4-3h0m-5 3h0m-2-2h0m-8-1h0m-1 2h0m-12 3h0m4 4h0m13-1h0m1-2h0m1 3h0m0-2h0m2 0h0m14-2h0m15 2h0m3 0h0m0 1h0m3 0h0m2-3h0m2 1h0m2 3h0m1-3h0m3 0h0m4 9h0m-1-4h0m-1 1h0m-1-1h0m-7 0h0m-4 0h0m-2-1h0m-44 9h0m48 2h0m5-5h0m1 3h0m0-2h0m1 0h0m1-1h0m1 2h0m1 2h0m6 1h0m11 0h0m9 3h0m-20 0h0m0-1h0m-1 1h0m0 3h0m-3-2h0m-2 0h0m-4-1h0m-58 0h0m-8 0h0m64 6h0m2 0h0m5-2h0m8 1h0m6 9h0m-2 0h0m-2 0h0m-6-1h0m-3 0h0m-3 0h0m-3 0h0m-2 2h0m-2 6h0m5-5h0m2 5h0m1-2h0m1 1h0m3-2h0m2-2h0m4 5h0m4-1h0m10 5h0m-9-3h0m-3 2h0m-6 1h0m-1-3h0m-1 5h0m-1-3h0m-5 1h0m0 1h0m0-2h0m-1-1h0m-2 4h0m-56-4h0m2 6h0m0 1h0m2 3h0m48-4h0m2-1h0m0 2h0m1-1h0m4-1h0m5 3h0m3 0h0m0-2h0m1 4h0m4-1h0m1 1h0m10 0h0m-8 4h0m-3 0h0m-2 1h0m-2-2h0m-1-2h0m0 0h0m-3 4h0m-4-3h0m-1 4h0m-3 0h0m-1-3h0m-1 1h0m-3 0h0m-12 0h0m-26 0h0m-22 3h0m19 3h0m8 1h0m5 1h0m7-2h0m1 0h0m1 2h0m3-3h0m2 1h0m4 1h0m3-3h0m3 0h0m3-1h0m4 1h0m1 1h0m2-2h0m6 1h0m2 1h0m10 8h0m-6-2h0m-2 0h0m-3-2h0m-1 1h0m-1 3h0m-42-4h0m-1 0h0m-6 0h0m-2 1h0m-1-1h0m-6 5h0m-1-5h0m63 9h0m-4 4h0"/><path id="qxr" d="M169 818h0m6 13h0m-15 8h0m-11-3h0m16 5h0m24 0h0m3 8h0m-5-3h0m-1 3h0m-7 2h0m-6-3h0m-2 2h0m-2 0h0m-1-4h0m-5 2h0m-1-1h0m-5 3h0m-9-1h0m16 3h0m1 1h0m0 0h0m0 2h0m3 2h0m4-4h0m1 3h0m4 1h0m2-1h0m11 0h0m1-3h0m2-1h0m1 3h0m9 4h0m-17 3h0m-8 0h0m-1-2h0m-4 0h0m-3 1h0m-3 2h0m-5-4h0m-2-1h0m-10 4h0m-2 5h0m10-1h0m5 1h0m4-1h0m0-1h0m1 1h0m4-2h0m3 2h0m3 2h0m2-2h0m2-2h0m0 3h0m0 1h0m0-4h0m2 0h0m2 1h0m2 3h0m1-1h0m2 1h0m2 1h0m7 6h0m-6-4h0m-2 3h0m-2-3h0m-3 2h0m-11 2h0m0-3h0m0-1h0m-1 0h0m-1 1h0m-1 0h0m-1-1h0m-6 3h0m-8 6h0m1-3h0m10 3h0m2-1h0m2 2h0m3 0h0m5-5h0m5 1h0m1 1h0m6 1h0m6-3h0m-9 7h0m-16-1h0m-1 4h0m-1 1h0m-3-3h0m-1 0h0m-4 3h0m-3-1h0m-5-4h0m-5 4h0m-2-3h0m-2 6h0m10-1h0m0 4h0m14 1h0m4-4h0m5 4h0m14-5h0m-8 7h0m-9 0h0"/><path id="qxs" d="M189 773h0m8-1h0m3 0h0m0-3h0m6 3h0m0-1h0m2 0h0m5-2h0m8 8h0m-2-2h0m-3 1h0m-1-2h0m-1 5h0m0-4h0m-1 2h0m-1 2h0m0-1h0m-1-4h0m-1 5h0m-1-4h0m0 1h0m-3 0h0m-4 3h0m-1-3h0m-2 3h0m0 0h0m-3-1h0m-1-1h0m-1 2h0m-6-3h0m-2 9h0m4-1h0m0-1h0m0-3h0m1 5h0m0-5h0m1 5h0m1-4h0m4 2h0m0 1h0m4-1h0m0-2h0m0 1h0m4 1h0m3 2h0m4-2h0m1 1h0m1-1h0m1 2h0m3-1h0m0-1h0m3-1h0m0-2h0m3 2h0m1-1h0m0 2h0m2 1h0m1 7h0m-2-2h0m-1 2h0m-1-2h0m-4 0h0m-1-2h0m-1 1h0m-2 1h0m0 2h0m-1-2h0m-1-2h0m-1 2h0m-4-2h0m0-1h0m0 4h0m-1-4h0m-2 1h0m-2 0h0m-1 0h0m-1 4h0m-4-2h0m-1-2h0m-1 3h0m0-1h0m-1-1h0m0-2h0m-5 4h0m0-3h0m0 2h0m-1-3h0m-2 4h0m0-1h0m-3-1h0m0 0h0m-1 1h0m-3 7h0m2-1h0m1 1h0m3-2h0m1 1h0m0-1h0m4-2h0m2 5h0m3-2h0m0 1h0m1 1h0m1-1h0m7-2h0m0 1h0m0-1h0m3-1h0m1 4h0m0-2h0m1 0h0m1-2h0m1 2h0m0 1h0m1-3h0m4 1h0m0 2h0m3-1h0m2 0h0m0-1h0m3 1h0m2 1h0m0-3h0m1 4h0m1 1h0m-3 3h0m-2 1h0m0-2h0m-2-2h0m-1 5h0m-1-5h0m0 1h0m0 1h0m0 1h0m-1 0h0m-1-2h0m-2-1h0m-1 5h0m0-3h0m-1 2h0m-2 1h0m-2-3h0m-1 3h0m-1-4h0m-3 4h0m-3-2h0m-1 2h0m-3-5h0m-1 2h0m0 0h0m-1-1h0m0-1h0m-2 3h0m-1-1h0m-4 1h0m-1 1h0m-3 0h0m-1-4h0m-1 2h0m-7 6h0m2-1h0m1 0h0m3 2h0m1-1h0m3 3h0m2 0h0m1 0h0m4-1h0m1 1h0m2-2h0m0-1h0m2-1h0m0-1h0m0 1h0m1 2h0m1 1h0m2-1h0m1-3h0m1 1h0m2-1h0m0 3h0m1-1h0m2 2h0m1-1h0m4 0h0m1 2h0m3-4h0m2 4h0m3-1h0m4-3h0m0-1h0m1 5h0m0-5h0m2 0h0m-3 6h0m-3 3h0m0 2h0m-2-2h0m-1-3h0m-1 1h0m-1 0h0m-2 4h0m-3 0h0m0-2h0m-1 1h0m0 0h0m-1-4h0m-3 0h0m-2 5h0m-1-1h0m-1-2h0m-1 3h0m-2-4h0m-1 2h0m-3-1h0m-1 0h0m-1 1h0m-1 2h0m0 0h0m-3-4h0m-6-1h0m-2 1h0m-1-1h0m1 8h0m2 2h0m8-1h0m3 1h0m3 0h0m1-4h0m1 0h0m4 5h0m1-1h0m0-3h0m3 4h0m1-5h0m0 5h0m2-3h0m1-1h0m1 0h0m1 4h0m1-3h0m1-1h0m2 4h0m2-3h0m0 3h0m2-2h0m-2 5h0m-7 2h0m-3-1h0m-1 0h0m0 0h0m-1-2h0m-4 0h0m0-1h0m-1 2h0m0 1h0m-3 1h0m-1-4h0m-1 0h0m0 1h0m-3 2h0m0 2h0m-4-4h0m-3 2h0m0-3h0m-2 2h0m3 5h0m1-1h0m6 3h0m1-3h0m3 1h0m4 2h0m6-3h0m4 0h0"/><path id="qxt" d="M171 843h0m14 0h0m0 7h0m-31 5h0m6-3h0m19 4h0m6-4h0m10 3h0m1 1h0m10 0h0m1-1h0m8-1h0m-18 9h0m0 0h0m-3-4h0m-1 2h0m-8-2h0m-1 3h0m0 0h0m-1 0h0m-1-3h0m-4-1h0m-6 2h0m-3 2h0m-19 2h0m12 3h0m9-3h0m3 4h0m12-1h0m0 1h0m1 1h0m0-1h0m3-3h0m1 2h0m1 0h0m3 1h0m6-1h0m8-3h0m-5 7h0m-2 0h0m-8 0h0m-1 4h0m-2-4h0m-3-1h0m-3 4h0m0-1h0m-1 0h0m0 2h0m-1 0h0m-1-4h0m-4 0h0m-1 0h0m-1 0h0m-3 4h0m-9 1h0m9 2h0m4-1h0m3 1h0m9 2h0m4 0h0m3 0h0m1-4h0m0 5h0m-7 2h0m-17-1h0m-6 1h0m9 15h0"/><path id="qxu" d="M108 763h0m-5 3h0m-3 0h0m-1-1h0m-2 4h0m15 2h0m9 0h0m-8 7h0m-16-1h0m-39 4h0m41 1h0m0 0h0m2 3h0m3 0h0m3 2h0m4 15h0m-27 0h0m-4-4h0m8 8h0m2 0h0m4 2h0m4 4h0m-18 7h0m9 0h0m14 1h0m1-4h0m-10 11h0m-5-4h0m-3 3h0m-5 5h0m14 1h0m14 1h0m3 2h0m-6 4h0m0-1h0m-39 1h0m20 3h0m11 3h0m4-3h0m6 0h0m-3 8h0m-7-1h0m-6-2h0m-8 7h0m5-1h0m7 2h0m9-1h0m7 2h0m6 1h0m-10 6h0m-2-1h0m-4-4h0m-11 2h0m18 4h0m3 0h0m10 11h0m-10-4h0m-4 6h0m2 0h0m6 8h0m-7-3h0"/><path id="qxv" d="M37 753h0m-14 5h0m5-2h0m3 4h0m2-1h0m0 2h0m2-2h0m1-3h0m0 5h0m4-2h0m4 1h0m3 5h0m-3 2h0m-2-2h0m-1-1h0m0 0h0m0 2h0m0-4h0m-4 5h0m-1-4h0m-1 4h0m-1 0h0m0-1h0m0 1h0m-4-4h0m-2-1h0m0 0h0m-1 2h0m-1-2h0m0 5h0m0-2h0m0 1h0m-1-1h0m-3 1h0m0-4h0m-2 2h0m0 2h0m-2-1h0m-1 0h0m-1 1h0m-1-2h0m-1 2h0m-1-4h0m-2 7h0m2 3h0m1-4h0m2 0h0m3 5h0m2-4h0m0 0h0m0 1h0m1-2h0m1 2h0m2 2h0m1 1h0m0-1h0m0-1h0m1-2h0m1-1h0m1 1h0m1 1h0m1 3h0m1-3h0m0-1h0m1 2h0m0 2h0m2-5h0m1 0h0m1 2h0m0-2h0m0 0h0m1 4h0m0-1h0m0 1h0m0-3h0m1 3h0m6 0h0m0-4h0m3 5h0m2-2h0m0 0h0m1 2h0m1 6h0m-1-5h0m-2 3h0m-2 0h0m-1 2h0m0-2h0m0-2h0m0 4h0m-2-5h0m0 5h0m-2-1h0m0-4h0m-3 2h0m0 2h0m0-1h0m0-1h0m0 1h0m-1-3h0m-3 4h0m0-2h0m0-1h0m-2 1h0m0-2h0m0 5h0m-1-4h0m-1-1h0m0 1h0m0 0h0m-1-1h0m0 3h0m0 1h0m-2-1h0m0-3h0m-1 1h0m-1 0h0m-2 0h0m-1 3h0m0-2h0m-1-1h0m0 0h0m0 3h0m0-2h0m-1 3h0m0-5h0m-1 3h0m-3 1h0m-2-4h0m-1 1h0m-1 1h0m-3 8h0m3 1h0m1-2h0m2 2h0m1-4h0m1 3h0m0-3h0m2 4h0m3-3h0m0 0h0m0 0h0m1-1h0m0 4h0m1 0h0m0-5h0m0 0h0m1 0h0m1 3h0m2-3h0m0 4h0m1-1h0m1 1h0m0-3h0m1 1h0m1-2h0m2 3h0m0 2h0m1-3h0m0 0h0m1 0h0m1-1h0m0 1h0m1 2h0m0 1h0m3-2h0m0-2h0m1-1h0m2 5h0m0-3h0m0-1h0m1 1h0m0-1h0m0 0h0m1 4h0m1-2h0m0 1h0m1-2h0m0 2h0m3-1h0m3-3h0m-9 7h0m0-1h0m-1 1h0m-2-1h0m0 3h0m-1-3h0m0 3h0m-2 2h0m0 0h0m0-4h0m0 4h0m-2 0h0m0-3h0m-2 1h0m0 2h0m-2-4h0m0 3h0m-1 1h0m0-2h0m-1 0h0m-1-1h0m-1 1h0m-1-1h0m-2-2h0m-1 4h0m0 1h0m-1 0h0m-2-4h0m0 3h0m-2 1h0m0-3h0m-4 0h0m-3 1h0m5 4h0m3 1h0m2 2h0m1 1h0m0-3h0m1 0h0m1-1h0m1-1h0m0 2h0m0 1h0m2-3h0m1 1h0m1 1h0m0-1h0m0 1h0m2 0h0m1 0h0m1 0h0m0 0h0m1 0h0m3-1h0m0 0h0m1 4h0m1-3h0m0-1h0m2 1h0m4-1h0m0 3h0m1 1h0m0 0h0m1 0h0m-1 3h0m-1-1h0m-4 1h0m0 2h0m-2 0h0m0-2h0m-1-2h0m0 4h0m-1-3h0m-1 3h0m-2-3h0m0 4h0m0-1h0m-3-4h0m0 0h0m0 3h0m-1 1h0m0-3h0m-1 2h0m0 1h0m-1 1h0m-2-3h0m-2 2h0m-2-3h0m0 0h0m-1 2h0m13 4h0m1 1h0m1 1h0m10 12h0"/><path id="qxw" d="M91 737h0m-37 12h0m22 0h0m22-3h0m-3 8h0m-6-3h0m-2 4h0m-4-5h0m-6 3h0m-6 2h0m-1-1h0m-26 4h0m0 0h0m30 1h0m7-3h0m4 4h0m4-3h0m26 2h0m-23 6h0m-1-2h0m-2 4h0m-2-5h0m-2 2h0m-2-1h0m0 2h0m-1 0h0m-2 0h0m-2 0h0m-3 2h0m-4-4h0m-2 3h0m-3-2h0m-1-2h0m-8 5h0m-11 5h0m8-3h0m3 0h0m4 0h0m6 4h0m3-4h0m1 3h0m1-2h0m1-2h0m3 2h0m1 0h0m1 2h0m8 0h0m1-4h0m2 1h0m6 3h0m5-1h0m0 5h0m-7 1h0m-8-3h0m-3 5h0m-1-1h0m-10 0h0m-1 1h0m0-3h0m-5 3h0m-2-1h0m-9 0h0m-4-4h0m-6 0h0m2 7h0m8 0h0m1 2h0m0 0h0m11 1h0m4 1h0m1-2h0m0-3h0m9 3h0m1-1h0m5 3h0m1-2h0m0-2h0m6 4h0m0 0h0m9 0h0m-6 5h0m-3 1h0m-15-3h0m0 1h0m-3 0h0m-2 2h0m-4 0h0m-3-5h0m-4 3h0m-6-3h0m-14 10h0m18-3h0m4 0h0m3-1h0m7 1h0m18-1h0m2 4h0m10 0h0m-7 3h0m-12 0h0m-4 2h0m0 2h0m-4-5h0m-4 5h0m-2-5h0m-2 1h0m0 1h0m-4-2h0m-16 5h0m-2-4h0m10 10h0m3-1h0m0-3h0m6 2h0m0 0h0m4-1h0m2 0h0m6-2h0m15 5h0m1 0h0m-5 3h0m-18-2h0m-21 9h0m2 0h0m7 2h0m5-4h0m3 4h0m6 0h0m1-4h0m3 3h0m1-2h0m7-2h0m10 8h0m-16 0h0m-3 0h0m-1 3h0m-3-3h0m-1 3h0m-4-2h0m-9 4h0m8 4h0m18 0h0m0-1h0m-12 4h0m-18-2h0m14 9h0m3 2h0m20 1h0m1 7h0m-10 10h0"/><path id="qxx" d="M113 761h0m23 0h0m1-1h0m10-3h0m26 6h0m-2 4h0m-17-2h0m-3-1h0m-6 2h0m-5-2h0m-7 1h0m-1 0h0m-7 0h0m-12 2h0m-4 0h0m-6-1h0m-4 4h0m24 1h0m5-2h0m3-1h0m2 5h0m9-4h0m1 1h0m3 1h0m1-3h0m2 2h0m1 0h0m8 3h0m14 0h0m12-1h0m-24 6h0m-3-2h0m0 1h0m-6-2h0m-7-1h0m-1 5h0m-2-4h0m-2 4h0m-2-4h0m-8 4h0m-2 0h0m-7-3h0m-3 0h0m-2-2h0m-3 5h0m0-3h0m-1-1h0m-5 2h0m0 2h0m-8 6h0m10-3h0m12-1h0m1 3h0m9-4h0m3 2h0m0-1h0m2 3h0m2 1h0m0-3h0m0 2h0m5-2h0m4 0h0m0 0h0m1 2h0m2-2h0m5-1h0m4-1h0m7 0h0m0 5h0m1-4h0m3-1h0m1 0h0m3 0h0m4 4h0m-3 3h0m-6 0h0m-13 4h0m-4-2h0m-2 1h0m-2-1h0m-4-3h0m-8 4h0m-1-4h0m-1 1h0m-1 1h0m-1-1h0m-9-1h0m-1 0h0m0 5h0m-3-2h0m-1-2h0m-3 4h0m0-4h0m-8 4h0m-2-2h0m-3 2h0m-1 0h0m-2 4h0m3-3h0m9 0h0m6 4h0m2-1h0m1-3h0m3 2h0m3-1h0m1 0h0m2 4h0m1 0h0m18-3h0m3-1h0m0-1h0m6 3h0m3-1h0m3 1h0m5 2h0m-22 6h0m-7-2h0m-2-2h0m-1 0h0m-8 1h0m-2 0h0m-5 2h0m-1-1h0m0-3h0m-2 5h0m-8-4h0m-2 4h0m-1-4h0m0 3h0m-1 6h0m1-1h0m2-1h0m2 3h0m2-5h0m0 2h0m3-1h0m8 0h0m5 3h0m5 1h0m9-5h0m26 0h0m-42 8h0m-24 0h0m52 5h0m1 4h0m-27 5h0m-5 13h0"/><path id="qxy" d="M237 832h0m-1 7h0m-3-3h0m-9-2h0m-3 0h0m0 5h0m-4-1h0m0-2h0m-5-2h0m-4 4h0m-8-1h0m-3 2h0m-4-2h0m-3 2h0m-7 0h0m-8 1h0m18 1h0m2 0h0m0 2h0m5-3h0m1 0h0m3 3h0m2-1h0m0 1h0m8 2h0m8-5h0m1 0h0m11 5h0m-4 2h0m0 1h0m-6-1h0m-9 2h0m0 2h0m-2-1h0m0 0h0m-13-2h0m-4 3h0m-17 3h0m11 0h0m5 2h0m1-3h0m15 4h0m0-4h0m5 3h0m9-3h0m-8 5h0m-15 0h0m6 7h0m-7 6h0"/><path id="qxz" d="M198 830h0m14 6h0m-50 6h0m11-2h0m18 0h0m7 7h0m-4 1h0m-6 1h0m-2 2h0m-7-1h0m-17-1h0m-4 4h0m19-1h0m8 4h0m1-4h0m4 1h0m0 1h0m2-2h0m12 11h0m-8-5h0m0 2h0m-1 1h0m-3 2h0m-1-3h0m-4 3h0m-3-2h0m-1 2h0m-1-4h0m0 2h0m-4-3h0m0 3h0m-9 2h0m-9-3h0m3 8h0m3-3h0m1 1h0m10 0h0m5 1h0m0-2h0m4-1h0m7 3h0m3 0h0m4 6h0m-3 2h0m-4-4h0m-1-1h0m0 4h0m-3 0h0m-7 1h0m-3-3h0m-2 2h0m-1-4h0m-2 2h0m10 5h0m8 0h0m2 3h0m1 0h0m5-1h0m1 0h0m-11 4h0m-5 4h0m-5-5h0m-5 0h0m-9 5h0m-9 1h0m16 5h0m2-5h0m1 1h0m5 3h0m6-1h0"/><path id="qya" d="M36 755h0m-17 6h0m2 0h0m8-2h0m2 1h0m2-1h0m0 2h0m3 0h0m4 0h0m15 5h0m-12-4h0m0 3h0m0 2h0m-1-3h0m0 3h0m0-5h0m0 3h0m-2-3h0m0 5h0m-1-1h0m-1-4h0m-2 1h0m-1 3h0m0-3h0m-1 0h0m0 0h0m-1 3h0m-1-1h0m-2 2h0m-1-1h0m0 0h0m0-3h0m-4 1h0m-1 1h0m-2 1h0m-1-2h0m0 1h0m-1 2h0m-2-2h0m-1-3h0m0 5h0m-2-4h0m-2 1h0m-3 5h0m3 0h0m1 1h0m1 1h0m1 2h0m1-3h0m1-2h0m0 3h0m0-1h0m3 0h0m0 1h0m0 2h0m0-3h0m1 1h0m2 0h0m0-3h0m1 4h0m0-1h0m0-1h0m0 3h0m3-1h0m0-3h0m1-1h0m1 4h0m0 0h0m1-4h0m1 4h0m0-2h0m0 1h0m1 0h0m1 2h0m1-4h0m0 1h0m0 0h0m0-2h0m1 3h0m2-2h0m1 0h0m1 4h0m1-1h0m0 1h0m1-4h0m3 4h0m2-5h0m4 5h0m3 6h0m-8-1h0m0 0h0m0 0h0m-1-3h0m0 1h0m-1 3h0m0-3h0m-1 0h0m0-1h0m-2 2h0m-1-1h0m-1 3h0m0-5h0m0 2h0m-1-2h0m-2 3h0m-1-3h0m-1 0h0m-1 2h0m0-2h0m0 1h0m-1 3h0m0-2h0m-1 0h0m0 1h0m0-3h0m-1 5h0m-1-5h0m0 1h0m0 2h0m-1 1h0m-3-1h0m-1-1h0m-1 1h0m0-2h0m-1 2h0m-1-3h0m0 5h0m0 0h0m-1-2h0m0-1h0m0 1h0m-1-2h0m-1 4h0m-2-5h0m0 3h0m-1-2h0m0 4h0m-1-4h0m0 4h0m-1-1h0m-2 7h0m4-1h0m2-2h0m0 3h0m1-1h0m1-2h0m0 2h0m1-3h0m1 4h0m0-3h0m1 2h0m0-1h0m1-3h0m2 5h0m1-4h0m0 0h0m0 0h0m1 3h0m0-4h0m0 3h0m3-1h0m0 1h0m1 0h0m0-2h0m1 3h0m1-3h0m0 1h0m2-2h0m4 4h0m2 0h0m1-3h0m0 0h0m0-1h0m3 1h0m3-1h0m2 2h0m1 0h0m4 8h0m-3-4h0m-3 3h0m0-1h0m0-1h0m0 0h0m-1 4h0m-1 0h0m-2-2h0m-1-1h0m0 1h0m-3 0h0m0 0h0m0-1h0m-1-2h0m-1 3h0m0 0h0m0 1h0m-2-1h0m-4-2h0m-1 0h0m0 3h0m0 0h0m0 1h0m-2 0h0m0 0h0m0-4h0m-2 0h0m-2 4h0m0-3h0m-1-2h0m-1 0h0m0 5h0m0-5h0m-3 3h0m0-2h0m-1 3h0m-1-3h0m-1 3h0m-2-3h0m-6 1h0m3 5h0m7 2h0m1 0h0m0-3h0m1 0h0m1 3h0m0-2h0m1 3h0m1-2h0m1-1h0m0 0h0m1 1h0m0 0h0m1 0h0m1 2h0m0-2h0m1 3h0m0-1h0m1-3h0m0 1h0m1 1h0m2-3h0m0 4h0m1 0h0m1 1h0m1-4h0m1 2h0m0-1h0m0 2h0m1-1h0m0-1h0m2 1h0m0-1h0m2-1h0m0-1h0m4 5h0m0-1h0m2 0h0m0 4h0m-1-2h0m-3 0h0m0 4h0m-4-1h0m-1-2h0m-1-1h0m-1 0h0m-1 0h0m-1 4h0m0-1h0m-1 0h0m-1 2h0m0 0h0m-4-1h0m0-2h0m0 3h0m0-2h0m-4-1h0m-5 3h0m3 2h0m6-1h0m1 0h0m2 1h0m1 3h0m1-1h0m1-1h0m5-1h0m2-1h0m8 0h0m-11 6h0"/><path id="qyb" d="M145 831h0m17-3h0m-15 14h0m4-1h0m9 4h0m20 0h0m-1 2h0m-8 4h0m0-2h0m-7-3h0m-16 2h0m-4 1h0m-2 1h0m-2-3h0m10 8h0m1 1h0m5-4h0m1 5h0m4 0h0m6-5h0m4 0h0m1 4h0m8-1h0m3-3h0m10 0h0m4 9h0m-8-2h0m-6 3h0m-8-2h0m0 0h0m-2 3h0m-7 0h0m-13-2h0m-10-3h0m-5 11h0m6-2h0m3-1h0m1 3h0m4-2h0m2 2h0m4-4h0m0 1h0m3 0h0m0 3h0m0-5h0m4 1h0m0 2h0m0-2h0m1 3h0m4-4h0m4 0h0m1 3h0m1 0h0m1 2h0m1-4h0m4-1h0m1 4h0m6-3h0m6 9h0m0-1h0m-6 1h0m-3-4h0m-4 0h0m-5 0h0m-4 3h0m-3 2h0m-8-2h0m-2 1h0m0 0h0m-1-4h0m-1 2h0m-5-1h0m-1 0h0m0-1h0m-2 1h0m0-1h0m-2 5h0m-2-5h0m0 3h0m-4 0h0m-5-3h0m12 9h0m7-3h0m1 4h0m2 1h0m3 0h0m1-5h0m1 2h0m0 3h0m4-3h0m3 0h0m1 3h0m1 0h0m4-5h0m1 1h0m1 2h0m6-3h0m-2 9h0m-11 0h0m-4 1h0m-5-2h0m-2-1h0m-2 1h0m-17 4h0m9 1h0m2 0h0m8 3h0m1-3h0m4 0h0m8-1h0m2 0h0m0 2h0m21 1h0m-47 8h0m1 3h0"/><path id="qyc" d="M101 772h0m71 6h0m-8-4h0m-24 2h0m-6 2h0m-37 4h0m11 1h0m5 2h0m19-2h0m3 0h0m10 2h0m9-3h0m17 1h0m4-2h0m1 9h0m-2-4h0m-5 2h0m-5 1h0m-9-2h0m-13 3h0m-12 0h0m-5 0h0m-1-2h0m-2-2h0m-19 3h0m12 5h0m3 0h0m4 3h0m1-4h0m3 4h0m2 0h0m2-4h0m1 4h0m4-3h0m1-2h0m3 5h0m3-2h0m0 2h0m2-5h0m1 3h0m2-1h0m0 3h0m1-1h0m2-3h0m3 1h0m2 1h0m0 0h0m1-2h0m1 3h0m7-3h0m0 2h0m2-2h0m4-1h0m1 1h0m2 2h0m1 2h0m1 0h0m1-1h0m-3 2h0m-1 5h0m0-4h0m-6 4h0m-1-5h0m-3 3h0m0-3h0m-5 5h0m-1-1h0m-6-2h0m0 0h0m-1 0h0m-4-2h0m-3 5h0m-9-4h0m-1 3h0m-4-3h0m-4 3h0m-1 0h0m-7-3h0m-7 3h0m-17 5h0m7-3h0m9 3h0m5 2h0m1-3h0m0 3h0m3-4h0m2 3h0m1 0h0m2 0h0m3-2h0m3 2h0m1 1h0m9-1h0m0 1h0m3-3h0m2 3h0m1 0h0m6-5h0m2 4h0m1 0h0m2-4h0m1 0h0m2 3h0m4 1h0m4-4h0m3 2h0m6 2h0m0-4h0m1 8h0m-2 1h0m-6-1h0m-5 1h0m-5-2h0m0 1h0m-6 2h0m-4-2h0m-4 0h0m-1-2h0m-1 0h0m-1 0h0m-2 2h0m-1 1h0m-1 2h0m0-3h0m-1 2h0m-7 0h0m0 1h0m-1-1h0m0-3h0m0 1h0m-2 2h0m-7-4h0m-3 5h0m0-1h0m-1 1h0m-6-1h0m-3-4h0m4 8h0m0-1h0m6 4h0m2-1h0m3-4h0m1 4h0m0-1h0m0-3h0m2 4h0m2-2h0m3 1h0m1 1h0m4-1h0m6-2h0m0-1h0m2 5h0m1-2h0m6-2h0m0 1h0m10 1h0m3-3h0m1 4h0m4-2h0m3-1h0m8 7h0m-9-2h0m-8 0h0m-1 0h0m-2 5h0m-7 0h0m-6-1h0m-6-4h0m-1 1h0m-3-1h0m-5 3h0m-2-2h0m-1-1h0m-1 3h0m-4-1h0m-5 2h0m-9 6h0m7-4h0m15 0h0m16 3h0m10-1h0m4 5h0m-2 2h0m-22 2h0m-4-3h0m-10 0h0m9 8h0m4 6h0"/><path id="qyd" d="M192 772h0m1-1h0m2 1h0m0 1h0m1-2h0m11-1h0m5 2h0m10 6h0m-4-1h0m0 0h0m-5 0h0m-7 1h0m-1 0h0m0-1h0m-4 2h0m-2 0h0m-1-4h0m-2 4h0m0-4h0m-2 3h0m-3 0h0m-2-4h0m0 3h0m0-1h0m-6 4h0m1 1h0m1 0h0m1 3h0m3-4h0m0 5h0m1-1h0m6 1h0m2-5h0m2 3h0m0-3h0m0 3h0m5-2h0m0 0h0m2 3h0m4-3h0m4 2h0m4-3h0m1 2h0m2 1h0m1 2h0m1-3h0m3 4h0m-2 0h0m0 0h0m0 3h0m-1 1h0m-3-1h0m-5-3h0m0 2h0m-1 2h0m-2-3h0m0 2h0m-1-2h0m-2 0h0m-3-1h0m0 4h0m-2 0h0m-5-1h0m0-1h0m-3 0h0m-1-2h0m-1 5h0m-1 0h0m-1-1h0m-3-3h0m-1 4h0m-1 0h0m-1-2h0m0 1h0m-2-2h0m-1-2h0m-1 3h0m-2-3h0m4 10h0m8-4h0m1 5h0m4-4h0m1 1h0m1 0h0m2-1h0m0 2h0m1-1h0m6 1h0m3-1h0m2-1h0m2 1h0m3 0h0m0 0h0m0-2h0m0 4h0m3-4h0m5 0h0m3 3h0m1 5h0m-3 2h0m-2 1h0m-4-2h0m-3-2h0m-1 1h0m-2 0h0m-1 1h0m-4-3h0m-1 2h0m-1 2h0m0 1h0m-3-4h0m-1-1h0m-2 4h0m-1-1h0m-2 0h0m-3-2h0m-1 2h0m-2 1h0m-4-3h0m-1 0h0m0 4h0m-2 0h0m-2 0h0m0-3h0m-2 1h0m-2-2h0m-5 1h0m6 8h0m1 0h0m1-3h0m1 2h0m3 1h0m1-3h0m1 4h0m1-2h0m0 2h0m1-5h0m2 2h0m0-2h0m4 3h0m3 0h0m1-3h0m3 5h0m1-5h0m1 3h0m1-1h0m0 0h0m2-2h0m1 1h0m0-1h0m2 2h0m0 1h0m1-2h0m1 4h0m0-3h0m4 0h0m3 3h0m1-4h0m0 0h0m2 4h0m1-1h0m0 0h0m1-3h0m0 9h0m-1-1h0m0-1h0m-2-1h0m-2 2h0m0-3h0m-3 3h0m-1-1h0m-2 3h0m-2-5h0m-3 2h0m0 0h0m-2-1h0m-3 1h0m-2 1h0m-8 2h0m-1-1h0m0-1h0m-1-2h0m0-1h0m-1 1h0m-1 0h0m-2 2h0m0-3h0m-1 2h0m0 2h0m0-4h0m-2 2h0m-2 0h0m0-2h0m-2 0h0m-5 2h0m9 8h0m3-2h0m3 3h0m0-2h0m1-3h0m0 1h0m1 4h0m0-2h0m0-1h0m1-1h0m0 2h0m3 1h0m2-1h0m0-3h0m2 1h0m4 3h0m1-1h0m1 1h0m7-1h0m0-3h0m0 5h0m2-4h0m1 3h0m1-1h0m1-2h0m3-1h0m5 1h0m-7 5h0m-2 2h0m-1 0h0m-1 0h0m-3-2h0m-1 2h0m-2 2h0m-2 1h0m0 0h0m0-2h0m-4 2h0m-1 0h0m-2-1h0m-5-4h0m-3 0h0m-2 5h0m0-2h0m-1 2h0m-3-3h0m0 2h0m-2-1h0m5 3h0m1 0h0m0 0h0m2 0h0m1 0h0m8 0h0m2 0h0m2 2h0m2-1h0"/><path id="qye" d="M172 791h0m-46 5h0m50 5h0m-13-1h0m-8 3h0m-19 3h0m1-1h0m22 3h0m7 1h0m9 6h0m-6-1h0m-5-2h0m0 2h0m-3-2h0m0 1h0m-2-1h0m-2 3h0m-2 0h0m-4-5h0m-4 3h0m-7 0h0m-4-1h0m-9 9h0m3-1h0m1-2h0m10 2h0m10 0h0m2-1h0m3-3h0m4 3h0m2-3h0m1 5h0m3-5h0m0 5h0m5-5h0m1 2h0m1 1h0m3 2h0m2-4h0m-2 5h0m-2 3h0m-1-1h0m-3-1h0m-1 4h0m-1-3h0m-4 0h0m-1 0h0m-7 2h0m0-1h0m0-2h0m-1 4h0m0-4h0m-3 3h0m0-2h0m-2-2h0m-12 0h0m-1 2h0m-28 7h0m6 2h0m13-4h0m1 0h0m12 2h0m3-2h0m3 0h0m3-1h0m0 5h0m1-1h0m1-1h0m1-1h0m0-2h0m1 5h0m1-2h0m0 1h0m1-3h0m2 1h0m1 0h0m1-2h0m5 0h0m6 5h0m0-2h0m3 2h0m1-2h0m-1 8h0m-3-5h0m0 0h0m-3 2h0m-1 0h0m-1 0h0m-1-1h0m-1 3h0m0-2h0m-2 0h0m-2 0h0m-7 3h0m0-3h0m0 3h0m0 0h0m-13-4h0m-3 4h0m-6-1h0m-1-4h0m-2 3h0m-2 1h0m-4-3h0m-2 3h0m-4 5h0m7-3h0m15 0h0m2 5h0m3-2h0m18-2h0m2 3h0m3-3h0m3 0h0m4 0h0m3 2h0m-10 3h0m-6 3h0m-1 1h0m-5-4h0m-6 4h0m0-2h0m-3 2h0m-7-3h0m-7 2h0m-6-2h0m-16 2h0m27 4h0"/><path id="qyf" d="M174 831h0m10 6h0m-21 3h0m1 1h0m6 2h0m6-2h0m9-1h0m2 1h0m4 3h0m9 4h0m-21 3h0m-10-1h0m0-4h0m0 3h0m-1 0h0m-22-2h0m9 8h0m8 1h0m0 1h0m2-1h0m5-3h0m1 2h0m0 1h0m0 0h0m4-2h0m1 2h0m0 0h0m4-1h0m3 1h0m3-3h0m10 2h0m7 7h0m-2-1h0m-3-1h0m-2 0h0m-1 1h0m-5 1h0m-3 0h0m0-1h0m-3 1h0m-4 1h0m-4-4h0m0-1h0m0 1h0m0 3h0m-4 0h0m-3-1h0m0-1h0m-3 2h0m-7-2h0m-2 3h0m11 4h0m3-3h0m1 0h0m2 5h0m1-4h0m5-1h0m0 2h0m3 0h0m7 0h0m3-2h0m10 7h0m-8 0h0m-10 2h0m-2-3h0m-5 4h0m-1-1h0m-1 1h0m-3 1h0m0-1h0m-1-3h0m-14 9h0m7 1h0m2 0h0m1-1h0m1-2h0m6 1h0m2-1h0m3 2h0m9-2h0m13 5h0m-14-1h0m-6 0h0m-3 3h0m-2-1h0m-2-2h0m-11 4h0m-1 7h0m1-5h0m4 1h0m1 1h0m3 0h0m8 0h0m3-2h0m-14 6h0m-2 3h0"/><path id="qyg" d="M81 752h0m5 8h0m7-4h0m12 3h0m7 1h0m6 5h0m-17 1h0m-17-1h0m-2-2h0m-6-1h0m16 11h0m4-4h0m1 3h0m5-1h0m1 2h0m6-4h0m2-1h0m1 1h0m1 9h0m-7-1h0m-3-1h0m0 3h0m-2 0h0m0-5h0m-1 4h0m-6-1h0m-4-3h0m-28 11h0m2-2h0m1-2h0m14 3h0m7 1h0m11-3h0m1 0h0m2 3h0m1-4h0m2 1h0m3 2h0m0-2h0m11 9h0m-4-2h0m0-2h0m-10 2h0m0 2h0m-5-3h0m-10 2h0m-2 0h0m-3 0h0m-9-4h0m-16 2h0m-2 4h0m6 4h0m22 1h0m3-2h0m1-1h0m4 2h0m0 1h0m6-4h0m13 10h0m-12-3h0m-1-2h0m-2 1h0m-6 2h0m-1-1h0m-4 0h0m0-1h0m-5 3h0m-4 0h0m-23 0h0m11 7h0m7 0h0m4-1h0m3-2h0m1 1h0m4-1h0m7 1h0m2-3h0m5 1h0m2 2h0m1 1h0m2-3h0m3 8h0m-7-3h0m-10 0h0m-24 2h0m0 5h0m5 2h0m20 0h0m3 1h0m1-1h0m0-2h0m1 4h0m0-4h0m2-1h0m4 3h0m1 2h0m-17 2h0m-3 0h0m-4 0h0m-8 2h0m-5-3h0m-7 1h0m10 8h0m15 2h0m4 0h0m1-3h0m3-2h0m3 5h0m5-1h0m2-1h0m4 0h0m3 5h0m-1-1h0m-9-1h0m-18 2h0m-2 1h0m-11-3h0m-5 3h0m6 3h0m26 3h0m5-2h0m2 1h0m1 1h0m13 3h0m-3 5h0m-2-2h0m-28 1h0m-5 2h0m4 1h0m22-1h0m6 3h0m7 2h0m4 0h0m-13 4h0m-5 1h0m-1-4h0m2 10h0m1-2h0m14 0h0m-14 7h0m-2 4h0"/><path id="qyh" d="M108 766h0m49 5h0m9 0h0m11 8h0m-9-1h0m-6-1h0m-3 1h0m-4-3h0m-30 5h0m7 4h0m18-3h0m0 3h0m0-3h0m5 0h0m10 1h0m1-2h0m4 5h0m0 0h0m5 5h0m0-4h0m-2 2h0m-3-1h0m-2 1h0m0-1h0m-2 3h0m-3-2h0m-1 0h0m0 3h0m-1-2h0m-1 2h0m-3-1h0m-1 1h0m-2-4h0m-1 4h0m-2-3h0m-1 2h0m-9 0h0m-7 0h0m-6-4h0m-3 5h0m-13-1h0m-6 6h0m14 0h0m3-2h0m5 3h0m5 0h0m4 0h0m3 0h0m3-2h0m3-2h0m0-1h0m2 1h0m3 0h0m16-1h0m2 3h0m0-2h0m1 4h0m5-5h0m1 4h0m-3 2h0m-1 3h0m-2 1h0m-5-1h0m0 1h0m-2-1h0m-4 1h0m0-2h0m-2-1h0m-2 2h0m-1 2h0m-1-2h0m-3-1h0m-1 0h0m-5-2h0m-3 5h0m-1-3h0m-1 1h0m-1-1h0m-1 0h0m-1-1h0m-1 2h0m0-2h0m-4 2h0m-4 1h0m-1-1h0m0 2h0m-2-3h0m-5 1h0m-1-1h0m-12 4h0m7 5h0m3-5h0m0 2h0m0 2h0m1 0h0m0-1h0m0 0h0m1 0h0m1-2h0m0 3h0m6 1h0m5-1h0m8 0h0m2-1h0m2 0h0m3 0h0m2 1h0m1 1h0m1 0h0m4-2h0m3 2h0m5-5h0m1 0h0m3 1h0m1-1h0m2 1h0m5 1h0m0 2h0m3 7h0m-2-5h0m-10 5h0m-6-5h0m-1 2h0m-1-1h0m0 0h0m-2 0h0m-2 0h0m0 4h0m-2-5h0m-1 0h0m0 5h0m-4-3h0m-3 2h0m-5-4h0m0 5h0m-4-5h0m-1 4h0m-2-4h0m-2 4h0m-1-2h0m-1 2h0m0 1h0m-1-4h0m-2 0h0m-1 3h0m-2-2h0m-1 2h0m0-2h0m0 1h0m-25 2h0m12 2h0m5 0h0m1 3h0m3-2h0m1-2h0m2 5h0m1-1h0m0-4h0m6 2h0m6-1h0m4 3h0m3-2h0m0 1h0m6 0h0m5-2h0m2 4h0m2-4h0m1 2h0m23-2h0m-4 7h0m-6-2h0m-7 1h0m0 3h0m0-4h0m-8 1h0m-3 0h0m-10-1h0m-2 0h0m-6 2h0m-6 1h0m0 0h0m-1-2h0m-19 10h0m1-3h0m7-1h0m2-1h0m14 3h0m3 0h0m0 0h0m12-3h0m17 0h0m6 2h0m5-1h0m-27 5h0m-14 0h0m-7 0h0m-8 8h0m9-1h0m8 3h0m11-3h0m20 6h0m-21 0h0"/><path id="qyi" d="M118 756h0m-5 15h0m3 1h0m4 5h0m-37 16h0m32 22h0m-2 11h0m-32 1h0m-1 12h0m36 12h0m-13-5h0m-9 2h0m2 9h0m27-2h0m-27 10h0m10 1h0m6-2h0m3 2h0"/><path id="qyj" d="M180 761h0m57-5h0m-33 10h0m-17-2h0m5 7h0m29 3h0m-57 10h0m65-1h0m3-3h0m10 7h0m-3 3h0m-7 1h0m2 5h0m6 0h0m1-2h0m4 0h0m2 6h0m-4 0h0m1 9h0m-18 11h0m27 1h0m-19 6h0m-9-1h0m-2-2h0m-43 3h0m5 1h0m1 4h0m3-4h0m4 4h0m12 0h0m10-1h0m17 1h0m4 1h0m-10 5h0m-3 1h0m-1-5h0m-17 2h0m-25 9h0m8-2h0m10 0h0m10-2h0m5 0h0m5 3h0m10-4h0m6 2h0m-11 9h0m-6-2h0m-10 1h0m-15 1h0m-33-2h0m42 8h0m12-3h0"/><path id="qyk" d="M165 833h0m-5 2h0m-13 2h0m-26 6h0m12-2h0m4 2h0m3 1h0m2-1h0m6 2h0m1 0h0m8-4h0m1 2h0m12 5h0m-6 2h0m-3 1h0m-2 0h0m-2-4h0m-5 2h0m-1 0h0m0-3h0m-7 0h0m-4 1h0m-3 3h0m0-4h0m0 4h0m-6 1h0m-6 4h0m1-3h0m6 0h0m8 1h0m1 2h0m9 1h0m1-2h0m2 0h0m4-1h0m4 0h0m1 0h0m1 1h0m0 1h0m2-2h0m2 4h0m3-3h0m4-1h0m1 3h0m0 7h0m-5-2h0m0 1h0m-7 1h0m-1-1h0m0-2h0m-11 2h0m-1-1h0m-3 0h0m-2-3h0m0 5h0m-1-2h0m-2 0h0m-3-1h0m-1 3h0m-2-3h0m-4 2h0m-5-3h0m0 6h0m6 3h0m6-4h0m8 5h0m2-3h0m4 3h0m1-4h0m2 4h0m0-2h0m0 0h0m3 0h0m3-2h0m11 3h0m3 0h0m-10 6h0m-5-1h0m-5 2h0m-2-1h0m-14-3h0m-4 0h0m-7 9h0m15-3h0m3 4h0m1-2h0m0 0h0m7-3h0m2 0h0m1 0h0m0 3h0m3 1h0m8-1h0m1-2h0m1 0h0m0 0h0m1 3h0m1-4h0m1 2h0m6 3h0m6-1h0m-14 7h0m-9-5h0m-3 3h0m-2-3h0m-1 1h0m-15 4h0m-8 6h0m15-5h0m5 4h0m8 0h0m11-4h0m-16 6h0"/><path id="qyl" d="M93 748h0m3 1h0m11 4h0m-21 2h0m0-2h0m-20-1h0m21 5h0m4 3h0m1 0h0m1 0h0m2-3h0m5 4h0m17-1h0m-5 7h0m0 0h0m-7 0h0m-3-5h0m-3 5h0m-3-2h0m-7-2h0m-11 3h0m-1 2h0m0 4h0m10-2h0m5-1h0m6-1h0m0 2h0m6 3h0m1-1h0m1 1h0m5-1h0m3-2h0m-5 6h0m-1 1h0m-8 0h0m-6-1h0m-5 3h0m-6-1h0m0-1h0m-13-3h0m16 7h0m2 0h0m12 2h0m4-3h0m2 2h0m0 2h0m3-1h0m0 2h0m2-4h0m0 2h0m1-2h0m3 2h0m1-1h0m6-2h0m-17 7h0m-8 4h0m-5-1h0m-22-3h0m11 9h0m2 0h0m3-2h0m4 0h0m9 4h0m-1 0h0m-1 1h0m-3 3h0m-1-3h0m-3 2h0m-14 0h0m-15 6h0m6-1h0m10-1h0m5 1h0m0-2h0m7 0h0m11 3h0m3-2h0m3 8h0m-5-2h0m-1 1h0m-5 2h0m-8-1h0m-1 1h0m-14 3h0m8 4h0m3 0h0m1-2h0m26-2h0m-5 8h0m-10 0h0m0-1h0m-2 0h0m-8 3h0m-17 0h0m7 6h0m24 0h0m10 5h0m-3-3h0m-7 3h0m-18-3h0m-12 3h0m6 3h0m7 4h0m2-1h0m7-1h0m9-1h0m15 3h0m-8 6h0m-6-5h0m-17 2h0m0 4h0m14 4h0m1 1h0m0-2h0m0 1h0m6 2h0m-6 2h0m-20-2h0m23 6h0m2 0h0m1 3h0m3 1h0m11-2h0m-2 8h0"/><path id="qym" d="M233 799h0m-5 7h0m-4 27h0m8-1h0m5 6h0m-3-3h0m-9 1h0m0-1h0m-4-1h0m-1 1h0m-3 4h0m-1-4h0m-32 5h0m6 2h0m5-1h0m13 1h0m1 2h0m14 0h0m8-1h0m-11 8h0m-9-1h0m-1-3h0m-2 2h0m-11-2h0m-3-1h0m-3 3h0m8 8h0m1-2h0m4 0h0m12-2h0m8-1h0m2 0h0m-39 8h0"/><path id="qyn" d="M80 735h0m-16 8h0m-8 6h0m15 6h0m-11-5h0m-2 1h0m-11-1h0m0 9h0m5-2h0m9 4h0m2-4h0m28-1h0m3 2h0m-5 9h0m-1-2h0m-6-3h0m-1 0h0m-3 1h0m-5 4h0m-4-4h0m-9 0h0m0 2h0m-5-3h0m0 0h0m-3 2h0m-7 2h0m-1 1h0m-1 5h0m1-4h0m6 0h0m3 1h0m3 3h0m21 2h0m-14 5h0m-3 0h0m-1-1h0m-17-3h0m12 5h0m1 4h0m9-4h0m0 5h0m4-3h0m5 0h0m2 2h0m2 1h0m9-5h0m3 3h0m18 7h0m-24-4h0m-8 2h0m-11-2h0m-3 3h0m-11-2h0m-4 0h0m10 10h0m6-3h0m4 3h0m4-1h0m8 1h0m5 5h0m-20-4h0m-3 5h0m-1-1h0m-3 1h0m-4-3h0m-1 2h0m-12 2h0m7 0h0m7 2h0m7-1h0m1 2h0m6 0h0m0 2h0m4-2h0m1-3h0m6 4h0m-45 4h0m37 15h0m-4-1h0m-8-4h0m-3 3h0m-14 0h0m11 3h0m9 5h0m1-3h0m27 14h0m-41 2h0"/><path id="qyo" d="M157 818h0m2 13h0m18 8h0m-10-4h0m0-1h0m-3 4h0m-13 0h0m-9-3h0m18 10h0m8 0h0m2-4h0m3-1h0m4 3h0m19 4h0m-27 3h0m-2-2h0m-1 3h0m-4-4h0m-2 3h0m0 0h0m-13 1h0m-18-3h0m16 4h0m2 0h0m2 4h0m5 1h0m1-5h0m0 5h0m3-2h0m0 0h0m1-1h0m4 0h0m4-2h0m6 3h0m1 2h0m0-4h0m5 0h0m4 2h0m11 6h0m-1-3h0m-6 2h0m-10 3h0m-4-2h0m0 0h0m0-3h0m-1 4h0m-5 0h0m-6-1h0m-2 0h0m-5 2h0m-1-4h0m-1 4h0m-2 2h0m1-1h0m1 4h0m3 0h0m1-3h0m5 3h0m0-3h0m1 1h0m1-1h0m5 3h0m1 0h0m0-3h0m0 1h0m1 2h0m2 1h0m4-2h0m1-1h0m3-2h0m2 3h0m8 1h0m3 0h0m4 0h0m-10 7h0m-3-4h0m-3 4h0m-6-1h0m-6-3h0m-3-1h0m-1 0h0m-1 5h0m-3-3h0m-3-1h0m-3 0h0m-2 2h0m-4-2h0m0 1h0m-15 7h0m16-2h0m3 2h0m2-2h0m1-1h0m0 2h0m4-1h0m5-1h0m1 1h0m2 4h0m1-1h0m14-3h0m4 2h0m3 0h0m-4 5h0m-1 3h0m-5-4h0m-3 3h0m-2-1h0m-6-2h0m-5 0h0m-3 0h0m-6 3h0m-16 0h0m6 3h0m8 2h0m10-3h0m5 4h0m0-1h0m1-2h0m0 2h0m12-2h0"/><path id="qyp" d="M144 839h0m-27 0h0m2 5h0m3-3h0m9 4h0m6-1h0m4-1h0m10 2h0m5 5h0m-11-2h0m0 3h0m-9-1h0m-1 0h0m-1 0h0m-4-3h0m-3 0h0m-3 0h0m-2 2h0m-2-3h0m0 4h0m-3-2h0m5 5h0m1 2h0m1-2h0m1 3h0m2-1h0m0-3h0m1 3h0m6 2h0m1-1h0m1 1h0m2-1h0m2-4h0m6 3h0m3-2h0m-3 5h0m-7 3h0m0-2h0m-5 3h0m0 1h0m-3-3h0m-1 2h0m-1-1h0m-1-3h0m0 1h0m-1 3h0m0-1h0m-5-1h0m-3 1h0m-11-2h0m17 10h0m5-2h0m0 2h0m3-5h0m8 3h0m1 0h0m14-2h0m-7 9h0m-5-3h0m0 0h0m-2-1h0m-7 0h0m-4 2h0m-2 1h0m-2-1h0m-1-1h0m-5-1h0m-3 10h0m1-1h0m9 1h0m6-1h0m0 2h0m9-5h0m4 4h0m2-3h0m-8 7h0m-2 3h0m-3-1h0m-7-2h0m-2-2h0m-1 2h0m-2 3h0m-10-4h0m1 6h0m9 2h0m21 3h0m0 1h0m-20-1h0"/><path id="qyq" d="M171 836h0m-3 0h0m-18-1h0m17 7h0m2 2h0m15 4h0m-18-2h0m-6 2h0m-2 0h0m-3-2h0m0 3h0m-2 1h0m-2-4h0m-9 11h0m16-1h0m0-1h0m3 0h0m0-1h0m0 0h0m1 1h0m1-3h0m1 5h0m1 0h0m0-1h0m0-1h0m4 1h0m0-1h0m1 2h0m20 6h0m-5-3h0m0-1h0m0 4h0m-1-4h0m-3 2h0m-9 2h0m-1-2h0m-5 0h0m-1 2h0m-9-2h0m-2-2h0m-2 1h0m-11 8h0m10-4h0m2 1h0m7 2h0m5-2h0m7 2h0m0 1h0m1 0h0m2-2h0m3 2h0m1-3h0m7 1h0m4-2h0m4 0h0m2 2h0m-5 7h0m-2 0h0m-6-2h0m-1 4h0m-2-5h0m-3 4h0m-2 1h0m-2-5h0m-2 4h0m-1 0h0m-5 0h0m-4 1h0m-6 0h0m-8 5h0m1-2h0m6-2h0m1 3h0m2-3h0m3 1h0m1 2h0m5 0h0m2-3h0m1 0h0m8 1h0m1 4h0m2-1h0m8-4h0m-3 9h0m-7 1h0m-3 0h0m-2 0h0m-1 1h0m-2-2h0m-3 0h0m-4 1h0m-4-2h0m0 0h0m-1 3h0m-2-1h0m-5-4h0m-18 1h0m30 10h0m1 2h0m-7-1h0m-14 8h0"/><path id="qyr" d="M153 834h0m-20 5h0m-4-2h0m-11 2h0m6 2h0m2 4h0m3 0h0m15-1h0m14 4h0m-14 3h0m-6-2h0m-3 1h0m-4 0h0m-1 1h0m-3-4h0m-10 1h0m-4 0h0m-4 8h0m4-1h0m0 1h0m10 0h0m11 1h0m11-1h0m2 4h0m0-1h0m-2 1h0m-1 0h0m-3-1h0m-7-1h0m0 2h0m-1 0h0m0-1h0m-3 4h0m-3 0h0m-3-5h0m-2 0h0m-5 1h0m-3-1h0m-1 1h0m-1 0h0m-4-1h0m8 9h0m1-2h0m3 1h0m2 1h0m2 1h0m3-2h0m5 2h0m1-3h0m0-1h0m2 5h0m1-5h0m1 5h0m7-4h0m4 0h0m3 7h0m-6-1h0m-4 1h0m-2-2h0m-6 0h0m-5 3h0m-1-3h0m-3 4h0m-9 0h0m13 4h0m2 0h0m0 0h0m0-1h0m3 3h0m0-2h0m2 2h0m7-4h0m0 1h0m10 5h0m-10 0h0m-4 0h0m-3 3h0m-3-2h0m-11 4h0m8 5h0m1-3h0m26 4h0m-11 2h0"/><path id="qys" d="M114 835h0m5 10h0m0-3h0m9 2h0m3-1h0m5 8h0m-1 0h0m-1-3h0m-9 3h0m-3-5h0m0 3h0m-1 2h0m-4-4h0m-1 2h0m0 2h0m-4-3h0m-1 3h0m-4-2h0m0 3h0m5 1h0m3 0h0m2 2h0m3 2h0m12 0h0m2-5h0m1 1h0m2 3h0m29 3h0m-39 3h0m-2-1h0m0-1h0m-2-1h0m-5 1h0m-4-1h0m0 4h0m-8-3h0m-6 1h0m4 8h0m7-5h0m2 0h0m2 5h0m6-5h0m3 1h0m1 2h0m6-3h0m2 3h0m1 2h0m2 0h0m5-4h0m7-1h0m-18 9h0m-3 2h0m-4-2h0m-3-3h0m-1 0h0m-8 0h0m-9 3h0m26 4h0m18 0h0m-35 9h0m1 2h0m19 5h0m7-4h0m9 6h0m-4 0h0"/><path id="qyt" d="M100 742h0m-26-2h0m-11 8h0m18 1h0m27 2h0m-47 4h0m-13 5h0m14-3h0m9 1h0m3 0h0m4 0h0m1 2h0m4-4h0m6 0h0m9 3h0m8-3h0m3 5h0m-3 6h0m-4-2h0m0 1h0m-3-1h0m-10 0h0m-3-1h0m-4 2h0m-9-1h0m-6-1h0m-18-1h0m4 9h0m14 1h0m2-1h0m3-4h0m8 1h0m0 0h0m1 4h0m4 0h0m6-3h0m6-1h0m1 1h0m-3 4h0m-4 5h0m-2-5h0m-2 1h0m-12 3h0m-3 0h0m-8-4h0m-8 0h0m-3 3h0m-8-2h0m5 5h0m0 3h0m9 0h0m3 0h0m3-1h0m5 1h0m2-1h0m0 0h0m5-2h0m0 4h0m1 1h0m0-2h0m3-1h0m1-1h0m6 1h0m6 2h0m9-3h0m3 3h0m4 3h0m-4 3h0m-20-3h0m-6 4h0m-1-5h0m-4 4h0m-15-2h0m-1-1h0m-2 1h0m-10 3h0m0 3h0m15-1h0m6 0h0m1 0h0m1-1h0m3 3h0m2 2h0m0-2h0m4-1h0m1 1h0m0-1h0m4 2h0m0-2h0m2 0h0m2-1h0m1 0h0m8 3h0m11-4h0m-14 11h0m-1-5h0m-4 1h0m0 1h0m0-1h0m-1 4h0m-3-5h0m-6 4h0m-2-2h0m-8 1h0m-4 1h0m-1-1h0m-2-2h0m-1 0h0m-11 1h0m-12-1h0m16 6h0m0-1h0m8 5h0m9 0h0m2-4h0m10-1h0m3 4h0m2-1h0m6-3h0m14 3h0m-16 8h0m-6 0h0m-1-2h0m-2-2h0m-7 4h0m-21-5h0m-5 8h0m13-2h0m9 4h0m10-2h0m1 3h0m14 1h0m-27 0h0m-5 4h0m-10-4h0m7 8h0m9 0h0m32-2h0m-41 15h0m21-3h0m1 1h0m13 4h0m-35 15h0"/><path id="qyu" d="M170 767h0m-14 0h0m-2-1h0m-17 1h0m-16 0h0m-17 6h0m26-5h0m9 1h0m9 2h0m3-3h0m29 8h0m-14 3h0m-1-2h0m-1 2h0m-3-2h0m-1-3h0m0 1h0m-4 3h0m-2 0h0m-5 0h0m0-2h0m0 0h0m-1-2h0m-5 4h0m-2-3h0m-4 1h0m-3 2h0m-2 0h0m0 0h0m-8 1h0m-1 0h0m-4-3h0m-5 3h0m-2-2h0m-15 4h0m20 3h0m0 1h0m6-5h0m0 2h0m1 0h0m2 0h0m11-2h0m1 2h0m0 1h0m3 2h0m2-3h0m2 1h0m2 2h0m0-5h0m13 3h0m2 2h0m8-2h0m0-1h0m1 3h0m3-5h0m1 5h0m-1 6h0m0-2h0m-6 2h0m-3-4h0m-6-1h0m-1 3h0m-3-3h0m0 3h0m-1 2h0m0-2h0m-1-1h0m-1 0h0m-2 1h0m-2-3h0m-11 4h0m-2-2h0m-5-2h0m-2 2h0m-1 1h0m-2-1h0m-2 3h0m-1-3h0m0 1h0m0-2h0m-2 0h0m-4-1h0m-2 2h0m-3-1h0m-1 4h0m-1-2h0m-2-1h0m-13 2h0m12 2h0m1 2h0m0 3h0m4-1h0m5 0h0m2-3h0m5 4h0m0-5h0m2 4h0m0-3h0m6 1h0m2 0h0m1-2h0m1 2h0m1 3h0m1-4h0m4-1h0m0 5h0m3 0h0m2-2h0m2 2h0m1 0h0m1-5h0m1 5h0m2-5h0m0 4h0m5 0h0m2-2h0m1 1h0m1 1h0m4-1h0m0 0h0m2-3h0m0 3h0m7 0h0m-8 4h0m-1 2h0m-5 1h0m0-3h0m-4 4h0m-5-5h0m-3 5h0m-3 0h0m-1-5h0m-3 1h0m-4 4h0m-1 0h0m-1-2h0m-3 1h0m-2-3h0m-4 0h0m0-1h0m-1 1h0m-1 4h0m-2-2h0m-2-1h0m-1 0h0m-3 2h0m-4-1h0m-1-2h0m-5 4h0m-3-4h0m-4 4h0m1 1h0m9 2h0m2 2h0m0 0h0m3-1h0m3 1h0m2-4h0m0 3h0m2 2h0m5-3h0m7 3h0m4 0h0m0-2h0m2 2h0m1-3h0m0-1h0m0 3h0m1-1h0m1 0h0m2 2h0m3 0h0m1-3h0m6 3h0m2-4h0m0 2h0m1-1h0m2 0h0m2 1h0m10 7h0m-19-1h0m0 1h0m-2-4h0m-2 0h0m-13 1h0m-4 3h0m-2-3h0m-2 0h0m-6 2h0m-2-3h0m-1 5h0m-1 0h0m-1-3h0m-8 3h0m-2-3h0m-3 0h0m0 3h0m9 1h0m11 0h0m1 4h0m8-4h0m0 5h0m7-4h0m7 2h0m23-3h0m5 4h0m-47 4h0m-1 2h0m13 5h0m25 3h0"/><path id="qyv" d="M145 754h0m-33 0h0m10 7h0m48 2h0m-26 4h0m-1 0h0m-3-5h0m-4 1h0m-3-1h0m-11 1h0m-6 3h0m-1 0h0m-9-1h0m-1 1h0m-8 7h0m11 0h0m2-4h0m3 1h0m2-1h0m3 4h0m0-4h0m2 4h0m3 0h0m2 0h0m4-5h0m2 2h0m2-1h0m2 3h0m0 0h0m3 1h0m1 0h0m1-5h0m1 4h0m7-1h0m2-1h0m0 1h0m6-3h0m3 1h0m4 2h0m0 1h0m7 6h0m-1-1h0m-7-1h0m-14 0h0m0-1h0m-1 4h0m-2-2h0m-1-1h0m0 3h0m-8-4h0m-3 3h0m-2-3h0m0 1h0m-1 1h0m-4 2h0m-10-5h0m-1 0h0m-2 5h0m-1-1h0m-5 0h0m-2-2h0m-3 7h0m2 2h0m7 0h0m2-4h0m5 4h0m3 0h0m0-3h0m2 3h0m3-2h0m3 1h0m3 0h0m0-1h0m1 2h0m7-1h0m5-4h0m0 3h0m0-2h0m1 3h0m2 1h0m7-1h0m2-3h0m4 4h0m5-1h0m2-2h0m8 1h0m2 1h0m-2 2h0m-5 5h0m-3-3h0m-5 2h0m-4 1h0m-10-5h0m-4 1h0m-2 4h0m-2 0h0m-2-1h0m-1-4h0m-3 2h0m-4-2h0m-1 2h0m-1 1h0m-1 1h0m-2 0h0m-5-2h0m-1 0h0m-4 3h0m-1-3h0m-4 0h0m-2-1h0m-2 3h0m-4-2h0m-2 0h0m-7 3h0m14 2h0m3-1h0m3 2h0m1-1h0m2 0h0m1 3h0m6 0h0m3-2h0m2-1h0m7-1h0m1 4h0m8-4h0m4 0h0m1 5h0m5 0h0m2-1h0m3-2h0m8-2h0m6 6h0m-21 4h0m-1-4h0m-3 2h0m-4-1h0m-7 3h0m-17 1h0m-8-3h0m-9 2h0m-4 1h0m-2-2h0m-5-2h0m0 3h0m-9 2h0m29 2h0m1-1h0m4-1h0m2 3h0m1-1h0m12-2h0m6 6h0m-27 4h0m1 3h0"/><path id="qyw" d="M194 842h0m-16 12h0m4-2h0m6 5h0m4-4h0m6 3h0m16-2h0m-8 6h0m-11-1h0m-1 4h0m-7-2h0m-1-3h0m-13 11h0m14-2h0m4 1h0m2-3h0m7 2h0m4 8h0m0-3h0m-11 2h0m-6-4h0m-7 3h0m-5 6h0m12-3h0m7 2h0m5-1h0m0 2h0m-7 4h0m-18 8h0"/><path id="qyx" d="M144 760h0m7 2h0m-11 3h0m-3-2h0m-1 2h0m-11 2h0m-5-2h0m-18 6h0m10-1h0m11 1h0m1 1h0m9 1h0m5-1h0m2-3h0m5 0h0m0 4h0m1-1h0m2-3h0m7 3h0m2-3h0m1 3h0m4-1h0m2-1h0m10 0h0m2 9h0m-7-2h0m-5-1h0m-1 0h0m-6 1h0m-1-1h0m-9 0h0m-2 1h0m-4-2h0m0 4h0m-5 0h0m-8-2h0m-5 1h0m-1-1h0m-5 1h0m-5-4h0m0 4h0m-6 7h0m2-2h0m2-1h0m5-2h0m7 5h0m8-5h0m0 5h0m1-2h0m0 1h0m2-4h0m1 4h0m6-3h0m4 1h0m3 0h0m6-2h0m10 0h0m4 0h0m4 4h0m2 2h0m-2 1h0m-4 2h0m-6 1h0m-1-4h0m-6 0h0m-3 0h0m-3 1h0m-3 2h0m0 2h0m-3 0h0m-4 0h0m-3-4h0m-1 0h0m-5 2h0m-3 2h0m-3-1h0m0-1h0m-1-2h0m-1 0h0m-4 0h0m-4 1h0m-4-1h0m-1 4h0m-3-5h0m-10 6h0m6 1h0m2-1h0m8 4h0m9-2h0m8-1h0m1 1h0m9 3h0m6-2h0m0-2h0m4 4h0m3-3h0m0 3h0m4-3h0m0 0h0m4 3h0m1-3h0m0 1h0m13 3h0m-17 2h0m-2 3h0m-4-3h0m-5 0h0m-7-1h0m-2 0h0m-6 0h0m-6-1h0m-4 0h0m-8 2h0m-4 1h0m-1 2h0m-1-3h0m-2-1h0m-4 2h0m-1 5h0m8 1h0m9-1h0m1 3h0m3-5h0m28 2h0m4 0h0m0-1h0m24 5h0m-29 4h0m-24-1h0m-11-2h0m-1 4h0m-6-4h0m9 10h0m4-3h0m6 1h0m18 0h0m4 2h0m-28 5h0m-1-3h0"/><path id="qyy" d="M206 763h0m29 6h0m-7 11h0m25 43h0m-63 7h0m37 2h0m8 5h0m0 2h0m-1-4h0m-1-1h0m-7 5h0m-16-3h0m0 1h0m-5-1h0m-1 2h0m-5 1h0m-5-1h0m11 2h0m0 5h0m0-2h0m7 1h0m5-2h0m2-1h0m7 0h0m2 3h0m1 1h0m1 0h0m1-5h0m0 0h0m2 4h0m1-3h0m-20 8h0m-3-1h0m-9 0h0m-3-2h0m-2 5h0m-3-3h0m-11 0h0m1 8h0m22-3h0m2 0h0m24 5h0m-21 2h0m-1-2h0"/><path id="qyz" d="M189 753h0m36 10h0m-4 1h0m-13 2h0m-3-1h0m-25-2h0m-2 2h0m36 6h0m6 0h0m2 2h0m8-2h0m18 6h0m-12 0h0m-2 0h0m-4-2h0m-2 2h0m-2 2h0m-50-4h0m51 10h0m2-2h0m0 2h0m1-5h0m2 2h0m17 6h0m-6 2h0m-3-3h0m3 6h0m24 6h0m-27 0h0m-5 3h0m-2 7h0m15-1h0m16-3h0m-19 8h0m-10-3h0m-58 2h0m1 6h0m57 1h0m4-3h0m9 2h0m3 1h0m2-3h0m-16 9h0m0-2h0m-10-1h0m-1 2h0m-4 1h0m-4 2h0m-32 0h0m-3-1h0m-6 3h0m6-1h0m9 2h0m6 3h0m4-1h0m3-1h0m17 0h0m2 1h0m6 0h0m17 0h0m-51 2h0m-2 3h0m-3-3h0"/><path id="qza" d="M235 838h0m-2 1h0m-9-4h0m-3 4h0m-1 0h0m-1-3h0m-1 1h0m-2-3h0m-1 2h0m-2 1h0m0 1h0m-8 0h0m-2 1h0m-12 0h0m-6 2h0m2-1h0m0 1h0m3 0h0m2 4h0m1 0h0m3 0h0m0 0h0m5-4h0m3 2h0m1 1h0m5 0h0m2 1h0m1-2h0m1-3h0m8 1h0m0 0h0m0 0h0m2 4h0m5-2h0m1-3h0m0 1h0m0 3h0m2-4h0m-9 6h0m-2 2h0m-6 1h0m-10-3h0m-6 2h0m-4 3h0m-1-2h0m4 3h0m1 1h0m2 0h0m6 0h0m0-1h0m6 2h0m14 2h0m1-1h0m-10 4h0m0 0h0m-1 0h0m-16 3h0m0-3h0m0 0h0m-2 0h0m-14 3h0m-7 1h0m23 2h0m18 8h0m-22-2h0"/><path id="qzb" d="M205 748h0m19 4h0m-3 3h0m-24-3h0m-3 9h0m14-3h0m34 9h0m0-2h0m-21-2h0m-1 0h0m-3 1h0m0 2h0m-1 0h0m-13-1h0m-3-2h0m0-1h0m-5 4h0m-6-1h0m8 3h0m12 3h0m18 2h0m0-3h0m3 2h0m26 3h0m-9 1h0m-6 1h0m0 1h0m-8-1h0m-1-2h0m-2 2h0m-2 2h0m-3-2h0m-1-1h0m-3-1h0m-37 2h0m-12 8h0m56 0h0m0 0h0m1-1h0m0-1h0m4-2h0m1-1h0m4 4h0m2-4h0m5 4h0m1-2h0m21 7h0m-12 1h0m-6 0h0m-1-3h0m0 0h0m-5 0h0m-1 4h0m-3-1h0m-3-2h0m-2-1h0m-1 4h0m-4-1h0m5 4h0m3 2h0m12-1h0m1-3h0m7 5h0m5-3h0m-12 5h0m-1 4h0m-1-1h0m-4-3h0m-4-1h0m-1 4h0m-1-4h0m-2 1h0m-68 2h0m7 5h0m56 0h0m1 3h0m3-5h0m0 1h0m0 0h0m0 2h0m1-1h0m3 0h0m0 3h0m5 0h0m7-5h0m0 4h0m3-3h0m10 6h0m-6-1h0m-1 1h0m-9 3h0m-6-4h0m0 4h0m0 0h0m-3 0h0m-2 1h0m-1-4h0m-2 4h0m-3-3h0m-1 3h0m-1-3h0m-1 1h0m1 5h0m4-2h0m0 3h0m1-3h0m2 5h0m1-2h0m6-1h0m1 3h0m2-1h0m1 1h0m11 5h0m-8-3h0m-8 4h0m0-5h0m0 0h0m0 2h0m-6 2h0m-3-1h0m-1-1h0m-1-2h0m-5 5h0m-3-2h0m-34 1h0m-6-1h0m-2 2h0m-3 0h0m-1 0h0m-3-5h0m-5 7h0m8 0h0m7 2h0m8-2h0m2 3h0m7 0h0m3 1h0m7 0h0m4-2h0m2-3h0m1 2h0m7 0h0m0 0h0m15 3h0m2-5h0m1 2h0m1 1h0m5 1h0m4-4h0m-59 7h0m-2 0h0m-8 3h0m-2-2h0m-2-1h0m58 9h0m3-3h0"/><path id="qzc" d="M98 761h0m0 0h0m11 0h0m-2 3h0m-12 5h0m14 1h0m8 7h0m-13-3h0m-10 10h0m15 3h0m-39 3h0m18 4h0m11 1h0m1-1h0m5-2h0m14 6h0m-34 3h0m-14 1h0m17 2h0m12 2h0m11 0h0m-1 5h0m-19 2h0m-3-2h0m-2 2h0m-1 0h0m11 3h0m12 10h0m-17 1h0m-4-4h0m-18 7h0m44-1h0m-41 10h0m12 1h0m7 0h0m13 2h0m7 7h0m-6 2h0m-16-1h0m1 6h0m15 1h0m14-3h0m5 8h0m-9-3h0m-5-1h0m-2 1h0m-1-1h0m-5 3h0m-10-1h0m2 7h0m5-3h0m1 1h0m2 1h0m3 1h0m1 1h0m11 7h0m-2-4h0m-6-1h0m0 3h0m-3 2h0m-4-3h0m-2-1h0"/><path id="qzd" d="M109 755h0m-17 1h0m31 11h0m-7-5h0m-12 5h0m12 9h0m-17 0h0m-6 7h0m4-2h0m10 1h0m0 2h0m2-1h0m2 6h0m-9 2h0m-11-3h0m-10 0h0m5 8h0m11 0h0m19 3h0m-15-1h0m-5 2h0m-3-2h0m-10 9h0m9-2h0m5 7h0m-5-2h0m-2 0h0m13 15h0m-13 7h0m11-1h0m3-1h0m2 3h0m3-4h0m-34 10h0m11 3h0m25 3h0m2 0h0m-27 4h0m5 3h0m26 5h0m3 4h0m-9-2h0m-6 2h0m-7-2h0m-19 3h0m24 3h0m11 4h0m0 6h0m-9 5h0"/><path id="qze" d="M190 773h0m6-3h0m1 3h0m6-4h0m2 2h0m2 1h0m9 1h0m10 6h0m-14-4h0m-2 0h0m-1 1h0m0-1h0m-1 4h0m-2-1h0m-2-4h0m-1 4h0m0-4h0m-4 1h0m-2 4h0m-1-5h0m-4 4h0m-10 6h0m2-2h0m0 3h0m5-2h0m0-2h0m1-1h0m0 4h0m4-3h0m3 1h0m2 3h0m5 0h0m1-4h0m1 4h0m4-3h0m0 2h0m2 0h0m1 0h0m5 0h0m3 0h0m1 0h0m0 1h0m3 1h0m-2 1h0m-2 2h0m0-1h0m-1 3h0m-1-4h0m0 4h0m-7-3h0m-4 3h0m-2-3h0m-2 1h0m0-1h0m0 0h0m-1 3h0m0 0h0m-6-1h0m0-3h0m0 4h0m-1-3h0m0-1h0m-4 4h0m-2-4h0m-1 4h0m-4-2h0m-4-1h0m-3 3h0m3 5h0m2 1h0m1 0h0m1-2h0m2-3h0m0 3h0m1-3h0m2 1h0m1 2h0m1-3h0m2 4h0m5-3h0m0 0h0m1 2h0m2-2h0m8 4h0m0-1h0m1 1h0m1-2h0m0 1h0m1-4h0m3 2h0m5-1h0m2-1h0m6 4h0m0 7h0m-1 0h0m0-3h0m-4 0h0m-4 0h0m0 0h0m0-2h0m-1 5h0m-2-1h0m-2-1h0m-4-1h0m0 2h0m0-4h0m-2 1h0m-4 2h0m-4-3h0m-1 4h0m0-1h0m-5-1h0m0 3h0m-5-2h0m-3-2h0m-2 1h0m-2 3h0m-3-2h0m-1-1h0m1 5h0m6 3h0m2 0h0m0-3h0m5 0h0m4-1h0m4 3h0m0 1h0m1-4h0m1 5h0m4-4h0m0 4h0m0-1h0m0-2h0m0 1h0m1-1h0m2 0h0m2 3h0m4-3h0m1-2h0m1 1h0m3 1h0m8 5h0m-1 3h0m0-1h0m-1-2h0m-3 0h0m-1 0h0m-1 1h0m-2 1h0m-1 1h0m-2 1h0m-2-1h0m0 1h0m-1-3h0m0 3h0m-4-5h0m-2 0h0m-1 1h0m0 4h0m-2-3h0m-2 3h0m-2-2h0m0 0h0m-1 0h0m0-1h0m-1-1h0m-3 1h0m-1 0h0m-2-2h0m-1 5h0m-4-3h0m0 3h0m-4-2h0m-1 2h0m-1-1h0m8 6h0m6-1h0m0-3h0m0 2h0m8-2h0m0 3h0m2-1h0m0 2h0m4 0h0m3 0h0m1-3h0m1 0h0m1 0h0m1 2h0m0 1h0m5 0h0m-3 3h0m-1 2h0m0-3h0m-1 1h0m0 4h0m-8-4h0m-1 4h0m-1-4h0m-7 0h0m-4 2h0m-2 1h0m-1 0h0m-1-1h0m-6-2h0m13 5h0m8 2h0m3-1h0"/><path id="qzf" d="M106 742h0m-15-1h0m-17-2h0m13 6h0m5 1h0m7 0h0m8 8h0m-17 1h0m-8-1h0m-1 1h0m-8 3h0m3 1h0m4-1h0m0-2h0m1 5h0m1-2h0m16-2h0m2 1h0m2 3h0m10 5h0m-2-2h0m-2-2h0m-2 1h0m-1 4h0m0-5h0m-2 1h0m-4 4h0m-2-3h0m-10 0h0m-4 2h0m-1-2h0m-3-2h0m-5 3h0m-2-2h0m-6 0h0m-6 1h0m-9 5h0m5 0h0m15 4h0m2-3h0m1-2h0m3 4h0m1-3h0m2-1h0m3 0h0m3 2h0m1 1h0m1 1h0m1-1h0m2 2h0m0-1h0m2-2h0m3 0h0m4 3h0m1-5h0m0 1h0m11 7h0m-5 3h0m-9-1h0m0-4h0m0 0h0m-2 5h0m-1-3h0m-4-2h0m-1 1h0m-4 1h0m0 0h0m0 2h0m-4 0h0m-2-1h0m-2 0h0m-2 1h0m-1-4h0m-3 3h0m-10-2h0m-19 7h0m7 2h0m0 0h0m16-2h0m6 3h0m4-3h0m12 3h0m1-2h0m0 1h0m3-3h0m3-1h0m2 4h0m16-3h0m3 2h0m-20 7h0m-1 1h0m-6-2h0m-1-2h0m-6 0h0m-2-1h0m-3 3h0m0 2h0m-1-1h0m-1-4h0m-6 5h0m-10-5h0m-2 5h0m-5-5h0m-18 9h0m28-1h0m6 3h0m0-1h0m4-3h0m2-1h0m2 0h0m3 0h0m1 4h0m1 1h0m0-5h0m6 3h0m0 2h0m4-1h0m1-2h0m1-2h0m4 0h0m2 4h0m5-3h0m-13 7h0m-2 1h0m-3 0h0m-3 2h0m-2-5h0m-4 4h0m-3 0h0m0 0h0m-1-3h0m-5-1h0m0 2h0m-4-1h0m0-1h0m-1 3h0m-2 0h0m-2-3h0m-4 4h0m-11 1h0m9 1h0m12 0h0m1 3h0m2 1h0m0 1h0m1-3h0m10 1h0m5 0h0m0-2h0m0 1h0m1-1h0m1-1h0m5 4h0m1-2h0m4 1h0m8-1h0m3 3h0m-4 5h0m-4 0h0m-2 1h0m-2-3h0m-3 0h0m-2-2h0m-5 2h0m0 1h0m-1-3h0m-7 1h0m-4 3h0m-1-2h0m-5 1h0m-6-2h0m-17 4h0m4 2h0m7 1h0m8 3h0m4 0h0m2-2h0m1-2h0m2 3h0m17 1h0m2-5h0m9 0h0m2 3h0m1 4h0m-10 3h0m-10 0h0m0-2h0m-1 3h0m-2-3h0m-3 3h0m-1-2h0m0 0h0m-1 1h0m-15 1h0m-4-4h0m10 7h0m6 2h0m9-4h0m10 3h0m21-1h0m0-2h0m-24 11h0m-3-2h0m-3-2h0m-5 2h0m2 4h0m5 3h0m12-3h0m1 3h0m1-2h0m2 6h0m-19 3h0m-8-3h0m25 4h0m21 11h0m-23 3h0m10 1h0m-9 7h0"/><path id="qzg" d="M181 782h0m15 5h0m-10-1h0m-4 0h0m-1 1h0m-1 3h0m0-1h0m-2 6h0m4 1h0m1 1h0m5-4h0m-1 8h0m-10-2h0m0 1h0m-1 1h0m-1 3h0m4 5h0m4-5h0m1 4h0m-2 7h0m-3 0h0m17 13h0"/><path id="qzh" d="M142 832h0m-1 3h0m-7 3h0m-20-2h0m-2 3h0m1 1h0m3 2h0m16 2h0m13 0h0m-4 2h0m-9 5h0m-7 0h0m-3-2h0m-1 2h0m-9-5h0m-5 8h0m8 0h0m1 3h0m5-4h0m2 2h0m0 1h0m2 1h0m0-2h0m1 0h0m2-3h0m2 0h0m3 0h0m1 2h0m12-2h0m-11 8h0m-2 0h0m-4-2h0m-1 5h0m-1-1h0m-4-2h0m-1 0h0m-8 0h0m-2 1h0m0 2h0m-3-5h0m11 6h0m16 0h0m12 6h0m-10 4h0m-10 0h0m-5 0h0m-10-4h0m-8 7h0m17 0h0m10-1h0m12 2h0m-6 4h0m-1 0h0m-10 3h0m-3-1h0m-3 2h0m-1 0h0m-1-1h0m8 4h0m3 1h0m30 2h0"/><path id="qzi" d="M107 771h0m-10 17h0m-1 17h0m14 30h0m-1 6h0m4 0h0m-7 15h0m2-3h0m16 2h0m-19 9h0m11 3h0m1 0h0m9 7h0m-23 8h0"/><path id="qzj" d="M104 747h0m14 1h0m1 7h0m-28-4h0m-1 1h0m-18 3h0m-2-1h0m-17 6h0m4-1h0m8 1h0m4 0h0m3-3h0m0 2h0m1-2h0m6 2h0m3 2h0m0-1h0m0-2h0m2 1h0m6 0h0m2 1h0m1-3h0m10-1h0m7 4h0m12-2h0m-17 8h0m-4 0h0m0 1h0m-6 0h0m-9-3h0m-2-2h0m-1 1h0m-1 4h0m-5-4h0m-2 1h0m-7 3h0m-2-2h0m-8 0h0m0 8h0m9-4h0m1 3h0m3-4h0m4 2h0m1 3h0m1 0h0m3-4h0m4 1h0m1 2h0m3-3h0m0 3h0m6-3h0m6 3h0m1-4h0m0 4h0m-5 6h0m-2 0h0m0-1h0m-8 1h0m-8-3h0m-3 3h0m0 1h0m0-4h0m-2 0h0m-1 0h0m-2 0h0m-3 3h0m-2-1h0m-9-1h0m-3-2h0m0 0h0m-5 0h0m7 7h0m0 2h0m11-1h0m3 1h0m2-2h0m4 1h0m0 3h0m0-4h0m2 3h0m6-1h0m2 1h0m3-2h0m17 0h0m-12 7h0m-2 2h0m-3 0h0m-7-5h0m-2 1h0m-3 2h0m-1 1h0m-5-2h0m-1 3h0m-1-3h0m-2 2h0m0-2h0m-2 2h0m0-2h0m-1-1h0m-1 2h0m-2 1h0m0-1h0m-1 2h0m-1-1h0m-12 0h0m-4 1h0m-1 0h0m16 6h0m0-5h0m0 2h0m1 3h0m5 0h0m3-5h0m2 0h0m2 3h0m0-2h0m1 3h0m1-2h0m2-1h0m4 3h0m6-1h0m1 0h0m8-2h0m6 6h0m-3 2h0m-2-3h0m0 2h0m-5 0h0m-6 2h0m0 0h0m-9-3h0m-3 4h0m-2-4h0m-8-1h0m-2 4h0m-8 0h0m-1-4h0m-1 1h0m11 9h0m0-3h0m3-1h0m0 0h0m1 0h0m4 5h0m1-2h0m3-1h0m1-2h0m4 4h0m6-4h0m13 2h0m5-1h0m1-1h0m0 4h0m-12 2h0m-1 2h0m-17 0h0m-4-1h0m-7 1h0m-2 3h0m-5-5h0m-6 0h0m-1 5h0m-5-2h0m5 8h0m6-1h0m0-3h0m18 3h0m17 2h0m-19 3h0m-32-3h0m6 9h0m9 2h0m12-3h0m9-1h0m8 1h0m14 0h0m5-2h0m-35 11h0m21 1h0m-4 12h0m12 4h0m-2 6h0"/><path id="qzk" d="M135 826h0m18 8h0m-5 4h0m-1-1h0m-24 7h0m7 1h0m5-2h0m5 2h0m1 0h0m7-5h0m15 0h0m-5 9h0m-9 2h0m-4 0h0m-2-1h0m-1 1h0m-1-5h0m-2 3h0m0 0h0m-1 0h0m-1 1h0m-5 1h0m-2-4h0m0-1h0m-1 1h0m-13 10h0m2-2h0m8 1h0m3 1h0m1-4h0m9 0h0m1 2h0m6-3h0m3 4h0m0-4h0m2 5h0m0-3h0m3-2h0m6 2h0m1 3h0m3-3h0m5-1h0m-2 5h0m-3 5h0m-3-3h0m0 3h0m-2-2h0m-2 1h0m-2 0h0m-1 0h0m-2-2h0m0 0h0m0 1h0m-4 1h0m0 0h0m-9-2h0m0 2h0m-1-2h0m-5 1h0m-1 0h0m-3-2h0m-14 5h0m4 1h0m2-1h0m1 4h0m5-3h0m1 3h0m1-2h0m1-2h0m3 4h0m0-3h0m1 3h0m0 0h0m3-3h0m2 3h0m3-2h0m3-2h0m1 1h0m2 2h0m1 0h0m1 2h0m7-4h0m2-1h0m1 5h0m5 1h0m-12 3h0m-2 0h0m-2-3h0m-1 5h0m0-4h0m-3 0h0m-3 3h0m-2-4h0m-2 4h0m-3-3h0m-1 2h0m-2 2h0m-1-2h0m-2-2h0m-1-1h0m0 5h0m-13-5h0m14 6h0m4 3h0m0-2h0m1 1h0m3 1h0m1 0h0m3 1h0m1-3h0m7 4h0m7-2h0m6 2h0m10-4h0m-2 5h0m-6 2h0m-7 0h0m0-2h0m-5 2h0m-6 3h0m-2-2h0m0 0h0m-2 1h0m0 0h0m-14-2h0m-8-1h0m15 8h0m5-3h0m9 10h0m-3 0h0"/><path id="qzl" d="M111 740h0m-6 8h0m14 0h0m-4 5h0m-15 3h0m1 1h0m12 0h0m0 1h0m3 3h0m4-1h0m1-4h0m3 5h0m17 3h0m-15-2h0m-18 4h0m-4-4h0m0 4h0m-3 2h0m0 4h0m3-1h0m41 1h0m-33 3h0m0 0h0m10 7h0m7 6h0m-16 0h0m-22 5h0"/><path id="qzm" d="M98 756h0m10 5h0m6 0h0m0-5h0m6 4h0m1-3h0m1 3h0m1-4h0m13 2h0m3 0h0m5 2h0m25 0h0m-2 3h0m-9 2h0m-8-3h0m-7 2h0m-2-1h0m0 1h0m-1 3h0m-2-5h0m-3 3h0m0-3h0m-2 3h0m-9-2h0m0 0h0m-6 4h0m-6-2h0m-2 2h0m-1-2h0m-12-1h0m-4 5h0m12 0h0m3 0h0m0 4h0m7 0h0m2-2h0m1 0h0m3 0h0m2-2h0m0 3h0m2-4h0m3 5h0m1-3h0m0 3h0m0 0h0m4-3h0m3 2h0m1-3h0m0 4h0m5 0h0m0 0h0m1-4h0m2 2h0m1-2h0m7 0h0m1 4h0m3-3h0m21-1h0m-5 8h0m-12-2h0m-1 2h0m-2-3h0m-15 0h0m-6 0h0m-2 0h0m-3 4h0m0 1h0m-1 0h0m-3 0h0m-1-5h0m0 3h0m-3-3h0m-1 2h0m-1-1h0m-3-1h0m-1 4h0m-7-3h0m-3-1h0m-2 2h0m-3-1h0m-4 0h0m-9 3h0m15 5h0m6-2h0m7-1h0m1 3h0m3-2h0m1 4h0m0-1h0m5 1h0m3-4h0m2-1h0m15 5h0m10-4h0m8 7h0m-20-1h0m-1 1h0m-3 1h0m-7 1h0m-1-3h0m-1 3h0m-4-4h0m-13 1h0m-1 2h0m-3 0h0m-15-2h0m-9 7h0m13-2h0m4 3h0m3 2h0m2-1h0m14-4h0m11 2h0m1-2h0m4 2h0m4 3h0m2 6h0m-9-3h0m-9 1h0m-21 1h0m-9-1h0m37 3h0m-26 7h0"/><path id="qzn" d="M197 766h0m52 11h0m-2-1h0m-4 23h0m-14 20h0m-7 14h0m5-1h0m11 5h0m-10 0h0m0-1h0m0 3h0m-9-3h0m-4 0h0m-2-2h0m-12 2h0m-10 3h0m11 2h0m2 1h0m0 3h0m4-4h0m3 4h0m11-3h0m8-2h0m2 2h0m0 3h0m2-4h0m2-1h0m1 2h0m-5 9h0m-5-5h0m-2 2h0m0 2h0m-4-1h0m-2-3h0m-6 3h0m0 2h0m-6-5h0m-2 2h0m-6 2h0m-1 1h0m-1-3h0m4 9h0m12-5h0m3 5h0m12-4h0m2 3h0m-9 2h0m-2 0h0m-6 3h0m-6-2h0m6 8h0m-5 3h0"/><path id="qzo" d="M190 761h0m16-2h0m11-3h0m3 5h0m-6 4h0m-6-2h0m-1 3h0m-1-2h0m-12 3h0m-1 0h0m-15 1h0m23 0h0m16 1h0m1 4h0m2-1h0m0 1h0m7-1h0m3-3h0m2 0h0m3 3h0m-2 4h0m-1 2h0m-3 1h0m-2-2h0m-46 2h0m47 3h0m3 1h0m7-2h0m1 3h0m3-3h0m4 2h0m6 7h0m-2-2h0m-5 1h0m-6 1h0m-1-1h0m-3 2h0m-1-1h0m-1 0h0m0-3h0m-4 0h0m3 5h0m1 2h0m1 3h0m1-1h0m3-2h0m1 0h0m25 3h0m-5 2h0m-2 0h0m-17 1h0m-5-1h0m-1 3h0m-2-4h0m-74 3h0m15 4h0m57 4h0m1-4h0m1-1h0m3 3h0m4 2h0m3-4h0m0 3h0m7 4h0m-5-1h0m-2-1h0m-4 0h0m-1 2h0m0 1h0m-2 2h0m0-4h0m0 1h0m-2-2h0m-2 3h0m0 2h0m-3 0h0m3 2h0m1 0h0m1 3h0m2-2h0m1 3h0m1-5h0m1 5h0m0-5h0m2 5h0m0-5h0m1 5h0m1 0h0m1-2h0m9 2h0m4 0h0m-6 5h0m-3-3h0m0 3h0m-8-3h0m-2 2h0m-4-3h0m-2 3h0m-6 0h0m-1 0h0m-2 0h0m0-3h0m-6 5h0m-27 0h0m-6-2h0m0 0h0m-3 4h0m4 4h0m0-2h0m0-3h0m9 3h0m7 2h0m6-1h0m5-2h0m3 1h0m3-3h0m4 4h0m1-4h0m1 4h0m2-2h0m1 2h0m1 0h0m1-2h0m5-1h0m0 1h0m2-2h0m2 0h0m1 1h0m2 0h0m6 1h0m3 7h0m-4-2h0m-1 0h0m-1 0h0m-1-1h0m-4 5h0m-22-5h0m-6 0h0m-1 1h0m-6 1h0m-12 0h0m-1-1h0m-14 4h0m63 2h0m7 7h0"/><path id="qzp" d="M155 832h0m10 5h0m-11-1h0m-10 4h0m14 2h0m8 3h0m4-1h0m10 3h0m-17 3h0m0-1h0m-1-3h0m-1 0h0m-2 0h0m-2 3h0m-1-2h0m-3 2h0m-3-1h0m0-1h0m-3 0h0m-2 2h0m-4-3h0m-1 2h0m-6-1h0m-18 5h0m14 2h0m2 1h0m4-2h0m2-1h0m9 0h0m0 1h0m3 3h0m3 1h0m1 0h0m1 0h0m0-3h0m1 1h0m1 1h0m1-4h0m0 4h0m1-2h0m0 1h0m1-1h0m1 2h0m0 0h0m4-1h0m7 2h0m5-1h0m-2 5h0m-5-3h0m-5 2h0m0 0h0m-5-2h0m-4 4h0m-4 0h0m-12 1h0m-1-3h0m-6 0h0m-4 4h0m2 3h0m7-1h0m3 2h0m0-1h0m1 2h0m0-2h0m8-1h0m5 0h0m1-1h0m0 0h0m0 1h0m2 1h0m3-1h0m1 0h0m4 0h0m2 1h0m0 0h0m17 2h0m1 5h0m-16-2h0m-7 3h0m-3-5h0m-2 2h0m-5 3h0m-2-2h0m-3 1h0m-3-1h0m-1-3h0m-1 0h0m-1 5h0m-19-5h0m7 11h0m5-4h0m4 3h0m1-1h0m4 1h0m3 1h0m1-1h0m2 7h0m-8-4h0m0 1h0m-2 3h0m-3 1h0m13 2h0m0-2h0m7 4h0m10-1h0m1 0h0m-6 4h0m-3-1h0"/><path id="qzq" d="M160 834h0m-39 6h0m0 0h0m16 4h0m8-2h0m2 1h0m1 1h0m4 0h0m1 1h0m10 0h0m6 3h0m-4 3h0m-8-2h0m-1-3h0m-1 1h0m-2 0h0m-2 3h0m-1-3h0m-5 3h0m-2-1h0m-4-3h0m-5 1h0m-2 2h0m-4-3h0m-1 3h0m-1-1h0m0-1h0m-1 1h0m-3 3h0m-2-1h0m-3-2h0m-5 6h0m9-1h0m5 4h0m6-2h0m1 0h0m6 0h0m3-2h0m3 0h0m2 4h0m0-2h0m1-2h0m1 4h0m3 0h0m10-1h0m20 2h0m-23 4h0m-2-1h0m-4-3h0m-2 4h0m-5-3h0m-4-1h0m-9 3h0m-2 1h0m-3 0h0m-5 1h0m-3-4h0m-5 6h0m3 1h0m5 3h0m2 0h0m0 0h0m2-3h0m12 3h0m5-3h0m1-1h0m6 3h0m13-2h0m2-1h0m11 2h0m-12 7h0m-6-4h0m0 0h0m-8 1h0m0 4h0m-10-4h0m-5-1h0m-1 2h0m-3-1h0m-1 4h0m-4-4h0m-15 0h0m21 6h0m2 1h0m14-2h0m6 1h0m3 4h0m10-3h0m1 9h0m-2 0h0m-19-4h0m-2 3h0m-4-2h0m0 0h0m-2 2h0m0 1h0m-2-3h0m-4 2h0m-4-1h0m-11 4h0m6-1h0m10 3h0m16-1h0m3-1h0m4 0h0m23 0h0m-40 5h0"/><path id="qzr" d="M98 771h0m23-3h0m32 4h0m11-2h0m8 6h0m-11 2h0m-8-2h0m-2 1h0m-2 1h0m-2-2h0m-2 3h0m-2-3h0m-31 8h0m18 1h0m15 0h0m5-1h0m1-3h0m3 3h0m6 0h0m0 1h0m1 0h0m7 0h0m0-3h0m2 0h0m5 0h0m0-1h0m1 9h0m-5-2h0m-1-2h0m-5 5h0m-3-3h0m-3 0h0m0 3h0m-1-3h0m-2 0h0m-1 0h0m-5 1h0m-2 0h0m-6-3h0m-1 4h0m-4-4h0m-2 2h0m-2-2h0m-1 5h0m-3-1h0m-9-1h0m0 2h0m-1-5h0m-3 5h0m-8 2h0m3 3h0m12-1h0m2-2h0m1 0h0m1 1h0m8 0h0m6 3h0m7 0h0m0-4h0m0 3h0m2-4h0m2 4h0m1-4h0m1 0h0m0 5h0m1-4h0m4 1h0m5 0h0m1 1h0m1 0h0m1 1h0m0-1h0m1-3h0m3 1h0m2 3h0m-3 2h0m-2 2h0m-5-2h0m0 1h0m-12 3h0m-1-3h0m-1 2h0m-2 1h0m-1 1h0m-1-3h0m-1-2h0m-4 3h0m-2 1h0m-4-1h0m-3 1h0m-1-2h0m0-2h0m-9 3h0m-2-1h0m-4-1h0m-3 4h0m-2-2h0m-1-3h0m0 0h0m-19 9h0m9-2h0m4 2h0m0-2h0m3 1h0m1-2h0m11 1h0m0 1h0m0-1h0m7 0h0m3 2h0m2 2h0m1 0h0m2-1h0m3-1h0m1 1h0m2-2h0m3 3h0m0-2h0m0-2h0m1 1h0m2-1h0m0 1h0m3-2h0m1 0h0m2 0h0m3 1h0m1-1h0m0 4h0m1-1h0m1-2h0m7 1h0m12 7h0m-1 2h0m0-2h0m-2 2h0m-6-5h0m-13 5h0m-1-3h0m-1-1h0m0 3h0m-1-2h0m0 2h0m-7-4h0m-2 1h0m0 3h0m-2-1h0m-1 0h0m-3 2h0m0 0h0m-2-2h0m-7-2h0m-6 0h0m-2-1h0m-6 1h0m-6 1h0m-4-2h0m-1 3h0m9 4h0m8 1h0m0 0h0m4-1h0m0 4h0m2-1h0m1-1h0m2-3h0m2 3h0m5-2h0m0 2h0m1-2h0m6 4h0m1-4h0m4 0h0m2 3h0m4 1h0m3-3h0m6 2h0m8-1h0m-4 3h0m-15 5h0m-2-1h0m-6-2h0m-2 0h0m0 3h0m0 0h0m-2-2h0m0 1h0m0-2h0m-5 1h0m0-3h0m-2 2h0m-2 3h0m-1 0h0m-2-2h0m-1-3h0m-2 0h0m-2 2h0m-5 3h0m-1-3h0m-5-1h0m-1-1h0m0 8h0m6 1h0m3-3h0m1 4h0m12-1h0m0-3h0m3 4h0m1-3h0m24 4h0m2-4h0m1-1h0m19 3h0m-10 3h0m-7 0h0m-12 5h0m-17-5h0m-10 0h0m-2 4h0m19 13h0"/><path id="qzs" d="M120 837h0m-11 4h0m12 2h0m0 0h0m0 2h0m12-3h0m1 0h0m0 1h0m0 1h0m23 3h0m-10 0h0m-6 3h0m-3 0h0m-5-1h0m-3 2h0m-3-3h0m-8 3h0m-7-5h0m-3 3h0m-1 5h0m4 3h0m5 0h0m0-3h0m7-2h0m1 1h0m0 4h0m1-1h0m0-2h0m4 2h0m3-4h0m3 5h0m6-5h0m2 5h0m1-4h0m2 0h0m7 4h0m-11 1h0m-2 0h0m-2 2h0m-1-2h0m-2 5h0m-1-1h0m-3 0h0m0-2h0m-1 1h0m-7 0h0m-1-1h0m-7-1h0m20 5h0m3 3h0m7 0h0m1-2h0m4 6h0m-8 1h0m-1-2h0m-2 5h0m-2-2h0m-1 1h0m-1-4h0m-2 1h0m0 3h0m-1-4h0m-1 0h0m-3 2h0m-3 1h0m-1-2h0m-5 0h0m0 10h0m10-3h0m2 3h0m8-3h0m4 0h0m0 3h0m3-5h0m2 2h0m2 7h0m-2-1h0m-6 9h0m7 0h0m1 6h0"/><path id="qzt" d="M224 832h0m10 5h0m-7-2h0m-9-1h0m0 5h0m-2-3h0m-1 1h0m-1-1h0m-6 1h0m-11 0h0m-2 2h0m-13 5h0m13 1h0m8-4h0m3 2h0m4 1h0m1-2h0m4 3h0m1-5h0m1 2h0m3 3h0m5-4h0m11 0h0m2 6h0m0 3h0m-6-2h0m-12-1h0m-3 2h0m0 1h0m-8-1h0m-2-2h0m-4 0h0m0 2h0m-4-3h0m-3 1h0m0 4h0m-3-5h0m-1 4h0m-2-3h0m3 10h0m8-5h0m7 2h0m2 0h0m2-2h0m2 0h0m1 4h0m7-2h0m4 5h0m-23-1h0m-5 4h0m-6-3h0m8 5h0m13 1h0m-42 8h0"/><path id="qzu" d="M66 737h0m9 16h0m-32 7h0m5-2h0m3-2h0m4 4h0m5-1h0m7 2h0m1-5h0m11 1h0m8 3h0m4-3h0m0 4h0m8 1h0m-15 0h0m-12 2h0m-2 0h0m-5 0h0m-1-1h0m-2 3h0m0-1h0m-5-3h0m-3 0h0m-8 4h0m2 2h0m3 4h0m1-2h0m5 1h0m11 2h0m0-1h0m1-3h0m3 2h0m1 0h0m2-2h0m3 4h0m3-1h0m7-2h0m2 3h0m-9 3h0m-3-2h0m-1 2h0m-5 3h0m-5-2h0m-1 2h0m-6-2h0m-8-1h0m-1 2h0m-3 0h0m-10 2h0m5 2h0m3-1h0m8 3h0m15 0h0m33 4h0m-26-1h0m-5 3h0m-5-3h0m-2 2h0m-1-3h0m-2 0h0m-3 2h0m-2 0h0m-3-2h0m-3 0h0m-2 4h0m13 5h0m37 4h0m-13 4h0m-2 0h0m-1-2h0m-6 1h0m-5-4h0m-3 1h0m-12 3h0m-2-1h0m-1 2h0m-6-1h0m-18 1h0m16 3h0m1-1h0m7 3h0m2-4h0m7 3h0m3-2h0m1 3h0m4-2h0m12 9h0m-2-2h0m-3-1h0m-18 1h0m-10-3h0m7 6h0m-4 17h0"/><path id="qzv" d="M171 784h0m-29 14h0m27 7h0m7 9h0m-19-4h0m-15 11h0m1-1h0m31-4h0m6 9h0m-7-3h0m-2 1h0m0 0h0m-1 4h0m-8-2h0m-1-3h0m-7 1h0m-8 0h0m-6 1h0m-16 0h0m6 5h0m5 4h0m8-3h0m9 3h0m1-4h0m2 2h0m16-3h0m2 3h0m7-3h0m18 7h0m-7-1h0m-18 1h0m-2-1h0m-2 1h0m-3 3h0m-6-1h0m-6-2h0m-6 4h0m-2-1h0m-3 0h0m-2-3h0m-3 4h0m-8-4h0m-3 0h0m0 2h0m-1 0h0m-5 1h0m-7 7h0m16-2h0m14 1h0m3-3h0m5 0h0m1-1h0m5 3h0m1-1h0m6 1h0m0 0h0m1 2h0m0-3h0m2 1h0m1-2h0m-12 8h0m-3-1h0m-2-1h0m-1 2h0m-2-1h0m12 6h0m2 6h0"/><path id="qzw" d="M93 838h0m30 11h0m-14-3h0m-17 5h0m29 4h0m0 3h0m-2 2h0m-9-2h0m-5 9h0m16-2h0m0 6h0m-3 2h0m-5-2h0m0 1h0m-3-2h0m-5 5h0m17 4h0"/><path id="qzx" d="M126 821h0m-27 20h0m5 4h0m7 5h0m-3-3h0m-5-1h0m-4 7h0m2 4h0m14-1h0m0 0h0m0-3h0m14 3h0m-14 5h0m-4 2h0m-1-5h0m12 8h0m6 2h0m0 1h0m-7 6h0m-4-4h0m0 4h0m0-5h0m-15 5h0m13 3h0m2 3h0m8-5h0m6 5h0m-3 5h0m-16 7h0"/><path id="qzy" d="M88 746h0m15 2h0m22-4h0m-6 9h0m-15-1h0m-9 3h0m-14-1h0m-9-3h0m16 6h0m8 4h0m4-1h0m1 0h0m4 6h0m-9 1h0m-2 0h0m0 0h0m-3-3h0m-16-1h0m4 9h0m0 0h0m2 0h0m12 1h0m6-4h0m4 4h0m1-1h0m1-1h0m0-3h0m3 2h0m1 0h0m2 6h0m-1-1h0m-3 3h0m-1 0h0m-3-1h0m0 1h0m0 0h0m-1-4h0m0 4h0m-1-1h0m-3-2h0m-2 4h0m-8-5h0m-3 5h0m-7-3h0m-18 8h0m15-4h0m27 2h0m12 1h0m8 8h0m-11-1h0m0-1h0m-7 2h0m0-1h0m-7-4h0m-2 3h0m-8-3h0m-4 1h0m-2 1h0m-1-1h0m-7 2h0m14 7h0m7-1h0m5-3h0m5 5h0m0-4h0m9 4h0m-4 6h0m-8 0h0m-2-1h0m-3 1h0m-1-2h0m-2-3h0m-1 4h0m0-3h0m-2 1h0m-2-1h0m-8 3h0m0-2h0m-5 2h0m-3 0h0m-1 1h0m17 3h0m2 1h0m1-3h0m0 2h0m5-2h0m1 4h0m4-4h0m-6 10h0m-9-2h0m-9 1h0m-2-2h0m0 0h0m11 7h0m1 0h0m9 0h0m8-2h0m-6 11h0m-11-1h0m-3-3h0m-8 3h0m-15-2h0m25 6h0m21-2h0m15 11h0m-28-4h0m-9 1h0m-3 1h0m-5 0h0m5 8h0m14-1h0m5-3h0m10 2h0m1-1h0m3 0h0m9 0h0m-33 7h0m0 1h0m-1-1h0m-6-2h0m-4 0h0m-8 2h0m4 7h0m9 1h0m18-4h0m1 1h0m15 7h0m-2-2h0m-5 4h0m-42 5h0m38-3h0m-16 5h0"/><path id="qzz" d="M212 758h0m11 7h0m-4-2h0m-34 9h0m49 3h0m-11 1h0m0-1h0m9 8h0m1-3h0m14 9h0m-17-2h0m4 6h0m10 4h0m3-3h0m-75 6h0m80 12h0m-23 2h0m-56 1h0m63 1h0m5 4h0m1-2h0m6 0h0m-3 7h0m-4 1h0m-15-3h0m-35 9h0m6-2h0m18 0h0m12 1h0m16-3h0m4 8h0m-4 1h0m-1 2h0m-62-5h0m59 7h0m14-1h0"/><path id="qbaa" d="M183 818h0m4 21h0m-15-1h0m-14 7h0m16-1h0m11-4h0m-7 6h0m-4 7h0m1 4h0m1-4h0m18 0h0m15 4h0m-9 1h0m-5 5h0m-6 0h0m-4 0h0m0-1h0m-3-2h0m-2-1h0m-3 0h0m0 2h0m-8 5h0m1-2h0m7 4h0m6-4h0m5 3h0m4-2h0m5 1h0m3 1h0m1 1h0m3 1h0m-4 3h0m-8 1h0m-2 1h0m-1-4h0m-1 0h0m-3 0h0m-1 1h0m-4 0h0m-1 3h0m-6-1h0m-5 1h0m-6 5h0m11 0h0m3 1h0m0-1h0m3-3h0m5 4h0m7-4h0m0 1h0m5 1h0m9-2h0m-13 9h0m-14 1h0m-5-1h0m36 3h0m-20 9h0"/><path id="qbab" d="M182 782h0m0 3h0m5 0h0m3 4h0m-1 2h0m-2-4h0m-2 3h0m-1-4h0m-4 1h0m-1 3h0m-2 1h0m0 4h0m4-2h0m0 0h0m-1 7h0m0 0h0m-1 8h0m7-4h0m-5 7h0m-1 3h0m-2-2h0m5 6h0m2-2h0m10 3h0m2 10h0"/><path id="qbac" d="M231 833h0m1 0h0m1 0h0m5 4h0m-3 2h0m-5-4h0m-4-1h0m-4 2h0m-3-1h0m0 2h0m-3 1h0m-7 1h0m-2 0h0m-14-1h0m8 3h0m10 2h0m1-3h0m2 2h0m0-1h0m6 2h0m1-1h0m5-2h0m1 2h0m10-2h0m0 7h0m-6 0h0m-2-1h0m-13 5h0m-7-3h0m-2 1h0m-9-3h0m-2 4h0m-6 4h0m7-1h0m3-1h0m6 1h0m0 0h0m9 0h0m11 2h0m4 3h0m-29 1h0m-8 4h0m7 6h0m7-1h0m18-1h0m-15 5h0m-11 2h0m17 2h0"/><path id="qbad" d="M164 753h0m-30 2h0m-2-4h0m-6 3h0m-18 3h0m0 3h0m34 0h0m14-2h0m-15 6h0m-2 0h0m-4-1h0m-2 4h0m-1 0h0m-6-1h0m-3 1h0m0-1h0m-3-4h0m-1 4h0m-4-1h0m-5-1h0m-1 1h0m-3 0h0m-19 8h0m9-3h0m0 3h0m5-4h0m6 3h0m7-4h0m1 0h0m5 2h0m0 2h0m0-4h0m1 0h0m2 2h0m6 2h0m3 1h0m5-2h0m3 0h0m0 0h0m4 2h0m4-1h0m11 0h0m8 3h0m-5 1h0m-11-2h0m-8 3h0m-4-2h0m-6 4h0m-3-4h0m0 1h0m-7 2h0m-1-1h0m-1-3h0m0 2h0m-1 3h0m-7-5h0m0 1h0m-3-1h0m-1 4h0m-2-4h0m-1 4h0m-1-3h0m0 4h0m-1-3h0m-1-2h0m0 1h0m-3 2h0m-2 2h0m4 1h0m0 1h0m1 4h0m1 0h0m3-5h0m4 5h0m6-4h0m1 0h0m1-1h0m2 0h0m1 4h0m6-1h0m1-2h0m2-1h0m3 3h0m1-3h0m5 3h0m11-1h0m1-1h0m12 3h0m11 1h0m-12 3h0m-11-2h0m-1 5h0m-8-3h0m-2-1h0m0-1h0m-14 3h0m0-1h0m-2-1h0m0 0h0m-2-1h0m-4 0h0m-3 2h0m-4 0h0m-9-2h0m-3 2h0m-1-2h0m-6 8h0m17-2h0m6 4h0m14-2h0m2 2h0m3 1h0m1-1h0m21-2h0m5 1h0m-7 5h0m-10-2h0m-6 3h0m-11 2h0m-15-1h0m-1 1h0m-13-4h0m0 6h0m9 1h0m10 2h0m19 2h0m-7 3h0m-13-3h0m-3 9h0m10-1h0"/><path id="qbae" d="M75 744h0m24 5h0m-9 4h0m-4-1h0m-22 0h0m-31 1h0m17 8h0m6-2h0m5 1h0m6-2h0m4-1h0m1 4h0m16-5h0m9 4h0m-3 7h0m-11 0h0m-7-5h0m-4 3h0m0-1h0m-8 1h0m-7-3h0m-2 4h0m0-1h0m-2 2h0m-7-5h0m-2 3h0m-9 1h0m1 5h0m7 0h0m7 2h0m6 0h0m3-2h0m3 1h0m1-1h0m0 0h0m2 0h0m2 1h0m1-3h0m5-1h0m1 3h0m1-2h0m3 0h0m3-1h0m3 3h0m2 1h0m6-3h0m0 3h0m2 4h0m-8 3h0m0-3h0m-22 1h0m-1-2h0m0 0h0m-3-1h0m-3 5h0m-13-1h0m-6 7h0m2-4h0m9 0h0m4 3h0m8-2h0m3-2h0m4 2h0m3-1h0m2 1h0m0 3h0m7-2h0m12 8h0m-15-4h0m-6 2h0m-5 2h0m-1 0h0m-3 0h0m0-1h0m-4-3h0m-6 0h0m-1 3h0m-1 1h0m-13-2h0m8 3h0m14 0h0m2 0h0m0 1h0m1 0h0m14 3h0m2-2h0m1-1h0m3 0h0m12 7h0m-11-1h0m-27 4h0m-1-2h0m-6-3h0m-5 2h0m-3 1h0m5 6h0m38 0h0m2 3h0m-14 4h0m-7-3h0m-28 7h0m34-2h0m4 2h0m26 6h0m-18 1h0m-5 1h0m-8 1h0m-14-2h0m-1-1h0m4 9h0m12 3h0"/><path id="qbaf" d="M220 833h0m18 1h0m-1 4h0m-3 1h0m-4-5h0m-5 2h0m-1 0h0m0 3h0m-7-4h0m-8 3h0m-6-2h0m-7 3h0m-2 0h0m-6-1h0m-4 5h0m5 0h0m1 1h0m10 1h0m1-2h0m4 1h0m5 1h0m1-3h0m4 3h0m1-4h0m1 2h0m0-2h0m2 0h0m6 3h0m12 2h0m-1 4h0m-2 1h0m-8-4h0m-9 0h0m0 2h0m-1-2h0m0 0h0m0 0h0m-1 1h0m-1 1h0m-1-2h0m0 3h0m-2 1h0m-14-5h0m-4 5h0m0-2h0m-5-1h0m-12 9h0m14-1h0m6-2h0m10 2h0m5-4h0m0 2h0m1-2h0m3 4h0m7 0h0m3-4h0m0 2h0m0 1h0m11-2h0m-11 10h0m-2-5h0m-3 4h0m-11-4h0m-9 1h0m-3 4h0m-9-2h0m-7 1h0m41 7h0"/><path id="qbag" d="M130 833h0m5-1h0m7-4h0m7 7h0m-30 3h0m-3-1h0m2 6h0m14 0h0m1 2h0m2-1h0m5 0h0m10 0h0m-2 7h0m-9-1h0m-1 1h0m-4-3h0m-6 2h0m-4-4h0m-2 5h0m-5 0h0m0-5h0m-1 5h0m-10 6h0m2-2h0m3-2h0m3 2h0m4 2h0m2-1h0m4-3h0m7 4h0m1 0h0m9-2h0m3 2h0m3-2h0m5 1h0m3 4h0m-5 1h0m-1 1h0m-8-3h0m0 2h0m-1 0h0m-2-3h0m-4 5h0m-1-5h0m-6 2h0m-1 2h0m-2-1h0m-1 0h0m-1-1h0m-3-2h0m-2 7h0m1 3h0m2-2h0m2 3h0m2-4h0m0-1h0m2 4h0m2-1h0m3 0h0m0 2h0m1-3h0m2 1h0m2 0h0m2 2h0m2 0h0m1-1h0m5-4h0m3 1h0m4 4h0m1-4h0m24 3h0m-31 4h0m-2-1h0m-1 2h0m-11 0h0m-3-3h0m-5 4h0m-3-1h0m-1-2h0m0-1h0m-1 0h0m-11 5h0m13 6h0m1-5h0m2 3h0m1-1h0m1-2h0m2 5h0m2-2h0m2 0h0m10 2h0m6-5h0m9 7h0m-11 0h0m-3 1h0m-1-2h0m-11 3h0m0-3h0m-7 7h0m16 9h0m-13-2h0m-2 0h0"/><path id="qbah" d="M101 845h0m18 2h0m2 14h0m-7-3h0m-17 4h0m17 7h0m2-3h0m5 2h0m10-4h0m1 1h0m-3 7h0m-3 3h0m-9 0h0m-1-5h0m-3 0h0m-5 6h0m7 2h0m5 0h0m4-1h0m3 10h0"/><path id="qbai" d="M109 755h0m3 2h0m1 3h0m3-1h0m15-1h0m14 3h0m8-2h0m6 3h0m-11 0h0m-8 1h0m-4-1h0m-3 3h0m-3-3h0m-3 4h0m-2-3h0m-2 2h0m-3-1h0m0 0h0m-2 2h0m-2-3h0m-8-1h0m-5 3h0m-11 1h0m10 6h0m0 1h0m1-5h0m1 5h0m4 0h0m0-3h0m3 2h0m2-3h0m2-1h0m0 4h0m6 1h0m0-2h0m1 0h0m6-1h0m12-2h0m12 2h0m-33 8h0m-5-2h0m0 0h0m-11 2h0m-3-4h0m-3 3h0m5 4h0m7 3h0m5-2h0m1 2h0m11-4h0m0 3h0m22 5h0m-18-1h0m-10-1h0m-9 1h0m-2 1h0m-3-1h0m14 14h0"/><path id="qbaj" d="M179 820h0m-10 4h0m-25 5h0m7 3h0m31 2h0m-26 0h0m-24 2h0m5 7h0m1-3h0m12 3h0m6 0h0m9 1h0m1-3h0m-5 7h0m-1-1h0m-6 2h0m-4-2h0m-8 5h0m20 2h0m-7 7h0m-9 7h0"/><path id="qbak" d="M112 843h0m-18 11h0m2 2h0m11-4h0m6 2h0m2 0h0m6 7h0m-3 1h0m-11 0h0m-5 0h0m-4 3h0m1 3h0m15-1h0m10 3h0"/><path id="qbal" d="M195 769h0m-33 14h0m10 2h0m-7 2h0m0 4h0m-2 5h0m5 1h0m0 4h0m-7-3h0m-29 5h0m2 4h0m7 2h0m14-3h0m1 3h0m1-2h0m8 1h0m0-3h0m5-1h0m0 2h0m1 1h0m2-1h0m5 5h0m-7 1h0m-4 2h0m-3 0h0m-5-4h0m-2 1h0m-3 3h0m-12-3h0m-4-1h0m-27 11h0m2 0h0m7-2h0m16 1h0m2-2h0m1 3h0m3-4h0m2 4h0m4-3h0m2 0h0m6 3h0m6 0h0m4-1h0m2-2h0m3-2h0m4 0h0m2 4h0m4-2h0m-9 9h0m-1-4h0m-1 0h0m-7 3h0m-2-4h0m-6 2h0m0 3h0m-4-2h0m-1-2h0m-2 1h0m-1-1h0m-4 1h0m0 3h0m-4-1h0m-5-1h0m-5 1h0m-9 5h0m5 0h0m10-3h0m9 0h0m3 2h0m1-1h0m6 1h0m3-2h0m2 1h0m3 3h0m1 1h0m1 0h0m0 0h0m3-3h0m6-2h0m9 4h0m6 0h0m-9 2h0m0 5h0m-5-5h0m0 4h0m-3-2h0m-13 1h0m0 2h0m-3-5h0m-2 2h0m-6 1h0m-2 2h0m-3-1h0m-4-1h0m-1-2h0m-4-1h0m-1 5h0m-13-2h0m-8-2h0m-4 0h0m9 5h0m18 4h0m9-2h0m1 3h0m4-5h0m1 5h0m1-3h0m0-2h0m0 5h0m2-5h0m3 2h0m15-2h0m2 1h0m-17 5h0m-6 3h0m-14-3h0m-1 0h0m-9 3h0m21 4h0m7 1h0m1 2h0"/><path id="qbam" d="M98 837h0m18 13h0m-24 1h0m5 4h0m3-3h0m7 2h0m7 3h0m7 2h0m-5-1h0m4 34h0"/><path id="qban" d="M217 752h0m21 9h0m-1 3h0m-4-1h0m-5 0h0m-32-1h0m-19 3h0m5 5h0m9 1h0m17-1h0m7 2h0m22 0h0m7 3h0m-63 8h0m45-1h0m8 3h0m12 0h0m4 6h0m-6 0h0m-70 5h0m63 0h0m19 1h0m-17 2h0m-2-1h0m-3 4h0m-1-1h0m-3 1h0m5 3h0m6 1h0m3 1h0m13 7h0m-20-3h0m-4 3h0m-53 7h0m60 0h0m10 2h0m-2 1h0m-18 0h0m-50 4h0m4 2h0m4 1h0m0-3h0m10 4h0m17 0h0m11-3h0m1 0h0m11-1h0m-43 8h0m-7-1h0m-29 5h0"/><path id="qbao" d="M164 788h0m-12-2h0m14 16h0m-9 1h0m16 8h0m-8 4h0m-36 5h0m12-3h0m8 0h0m14 3h0m8 1h0m6-5h0m5 10h0m-2-2h0m-1 2h0m-7-4h0m-3 0h0m-1 0h0m0 4h0m-2-2h0m-4 1h0m-29-3h0m-16 3h0m23 7h0m8-3h0m2 2h0m4-3h0m2 4h0m4 0h0m6-1h0m2-1h0m3-2h0m2 0h0m13 3h0m-2 5h0m-7-1h0m-4 1h0m-2 1h0m-7 2h0m-2-3h0m0 3h0m-3-5h0m-2 4h0m-5-4h0m0 1h0m-4 1h0m0 2h0m-2 0h0m-2-3h0m-4 2h0m-7-2h0m-6 3h0m9 6h0m5-4h0m0 0h0m7 4h0m7 0h0m0-2h0m1 1h0m1 1h0m3-2h0m4-2h0m1 0h0m4 3h0m1 1h0m6-3h0m-3 7h0m-4-1h0m-8 0h0m-1 1h0m-3 3h0m0-5h0m-1 3h0m-1 1h0m-2-3h0m-7 2h0m-1 4h0m4 1h0"/><path id="qbap" d="M195 849h0m-4 2h0m-2 4h0m3 0h0m4 2h0m7-5h0m-2 6h0m-2 3h0m-10 0h0m-2-2h0m-2-1h0m-1 5h0m-3-1h0m-7 5h0m1-3h0m1 2h0m12 0h0m6-2h0m3 2h0m15 0h0m-8 6h0m-5 0h0m-3-2h0m-1 1h0m-13 3h0m15 6h0m-15 3h0"/><path id="qbaq" d="M190 824h0m-23 11h0m-1-1h0m0 3h0m4 7h0m2-3h0m8 3h0m-7 4h0m0 3h0m-6-3h0m-4 2h0m3 5h0m1-3h0m6 0h0m1 0h0m2 5h0m2-1h0m0 1h0m9-4h0m1 2h0m2-3h0m6 6h0m-1 2h0m-2 2h0m-3 1h0m-9-3h0m-1 2h0m-3-3h0m-1-1h0m0 0h0m-2 3h0m0 2h0m0-5h0m-8 4h0m-5-3h0m-1 1h0m-2 1h0m8 4h0m4 2h0m6-1h0m0 1h0m2-3h0m2 0h0m1 3h0m1 1h0m1-4h0m2 4h0m3-2h0m2-1h0m1 1h0m2 1h0m1 1h0m0-4h0m2 1h0m1 2h0m8 4h0m-4 1h0m-4 3h0m-7 0h0m0-2h0m-3-1h0m-5-2h0m0 2h0m0-1h0m-2 4h0m-2 0h0m-1-3h0m-1 1h0m-1-1h0m-4-1h0m-8 1h0m-4 3h0m-1-1h0m-4-3h0m2 7h0m11 1h0m4-3h0m1 1h0m1 4h0m4 0h0m3-5h0m0 3h0m1 1h0m3-2h0m2-2h0m12 0h0m-24 11h0m-5-5h0m-10 10h0m5 0h0m5 0h0m0-4h0m1 1h0m5 3h0m4-2h0m1 3h0m6 2h0m-6 2h0m-13-2h0"/><path id="qbar" d="M199 845h0m5-2h0m0 4h0m-15 1h0m-8-1h0m-1 3h0m-2 7h0m7 0h0m6 0h0m11-1h0m11-1h0m-7 8h0m-2-1h0m-9-2h0m-4-1h0m-2 2h0m-1-1h0m-4 1h0m-1-3h0m-9 0h0m-1 6h0m8 2h0m4 2h0m0-4h0m2 5h0m1-3h0m3 0h0m11 1h0m3-1h0m-2 7h0m-6-3h0m-10 5h0m-22 0h0m26 3h0m3-2h0m2 2h0m4 7h0m-3 1h0m-1 1h0m-17 1h0m13 3h0m5-1h0m-12 10h0"/><path id="qbas" d="M120 741h0m-3 13h0m-3 1h0m-11-2h0m7 7h0m2-4h0m24 0h0m-8 9h0m-17-1h0m0 3h0m-8-1h0m-2-3h0m-1 0h0m15 7h0m1-1h0m0-1h0m3 2h0m7 2h0m10 0h0m11 1h0m-6 4h0m-29 0h0m-1 0h0m-4-3h0m-33 5h0m54 16h0"/><path id="qbat" d="M145 755h0m-18-2h0m-22-2h0m-8 9h0m3 0h0m14-3h0m7 1h0m40-2h0m-12 8h0m-9 2h0m-7-1h0m0-2h0m0 4h0m-2-2h0m-10 2h0m-7 0h0m0-5h0m-2 0h0m-1 3h0m-3-2h0m-2 0h0m-5 4h0m-2 3h0m5 1h0m0 1h0m6-1h0m3-1h0m7 3h0m1-2h0m6-3h0m20 4h0m-23 7h0m-16 0h0m-2-5h0m-5 0h0m-9 0h0m8 8h0m1 1h0m2-2h0m2 4h0m2-5h0m10 3h0m0 2h0m4-2h0m6-3h0m1 2h0m7 1h0m15 1h0m2 5h0m-45-2h0m-2 1h0m7 5h0m-12 8h0m-2 4h0"/><path id="qbau" d="M147 827h0m-6 0h0m-4 0h0m19 10h0m-43-2h0m-6 8h0m40 0h0m3 2h0m0 0h0m6-5h0m6 0h0m2 10h0m-8-2h0m-1 1h0m-1 1h0m0 0h0m-5 1h0m-5-5h0m-15 2h0m-16 3h0m7 6h0m1-4h0m4 0h0m0 3h0m8-1h0m2 0h0m6 1h0m0 1h0m3 0h0m4-4h0m2 3h0m3-2h0m2-2h0m6 3h0m-2 6h0m-1-2h0m-4 2h0m-2-3h0m-1 3h0m-1-2h0m-1 4h0m-2-5h0m-3 1h0m-1 2h0m-2 2h0m-17-4h0m-3-1h0m-8 9h0m3-2h0m4 1h0m6 2h0m2-1h0m7-2h0m2 0h0m7-1h0m3 4h0m9 1h0m13 4h0m-7-2h0m-7-1h0m-4 5h0m-5-5h0m0 5h0m0 0h0m-4-4h0m-2 1h0m-12 3h0m-2-5h0m-4 7h0m3 1h0m9-2h0m1 4h0m5-3h0m1 1h0m3 2h0m1-3h0m1 3h0m2 0h0m0-4h0m0 4h0m5-2h0m1 1h0m1-2h0m8 4h0m7 0h0m-18 5h0m-2-1h0m-2-2h0m-2 2h0m-3 2h0m-5-5h0m-8 0h0m13 7h0m1 2h0m9-2h0m15 2h0m-24 3h0"/><path id="qbav" d="M139 767h0m-29 3h0m15 2h0m29-1h0m14 0h0m1 8h0m-9-5h0m0 2h0m-6-1h0m-20-1h0m0 1h0m-2 3h0m5 2h0m0 2h0m29 3h0m1-4h0m5 4h0m4 6h0m-4-2h0m-2-2h0m0-1h0m-2 2h0m-14 2h0m-10 1h0m-11-4h0m-4-1h0m-1 3h0m-15 1h0m-1 1h0m13 2h0m5 4h0m5 0h0m2-1h0m8-3h0m0 0h0m4-1h0m0 4h0m0-1h0m4-1h0m1 2h0m0 0h0m0-2h0m2-1h0m1 1h0m2 2h0m2-1h0m3-3h0m3 4h0m3-1h0m0-2h0m3 4h0m3-4h0m-2 5h0m-1 2h0m-4-2h0m0 2h0m-1 0h0m0 1h0m-1-2h0m0-1h0m0 4h0m-2-4h0m-1 4h0m-2 1h0m-10-3h0m-2 0h0m-1 3h0m-6-5h0m-4 0h0m0 3h0m-2-3h0m-2 3h0m0-2h0m-1 1h0m-6 2h0m-3 1h0m-7-2h0m-9-2h0m0 1h0m-13 8h0m16 1h0m2-1h0m0 1h0m1-1h0m3 0h0m1-4h0m3 5h0m4-2h0m0 1h0m7-4h0m1 3h0m6 0h0m1-3h0m0 4h0m1 0h0m3-4h0m2 2h0m0-2h0m1 0h0m1 1h0m1 0h0m0 4h0m4-3h0m0-1h0m1 1h0m1-1h0m0 2h0m0 1h0m2-3h0m2 2h0m1-2h0m4 1h0m3 0h0m2-2h0m3 2h0m1 0h0m1 1h0m-1 5h0m-8-2h0m0 0h0m-1 0h0m0 3h0m-2 1h0m0-3h0m-4 2h0m-6 2h0m0 0h0m-1-4h0m-1 1h0m-1-1h0m-2 2h0m-3 0h0m-4 1h0m-1-4h0m-2 1h0m0 3h0m-8 0h0m0-1h0m-3-1h0m-2-2h0m0 3h0m-2-1h0m-4 2h0m-1 0h0m-1 0h0m-3-2h0m-1-1h0m-12-1h0m0 6h0m3 1h0m13 4h0m3-2h0m9-3h0m1 2h0m15-2h0m1 4h0m2 1h0m4-4h0m0 2h0m4-3h0m2 2h0m1 0h0m2 1h0m1 0h0m8 2h0m9 1h0m-9 1h0m-7 2h0m-2-3h0m-6 4h0m-2-2h0m-3-2h0m-3 0h0m-9 3h0m-6-2h0m-9 2h0m-13-2h0m-11 0h0m16 9h0m4-3h0m1 3h0m1-1h0m7-1h0m4-2h0m0 1h0m31 4h0m9-5h0m-8 10h0m-33-3h0m-2-1h0m-3 3h0m-2-3h0m-5 0h0m4 7h0m3 3h0m9-2h0m2-2h0m26 5h0"/><path id="qbaw" d="M175 801h0m-17 1h0m8 5h0m2-2h0m-2 10h0m-1-1h0m-3-1h0m-29 4h0m3 3h0m20 1h0m2 0h0m1-2h0m12-3h0m2 4h0m1-3h0m2 5h0m0 3h0m-5 0h0m-1 1h0m-2-3h0m-1-1h0m-1 2h0m0 3h0m-4-4h0m-1 4h0m-15-3h0m-6 1h0m-30 7h0m33 1h0m3-2h0m6-3h0m0 3h0m4 0h0m10 0h0m6 0h0m1 1h0m1-2h0m10 6h0m-3 0h0m0-2h0m-2 3h0m0-3h0m-9 0h0m-11 0h0m-5 3h0m-3 2h0m-1-1h0m-14 3h0m4 1h0m7 3h0m1-1h0m2 1h0m2-2h0m2 0h0m7-1h0m3 2h0m2-2h0m0-2h0m4 3h0m1 1h0m0-4h0m-9 7h0m-22-1h0m-25 6h0m31 5h0m24 2h0m-28 2h0"/><path id="qbax" d="M223 835h0m-2 3h0m-16-1h0m-5 2h0m-4-1h0m-4 4h0m1 0h0m3 2h0m11-4h0m0 2h0m8 1h0m13 2h0m3-4h0m0 2h0m3 2h0m-17 5h0m-14-2h0m-10 1h0m20 4h0m19 3h0m-17 7h0m-26-1h0m8 7h0"/><path id="qbay" d="M69 755h0m-15-4h0m-7 1h0m0 0h0m-7 9h0m5-3h0m5 3h0m6 0h0m20 2h0m-21 2h0m-2 1h0m-4-2h0m0 0h0m0-2h0m-8 4h0m-1 5h0m32 7h0m-6 0h0m-1-1h0m-11-3h0m-10 10h0m1-4h0m16 3h0m-23 13h0m1-4h0m0 1h0m6 3h0m14 3h0m-15 4h0m-2-1h0m-8-3h0m26 9h0m8 1h0m-4 1h0m-7 5h0m5 2h0"/><path id="qbaz" d="M114 743h0m2 6h0m28 1h0m-12 1h0m-22 2h0m-9 6h0m7-1h0m1 1h0m1 1h0m18 0h0m4-3h0m2 4h0m5 4h0m-5 1h0m-1 1h0m-4-5h0m-1 0h0m-3 5h0m-1-3h0m-6 3h0m-1 0h0m-7-1h0m0-3h0m-18 9h0m2-3h0m2 3h0m6-2h0m1-1h0m2 2h0m9 2h0m5-2h0m20 2h0m8-1h0m0-3h0m-6 9h0m-8 0h0m-6-3h0m-6 0h0m-4 1h0m-2-1h0m-3 1h0m-2 1h0m-20 7h0m7 1h0m5-1h0m1-3h0m8-1h0m10 2h0m2-2h0m2 3h0m3-1h0m1-2h0m-5 6h0m-12 3h0m-14 2h0m15 1h0"/><path id="qbba" d="M223 761h0m-4 2h0m-28-1h0m-19 3h0m12 7h0m13-1h0m11-3h0m13 0h0m0 4h0m2-4h0m6 1h0m8 4h0m3 6h0m-7-1h0m-1 1h0m-8-4h0m-39 1h0m41 8h0m19 5h0m-5 0h0m-2-1h0m-2-1h0m7 6h0m-1 5h0m-8 0h0m-4 10h0m22-3h0m9 7h0m-10 0h0m-2 0h0m-21 6h0m5-2h0m8 2h0m1 0h0m0 0h0m2-1h0m8-1h0m-11 8h0m-5 3h0m-13-3h0m-2 1h0m8 5h0m10 0h0m14-2h0m-58 7h0m-9 0h0m52 10h0"/><path id="qbbb" d="M232 835h0m-5 0h0m-3 0h0m-32 3h0m7 3h0m6 2h0m7 0h0m12 2h0m3-3h0m-14 4h0m-5 8h0m18 0h0m1 1h0m4 2h0m1-3h0m-4 4h0"/><path id="qbbc" d="M189 777h0m-9 7h0m7 2h0m-3 2h0m-2 0h0m-1 1h0m-1-3h0m0 3h0m-1 2h0m-1 6h0m3-1h0m1-2h0m9 0h0m4 9h0m-8-5h0m-5 3h0m-1-2h0m0-1h0m-4 1h0m0 4h0m-1 6h0m2-3h0m3 8h0m-3-1h0m11 4h0m0 2h0"/><path id="qbbd" d="M193 837h0m-3 2h0m-11 2h0m53 1h0m-17 4h0m-10 4h0m4 6h0m20 0h0m-16 4h0"/><path id="qbbe" d="M95 790h0m14 20h0m2 33h0m14 7h0m-45-4h0m37 10h0m10 4h0m-15-2h0m-4 3h0m-7 0h0m-2 0h0m3 3h0m27 0h0m-17 7h0m-11 0h0"/><path id="qbbf" d="M192 784h0m1 3h0m-4 2h0m-7-1h0m-1 1h0m0-3h0m-1 4h0m-2 3h0m2-1h0m0 0h0m1 5h0m1-3h0m0-2h0m1 3h0m0-2h0m0 2h0m0 5h0m-2-1h0m-4 4h0m-1 0h0m0-1h0m3 7h0m0 0h0m5 0h0m0 0h0m1 3h0m-1 2h0m-1-2h0m-3-1h0m6 7h0"/><path id="qbbg" d="M109 880h0m19 3h0"/><path id="qbbh" d="M212 829h0m-19 5h0m0 7h0m15 5h0m-11 0h0m-5 10h0m29-3h0m-40 6h0"/><path id="qbbi" d="M171 814h0m-43 4h0m50 7h0m-45 2h0m-10 1h0m15 5h0m24-1h0m1-1h0m4-3h0m2 3h0m1-1h0m7-1h0m-9 6h0m-1 0h0m-4 2h0m-6-2h0m-2 3h0m-2 1h0m-1 0h0m-6-2h0m-9-3h0m-24 2h0m46 6h0m-8 5h0m-2 10h0m18 3h0"/><path id="qbbj" d="M167 818h0m-33 8h0m-8 7h0m34 0h0m2-2h0m4 0h0m13 0h0m-7 4h0m-2 4h0m-34 6h0m2-4h0m9 4h0m12 0h0m1-4h0m10-1h0m4 4h0m-8 7h0m0 0h0m-2 0h0m-7-3h0m-20 9h0m17 1h0"/><path id="qbbk" d="M202 761h0m14-2h0m12 17h0m-5-1h0m-2 0h0m6 7h0m18 7h0m-11 5h0m26 8h0m-12-1h0m-14 1h0m-1 5h0m4-1h0m7 6h0m-5 3h0m-3-2h0m-54 8h0m58-2h0m-6 7h0m-3-1h0m-8 1h0m-42 1h0m0 1h0m3 1h0m6 4h0m8 0h0m14-2h0m7 2h0m4-3h0m1 0h0m6-1h0m-3 7h0m-3-2h0m-5 4h0m-5-3h0m-12 2h0m-8-2h0m-4 7h0m35-1h0m6 1h0m36 3h0m-57 3h0m-4-2h0m-2 0h0m-11 4h0m27 7h0m1-3h0m-1 6h0"/><path id="qbbl" d="M78 749h0m-42 11h0m5 1h0m7-1h0m4-1h0m16 6h0m-8 0h0m-23 2h0m0-5h0m22 14h0m-3-2h0m0 2h0m-4-1h0m-7 1h0m26 14h0m-2-1h0m-10 2h0m-6-2h0m-12 0h0m-11 8h0m6 0h0m11-5h0m4 0h0m6 4h0m4 1h0m6 2h0m-2 4h0m-15-2h0m-12 1h0m20 5h0m16 1h0m-22 6h0m-22 7h0m2-2h0"/><path id="qbbm" d="M203 769h0m19-1h0m12 4h0m11 2h0m-10 5h0m-13-5h0m12 9h0m12-3h0m3 6h0m-4 11h0m-71 10h0m64-3h0m4 2h0m10 5h0m-15 1h0m-5 4h0m12 2h0m8 8h0m-20 0h0m-44 2h0m13 5h0m17-3h0m1 3h0m4-2h0m2 2h0m4 0h0m7-5h0m1 6h0m-49 4h0m0-2h0m11 9h0m13-2h0m1-2h0m11 3h0m5-1h0m1 0h0m-33 9h0"/><path id="qbbn" d="M206 754h0m-23 10h0m6 7h0m45 0h0m8 7h0m-67-3h0m76 16h0m-7-2h0m-11 8h0m10-2h0m10 3h0m-4 4h0m-4-1h0m-1-2h0m-14 3h0m15 5h0m4 5h0m-4 2h0m-3-1h0m-13-1h0m0 8h0m8 1h0m7 4h0m-3-1h0m-12-1h0m-8 4h0m-36 5h0m2-4h0m18 3h0m43-1h0m2 1h0m-9 6h0m-20-3h0m-2 0h0m-22 3h0m-10 2h0m-1-4h0m-2-1h0m7 9h0m2 0h0m35-3h0m-23 7h0m31 7h0"/><path id="qbbo" d="M160 829h0m24 10h0m-44 1h0m4 1h0m10 1h0m3 0h0m8 1h0m20 5h0m-55 0h0m19 5h0m19 3h0"/><path id="qbbp" d="M182 779h0m1 3h0m8 6h0m-9 2h0m-2 3h0m0 2h0m4 0h0m0-3h0m0 1h0m3 0h0m5 0h0m-3 8h0m-10 0h0m0 1h0m-1-4h0m-1 5h0m0-3h0m-1 2h0m0 4h0m0-2h0m4 2h0m1 0h0m0 2h0m5-2h0m3 7h0m-1-3h0m-1 2h0m-2-1h0m-1 4h0m-2-5h0m-3 5h0m3 2h0m7 2h0"/><path id="qbbq" d="M92 829h0m28 6h0m7 14h0m-13 2h0m-2 3h0m1 2h0m1-2h0m2 2h0m2 0h0m0-2h0m5 1h0m-23 4h0m8 10h0m9-3h0m11 0h0m18 3h0m-26 4h0m-1 9h0m-5 6h0"/><path id="qbbr" d="M186 846h0m-15 3h0m22 3h0m1 1h0m4 3h0m6-4h0m-4 7h0m-3 1h0m-18-2h0m0 2h0m16 4h0m2 3h0m0 1h0m3-3h0m7 1h0m2 9h0m-15-2h0m0 8h0m0-4h0m7 2h0m8-1h0m1-1h0m-25 6h0m-10 1h0m32 6h0"/><path id="qbbs" d="M102 755h0m-8-2h0m0 6h0m4-2h0m18-1h0m2 5h0m3-1h0m10 1h0m11 1h0m-12 0h0m0 0h0m-9 0h0m-10 4h0m-2-1h0m-10 0h0m-1 1h0m-1-1h0m1 3h0m2 5h0m25-3h0m-6 6h0m-20 1h0m27 11h0m-16 0h0"/><path id="qbbt" d="M159 842h0m-17 4h0"/><path id="qbbu" d="M204 778h0m-5 6h0m30 3h0m12 7h0m7 6h0m-38 1h0m14 12h0m20 8h0m-43 6h0"/><path id="qbbv" d="M198 858h0m-21 2h0m28 4h0"/><path id="qbbw" d="M177 785h0m14-5h0m-12 7h0m0 4h0m-2 3h0m0-2h0m2 2h0m1 4h0m-2 5h0m-2-1h0m-1-1h0m1 3h0m2 1h0m2 3h0m0 1h0m2 0h0m1-1h0m9 7h0m-6-2h0m-1 2h0m-4-2h0m4 5h0"/><path id="qbbx" d="M221 859h0m-7 10h0"/><path id="qbby" d="M207 842h0m-12 11h0m0 2h0m23 3h0m-5 5h0m-19-2h0m-5 5h0m17 1h0m4 12h0"/><path id="qbbz" d="M228 836h0m-28 10h0m4 28h0"/><path id="qbca" d="M184 803h0"/><path id="qbcb" d="M64 741h0m-5 18h0m9-2h0m-32 14h0m0-2h0m5 4h0m17-3h0m7 3h0m1 4h0m-3-2h0m-3 3h0m-1 1h0m-6-2h0m-8 1h0m-37 1h0m34 6h0m3-2h0m12 2h0m7-1h0m6-3h0m1 6h0m-29 10h0m20 0h0m18 2h0m-15 2h0m-33 0h0m18 8h0m14 1h0m-13 1h0"/><path id="qbcc" d="M103 806h0m16 71h0"/><path id="qbcd" d="M196 764h0m45 16h0m-66 15h0m21 2h0m19 2h0m-7 0h0m8 29h0m-13 6h0"/><path id="qbce" d="M235 771h0m-48 8h0m51 12h0m-43 29h0"/><path id="qbcf" d="M99 837h0m8 5h0m3-2h0m-5 8h0m-1 5h0m21 1h0m1 4h0m-10 2h0m-18 4h0m9 9h0"/><path id="qbcg" d="M117 807h0m-7 5h0m-12 5h0m-5 5h0m7 10h0m14 30h0m-1-4h0m24 12h0m-13 1h0m-29 2h0m42 4h0"/><path id="qbch" d="M178 782h0m5 7h0m-3 2h0m-3-5h0m1 10h0m2-1h0m1 2h0m5-1h0m-6 3h0m-6 5h0m2 4h0m2-2h0m0 2h0m0-3h0m0 3h0m4-2h0m1-1h0m1 3h0m4-2h0m4 4h0m-2 2h0m-6 4h0"/><path id="qbci" d="M110 844h0m-4 13h0m20 1h0m-7 2h0m-2 2h0m-15 3h0"/><path id="qbcj" d="M208 859h0m-7 2h0m-27 3h0m25 2h0m2 6h0m-4-2h0m24 8h0m1 4h0m-30 18h0"/><path id="qbck" d="M231 836h0m-6 0h0m2 22h0"/><path id="qbcl" d="M153 845h0m20-1h0"/><path id="qbcm" d="M223 833h0m6 1h0"/><path id="qbcn" d="M202 863h0m-11-2h0m-6 0h0m0 3h0m13 2h0m32 2h0m-24 3h0m-2 3h0m-14-3h0m4 9h0m5-4h0m-10 8h0m4 5h0"/><path id="qbco" d="M193 762h0m-7 15h0m-5 6h0m25 17h0m-4-2h0m32 12h0m-40 10h0m42 3h0m-11 7h0"/><path id="qbcp" d="M199 857h0m13 4h0m-2 3h0m13 0h0m-30 7h0"/><path id="qbcq" d="M180 823h0m-18 13h0m-18 4h0m9 5h0m11-3h0m4-1h0m-9 6h0m18 10h0"/><path id="qbcr" d="M163 844h0m-23 6h0"/><path id="qbcs" d="M187 846h0m11 10h0m-2 15h0"/><path id="qbct" d="M226 835h0m-1 11h0"/><path id="qbcu" d="M192 823h0"/><path id="qbcv" d="M174 839h0m-27 15h0m18 15h0"/><path id="qbcw" d="M180 799h0"/><path id="trj" d="M86.9,749.1 84.5,766 87.6,778.3 78.1,778.3 69.7,786.4 86.5,794 105.9,785.6M110.6,759.3 98.6,761.9 101.2,775 105.9,785.6 116,790.8 126.6,794.3 137.1,791.2 145.8,790.8 151.1,796 155.8,809.2 152.9,819.4 159.5,827.4 154.4,834.7 163.1,850.8 159.6,858.8 167.5,874.5 184.5,851.8 184.3,851.5 189.4,858.1 196.7,862.5 204,857.4 204.7,844.2 209.9,841.3 220.8,841.3 218.6,851.5 225.9,853 234.7,846.4 229.6,818 204.7,820.9 206.2,810.7 199.6,806.3M145.8,832.9 154.4,834.7" stroke="#505050" stroke-width="1.4" stroke-linejoin="round" stroke-linecap="round"/></defs>
<text stroke="#000" stroke-width="0.35" x="-0.7" y="11.6" font-size="14.5" text-anchor="start" font-weight="bold" fill="#000">a</text><text stroke="#000" stroke-width="0.35" x="341.7" y="11.3" font-size="14.5" text-anchor="start" font-weight="bold" fill="#000">b</text><text stroke="#000" stroke-width="0.35" x="-0.5" y="211.6" font-size="14.5" text-anchor="start" font-weight="bold" fill="#000">c</text><text stroke="#000" stroke-width="0.35" x="341.5" y="211.3" font-size="14.5" text-anchor="start" font-weight="bold" fill="#000">d</text><text stroke="#000" stroke-width="0.35" x="177.4" y="481.1" font-size="14.5" text-anchor="start" font-weight="bold" fill="#000">e</text><text stroke="#000" stroke-width="0.35" x="-0.9" y="679" font-size="14.5" text-anchor="start" font-weight="bold" fill="#000">f</text><text stroke="#000" stroke-width="0.35" x="373.2" y="678.7" font-size="14.5" text-anchor="start" font-weight="bold" fill="#000">g</text><rect x="41.6" y="206.4" width="245.20000000000002" height="217.6" stroke="#333" stroke-width="0.8"/><path d="M37.800000000000004 235.6H41.6" stroke="#333" stroke-width="0.8"/><text x="33.400000000000006" y="238.5" font-size="8.2" text-anchor="end" font-weight="normal" fill="#231f20" textLength="15.4" lengthAdjust="spacingAndGlyphs">0.02</text><path d="M37.800000000000004 278.2H41.6" stroke="#333" stroke-width="0.8"/><text x="33.400000000000006" y="281.1" font-size="8.2" text-anchor="end" font-weight="normal" fill="#231f20" textLength="14.8" lengthAdjust="spacingAndGlyphs">0.01</text><path d="M37.800000000000004 320.8H41.6" stroke="#333" stroke-width="0.8"/><text x="33.400000000000006" y="323.7" font-size="8.2" text-anchor="end" font-weight="normal" fill="#231f20">0</text><path d="M37.800000000000004 363.4H41.6" stroke="#333" stroke-width="0.8"/><text x="33.400000000000006" y="366.3" font-size="8.2" text-anchor="end" font-weight="normal" fill="#231f20" textLength="19.6" lengthAdjust="spacingAndGlyphs">−0.01</text><path d="M37.800000000000004 406.0H41.6" stroke="#333" stroke-width="0.8"/><text x="33.400000000000006" y="408.9" font-size="8.2" text-anchor="end" font-weight="normal" fill="#231f20" textLength="20" lengthAdjust="spacingAndGlyphs">−0.02</text><path d="M48.5 424.0V427.8" stroke="#333" stroke-width="0.8"/><text x="48.5" y="438.6" font-size="8.2" text-anchor="middle" font-weight="normal" fill="#231f20" textLength="20" lengthAdjust="spacingAndGlyphs">−0.03</text><path d="M108.1 424.0V427.8" stroke="#333" stroke-width="0.8"/><text x="108.1" y="438.6" font-size="8.2" text-anchor="middle" font-weight="normal" fill="#231f20" textLength="20" lengthAdjust="spacingAndGlyphs">−0.02</text><path d="M167.7 424.0V427.8" stroke="#333" stroke-width="0.8"/><text x="167.7" y="438.6" font-size="8.2" text-anchor="middle" font-weight="normal" fill="#231f20" textLength="19.6" lengthAdjust="spacingAndGlyphs">−0.01</text><path d="M227.3 424.0V427.8" stroke="#333" stroke-width="0.8"/><text x="227.3" y="438.6" font-size="8.2" text-anchor="middle" font-weight="normal" fill="#231f20">0</text><path d="M286.9 424.0V427.8" stroke="#333" stroke-width="0.8"/><text x="286.9" y="438.6" font-size="8.2" text-anchor="middle" font-weight="normal" fill="#231f20" textLength="14.8" lengthAdjust="spacingAndGlyphs">0.01</text><rect x="382.6" y="206.4" width="245.19999999999993" height="217.6" stroke="#333" stroke-width="0.8"/><path d="M378.8 235.6H382.6" stroke="#333" stroke-width="0.8"/><text x="374.40000000000003" y="238.5" font-size="8.2" text-anchor="end" font-weight="normal" fill="#231f20" textLength="15.4" lengthAdjust="spacingAndGlyphs">0.02</text><path d="M378.8 278.2H382.6" stroke="#333" stroke-width="0.8"/><text x="374.40000000000003" y="281.1" font-size="8.2" text-anchor="end" font-weight="normal" fill="#231f20" textLength="14.8" lengthAdjust="spacingAndGlyphs">0.01</text><path d="M378.8 320.8H382.6" stroke="#333" stroke-width="0.8"/><text x="374.40000000000003" y="323.7" font-size="8.2" text-anchor="end" font-weight="normal" fill="#231f20">0</text><path d="M378.8 363.4H382.6" stroke="#333" stroke-width="0.8"/><text x="374.40000000000003" y="366.3" font-size="8.2" text-anchor="end" font-weight="normal" fill="#231f20" textLength="19.6" lengthAdjust="spacingAndGlyphs">−0.01</text><path d="M378.8 406.0H382.6" stroke="#333" stroke-width="0.8"/><text x="374.40000000000003" y="408.9" font-size="8.2" text-anchor="end" font-weight="normal" fill="#231f20" textLength="20" lengthAdjust="spacingAndGlyphs">−0.02</text><path d="M389.5 424.0V427.8" stroke="#333" stroke-width="0.8"/><text x="389.5" y="438.6" font-size="8.2" text-anchor="middle" font-weight="normal" fill="#231f20" textLength="20" lengthAdjust="spacingAndGlyphs">−0.03</text><path d="M449.1 424.0V427.8" stroke="#333" stroke-width="0.8"/><text x="449.1" y="438.6" font-size="8.2" text-anchor="middle" font-weight="normal" fill="#231f20" textLength="20" lengthAdjust="spacingAndGlyphs">−0.02</text><path d="M508.7 424.0V427.8" stroke="#333" stroke-width="0.8"/><text x="508.7" y="438.6" font-size="8.2" text-anchor="middle" font-weight="normal" fill="#231f20" textLength="19.6" lengthAdjust="spacingAndGlyphs">−0.01</text><path d="M568.3 424.0V427.8" stroke="#333" stroke-width="0.8"/><text x="568.3" y="438.6" font-size="8.2" text-anchor="middle" font-weight="normal" fill="#231f20">0</text><path d="M627.9 424.0V427.8" stroke="#333" stroke-width="0.8"/><text x="627.9" y="438.6" font-size="8.2" text-anchor="middle" font-weight="normal" fill="#231f20" textLength="14.8" lengthAdjust="spacingAndGlyphs">0.01</text><text x="164.4" y="453.4" font-size="9.4" text-anchor="middle" font-weight="normal" fill="#231f20" textLength="20" lengthAdjust="spacingAndGlyphs">DC_1</text><text x="505.0" y="453.4" font-size="9.4" text-anchor="middle" font-weight="normal" fill="#231f20" textLength="16.6" lengthAdjust="spacingAndGlyphs">DC1</text><text x="8.6" y="315.9" font-size="9.6" text-anchor="middle" font-weight="normal" fill="#231f20" textLength="20.2" lengthAdjust="spacingAndGlyphs" transform="rotate(-90 8.6 315.9)">DC_2</text><text x="349.6" y="315.6" font-size="9.6" text-anchor="middle" font-weight="normal" fill="#231f20" textLength="16.8" lengthAdjust="spacingAndGlyphs" transform="rotate(-90 349.6 315.6)">DC2</text><circle cx="293.8" cy="296.1" r="2.5" fill="#00b30c"/><text x="299.9" y="299.1" font-size="8.6" text-anchor="start" font-weight="normal" fill="#231f20" textLength="18.2" lengthAdjust="spacingAndGlyphs">NK1A</text><circle cx="293.8" cy="306.5" r="2.5" fill="#00bfc4"/><text x="299.9" y="309.5" font-size="8.6" text-anchor="start" font-weight="normal" fill="#231f20" textLength="18" lengthAdjust="spacingAndGlyphs">NK1B</text><circle cx="293.8" cy="316.9" r="2.5" fill="#f8766d"/><text x="299.9" y="319.9" font-size="8.6" text-anchor="start" font-weight="normal" fill="#231f20" textLength="18.5" lengthAdjust="spacingAndGlyphs">NK1C</text><circle cx="293.8" cy="327.4" r="2.5" fill="#8494ff"/><text x="299.9" y="330.4" font-size="8.6" text-anchor="start" font-weight="normal" fill="#231f20" textLength="19.1" lengthAdjust="spacingAndGlyphs">NKint</text><circle cx="293.8" cy="337.8" r="2.5" fill="#f564e3"/><text x="299.9" y="340.8" font-size="8.6" text-anchor="start" font-weight="normal" fill="#231f20" textLength="14.5" lengthAdjust="spacingAndGlyphs">NK2</text><text x="634.9" y="285.8" font-size="8.8" text-anchor="start" font-weight="normal" fill="#231f20" textLength="51.5" lengthAdjust="spacingAndGlyphs">Pseudotime</text><defs><linearGradient id="gpl" x1="0" y1="1" x2="0" y2="0"><stop offset="0.0" stop-color="#0d0887"/><stop offset="0.1" stop-color="#41049d"/><stop offset="0.2" stop-color="#6a00a8"/><stop offset="0.3" stop-color="#8f0da4"/><stop offset="0.4" stop-color="#b12a90"/><stop offset="0.5" stop-color="#cc4778"/><stop offset="0.6" stop-color="#e16462"/><stop offset="0.7" stop-color="#f2844b"/><stop offset="0.8" stop-color="#fca636"/><stop offset="0.9" stop-color="#fcce25"/><stop offset="1.0" stop-color="#f0f921"/></linearGradient></defs><rect x="637.3" y="293.9" width="11" height="52.2" fill="url(#gpl)"/><path d="M637.3 296.4h2M646.3 296.4h2" stroke="#fff" stroke-width="0.5"/><text x="651.8" y="299.1" font-size="7.6" text-anchor="start" font-weight="normal" fill="#231f20">1.25</text><path d="M637.3 308.3h2M646.3 308.3h2" stroke="#fff" stroke-width="0.5"/><text x="651.8" y="311.0" font-size="7.6" text-anchor="start" font-weight="normal" fill="#231f20">1.00</text><path d="M637.3 320.1h2M646.3 320.1h2" stroke="#fff" stroke-width="0.5"/><text x="651.8" y="322.8" font-size="7.6" text-anchor="start" font-weight="normal" fill="#231f20">0.75</text><path d="M637.3 332.3h2M646.3 332.3h2" stroke="#fff" stroke-width="0.5"/><text x="651.8" y="335.0" font-size="7.6" text-anchor="start" font-weight="normal" fill="#231f20">0.50</text><path d="M637.3 344.3h2M646.3 344.3h2" stroke="#fff" stroke-width="0.5"/><text x="651.8" y="347.0" font-size="7.6" text-anchor="start" font-weight="normal" fill="#231f20">0.25</text><path d="M227.4 478.4V629.3M287.5 478.4V629.3M347.7 478.4V629.3M407.8 478.4V629.3M467.9 478.4V629.3M203.4 495.8H491.0M203.4 525.0H491.0M203.4 554.2H491.0M203.4 583.3H491.0M203.4 612.4H491.0" stroke="#e6e6e6" stroke-width="0.6"/><rect x="203.4" y="478.4" width="287.6" height="150.89999999999998" stroke="#555" stroke-width="0.8"/><path d="M200.0 495.8H203.4" stroke="#333" stroke-width="0.8"/><text x="196.6" y="498.8" font-size="8.6" text-anchor="end" font-weight="normal" fill="#231f20" textLength="18.4" lengthAdjust="spacingAndGlyphs">NK1C</text><path d="M200.0 525.0H203.4" stroke="#333" stroke-width="0.8"/><text x="196.6" y="528.0" font-size="8.6" text-anchor="end" font-weight="normal" fill="#231f20" textLength="17.6" lengthAdjust="spacingAndGlyphs">NK1B</text><path d="M200.0 554.2H203.4" stroke="#333" stroke-width="0.8"/><text x="196.6" y="557.2" font-size="8.6" text-anchor="end" font-weight="normal" fill="#231f20" textLength="18.4" lengthAdjust="spacingAndGlyphs">NK1A</text><path d="M200.0 583.3H203.4" stroke="#333" stroke-width="0.8"/><text x="196.6" y="586.3" font-size="8.6" text-anchor="end" font-weight="normal" fill="#231f20" textLength="19.2" lengthAdjust="spacingAndGlyphs">NKint</text><path d="M200.0 612.4H203.4" stroke="#333" stroke-width="0.8"/><text x="196.6" y="615.4" font-size="8.6" text-anchor="end" font-weight="normal" fill="#231f20" textLength="14.6" lengthAdjust="spacingAndGlyphs">NK2</text><path d="M287.5 629.3V632.9" stroke="#333" stroke-width="0.8"/><text x="287.5" y="642.8" font-size="8.4" text-anchor="middle" font-weight="normal" fill="#231f20" textLength="11" lengthAdjust="spacingAndGlyphs">0.5</text><path d="M407.8 629.3V632.9" stroke="#333" stroke-width="0.8"/><text x="407.8" y="642.8" font-size="8.4" text-anchor="middle" font-weight="normal" fill="#231f20" textLength="11" lengthAdjust="spacingAndGlyphs">1.0</text><text x="347.7" y="654.8" font-size="8.6" text-anchor="middle" font-weight="normal" fill="#231f20" textLength="49.7" lengthAdjust="spacingAndGlyphs">Pseudotime</text><g stroke-width="2.4" stroke-linecap="round"><g transform="translate(0 0)"><use href="#qf" stroke="#8494ff"/><use href="#qh" stroke="#8494ff"/><use href="#qbc" stroke="#8494ff"/><use href="#qbd" stroke="#8494ff"/><use href="#qbj" stroke="#8494ff"/><use href="#qbp" stroke="#8494ff"/><use href="#qce" stroke="#8494ff"/><use href="#qcf" stroke="#8494ff"/><use href="#qck" stroke="#8494ff"/><use href="#qct" stroke="#8494ff"/><use href="#qcu" stroke="#8494ff"/><use href="#qdg" stroke="#8494ff"/><use href="#qdt" stroke="#8494ff"/><use href="#qef" stroke="#8494ff"/><use href="#qeg" stroke="#8494ff"/><use href="#qem" stroke="#8494ff"/><use href="#qes" stroke="#8494ff"/><use href="#qfa" stroke="#8494ff"/><use href="#qfq" stroke="#8494ff"/><use href="#qfz" stroke="#8494ff"/><use href="#qgo" stroke="#8494ff"/><use href="#qgx" stroke="#8494ff"/><use href="#qhd" stroke="#8494ff"/><use href="#qhu" stroke="#8494ff"/><use href="#qig" stroke="#8494ff"/><use href="#qiq" stroke="#8494ff"/><use href="#qjs" stroke="#8494ff"/><use href="#qlg" stroke="#8494ff"/><use href="#qlk" stroke="#8494ff"/><use href="#qma" stroke="#8494ff"/><use href="#qc" stroke="#f564e3"/><use href="#qi" stroke="#f564e3"/><use href="#qn" stroke="#f564e3"/><use href="#qo" stroke="#f564e3"/><use href="#qba" stroke="#f564e3"/><use href="#qbo" stroke="#f564e3"/><use href="#qbu" stroke="#f564e3"/><use href="#qch" stroke="#f564e3"/><use href="#qcj" stroke="#f564e3"/><use href="#qcs" stroke="#f564e3"/><use href="#qcv" stroke="#f564e3"/><use href="#qdm" stroke="#f564e3"/><use href="#qdw" stroke="#f564e3"/><use href="#qec" stroke="#f564e3"/><use href="#qeh" stroke="#f564e3"/><use href="#qey" stroke="#f564e3"/><use href="#qfp" stroke="#f564e3"/><use href="#qfr" stroke="#f564e3"/><use href="#qgb" stroke="#f564e3"/><use href="#qgi" stroke="#f564e3"/><use href="#qhx" stroke="#f564e3"/><use href="#qev" stroke="#00b30c"/><use href="#qfj" stroke="#00b30c"/><use href="#qgd" stroke="#00b30c"/><use href="#qgk" stroke="#00b30c"/><use href="#qgm" stroke="#00b30c"/><use href="#qgs" stroke="#00b30c"/><use href="#qhg" stroke="#00b30c"/><use href="#qhr" stroke="#00b30c"/><use href="#qhw" stroke="#00b30c"/><use href="#qil" stroke="#00b30c"/><use href="#qim" stroke="#00b30c"/><use href="#qir" stroke="#00b30c"/><use href="#qjt" stroke="#00b30c"/><use href="#qjy" stroke="#00b30c"/><use href="#qkw" stroke="#00b30c"/><use href="#qlu" stroke="#00b30c"/><use href="#qmg" stroke="#00b30c"/><use href="#qic" stroke="#00bfc4"/><use href="#qiz" stroke="#00bfc4"/><use href="#qjf" stroke="#00bfc4"/><use href="#qju" stroke="#00bfc4"/><use href="#qkm" stroke="#00bfc4"/><use href="#qkz" stroke="#00bfc4"/><use href="#qlh" stroke="#00bfc4"/><use href="#qly" stroke="#00bfc4"/><use href="#qmb" stroke="#00bfc4"/><use href="#qiy" stroke="#f8766d"/><use href="#qkb" stroke="#f8766d"/><use href="#qkc" stroke="#f8766d"/><use href="#qkf" stroke="#f8766d"/><use href="#qla" stroke="#f8766d"/><use href="#qlb" stroke="#f8766d"/><use href="#qll" stroke="#f8766d"/><use href="#qme" stroke="#f8766d"/><use href="#qms" stroke="#f8766d"/></g><g transform="translate(.5 0)"><use href="#qt" stroke="#8494ff"/><use href="#qu" stroke="#8494ff"/><use href="#qbb" stroke="#8494ff"/><use href="#qbi" stroke="#8494ff"/><use href="#qbr" stroke="#8494ff"/><use href="#qbz" stroke="#8494ff"/><use href="#qcd" stroke="#8494ff"/><use href="#qco" stroke="#8494ff"/><use href="#qda" stroke="#8494ff"/><use href="#qdd" stroke="#8494ff"/><use href="#qdj" stroke="#8494ff"/><use href="#qdr" stroke="#8494ff"/><use href="#qdv" stroke="#8494ff"/><use href="#qdy" stroke="#8494ff"/><use href="#qen" stroke="#8494ff"/><use href="#qex" stroke="#8494ff"/><use href="#qfg" stroke="#8494ff"/><use href="#qfu" stroke="#8494ff"/><use href="#qfy" stroke="#8494ff"/><use href="#qgg" stroke="#8494ff"/><use href="#qha" stroke="#8494ff"/><use href="#qhl" stroke="#8494ff"/><use href="#qhy" stroke="#8494ff"/><use href="#qii" stroke="#8494ff"/><use href="#qjb" stroke="#8494ff"/><use href="#qkg" stroke="#8494ff"/><use href="#qkx" stroke="#8494ff"/><use href="#qls" stroke="#8494ff"/><use href="#qb" stroke="#f564e3"/><use href="#qg" stroke="#f564e3"/><use href="#qs" stroke="#f564e3"/><use href="#qx" stroke="#f564e3"/><use href="#qbg" stroke="#f564e3"/><use href="#qbm" stroke="#f564e3"/><use href="#qbq" stroke="#f564e3"/><use href="#qby" stroke="#f564e3"/><use href="#qcp" stroke="#f564e3"/><use href="#qcy" stroke="#f564e3"/><use href="#qdp" stroke="#f564e3"/><use href="#qds" stroke="#f564e3"/><use href="#qed" stroke="#f564e3"/><use href="#qep" stroke="#f564e3"/><use href="#qeq" stroke="#f564e3"/><use href="#qfb" stroke="#f564e3"/><use href="#qff" stroke="#f564e3"/><use href="#qfn" stroke="#f564e3"/><use href="#qer" stroke="#00b30c"/><use href="#qfc" stroke="#00b30c"/><use href="#qgh" stroke="#00b30c"/><use href="#qgj" stroke="#00b30c"/><use href="#qgl" stroke="#00b30c"/><use href="#qhi" stroke="#00b30c"/><use href="#qhm" stroke="#00b30c"/><use href="#qhn" stroke="#00b30c"/><use href="#qht" stroke="#00b30c"/><use href="#qio" stroke="#00b30c"/><use href="#qis" stroke="#00b30c"/><use href="#qje" stroke="#00b30c"/><use href="#qji" stroke="#00b30c"/><use href="#qln" stroke="#00b30c"/><use href="#qlq" stroke="#00b30c"/><use href="#qmp" stroke="#00b30c"/><use href="#qiu" stroke="#00bfc4"/><use href="#qjc" stroke="#00bfc4"/><use href="#qjr" stroke="#00bfc4"/><use href="#qjw" stroke="#00bfc4"/><use href="#qks" stroke="#00bfc4"/><use href="#qlf" stroke="#00bfc4"/><use href="#qmc" stroke="#00bfc4"/><use href="#qmo" stroke="#00bfc4"/><use href="#qjl" stroke="#f8766d"/><use href="#qjq" stroke="#f8766d"/><use href="#qko" stroke="#f8766d"/><use href="#qku" stroke="#f8766d"/><use href="#qli" stroke="#f8766d"/><use href="#qlj" stroke="#f8766d"/><use href="#qmd" stroke="#f8766d"/><use href="#qmn" stroke="#f8766d"/></g><g transform="translate(0 .5)"><use href="#ql" stroke="#8494ff"/><use href="#qm" stroke="#8494ff"/><use href="#qw" stroke="#8494ff"/><use href="#qbl" stroke="#8494ff"/><use href="#qbs" stroke="#8494ff"/><use href="#qbw" stroke="#8494ff"/><use href="#qca" stroke="#8494ff"/><use href="#qcq" stroke="#8494ff"/><use href="#qcx" stroke="#8494ff"/><use href="#qdb" stroke="#8494ff"/><use href="#qdf" stroke="#8494ff"/><use href="#qdl" stroke="#8494ff"/><use href="#qdx" stroke="#8494ff"/><use href="#qek" stroke="#8494ff"/><use href="#qeo" stroke="#8494ff"/><use href="#qet" stroke="#8494ff"/><use href="#qfh" stroke="#8494ff"/><use href="#qft" stroke="#8494ff"/><use href="#qfx" stroke="#8494ff"/><use href="#qgq" stroke="#8494ff"/><use href="#qgy" stroke="#8494ff"/><use href="#qhk" stroke="#8494ff"/><use href="#qhs" stroke="#8494ff"/><use href="#qhv" stroke="#8494ff"/><use href="#qit" stroke="#8494ff"/><use href="#qkj" stroke="#8494ff"/><use href="#qkr" stroke="#8494ff"/><use href="#qd" stroke="#f564e3"/><use href="#qe" stroke="#f564e3"/><use href="#qk" stroke="#f564e3"/><use href="#qz" stroke="#f564e3"/><use href="#qbf" stroke="#f564e3"/><use href="#qbk" stroke="#f564e3"/><use href="#qbx" stroke="#f564e3"/><use href="#qci" stroke="#f564e3"/><use href="#qcl" stroke="#f564e3"/><use href="#qcw" stroke="#f564e3"/><use href="#qdh" stroke="#f564e3"/><use href="#qdi" stroke="#f564e3"/><use href="#qdo" stroke="#f564e3"/><use href="#qdu" stroke="#f564e3"/><use href="#qeu" stroke="#f564e3"/><use href="#qew" stroke="#f564e3"/><use href="#qfl" stroke="#f564e3"/><use href="#qgp" stroke="#f564e3"/><use href="#qhb" stroke="#f564e3"/><use href="#qhz" stroke="#f564e3"/><use href="#qei" stroke="#00b30c"/><use href="#qfm" stroke="#00b30c"/><use href="#qfo" stroke="#00b30c"/><use href="#qgc" stroke="#00b30c"/><use href="#qgn" stroke="#00b30c"/><use href="#qgu" stroke="#00b30c"/><use href="#qhf" stroke="#00b30c"/><use href="#qhh" stroke="#00b30c"/><use href="#qhp" stroke="#00b30c"/><use href="#qid" stroke="#00b30c"/><use href="#qif" stroke="#00b30c"/><use href="#qiw" stroke="#00b30c"/><use href="#qjh" stroke="#00b30c"/><use href="#qka" stroke="#00b30c"/><use href="#qkq" stroke="#00b30c"/><use href="#qlt" stroke="#00b30c"/><use href="#qmj" stroke="#00b30c"/><use href="#qhq" stroke="#00bfc4"/><use href="#qik" stroke="#00bfc4"/><use href="#qjd" stroke="#00bfc4"/><use href="#qjv" stroke="#00bfc4"/><use href="#qjz" stroke="#00bfc4"/><use href="#qke" stroke="#00bfc4"/><use href="#qle" stroke="#00bfc4"/><use href="#qlp" stroke="#00bfc4"/><use href="#qlx" stroke="#00bfc4"/><use href="#qmk" stroke="#00bfc4"/><use href="#qiv" stroke="#f8766d"/><use href="#qjg" stroke="#f8766d"/><use href="#qjk" stroke="#f8766d"/><use href="#qkt" stroke="#f8766d"/><use href="#qky" stroke="#f8766d"/><use href="#qlc" stroke="#f8766d"/><use href="#qlo" stroke="#f8766d"/><use href="#qmh" stroke="#f8766d"/><use href="#qmm" stroke="#f8766d"/></g><g transform="translate(.5 .5)"><use href="#qv" stroke="#8494ff"/><use href="#qy" stroke="#8494ff"/><use href="#qbe" stroke="#8494ff"/><use href="#qbn" stroke="#8494ff"/><use href="#qcb" stroke="#8494ff"/><use href="#qcc" stroke="#8494ff"/><use href="#qcm" stroke="#8494ff"/><use href="#qcr" stroke="#8494ff"/><use href="#qdc" stroke="#8494ff"/><use href="#qde" stroke="#8494ff"/><use href="#qdn" stroke="#8494ff"/><use href="#qea" stroke="#8494ff"/><use href="#qeb" stroke="#8494ff"/><use href="#qel" stroke="#8494ff"/><use href="#qfd" stroke="#8494ff"/><use href="#qfi" stroke="#8494ff"/><use href="#qfw" stroke="#8494ff"/><use href="#qga" stroke="#8494ff"/><use href="#qgt" stroke="#8494ff"/><use href="#qhe" stroke="#8494ff"/><use href="#qhj" stroke="#8494ff"/><use href="#qie" stroke="#8494ff"/><use href="#qij" stroke="#8494ff"/><use href="#qja" stroke="#8494ff"/><use href="#qkh" stroke="#8494ff"/><use href="#qkp" stroke="#8494ff"/><use href="#qlm" stroke="#8494ff"/><use href="#qml" stroke="#8494ff"/><use href="#qj" stroke="#f564e3"/><use href="#qp" stroke="#f564e3"/><use href="#qq" stroke="#f564e3"/><use href="#qr" stroke="#f564e3"/><use href="#qbh" stroke="#f564e3"/><use href="#qbt" stroke="#f564e3"/><use href="#qbv" stroke="#f564e3"/><use href="#qcg" stroke="#f564e3"/><use href="#qcn" stroke="#f564e3"/><use href="#qcz" stroke="#f564e3"/><use href="#qdk" stroke="#f564e3"/><use href="#qdq" stroke="#f564e3"/><use href="#qdz" stroke="#f564e3"/><use href="#qej" stroke="#f564e3"/><use href="#qfe" stroke="#f564e3"/><use href="#qfk" stroke="#f564e3"/><use href="#qge" stroke="#f564e3"/><use href="#qgf" stroke="#f564e3"/><use href="#qgr" stroke="#f564e3"/><use href="#qgz" stroke="#f564e3"/><use href="#qib" stroke="#f564e3"/><use href="#qee" stroke="#00b30c"/><use href="#qez" stroke="#00b30c"/><use href="#qfs" stroke="#00b30c"/><use href="#qfv" stroke="#00b30c"/><use href="#qgv" stroke="#00b30c"/><use href="#qgw" stroke="#00b30c"/><use href="#qhc" stroke="#00b30c"/><use href="#qho" stroke="#00b30c"/><use href="#qia" stroke="#00b30c"/><use href="#qih" stroke="#00b30c"/><use href="#qix" stroke="#00b30c"/><use href="#qjj" stroke="#00b30c"/><use href="#qki" stroke="#00b30c"/><use href="#qkn" stroke="#00b30c"/><use href="#qlw" stroke="#00b30c"/><use href="#qmr" stroke="#00b30c"/><use href="#qin" stroke="#00bfc4"/><use href="#qip" stroke="#00bfc4"/><use href="#qjn" stroke="#00bfc4"/><use href="#qjo" stroke="#00bfc4"/><use href="#qjx" stroke="#00bfc4"/><use href="#qkl" stroke="#00bfc4"/><use href="#qlr" stroke="#00bfc4"/><use href="#qlv" stroke="#00bfc4"/><use href="#qmf" stroke="#00bfc4"/><use href="#qjm" stroke="#f8766d"/><use href="#qjp" stroke="#f8766d"/><use href="#qkd" stroke="#f8766d"/><use href="#qkk" stroke="#f8766d"/><use href="#qkv" stroke="#f8766d"/><use href="#qld" stroke="#f8766d"/><use href="#qlz" stroke="#f8766d"/><use href="#qmi" stroke="#f8766d"/><use href="#qmq" stroke="#f8766d"/></g></g><g stroke-width="2.4" stroke-linecap="round" transform="translate(341 0)"><g transform="translate(0 0)"><use href="#qh" stroke="#0d0887"/><use href="#qi" stroke="#0d0887"/><use href="#qc" stroke="#220690"/><use href="#qf" stroke="#220690"/><use href="#qn" stroke="#330597"/><use href="#qbd" stroke="#330597"/><use href="#qo" stroke="#41049d"/><use href="#qbc" stroke="#41049d"/><use href="#qba" stroke="#5002a2"/><use href="#qbj" stroke="#5002a2"/><use href="#qbo" stroke="#5c01a6"/><use href="#qbp" stroke="#5c01a6"/><use href="#qbu" stroke="#6a00a8"/><use href="#qcf" stroke="#6a00a8"/><use href="#qce" stroke="#7701a8"/><use href="#qch" stroke="#7701a8"/><use href="#qcj" stroke="#8405a7"/><use href="#qck" stroke="#8405a7"/><use href="#qcs" stroke="#8f0da4"/><use href="#qct" stroke="#8f0da4"/><use href="#qcu" stroke="#9c179e"/><use href="#qcv" stroke="#9c179e"/><use href="#qdg" stroke="#a62098"/><use href="#qdm" stroke="#a62098"/><use href="#qdt" stroke="#b12a90"/><use href="#qdw" stroke="#b12a90"/><use href="#qef" stroke="#ba3388"/><use href="#qeh" stroke="#ba3388"/><use href="#qec" stroke="#c33d80"/><use href="#qeg" stroke="#c33d80"/><use href="#qfj" stroke="#c33d80"/><use href="#qem" stroke="#cc4778"/><use href="#qev" stroke="#cc4778"/><use href="#qey" stroke="#cc4778"/><use href="#qes" stroke="#d35171"/><use href="#qfr" stroke="#d35171"/><use href="#qgd" stroke="#d35171"/><use href="#qfa" stroke="#da5b69"/><use href="#qfp" stroke="#da5b69"/><use href="#qgk" stroke="#da5b69"/><use href="#qfq" stroke="#e16462"/><use href="#qgb" stroke="#e16462"/><use href="#qgs" stroke="#e16462"/><use href="#qfz" stroke="#e76f5a"/><use href="#qgi" stroke="#e76f5a"/><use href="#qgm" stroke="#e76f5a"/><use href="#qgo" stroke="#ed7953"/><use href="#qhr" stroke="#ed7953"/><use href="#qhd" stroke="#f2844b"/><use href="#qhg" stroke="#f2844b"/><use href="#qhx" stroke="#f2844b"/><use href="#qgx" stroke="#f68f44"/><use href="#qhw" stroke="#f68f44"/><use href="#qic" stroke="#f68f44"/><use href="#qkc" stroke="#f68f44"/><use href="#qhu" stroke="#fa9b3d"/><use href="#qim" stroke="#fa9b3d"/><use href="#qiy" stroke="#fa9b3d"/><use href="#qiz" stroke="#fa9b3d"/><use href="#qig" stroke="#fca636"/><use href="#qil" stroke="#fca636"/><use href="#qjf" stroke="#fca636"/><use href="#qkb" stroke="#fca636"/><use href="#qiq" stroke="#fdb42f"/><use href="#qir" stroke="#fdb42f"/><use href="#qju" stroke="#fdb42f"/><use href="#qkf" stroke="#fdb42f"/><use href="#qjs" stroke="#fec029"/><use href="#qjy" stroke="#fec029"/><use href="#qkm" stroke="#fec029"/><use href="#qll" stroke="#fec029"/><use href="#qjt" stroke="#fcce25"/><use href="#qkz" stroke="#fcce25"/><use href="#qla" stroke="#fcce25"/><use href="#qlg" stroke="#fcce25"/><use href="#qkw" stroke="#f9dc24"/><use href="#qlb" stroke="#f9dc24"/><use href="#qlh" stroke="#f9dc24"/><use href="#qlk" stroke="#f9dc24"/><use href="#qlu" stroke="#f5eb27"/><use href="#qly" stroke="#f5eb27"/><use href="#qma" stroke="#f5eb27"/><use href="#qme" stroke="#f5eb27"/><use href="#qmb" stroke="#f0f921"/><use href="#qmg" stroke="#f0f921"/><use href="#qms" stroke="#f0f921"/></g><g transform="translate(.5 0)"><use href="#qb" stroke="#0d0887"/><use href="#qg" stroke="#220690"/><use href="#qt" stroke="#220690"/><use href="#qs" stroke="#330597"/><use href="#qbb" stroke="#330597"/><use href="#qu" stroke="#41049d"/><use href="#qx" stroke="#41049d"/><use href="#qbg" stroke="#5002a2"/><use href="#qbi" stroke="#5002a2"/><use href="#qbm" stroke="#5c01a6"/><use href="#qbr" stroke="#5c01a6"/><use href="#qbq" stroke="#6a00a8"/><use href="#qbz" stroke="#6a00a8"/><use href="#qby" stroke="#7701a8"/><use href="#qcd" stroke="#7701a8"/><use href="#qco" stroke="#8405a7"/><use href="#qcp" stroke="#8405a7"/><use href="#qcy" stroke="#8f0da4"/><use href="#qda" stroke="#8f0da4"/><use href="#qdd" stroke="#9c179e"/><use href="#qds" stroke="#9c179e"/><use href="#qdj" stroke="#a62098"/><use href="#qdp" stroke="#a62098"/><use href="#qdr" stroke="#b12a90"/><use href="#qed" stroke="#b12a90"/><use href="#qdy" stroke="#ba3388"/><use href="#qeq" stroke="#ba3388"/><use href="#qdv" stroke="#c33d80"/><use href="#qep" stroke="#c33d80"/><use href="#qer" stroke="#c33d80"/><use href="#qen" stroke="#cc4778"/><use href="#qfb" stroke="#cc4778"/><use href="#qfc" stroke="#cc4778"/><use href="#qex" stroke="#d35171"/><use href="#qff" stroke="#da5b69"/><use href="#qfg" stroke="#da5b69"/><use href="#qgl" stroke="#da5b69"/><use href="#qfn" stroke="#e16462"/><use href="#qfu" stroke="#e16462"/><use href="#qgj" stroke="#e16462"/><use href="#qfy" stroke="#e76f5a"/><use href="#qgh" stroke="#e76f5a"/><use href="#qgg" stroke="#ed7953"/><use href="#qhm" stroke="#ed7953"/><use href="#qha" stroke="#f2844b"/><use href="#qhi" stroke="#f2844b"/><use href="#qhl" stroke="#f68f44"/><use href="#qhn" stroke="#f68f44"/><use href="#qht" stroke="#fa9b3d"/><use href="#qhy" stroke="#fa9b3d"/><use href="#qjc" stroke="#fa9b3d"/><use href="#qko" stroke="#fa9b3d"/><use href="#qii" stroke="#fca636"/><use href="#qio" stroke="#fca636"/><use href="#qiu" stroke="#fca636"/><use href="#qjl" stroke="#fca636"/><use href="#qis" stroke="#fdb42f"/><use href="#qjb" stroke="#fdb42f"/><use href="#qjq" stroke="#fdb42f"/><use href="#qjr" stroke="#fdb42f"/><use href="#qji" stroke="#fec029"/><use href="#qjw" stroke="#fec029"/><use href="#qkg" stroke="#fec029"/><use href="#qku" stroke="#fec029"/><use href="#qje" stroke="#fcce25"/><use href="#qks" stroke="#fcce25"/><use href="#qkx" stroke="#fcce25"/><use href="#qli" stroke="#fcce25"/><use href="#qlf" stroke="#f9dc24"/><use href="#qlj" stroke="#f9dc24"/><use href="#qln" stroke="#f9dc24"/><use href="#qls" stroke="#f9dc24"/><use href="#qlq" stroke="#f5eb27"/><use href="#qmc" stroke="#f5eb27"/><use href="#qmd" stroke="#f5eb27"/><use href="#qmn" stroke="#f0f921"/><use href="#qmo" stroke="#f0f921"/><use href="#qmp" stroke="#f0f921"/></g><g transform="translate(0 .5)"><use href="#qe" stroke="#0d0887"/><use href="#qd" stroke="#220690"/><use href="#qw" stroke="#220690"/><use href="#qk" stroke="#330597"/><use href="#ql" stroke="#330597"/><use href="#qm" stroke="#41049d"/><use href="#qz" stroke="#41049d"/><use href="#qbf" stroke="#5002a2"/><use href="#qbl" stroke="#5002a2"/><use href="#qbk" stroke="#5c01a6"/><use href="#qbs" stroke="#5c01a6"/><use href="#qbw" stroke="#6a00a8"/><use href="#qbx" stroke="#6a00a8"/><use href="#qca" stroke="#7701a8"/><use href="#qci" stroke="#7701a8"/><use href="#qcl" stroke="#8405a7"/><use href="#qcq" stroke="#8405a7"/><use href="#qcw" stroke="#8f0da4"/><use href="#qcx" stroke="#8f0da4"/><use href="#qdf" stroke="#9c179e"/><use href="#qdi" stroke="#9c179e"/><use href="#qdb" stroke="#a62098"/><use href="#qdh" stroke="#a62098"/><use href="#qdl" stroke="#b12a90"/><use href="#qdu" stroke="#b12a90"/><use href="#qei" stroke="#b12a90"/><use href="#qdo" stroke="#ba3388"/><use href="#qdx" stroke="#ba3388"/><use href="#qek" stroke="#c33d80"/><use href="#qeu" stroke="#c33d80"/><use href="#qeo" stroke="#cc4778"/><use href="#qgc" stroke="#cc4778"/><use href="#qet" stroke="#d35171"/><use href="#qew" stroke="#d35171"/><use href="#qfm" stroke="#d35171"/><use href="#qfh" stroke="#da5b69"/><use href="#qfl" stroke="#da5b69"/><use href="#qfo" stroke="#da5b69"/><use href="#qfx" stroke="#e16462"/><use href="#qgp" stroke="#e16462"/><use href="#qgu" stroke="#e16462"/><use href="#qft" stroke="#e76f5a"/><use href="#qgn" stroke="#e76f5a"/><use href="#qhb" stroke="#e76f5a"/><use href="#qgq" stroke="#ed7953"/><use href="#qhf" stroke="#ed7953"/><use href="#qhq" stroke="#ed7953"/><use href="#qgy" stroke="#f2844b"/><use href="#qhh" stroke="#f2844b"/><use href="#qhk" stroke="#f68f44"/><use href="#qhp" stroke="#f68f44"/><use href="#qhz" stroke="#f68f44"/><use href="#qik" stroke="#f68f44"/><use href="#qiv" stroke="#f68f44"/><use href="#qhs" stroke="#fa9b3d"/><use href="#qid" stroke="#fa9b3d"/><use href="#qjd" stroke="#fa9b3d"/><use href="#qjg" stroke="#fa9b3d"/><use href="#qhv" stroke="#fca636"/><use href="#qif" stroke="#fca636"/><use href="#qjv" stroke="#fca636"/><use href="#qkt" stroke="#fca636"/><use href="#qit" stroke="#fdb42f"/><use href="#qiw" stroke="#fdb42f"/><use href="#qjk" stroke="#fdb42f"/><use href="#qjz" stroke="#fdb42f"/><use href="#qjh" stroke="#fec029"/><use href="#qke" stroke="#fec029"/><use href="#qkj" stroke="#fec029"/><use href="#qky" stroke="#fec029"/><use href="#qka" stroke="#fcce25"/><use href="#qkr" stroke="#fcce25"/><use href="#qlc" stroke="#fcce25"/><use href="#qle" stroke="#fcce25"/><use href="#qkq" stroke="#f9dc24"/><use href="#qlo" stroke="#f9dc24"/><use href="#qlp" stroke="#f9dc24"/><use href="#qlt" stroke="#f5eb27"/><use href="#qlx" stroke="#f5eb27"/><use href="#qmh" stroke="#f5eb27"/><use href="#qmj" stroke="#f0f921"/><use href="#qmk" stroke="#f0f921"/><use href="#qmm" stroke="#f0f921"/></g><g transform="translate(.5 .5)"><use href="#qp" stroke="#0d0887"/><use href="#qj" stroke="#220690"/><use href="#qq" stroke="#330597"/><use href="#qv" stroke="#330597"/><use href="#qr" stroke="#41049d"/><use href="#qy" stroke="#41049d"/><use href="#qbe" stroke="#5002a2"/><use href="#qbh" stroke="#5002a2"/><use href="#qbn" stroke="#5c01a6"/><use href="#qbt" stroke="#5c01a6"/><use href="#qbv" stroke="#6a00a8"/><use href="#qcc" stroke="#6a00a8"/><use href="#qcb" stroke="#7701a8"/><use href="#qcg" stroke="#7701a8"/><use href="#qcm" stroke="#8405a7"/><use href="#qcn" stroke="#8405a7"/><use href="#qcr" stroke="#8f0da4"/><use href="#qcz" stroke="#8f0da4"/><use href="#qdc" stroke="#9c179e"/><use href="#qdk" stroke="#9c179e"/><use href="#qde" stroke="#a62098"/><use href="#qdq" stroke="#a62098"/><use href="#qdn" stroke="#b12a90"/><use href="#qdz" stroke="#ba3388"/><use href="#qea" stroke="#ba3388"/><use href="#qee" stroke="#ba3388"/><use href="#qeb" stroke="#c33d80"/><use href="#qej" stroke="#c33d80"/><use href="#qez" stroke="#c33d80"/><use href="#qel" stroke="#cc4778"/><use href="#qfk" stroke="#cc4778"/><use href="#qfd" stroke="#d35171"/><use href="#qfe" stroke="#d35171"/><use href="#qfi" stroke="#da5b69"/><use href="#qfv" stroke="#da5b69"/><use href="#qge" stroke="#da5b69"/><use href="#qfs" stroke="#e16462"/><use href="#qfw" stroke="#e16462"/><use href="#qgf" stroke="#e16462"/><use href="#qga" stroke="#e76f5a"/><use href="#qgr" stroke="#e76f5a"/><use href="#qgw" stroke="#e76f5a"/><use href="#qgt" stroke="#ed7953"/><use href="#qgv" stroke="#ed7953"/><use href="#qgz" stroke="#ed7953"/><use href="#qhc" stroke="#f2844b"/><use href="#qhe" stroke="#f2844b"/><use href="#qhj" stroke="#f68f44"/><use href="#qho" stroke="#f68f44"/><use href="#qib" stroke="#f68f44"/><use href="#qin" stroke="#f68f44"/><use href="#qjm" stroke="#f68f44"/><use href="#qia" stroke="#fa9b3d"/><use href="#qie" stroke="#fa9b3d"/><use href="#qip" stroke="#fa9b3d"/><use href="#qkd" stroke="#fa9b3d"/><use href="#qih" stroke="#fca636"/><use href="#qij" stroke="#fca636"/><use href="#qjn" stroke="#fca636"/><use href="#qkk" stroke="#fca636"/><use href="#qix" stroke="#fdb42f"/><use href="#qja" stroke="#fdb42f"/><use href="#qjo" stroke="#fdb42f"/><use href="#qjp" stroke="#fdb42f"/><use href="#qjj" stroke="#fec029"/><use href="#qkh" stroke="#fec029"/><use href="#qkl" stroke="#fec029"/><use href="#qld" stroke="#fec029"/><use href="#qjx" stroke="#fcce25"/><use href="#qkn" stroke="#fcce25"/><use href="#qkp" stroke="#fcce25"/><use href="#qkv" stroke="#fcce25"/><use href="#qki" stroke="#f9dc24"/><use href="#qlm" stroke="#f9dc24"/><use href="#qlv" stroke="#f9dc24"/><use href="#qlz" stroke="#f9dc24"/><use href="#qlr" stroke="#f5eb27"/><use href="#qlw" stroke="#f5eb27"/><use href="#qmi" stroke="#f5eb27"/><use href="#qml" stroke="#f5eb27"/><use href="#qmf" stroke="#f0f921"/><use href="#qmq" stroke="#f0f921"/><use href="#qmr" stroke="#f0f921"/></g></g><path d="M440.0,495.3 440.7,495.3 441.4,495.2 442.0,495.2 442.7,495.1 443.4,495.1 444.1,495.0 444.8,495.0 445.4,494.9 446.1,494.8 446.8,494.7 447.5,494.7 448.2,494.6 448.8,494.5 449.5,494.4 450.2,494.3 450.9,494.1 451.6,493.9 452.3,493.5 452.9,493.2 453.6,492.8 454.3,492.3 455.0,491.7 455.7,491.2 456.3,490.6 457.0,490.0 457.7,489.3 458.4,488.6 459.1,487.9 459.7,487.3 460.4,486.7 461.1,486.2 461.8,485.7 462.5,485.2 463.1,484.8 463.8,484.5 464.5,484.3 465.2,484.1 465.9,484.0 466.5,484.1 467.2,484.3 467.9,484.6 468.6,485.0 469.3,485.4 470.0,486.0 470.6,486.7 471.3,487.3 472.0,488.0 472.7,488.7 473.4,489.4 474.0,490.0 474.7,490.7 475.4,491.4 476.1,492.2 476.8,493.0 477.4,493.7 478.1,494.5 478.8,495.0 L478.8,496.6 478.1,497.1 477.4,497.9 476.8,498.6 476.1,499.4 475.4,500.2 474.7,500.9 474.0,501.6 473.4,502.2 472.7,502.9 472.0,503.6 471.3,504.3 470.6,504.9 470.0,505.6 469.3,506.2 468.6,506.6 467.9,507.0 467.2,507.3 466.5,507.5 465.9,507.6 465.2,507.5 464.5,507.3 463.8,507.1 463.1,506.8 462.5,506.4 461.8,505.9 461.1,505.4 460.4,504.9 459.7,504.3 459.1,503.7 458.4,503.0 457.7,502.3 457.0,501.6 456.3,501.0 455.7,500.4 455.0,499.9 454.3,499.3 453.6,498.8 452.9,498.4 452.3,498.1 451.6,497.7 450.9,497.5 450.2,497.3 449.5,497.2 448.8,497.1 448.2,497.0 447.5,496.9 446.8,496.9 446.1,496.8 445.4,496.7 444.8,496.6 444.1,496.6 443.4,496.5 442.7,496.5 442.0,496.4 441.4,496.4 440.7,496.3 440.0,496.3Z" fill="#f8766d"/><path d="M427.5 496.4h0M429.4 495.5h0M430.8 496.1h0M433 496.2h0M434.2 496.4h0M437.3 495.4h0M437.9 495.6h0M438.9 496.1h0M407.6 495.5h0" stroke="#f8766d" stroke-width="1.5" stroke-linecap="round"/><path d="M465.7 486.1V505.5" stroke="#222" stroke-width="0.7"/><path d="M421.0,524.5 421.7,524.5 422.4,524.5 423.0,524.5 423.7,524.4 424.4,524.4 425.1,524.4 425.8,524.4 426.4,524.4 427.1,524.4 427.8,524.4 428.5,524.3 429.1,524.3 429.8,524.3 430.5,524.3 431.2,524.3 431.9,524.3 432.5,524.3 433.2,524.2 433.9,524.2 434.6,524.2 435.2,524.2 435.9,524.2 436.6,524.1 437.3,524.1 438.0,524.0 438.6,524.0 439.3,523.9 440.0,523.9 440.7,523.8 441.4,523.8 442.0,523.7 442.7,523.7 443.4,523.6 444.1,523.6 444.8,523.6 445.4,523.4 446.1,523.2 446.8,523.0 447.5,522.7 448.1,522.4 448.8,522.2 449.5,521.9 450.2,521.6 450.9,521.2 451.5,520.8 452.2,520.3 452.9,519.8 453.6,519.2 454.2,518.7 454.9,518.2 455.6,517.7 456.3,517.2 457.0,516.7 457.6,516.2 458.3,515.7 459.0,515.2 459.7,514.7 460.4,514.2 461.0,513.9 461.7,513.8 462.4,513.8 463.1,513.8 463.8,513.9 464.4,514.3 465.1,514.8 465.8,515.3 466.5,515.9 467.1,516.5 467.8,517.3 468.5,518.1 469.2,518.9 469.9,519.7 470.5,520.3 471.2,520.9 471.9,521.4 472.6,522.0 473.2,522.4 473.9,522.7 474.6,523.0 475.3,523.3 476.0,523.5 476.6,523.8 477.3,524.1 478.0,524.4 L478.0,525.6 477.3,525.9 476.6,526.2 476.0,526.5 475.3,526.7 474.6,527.0 473.9,527.3 473.2,527.6 472.6,528.0 471.9,528.6 471.2,529.1 470.5,529.7 469.9,530.3 469.2,531.1 468.5,531.9 467.8,532.7 467.1,533.5 466.5,534.1 465.8,534.7 465.1,535.2 464.4,535.7 463.8,536.1 463.1,536.2 462.4,536.2 461.7,536.2 461.0,536.1 460.4,535.8 459.7,535.3 459.0,534.8 458.3,534.3 457.6,533.8 457.0,533.3 456.3,532.8 455.6,532.3 454.9,531.8 454.2,531.3 453.6,530.8 452.9,530.2 452.2,529.7 451.5,529.2 450.9,528.8 450.2,528.4 449.5,528.1 448.8,527.8 448.1,527.6 447.5,527.3 446.8,527.0 446.1,526.8 445.4,526.6 444.8,526.4 444.1,526.4 443.4,526.4 442.7,526.3 442.0,526.3 441.4,526.2 440.7,526.2 440.0,526.1 439.3,526.1 438.6,526.0 438.0,526.0 437.3,525.9 436.6,525.9 435.9,525.8 435.2,525.8 434.6,525.8 433.9,525.8 433.2,525.8 432.5,525.7 431.9,525.7 431.2,525.7 430.5,525.7 429.8,525.7 429.1,525.7 428.5,525.7 427.8,525.6 427.1,525.6 426.4,525.6 425.8,525.6 425.1,525.6 424.4,525.6 423.7,525.6 423.0,525.5 422.4,525.5 421.7,525.5 421.0,525.5Z" fill="#00bfc4"/><path d="M386.4 525.4h0M386.8 525.1h0M394.4 525.3h0M398 525.2h0M403.5 524.4h0M405.9 524.4h0M408.4 525.6h0M411.6 525.1h0M413.2 524.8h0M415.1 525.1h0M417 524.2h0" stroke="#00bfc4" stroke-width="1.5" stroke-linecap="round"/><path d="M461.4 515.3V535.2" stroke="#222" stroke-width="0.7"/><path d="M400.0,553.4 400.7,553.4 401.3,553.4 402.0,553.3 402.7,553.3 403.4,553.3 404.0,553.3 404.7,553.3 405.4,553.3 406.1,553.2 406.7,553.2 407.4,553.2 408.1,553.2 408.7,553.2 409.4,553.2 410.1,553.1 410.8,553.1 411.4,553.1 412.1,553.1 412.8,553.1 413.4,553.1 414.1,553.0 414.8,553.0 415.5,553.0 416.1,553.0 416.8,553.0 417.5,553.0 418.2,552.9 418.8,552.9 419.5,552.9 420.2,552.9 420.8,552.9 421.5,552.8 422.2,552.8 422.9,552.7 423.5,552.7 424.2,552.7 424.9,552.6 425.6,552.6 426.2,552.5 426.9,552.5 427.6,552.5 428.2,552.4 428.9,552.4 429.6,552.3 430.3,552.3 430.9,552.2 431.6,552.1 432.3,552.1 432.9,552.0 433.6,551.9 434.3,551.8 435.0,551.7 435.6,551.7 436.3,551.6 437.0,551.5 437.7,551.4 438.3,551.3 439.0,551.3 439.7,551.2 440.3,551.1 441.0,550.9 441.7,550.8 442.4,550.6 443.0,550.5 443.7,550.3 444.4,550.0 445.1,549.6 445.7,549.1 446.4,548.6 447.1,548.1 447.7,547.6 448.4,547.1 449.1,546.6 449.8,546.2 450.4,545.8 451.1,545.4 451.8,545.0 452.4,544.6 453.1,544.2 453.8,543.9 454.5,543.6 455.1,543.3 455.8,543.1 456.5,542.8 457.2,542.5 457.8,542.3 458.5,542.3 459.2,542.4 459.8,542.7 460.5,543.0 461.2,543.2 461.9,543.5 462.5,543.8 463.2,544.4 463.9,545.0 464.6,545.8 465.2,546.6 465.9,547.3 466.6,547.9 467.2,548.4 467.9,548.9 468.6,549.4 469.3,549.9 469.9,550.4 470.6,550.8 471.3,551.2 471.9,551.6 472.6,552.0 473.3,552.4 474.0,552.7 474.6,552.9 475.3,553.1 476.0,553.2 476.7,553.3 477.3,553.4 478.0,553.5 L478.0,554.7 477.3,554.8 476.7,554.9 476.0,555.0 475.3,555.1 474.6,555.3 474.0,555.5 473.3,555.8 472.6,556.2 471.9,556.6 471.3,557.0 470.6,557.4 469.9,557.8 469.3,558.3 468.6,558.8 467.9,559.3 467.2,559.8 466.6,560.3 465.9,560.9 465.2,561.6 464.6,562.4 463.9,563.2 463.2,563.8 462.5,564.4 461.9,564.7 461.2,565.0 460.5,565.2 459.8,565.5 459.2,565.8 458.5,565.9 457.8,565.9 457.2,565.7 456.5,565.4 455.8,565.1 455.1,564.9 454.5,564.6 453.8,564.3 453.1,564.0 452.4,563.6 451.8,563.2 451.1,562.8 450.4,562.4 449.8,562.0 449.1,561.6 448.4,561.1 447.7,560.6 447.1,560.1 446.4,559.6 445.7,559.1 445.1,558.6 444.4,558.2 443.7,557.9 443.0,557.7 442.4,557.6 441.7,557.4 441.0,557.3 440.3,557.1 439.7,557.0 439.0,556.9 438.3,556.9 437.7,556.8 437.0,556.7 436.3,556.6 435.6,556.5 435.0,556.5 434.3,556.4 433.6,556.3 432.9,556.2 432.3,556.1 431.6,556.1 430.9,556.0 430.3,555.9 429.6,555.9 428.9,555.8 428.2,555.8 427.6,555.7 426.9,555.7 426.2,555.7 425.6,555.6 424.9,555.6 424.2,555.5 423.5,555.5 422.9,555.5 422.2,555.4 421.5,555.4 420.8,555.3 420.2,555.3 419.5,555.3 418.8,555.3 418.2,555.3 417.5,555.2 416.8,555.2 416.1,555.2 415.5,555.2 414.8,555.2 414.1,555.2 413.4,555.1 412.8,555.1 412.1,555.1 411.4,555.1 410.8,555.1 410.1,555.1 409.4,555.0 408.7,555.0 408.1,555.0 407.4,555.0 406.7,555.0 406.1,555.0 405.4,554.9 404.7,554.9 404.0,554.9 403.4,554.9 402.7,554.9 402.0,554.9 401.3,554.8 400.7,554.8 400.0,554.8Z" fill="#00b30c"/><path d="M273.1 554.3h0M274.7 554.2h0M283.9 553.4h0M290 553.9h0M314.9 554.1h0M334.4 553.9h0M341.8 553.9h0M351.3 553.9h0M353.5 553.7h0M357.6 554.1h0M358.5 554.6h0M371.4 554.1h0M377.1 554.3h0M383.2 554.4h0M384.4 554h0M385.1 554.3h0M392.9 553.9h0M395.2 554.1h0M396.9 554.2h0M398.7 554.1h0M402.5 554.4h0" stroke="#00b30c" stroke-width="1.5" stroke-linecap="round"/><path d="M455.6 543.9V564.8" stroke="#222" stroke-width="0.7"/><path d="M217.3,582.6 218.0,582.6 218.6,582.6 219.3,582.6 220.0,582.6 220.6,582.5 221.3,582.5 222.0,582.5 222.7,582.5 223.3,582.5 224.0,582.5 224.7,582.5 225.3,582.5 226.0,582.4 226.7,582.4 227.3,582.4 228.0,582.4 228.7,582.4 229.4,582.4 230.0,582.4 230.7,582.4 231.4,582.4 232.0,582.3 232.7,582.3 233.4,582.3 234.0,582.3 234.7,582.3 235.4,582.3 236.1,582.3 236.7,582.3 237.4,582.2 238.1,582.2 238.7,582.2 239.4,582.2 240.1,582.2 240.7,582.2 241.4,582.2 242.1,582.1 242.8,582.1 243.4,582.1 244.1,582.1 244.8,582.1 245.4,582.0 246.1,582.0 246.8,582.0 247.4,582.0 248.1,582.0 248.8,581.9 249.5,581.9 250.1,581.9 250.8,581.9 251.5,581.8 252.1,581.8 252.8,581.8 253.5,581.8 254.1,581.8 254.8,581.7 255.5,581.7 256.2,581.7 256.8,581.7 257.5,581.7 258.2,581.6 258.8,581.6 259.5,581.6 260.2,581.6 260.8,581.6 261.5,581.5 262.2,581.5 262.9,581.5 263.5,581.5 264.2,581.5 264.9,581.4 265.5,581.4 266.2,581.4 266.9,581.4 267.5,581.4 268.2,581.4 268.9,581.3 269.6,581.3 270.2,581.3 270.9,581.3 271.6,581.3 272.2,581.3 272.9,581.3 273.6,581.2 274.2,581.2 274.9,581.2 275.6,581.2 276.3,581.2 276.9,581.2 277.6,581.2 278.3,581.1 278.9,581.1 279.6,581.1 280.3,581.1 280.9,581.1 281.6,581.1 282.3,581.1 283.0,581.1 283.6,581.0 284.3,581.0 285.0,581.0 285.6,581.0 286.3,581.0 287.0,581.0 287.6,581.0 288.3,580.9 289.0,580.9 289.7,580.9 290.3,580.9 291.0,580.9 291.7,580.9 292.3,580.9 293.0,580.8 293.7,580.8 294.3,580.8 295.0,580.8 295.7,580.8 296.4,580.8 297.0,580.8 297.7,580.7 298.4,580.7 299.0,580.7 299.7,580.7 300.4,580.7 301.0,580.7 301.7,580.7 302.4,580.6 303.0,580.6 303.7,580.6 304.4,580.6 305.1,580.6 305.7,580.6 306.4,580.5 307.1,580.5 307.7,580.5 308.4,580.5 309.1,580.5 309.7,580.5 310.4,580.4 311.1,580.4 311.8,580.4 312.4,580.4 313.1,580.4 313.8,580.4 314.4,580.3 315.1,580.3 315.8,580.3 316.4,580.3 317.1,580.3 317.8,580.3 318.5,580.2 319.1,580.2 319.8,580.2 320.5,580.2 321.1,580.2 321.8,580.2 322.5,580.1 323.1,580.1 323.8,580.1 324.5,580.1 325.2,580.1 325.8,580.1 326.5,580.0 327.2,580.0 327.8,580.0 328.5,580.0 329.2,580.0 329.8,580.0 330.5,579.9 331.2,579.9 331.9,579.9 332.5,579.9 333.2,579.9 333.9,579.9 334.5,579.8 335.2,579.8 335.9,579.8 336.5,579.8 337.2,579.8 337.9,579.8 338.6,579.7 339.2,579.7 339.9,579.7 340.6,579.7 341.2,579.7 341.9,579.7 342.6,579.6 343.2,579.6 343.9,579.6 344.6,579.6 345.3,579.5 345.9,579.5 346.6,579.5 347.3,579.5 347.9,579.4 348.6,579.4 349.3,579.4 349.9,579.3 350.6,579.3 351.3,579.3 352.0,579.2 352.6,579.2 353.3,579.2 354.0,579.1 354.6,579.1 355.3,579.1 356.0,579.1 356.6,579.0 357.3,579.0 358.0,579.0 358.7,578.9 359.3,578.9 360.0,578.9 360.7,578.8 361.3,578.8 362.0,578.8 362.7,578.8 363.3,578.7 364.0,578.7 364.7,578.7 365.4,578.6 366.0,578.6 366.7,578.6 367.4,578.5 368.0,578.5 368.7,578.5 369.4,578.4 370.0,578.4 370.7,578.4 371.4,578.3 372.1,578.3 372.7,578.2 373.4,578.2 374.1,578.2 374.7,578.1 375.4,578.1 376.1,578.1 376.7,578.0 377.4,578.0 378.1,578.0 378.8,577.9 379.4,577.9 380.1,577.9 380.8,577.8 381.4,577.8 382.1,577.8 382.8,577.7 383.4,577.7 384.1,577.7 384.8,577.6 385.4,577.6 386.1,577.5 386.8,577.5 387.5,577.4 388.1,577.4 388.8,577.3 389.5,577.2 390.1,577.1 390.8,577.0 391.5,576.9 392.1,576.9 392.8,576.8 393.5,576.7 394.2,576.6 394.8,576.5 395.5,576.5 396.2,576.4 396.8,576.3 397.5,576.2 398.2,576.1 398.8,576.0 399.5,576.0 400.2,575.9 400.9,575.9 401.5,575.8 402.2,575.8 402.9,575.7 403.5,575.7 404.2,575.7 404.9,575.6 405.5,575.6 406.2,575.6 406.9,575.5 407.6,575.5 408.2,575.5 408.9,575.4 409.6,575.4 410.2,575.3 410.9,575.3 411.6,575.3 412.2,575.2 412.9,575.1 413.6,575.0 414.3,574.7 414.9,574.5 415.6,574.2 416.3,573.9 416.9,573.7 417.6,573.4 418.3,573.2 418.9,573.0 419.6,572.9 420.3,572.8 421.0,572.8 421.6,572.8 422.3,572.7 423.0,572.7 423.6,572.6 424.3,572.6 425.0,572.6 425.6,572.5 426.3,572.5 427.0,572.5 427.7,572.4 428.3,572.4 429.0,572.4 429.7,572.3 430.3,572.3 431.0,572.2 431.7,572.2 432.3,572.2 433.0,572.1 433.7,572.1 434.4,572.1 435.0,572.0 435.7,572.0 436.4,572.0 437.0,571.9 437.7,571.9 438.4,571.8 439.0,571.8 439.7,571.8 440.4,571.7 441.1,571.8 441.7,571.9 442.4,572.1 443.1,572.3 443.7,572.5 444.4,572.7 445.1,572.9 445.7,573.1 446.4,573.3 447.1,573.5 447.8,573.7 448.4,573.9 449.1,574.1 449.8,574.3 450.4,574.5 451.1,574.7 451.8,575.0 452.4,575.3 453.1,575.6 453.8,576.0 454.5,576.3 455.1,576.7 455.8,577.1 456.5,577.5 457.1,577.8 457.8,578.2 458.5,578.6 459.1,578.9 459.8,579.3 460.5,579.7 461.2,580.1 461.8,580.5 462.5,580.9 463.2,581.4 463.8,581.8 464.5,582.1 L464.5,584.7 463.8,585.0 463.2,585.4 462.5,585.9 461.8,586.3 461.2,586.7 460.5,587.1 459.8,587.5 459.1,587.9 458.5,588.2 457.8,588.6 457.1,589.0 456.5,589.3 455.8,589.7 455.1,590.1 454.5,590.5 453.8,590.8 453.1,591.2 452.4,591.5 451.8,591.8 451.1,592.1 450.4,592.3 449.8,592.5 449.1,592.7 448.4,592.9 447.8,593.1 447.1,593.3 446.4,593.5 445.7,593.7 445.1,593.9 444.4,594.1 443.7,594.3 443.1,594.5 442.4,594.7 441.7,594.9 441.1,595.0 440.4,595.1 439.7,595.0 439.0,595.0 438.4,595.0 437.7,594.9 437.0,594.9 436.4,594.8 435.7,594.8 435.0,594.8 434.4,594.7 433.7,594.7 433.0,594.7 432.3,594.6 431.7,594.6 431.0,594.6 430.3,594.5 429.7,594.5 429.0,594.4 428.3,594.4 427.7,594.4 427.0,594.3 426.3,594.3 425.6,594.3 425.0,594.2 424.3,594.2 423.6,594.2 423.0,594.1 422.3,594.1 421.6,594.0 421.0,594.0 420.3,594.0 419.6,593.9 418.9,593.8 418.3,593.6 417.6,593.4 416.9,593.1 416.3,592.9 415.6,592.6 414.9,592.3 414.3,592.1 413.6,591.8 412.9,591.7 412.2,591.6 411.6,591.5 410.9,591.5 410.2,591.5 409.6,591.4 408.9,591.4 408.2,591.3 407.6,591.3 406.9,591.3 406.2,591.2 405.5,591.2 404.9,591.2 404.2,591.1 403.5,591.1 402.9,591.1 402.2,591.0 401.5,591.0 400.9,590.9 400.2,590.9 399.5,590.8 398.8,590.8 398.2,590.7 397.5,590.6 396.8,590.5 396.2,590.4 395.5,590.3 394.8,590.3 394.2,590.2 393.5,590.1 392.8,590.0 392.1,589.9 391.5,589.9 390.8,589.8 390.1,589.7 389.5,589.6 388.8,589.5 388.1,589.4 387.5,589.4 386.8,589.3 386.1,589.3 385.4,589.2 384.8,589.2 384.1,589.1 383.4,589.1 382.8,589.1 382.1,589.0 381.4,589.0 380.8,589.0 380.1,588.9 379.4,588.9 378.8,588.9 378.1,588.8 377.4,588.8 376.7,588.8 376.1,588.7 375.4,588.7 374.7,588.7 374.1,588.6 373.4,588.6 372.7,588.6 372.1,588.5 371.4,588.5 370.7,588.4 370.0,588.4 369.4,588.4 368.7,588.3 368.0,588.3 367.4,588.3 366.7,588.2 366.0,588.2 365.4,588.2 364.7,588.1 364.0,588.1 363.3,588.1 362.7,588.0 362.0,588.0 361.3,588.0 360.7,588.0 360.0,587.9 359.3,587.9 358.7,587.9 358.0,587.8 357.3,587.8 356.6,587.8 356.0,587.7 355.3,587.7 354.6,587.7 354.0,587.7 353.3,587.6 352.6,587.6 352.0,587.6 351.3,587.5 350.6,587.5 349.9,587.5 349.3,587.4 348.6,587.4 347.9,587.4 347.3,587.3 346.6,587.3 345.9,587.3 345.3,587.3 344.6,587.2 343.9,587.2 343.2,587.2 342.6,587.2 341.9,587.1 341.2,587.1 340.6,587.1 339.9,587.1 339.2,587.1 338.6,587.1 337.9,587.0 337.2,587.0 336.5,587.0 335.9,587.0 335.2,587.0 334.5,587.0 333.9,586.9 333.2,586.9 332.5,586.9 331.9,586.9 331.2,586.9 330.5,586.9 329.8,586.8 329.2,586.8 328.5,586.8 327.8,586.8 327.2,586.8 326.5,586.8 325.8,586.7 325.2,586.7 324.5,586.7 323.8,586.7 323.1,586.7 322.5,586.7 321.8,586.6 321.1,586.6 320.5,586.6 319.8,586.6 319.1,586.6 318.5,586.6 317.8,586.5 317.1,586.5 316.4,586.5 315.8,586.5 315.1,586.5 314.4,586.5 313.8,586.4 313.1,586.4 312.4,586.4 311.8,586.4 311.1,586.4 310.4,586.4 309.7,586.3 309.1,586.3 308.4,586.3 307.7,586.3 307.1,586.3 306.4,586.3 305.7,586.2 305.1,586.2 304.4,586.2 303.7,586.2 303.0,586.2 302.4,586.2 301.7,586.1 301.0,586.1 300.4,586.1 299.7,586.1 299.0,586.1 298.4,586.1 297.7,586.1 297.0,586.0 296.4,586.0 295.7,586.0 295.0,586.0 294.3,586.0 293.7,586.0 293.0,586.0 292.3,585.9 291.7,585.9 291.0,585.9 290.3,585.9 289.7,585.9 289.0,585.9 288.3,585.9 287.6,585.8 287.0,585.8 286.3,585.8 285.6,585.8 285.0,585.8 284.3,585.8 283.6,585.8 283.0,585.7 282.3,585.7 281.6,585.7 280.9,585.7 280.3,585.7 279.6,585.7 278.9,585.7 278.3,585.7 277.6,585.6 276.9,585.6 276.3,585.6 275.6,585.6 274.9,585.6 274.2,585.6 273.6,585.6 272.9,585.5 272.2,585.5 271.6,585.5 270.9,585.5 270.2,585.5 269.6,585.5 268.9,585.5 268.2,585.4 267.5,585.4 266.9,585.4 266.2,585.4 265.5,585.4 264.9,585.4 264.2,585.3 263.5,585.3 262.9,585.3 262.2,585.3 261.5,585.3 260.8,585.2 260.2,585.2 259.5,585.2 258.8,585.2 258.2,585.2 257.5,585.1 256.8,585.1 256.2,585.1 255.5,585.1 254.8,585.1 254.1,585.0 253.5,585.0 252.8,585.0 252.1,585.0 251.5,585.0 250.8,584.9 250.1,584.9 249.5,584.9 248.8,584.9 248.1,584.8 247.4,584.8 246.8,584.8 246.1,584.8 245.4,584.8 244.8,584.7 244.1,584.7 243.4,584.7 242.8,584.7 242.1,584.7 241.4,584.6 240.7,584.6 240.1,584.6 239.4,584.6 238.7,584.6 238.1,584.6 237.4,584.6 236.7,584.5 236.1,584.5 235.4,584.5 234.7,584.5 234.0,584.5 233.4,584.5 232.7,584.5 232.0,584.5 231.4,584.4 230.7,584.4 230.0,584.4 229.4,584.4 228.7,584.4 228.0,584.4 227.3,584.4 226.7,584.4 226.0,584.4 225.3,584.3 224.7,584.3 224.0,584.3 223.3,584.3 222.7,584.3 222.0,584.3 221.3,584.3 220.6,584.3 220.0,584.2 219.3,584.2 218.6,584.2 218.0,584.2 217.3,584.2Z" fill="#8c9bfa"/><path d="M466.4 583.7h0M471.7 583.1h0" stroke="#8c9bfa" stroke-width="1.5" stroke-linecap="round"/><path d="M400.5 572.9V593.3" stroke="#222" stroke-width="0.7"/><path d="M216.2,608.2 216.9,607.8 217.5,607.4 218.2,607.2 218.9,607.1 219.6,607.0 220.2,607.0 220.9,606.9 221.6,606.8 222.3,606.7 222.9,606.6 223.6,606.5 224.3,606.4 225.0,606.3 225.6,606.2 226.3,606.1 227.0,606.0 227.7,605.8 228.3,605.7 229.0,605.6 229.7,605.4 230.4,605.3 231.0,605.1 231.7,605.0 232.4,604.9 233.1,604.7 233.7,604.6 234.4,604.5 235.1,604.3 235.8,604.2 236.4,604.0 237.1,603.9 237.8,603.7 238.5,603.6 239.1,603.4 239.8,603.3 240.5,603.1 241.2,603.0 241.8,602.8 242.5,602.7 243.2,602.5 243.9,602.3 244.5,602.2 245.2,602.0 245.9,601.9 246.6,601.7 247.2,601.6 247.9,601.4 248.6,601.3 249.3,601.3 249.9,601.4 250.6,601.6 251.3,601.7 252.0,601.9 252.6,602.0 253.3,602.2 254.0,602.3 254.7,602.5 255.3,602.6 256.0,602.7 256.7,602.9 257.4,603.0 258.0,603.2 258.7,603.4 259.4,603.5 260.1,603.7 260.7,603.8 261.4,604.0 262.1,604.2 262.8,604.3 263.4,604.5 264.1,604.7 264.8,604.8 265.5,605.0 266.1,605.2 266.8,605.4 267.5,605.6 268.2,605.9 268.8,606.2 269.5,606.4 270.2,606.7 270.9,606.9 271.5,607.2 272.2,607.4 272.9,607.7 273.6,607.9 274.2,608.2 274.9,608.4 275.6,608.5 276.3,608.6 276.9,608.8 277.6,608.9 278.3,609.0 279.0,609.2 279.6,609.3 280.3,609.4 281.0,609.6 281.7,609.7 282.3,609.8 283.0,609.9 283.7,610.0 284.4,610.1 285.0,610.2 285.7,610.2 286.4,610.3 287.1,610.4 287.7,610.5 288.4,610.5 289.1,610.6 289.8,610.7 290.4,610.8 291.1,610.8 291.8,610.8 292.5,610.9 293.1,610.9 293.8,610.9 294.5,611.0 295.2,611.0 295.8,611.0 296.5,611.1 297.2,611.1 297.9,611.1 298.5,611.2 299.2,611.2 299.9,611.2 300.6,611.3 301.2,611.3 301.9,611.3 302.6,611.4 303.3,611.4 303.9,611.4 304.6,611.5 305.3,611.5 306.0,611.5 306.6,611.6 307.3,611.6 308.0,611.6 308.7,611.6 309.3,611.7 310.0,611.7 L310.0,613.1 309.3,613.1 308.7,613.2 308.0,613.2 307.3,613.2 306.6,613.2 306.0,613.3 305.3,613.3 304.6,613.3 303.9,613.4 303.3,613.4 302.6,613.4 301.9,613.5 301.2,613.5 300.6,613.5 299.9,613.6 299.2,613.6 298.5,613.6 297.9,613.7 297.2,613.7 296.5,613.7 295.8,613.8 295.2,613.8 294.5,613.8 293.8,613.9 293.1,613.9 292.5,613.9 291.8,614.0 291.1,614.0 290.4,614.0 289.8,614.1 289.1,614.2 288.4,614.3 287.7,614.3 287.1,614.4 286.4,614.5 285.7,614.6 285.0,614.6 284.4,614.7 283.7,614.8 283.0,614.9 282.3,615.0 281.7,615.1 281.0,615.2 280.3,615.4 279.6,615.5 279.0,615.6 278.3,615.8 277.6,615.9 276.9,616.0 276.3,616.2 275.6,616.3 274.9,616.4 274.2,616.6 273.6,616.9 272.9,617.1 272.2,617.4 271.5,617.6 270.9,617.9 270.2,618.1 269.5,618.4 268.8,618.6 268.2,618.9 267.5,619.2 266.8,619.4 266.1,619.6 265.5,619.8 264.8,620.0 264.1,620.1 263.4,620.3 262.8,620.5 262.1,620.6 261.4,620.8 260.7,621.0 260.1,621.1 259.4,621.3 258.7,621.4 258.0,621.6 257.4,621.8 256.7,621.9 256.0,622.1 255.3,622.2 254.7,622.3 254.0,622.5 253.3,622.6 252.6,622.8 252.0,622.9 251.3,623.1 250.6,623.2 249.9,623.4 249.3,623.5 248.6,623.5 247.9,623.4 247.2,623.2 246.6,623.1 245.9,622.9 245.2,622.8 244.5,622.6 243.9,622.5 243.2,622.3 242.5,622.1 241.8,622.0 241.2,621.8 240.5,621.7 239.8,621.5 239.1,621.4 238.5,621.2 237.8,621.1 237.1,620.9 236.4,620.8 235.8,620.6 235.1,620.5 234.4,620.3 233.7,620.2 233.1,620.1 232.4,619.9 231.7,619.8 231.0,619.7 230.4,619.5 229.7,619.4 229.0,619.2 228.3,619.1 227.7,619.0 227.0,618.8 226.3,618.7 225.6,618.6 225.0,618.5 224.3,618.4 223.6,618.3 222.9,618.2 222.3,618.1 221.6,618.0 220.9,617.9 220.2,617.8 219.6,617.8 218.9,617.7 218.2,617.6 217.5,617.4 216.9,617.0 216.2,616.6Z" fill="#ef6ce8"/><path d="M317.4 612.3h0M322.5 612.5h0M325.6 612.4h0M330.4 612.4h0M337.8 612.5h0M340.1 612.5h0M345.4 612.4h0M352.1 612.3h0M355.7 612.3h0M362.3 612h0M367.6 612.5h0M373.3 612.4h0M377.8 612.6h0M385.8 613h0M391.5 613h0M397.6 612.2h0M403.9 612h0M411.8 612.7h0M419.6 612.3h0M425.6 612.5h0M432.2 612.4h0M439.7 612.3h0M447.1 612.2h0M460 612.2h0" stroke="#ef6ce8" stroke-width="1.5" stroke-linecap="round"/><path d="M252.0 601.8V622.2" stroke="#222" stroke-width="0.7"/><defs><pattern id="spk" width="2" height="2" patternUnits="userSpaceOnUse"><rect x="1" y="0" width="0.6" height="2" fill="#fff" fill-opacity="0.35"/></pattern></defs><path d="M217.3,582.6 218.0,582.6 218.6,582.6 219.3,582.6 220.0,582.6 220.6,582.5 221.3,582.5 222.0,582.5 222.7,582.5 223.3,582.5 224.0,582.5 224.7,582.5 225.3,582.5 226.0,582.4 226.7,582.4 227.3,582.4 228.0,582.4 228.7,582.4 229.4,582.4 230.0,582.4 230.7,582.4 231.4,582.4 232.0,582.3 232.7,582.3 233.4,582.3 234.0,582.3 234.7,582.3 235.4,582.3 236.1,582.3 236.7,582.3 237.4,582.2 238.1,582.2 238.7,582.2 239.4,582.2 240.1,582.2 240.7,582.2 241.4,582.2 242.1,582.1 242.8,582.1 243.4,582.1 244.1,582.1 244.8,582.1 245.4,582.0 246.1,582.0 246.8,582.0 247.4,582.0 248.1,582.0 248.8,581.9 249.5,581.9 250.1,581.9 250.8,581.9 251.5,581.8 252.1,581.8 252.8,581.8 253.5,581.8 254.1,581.8 254.8,581.7 255.5,581.7 256.2,581.7 256.8,581.7 257.5,581.7 258.2,581.6 258.8,581.6 259.5,581.6 260.2,581.6 260.8,581.6 261.5,581.5 262.2,581.5 262.9,581.5 263.5,581.5 264.2,581.5 264.9,581.4 265.5,581.4 266.2,581.4 266.9,581.4 267.5,581.4 268.2,581.4 268.9,581.3 269.6,581.3 270.2,581.3 270.9,581.3 271.6,581.3 272.2,581.3 272.9,581.3 273.6,581.2 274.2,581.2 274.9,581.2 275.6,581.2 276.3,581.2 276.9,581.2 277.6,581.2 278.3,581.1 278.9,581.1 279.6,581.1 280.3,581.1 280.9,581.1 281.6,581.1 282.3,581.1 283.0,581.1 283.6,581.0 284.3,581.0 285.0,581.0 285.6,581.0 286.3,581.0 287.0,581.0 287.6,581.0 288.3,580.9 289.0,580.9 289.7,580.9 290.3,580.9 291.0,580.9 291.7,580.9 292.3,580.9 293.0,580.8 293.7,580.8 294.3,580.8 295.0,580.8 295.7,580.8 296.4,580.8 297.0,580.8 297.7,580.7 298.4,580.7 299.0,580.7 299.7,580.7 300.4,580.7 301.0,580.7 301.7,580.7 302.4,580.6 303.0,580.6 303.7,580.6 304.4,580.6 305.1,580.6 305.7,580.6 306.4,580.5 307.1,580.5 307.7,580.5 308.4,580.5 309.1,580.5 309.7,580.5 310.4,580.4 311.1,580.4 311.8,580.4 312.4,580.4 313.1,580.4 313.8,580.4 314.4,580.3 315.1,580.3 315.8,580.3 316.4,580.3 317.1,580.3 317.8,580.3 318.5,580.2 319.1,580.2 319.8,580.2 320.5,580.2 321.1,580.2 321.8,580.2 322.5,580.1 323.1,580.1 323.8,580.1 324.5,580.1 325.2,580.1 325.8,580.1 326.5,580.0 327.2,580.0 327.8,580.0 328.5,580.0 329.2,580.0 329.8,580.0 330.5,579.9 331.2,579.9 331.9,579.9 332.5,579.9 333.2,579.9 333.9,579.9 334.5,579.8 335.2,579.8 335.9,579.8 336.5,579.8 337.2,579.8 337.9,579.8 338.6,579.7 339.2,579.7 339.9,579.7 340.6,579.7 341.2,579.7 341.9,579.7 342.6,579.6 343.2,579.6 343.9,579.6 344.6,579.6 345.3,579.5 345.9,579.5 346.6,579.5 347.3,579.5 347.9,579.4 348.6,579.4 349.3,579.4 349.9,579.3 350.6,579.3 351.3,579.3 352.0,579.2 352.6,579.2 353.3,579.2 354.0,579.1 354.6,579.1 355.3,579.1 356.0,579.1 356.6,579.0 357.3,579.0 358.0,579.0 358.7,578.9 359.3,578.9 360.0,578.9 360.7,578.8 361.3,578.8 362.0,578.8 362.7,578.8 363.3,578.7 364.0,578.7 364.7,578.7 365.4,578.6 366.0,578.6 366.7,578.6 367.4,578.5 368.0,578.5 368.7,578.5 369.4,578.4 370.0,578.4 370.7,578.4 371.4,578.3 372.1,578.3 372.7,578.2 373.4,578.2 374.1,578.2 374.7,578.1 375.4,578.1 376.1,578.1 376.7,578.0 377.4,578.0 378.1,578.0 378.8,577.9 379.4,577.9 380.1,577.9 380.8,577.8 381.4,577.8 382.1,577.8 382.8,577.7 383.4,577.7 384.1,577.7 384.8,577.6 385.4,577.6 386.1,577.5 386.8,577.5 387.5,577.4 388.1,577.4 388.8,577.3 389.5,577.2 390.1,577.1 390.8,577.0 391.5,576.9 392.1,576.9 392.8,576.8 393.5,576.7 394.2,576.6 394.8,576.5 395.5,576.5 396.2,576.4 396.8,576.3 397.5,576.2 398.2,576.1 398.8,576.0 399.5,576.0 400.2,575.9 400.9,575.9 401.5,575.8 402.2,575.8 402.9,575.7 403.5,575.7 404.2,575.7 404.9,575.6 405.5,575.6 406.2,575.6 406.9,575.5 407.6,575.5 408.2,575.5 408.9,575.4 409.6,575.4 410.2,575.3 410.9,575.3 411.6,575.3 412.2,575.2 412.9,575.1 413.6,575.0 414.3,574.7 414.9,574.5 415.6,574.2 416.3,573.9 416.9,573.7 417.6,573.4 418.3,573.2 418.9,573.0 419.6,572.9 420.3,572.8 421.0,572.8 421.6,572.8 422.3,572.7 423.0,572.7 423.6,572.6 424.3,572.6 425.0,572.6 425.6,572.5 426.3,572.5 427.0,572.5 427.7,572.4 428.3,572.4 429.0,572.4 429.7,572.3 430.3,572.3 431.0,572.2 431.7,572.2 432.3,572.2 433.0,572.1 433.7,572.1 434.4,572.1 435.0,572.0 435.7,572.0 436.4,572.0 437.0,571.9 437.7,571.9 438.4,571.8 439.0,571.8 439.7,571.8 440.4,571.7 441.1,571.8 441.7,571.9 442.4,572.1 443.1,572.3 443.7,572.5 444.4,572.7 445.1,572.9 445.7,573.1 446.4,573.3 447.1,573.5 447.8,573.7 448.4,573.9 449.1,574.1 449.8,574.3 450.4,574.5 451.1,574.7 451.8,575.0 452.4,575.3 453.1,575.6 453.8,576.0 454.5,576.3 455.1,576.7 455.8,577.1 456.5,577.5 457.1,577.8 457.8,578.2 458.5,578.6 459.1,578.9 459.8,579.3 460.5,579.7 461.2,580.1 461.8,580.5 462.5,580.9 463.2,581.4 463.8,581.8 464.5,582.1 L464.5,584.7 463.8,585.0 463.2,585.4 462.5,585.9 461.8,586.3 461.2,586.7 460.5,587.1 459.8,587.5 459.1,587.9 458.5,588.2 457.8,588.6 457.1,589.0 456.5,589.3 455.8,589.7 455.1,590.1 454.5,590.5 453.8,590.8 453.1,591.2 452.4,591.5 451.8,591.8 451.1,592.1 450.4,592.3 449.8,592.5 449.1,592.7 448.4,592.9 447.8,593.1 447.1,593.3 446.4,593.5 445.7,593.7 445.1,593.9 444.4,594.1 443.7,594.3 443.1,594.5 442.4,594.7 441.7,594.9 441.1,595.0 440.4,595.1 439.7,595.0 439.0,595.0 438.4,595.0 437.7,594.9 437.0,594.9 436.4,594.8 435.7,594.8 435.0,594.8 434.4,594.7 433.7,594.7 433.0,594.7 432.3,594.6 431.7,594.6 431.0,594.6 430.3,594.5 429.7,594.5 429.0,594.4 428.3,594.4 427.7,594.4 427.0,594.3 426.3,594.3 425.6,594.3 425.0,594.2 424.3,594.2 423.6,594.2 423.0,594.1 422.3,594.1 421.6,594.0 421.0,594.0 420.3,594.0 419.6,593.9 418.9,593.8 418.3,593.6 417.6,593.4 416.9,593.1 416.3,592.9 415.6,592.6 414.9,592.3 414.3,592.1 413.6,591.8 412.9,591.7 412.2,591.6 411.6,591.5 410.9,591.5 410.2,591.5 409.6,591.4 408.9,591.4 408.2,591.3 407.6,591.3 406.9,591.3 406.2,591.2 405.5,591.2 404.9,591.2 404.2,591.1 403.5,591.1 402.9,591.1 402.2,591.0 401.5,591.0 400.9,590.9 400.2,590.9 399.5,590.8 398.8,590.8 398.2,590.7 397.5,590.6 396.8,590.5 396.2,590.4 395.5,590.3 394.8,590.3 394.2,590.2 393.5,590.1 392.8,590.0 392.1,589.9 391.5,589.9 390.8,589.8 390.1,589.7 389.5,589.6 388.8,589.5 388.1,589.4 387.5,589.4 386.8,589.3 386.1,589.3 385.4,589.2 384.8,589.2 384.1,589.1 383.4,589.1 382.8,589.1 382.1,589.0 381.4,589.0 380.8,589.0 380.1,588.9 379.4,588.9 378.8,588.9 378.1,588.8 377.4,588.8 376.7,588.8 376.1,588.7 375.4,588.7 374.7,588.7 374.1,588.6 373.4,588.6 372.7,588.6 372.1,588.5 371.4,588.5 370.7,588.4 370.0,588.4 369.4,588.4 368.7,588.3 368.0,588.3 367.4,588.3 366.7,588.2 366.0,588.2 365.4,588.2 364.7,588.1 364.0,588.1 363.3,588.1 362.7,588.0 362.0,588.0 361.3,588.0 360.7,588.0 360.0,587.9 359.3,587.9 358.7,587.9 358.0,587.8 357.3,587.8 356.6,587.8 356.0,587.7 355.3,587.7 354.6,587.7 354.0,587.7 353.3,587.6 352.6,587.6 352.0,587.6 351.3,587.5 350.6,587.5 349.9,587.5 349.3,587.4 348.6,587.4 347.9,587.4 347.3,587.3 346.6,587.3 345.9,587.3 345.3,587.3 344.6,587.2 343.9,587.2 343.2,587.2 342.6,587.2 341.9,587.1 341.2,587.1 340.6,587.1 339.9,587.1 339.2,587.1 338.6,587.1 337.9,587.0 337.2,587.0 336.5,587.0 335.9,587.0 335.2,587.0 334.5,587.0 333.9,586.9 333.2,586.9 332.5,586.9 331.9,586.9 331.2,586.9 330.5,586.9 329.8,586.8 329.2,586.8 328.5,586.8 327.8,586.8 327.2,586.8 326.5,586.8 325.8,586.7 325.2,586.7 324.5,586.7 323.8,586.7 323.1,586.7 322.5,586.7 321.8,586.6 321.1,586.6 320.5,586.6 319.8,586.6 319.1,586.6 318.5,586.6 317.8,586.5 317.1,586.5 316.4,586.5 315.8,586.5 315.1,586.5 314.4,586.5 313.8,586.4 313.1,586.4 312.4,586.4 311.8,586.4 311.1,586.4 310.4,586.4 309.7,586.3 309.1,586.3 308.4,586.3 307.7,586.3 307.1,586.3 306.4,586.3 305.7,586.2 305.1,586.2 304.4,586.2 303.7,586.2 303.0,586.2 302.4,586.2 301.7,586.1 301.0,586.1 300.4,586.1 299.7,586.1 299.0,586.1 298.4,586.1 297.7,586.1 297.0,586.0 296.4,586.0 295.7,586.0 295.0,586.0 294.3,586.0 293.7,586.0 293.0,586.0 292.3,585.9 291.7,585.9 291.0,585.9 290.3,585.9 289.7,585.9 289.0,585.9 288.3,585.9 287.6,585.8 287.0,585.8 286.3,585.8 285.6,585.8 285.0,585.8 284.3,585.8 283.6,585.8 283.0,585.7 282.3,585.7 281.6,585.7 280.9,585.7 280.3,585.7 279.6,585.7 278.9,585.7 278.3,585.7 277.6,585.6 276.9,585.6 276.3,585.6 275.6,585.6 274.9,585.6 274.2,585.6 273.6,585.6 272.9,585.5 272.2,585.5 271.6,585.5 270.9,585.5 270.2,585.5 269.6,585.5 268.9,585.5 268.2,585.4 267.5,585.4 266.9,585.4 266.2,585.4 265.5,585.4 264.9,585.4 264.2,585.3 263.5,585.3 262.9,585.3 262.2,585.3 261.5,585.3 260.8,585.2 260.2,585.2 259.5,585.2 258.8,585.2 258.2,585.2 257.5,585.1 256.8,585.1 256.2,585.1 255.5,585.1 254.8,585.1 254.1,585.0 253.5,585.0 252.8,585.0 252.1,585.0 251.5,585.0 250.8,584.9 250.1,584.9 249.5,584.9 248.8,584.9 248.1,584.8 247.4,584.8 246.8,584.8 246.1,584.8 245.4,584.8 244.8,584.7 244.1,584.7 243.4,584.7 242.8,584.7 242.1,584.7 241.4,584.6 240.7,584.6 240.1,584.6 239.4,584.6 238.7,584.6 238.1,584.6 237.4,584.6 236.7,584.5 236.1,584.5 235.4,584.5 234.7,584.5 234.0,584.5 233.4,584.5 232.7,584.5 232.0,584.5 231.4,584.4 230.7,584.4 230.0,584.4 229.4,584.4 228.7,584.4 228.0,584.4 227.3,584.4 226.7,584.4 226.0,584.4 225.3,584.3 224.7,584.3 224.0,584.3 223.3,584.3 222.7,584.3 222.0,584.3 221.3,584.3 220.6,584.3 220.0,584.2 219.3,584.2 218.6,584.2 218.0,584.2 217.3,584.2Z" fill="url(#spk)"/><path d="M216.2,608.2 216.9,607.8 217.5,607.4 218.2,607.2 218.9,607.1 219.6,607.0 220.2,607.0 220.9,606.9 221.6,606.8 222.3,606.7 222.9,606.6 223.6,606.5 224.3,606.4 225.0,606.3 225.6,606.2 226.3,606.1 227.0,606.0 227.7,605.8 228.3,605.7 229.0,605.6 229.7,605.4 230.4,605.3 231.0,605.1 231.7,605.0 232.4,604.9 233.1,604.7 233.7,604.6 234.4,604.5 235.1,604.3 235.8,604.2 236.4,604.0 237.1,603.9 237.8,603.7 238.5,603.6 239.1,603.4 239.8,603.3 240.5,603.1 241.2,603.0 241.8,602.8 242.5,602.7 243.2,602.5 243.9,602.3 244.5,602.2 245.2,602.0 245.9,601.9 246.6,601.7 247.2,601.6 247.9,601.4 248.6,601.3 249.3,601.3 249.9,601.4 250.6,601.6 251.3,601.7 252.0,601.9 252.6,602.0 253.3,602.2 254.0,602.3 254.7,602.5 255.3,602.6 256.0,602.7 256.7,602.9 257.4,603.0 258.0,603.2 258.7,603.4 259.4,603.5 260.1,603.7 260.7,603.8 261.4,604.0 262.1,604.2 262.8,604.3 263.4,604.5 264.1,604.7 264.8,604.8 265.5,605.0 266.1,605.2 266.8,605.4 267.5,605.6 268.2,605.9 268.8,606.2 269.5,606.4 270.2,606.7 270.9,606.9 271.5,607.2 272.2,607.4 272.9,607.7 273.6,607.9 274.2,608.2 274.9,608.4 275.6,608.5 276.3,608.6 276.9,608.8 277.6,608.9 278.3,609.0 279.0,609.2 279.6,609.3 280.3,609.4 281.0,609.6 281.7,609.7 282.3,609.8 283.0,609.9 283.7,610.0 284.4,610.1 285.0,610.2 285.7,610.2 286.4,610.3 287.1,610.4 287.7,610.5 288.4,610.5 289.1,610.6 289.8,610.7 290.4,610.8 291.1,610.8 291.8,610.8 292.5,610.9 293.1,610.9 293.8,610.9 294.5,611.0 295.2,611.0 295.8,611.0 296.5,611.1 297.2,611.1 297.9,611.1 298.5,611.2 299.2,611.2 299.9,611.2 300.6,611.3 301.2,611.3 301.9,611.3 302.6,611.4 303.3,611.4 303.9,611.4 304.6,611.5 305.3,611.5 306.0,611.5 306.6,611.6 307.3,611.6 308.0,611.6 308.7,611.6 309.3,611.7 310.0,611.7 L310.0,613.1 309.3,613.1 308.7,613.2 308.0,613.2 307.3,613.2 306.6,613.2 306.0,613.3 305.3,613.3 304.6,613.3 303.9,613.4 303.3,613.4 302.6,613.4 301.9,613.5 301.2,613.5 300.6,613.5 299.9,613.6 299.2,613.6 298.5,613.6 297.9,613.7 297.2,613.7 296.5,613.7 295.8,613.8 295.2,613.8 294.5,613.8 293.8,613.9 293.1,613.9 292.5,613.9 291.8,614.0 291.1,614.0 290.4,614.0 289.8,614.1 289.1,614.2 288.4,614.3 287.7,614.3 287.1,614.4 286.4,614.5 285.7,614.6 285.0,614.6 284.4,614.7 283.7,614.8 283.0,614.9 282.3,615.0 281.7,615.1 281.0,615.2 280.3,615.4 279.6,615.5 279.0,615.6 278.3,615.8 277.6,615.9 276.9,616.0 276.3,616.2 275.6,616.3 274.9,616.4 274.2,616.6 273.6,616.9 272.9,617.1 272.2,617.4 271.5,617.6 270.9,617.9 270.2,618.1 269.5,618.4 268.8,618.6 268.2,618.9 267.5,619.2 266.8,619.4 266.1,619.6 265.5,619.8 264.8,620.0 264.1,620.1 263.4,620.3 262.8,620.5 262.1,620.6 261.4,620.8 260.7,621.0 260.1,621.1 259.4,621.3 258.7,621.4 258.0,621.6 257.4,621.8 256.7,621.9 256.0,622.1 255.3,622.2 254.7,622.3 254.0,622.5 253.3,622.6 252.6,622.8 252.0,622.9 251.3,623.1 250.6,623.2 249.9,623.4 249.3,623.5 248.6,623.5 247.9,623.4 247.2,623.2 246.6,623.1 245.9,622.9 245.2,622.8 244.5,622.6 243.9,622.5 243.2,622.3 242.5,622.1 241.8,622.0 241.2,621.8 240.5,621.7 239.8,621.5 239.1,621.4 238.5,621.2 237.8,621.1 237.1,620.9 236.4,620.8 235.8,620.6 235.1,620.5 234.4,620.3 233.7,620.2 233.1,620.1 232.4,619.9 231.7,619.8 231.0,619.7 230.4,619.5 229.7,619.4 229.0,619.2 228.3,619.1 227.7,619.0 227.0,618.8 226.3,618.7 225.6,618.6 225.0,618.5 224.3,618.4 223.6,618.3 222.9,618.2 222.3,618.1 221.6,618.0 220.9,617.9 220.2,617.8 219.6,617.8 218.9,617.7 218.2,617.6 217.5,617.4 216.9,617.0 216.2,616.6Z" fill="url(#spk)"/><g stroke-width="3.8" stroke-linecap="round" stroke-opacity="0.88"><use href="#qmt" stroke="#9bd93c"/><use href="#qmu" stroke="#472d7b"/><use href="#qmv" stroke="#1fa287"/><use href="#qmw" stroke="#6ccd5a"/><use href="#qmx" stroke="#25848e"/><use href="#qmz" stroke="#355f8d"/><use href="#qnb" stroke="#38598c"/><use href="#qnd" stroke="#1f968b"/><use href="#qne" stroke="#6ccd5a"/><use href="#qnf" stroke="#463480"/><use href="#qng" stroke="#31668e"/><use href="#qni" stroke="#ff4c00"/><use href="#qnj" stroke="#9bd93c"/><use href="#qnk" stroke="#2a788e"/><use href="#qnn" stroke="#44bf70"/><use href="#qnq" stroke="#fcc62c"/><use href="#qnr" stroke="#1fa287"/><use href="#qnu" stroke="#cde11d"/><use href="#qnz" stroke="#472d7b"/><use href="#qob" stroke="#238a8d"/><use href="#qoc" stroke="#44bf70"/><use href="#qod" stroke="#44bf70"/><use href="#qoe" stroke="#50c46a"/><use href="#qog" stroke="#443b84"/><use href="#qom" stroke="#443b84"/><use href="#qon" stroke="#7ad151"/><use href="#qoo" stroke="#5ec962"/><use href="#qop" stroke="#fde725"/><use href="#qor" stroke="#472d7b"/><use href="#qot" stroke="#5ec962"/><use href="#qou" stroke="#1f968b"/><use href="#qow" stroke="#50c46a"/><use href="#qox" stroke="#22a884"/><use href="#qpa" stroke="#cde11d"/><use href="#qpc" stroke="#8bd646"/><use href="#qpd" stroke="#9bd93c"/><use href="#qpe" stroke="#414487"/><use href="#qpf" stroke="#481c6e"/><use href="#qpg" stroke="#faa633"/><use href="#qph" stroke="#7ad151"/><use href="#qpk" stroke="#28ae80"/><use href="#qpl" stroke="#cde11d"/><use href="#qpm" stroke="#faa633"/><use href="#qpq" stroke="#fcc62c"/><use href="#qpr" stroke="#38b977"/><use href="#qpw" stroke="#3e4a89"/><use href="#qpx" stroke="#355f8d"/><use href="#qpz" stroke="#277e8e"/><use href="#qqb" stroke="#1e9c89"/><use href="#qqd" stroke="#460a5d"/><use href="#qqf" stroke="#463480"/><use href="#qqg" stroke="#471365"/><use href="#qqh" stroke="#21918c"/><use href="#qqq" stroke="#463480"/><use href="#qqr" stroke="#482475"/><use href="#qqt" stroke="#fc791a"/><use href="#qqu" stroke="#443b84"/><use href="#qqx" stroke="#38b977"/><use href="#qrf" stroke="#2fb47c"/><use href="#qri" stroke="#8bd646"/><use href="#qrk" stroke="#21918c"/><use href="#qrq" stroke="#25848e"/><use href="#qrs" stroke="#28ae80"/><use href="#qrt" stroke="#277e8e"/><use href="#qru" stroke="#38b977"/><use href="#qrv" stroke="#5ec962"/><use href="#qrx" stroke="#3e4a89"/><use href="#qry" stroke="#8bd646"/><use href="#qrz" stroke="#22a884"/><use href="#qse" stroke="#482475"/><use href="#qsf" stroke="#482475"/><use href="#qsg" stroke="#471365"/><use href="#qsh" stroke="#fde725"/><use href="#qsj" stroke="#414487"/><use href="#qsk" stroke="#fcc62c"/><use href="#qsn" stroke="#1fa287"/><use href="#qso" stroke="#fde725"/><use href="#qsq" stroke="#2fb47c"/><use href="#qsr" stroke="#6ccd5a"/><use href="#qsu" stroke="#460a5d"/><use href="#qsw" stroke="#ff4c00"/><use href="#qsx" stroke="#440154"/><use href="#qsz" stroke="#cde11d"/><use href="#qta" stroke="#1f968b"/><use href="#qtg" stroke="#3b528b"/><use href="#qth" stroke="#1fa287"/><use href="#qti" stroke="#fc791a"/><use href="#qtk" stroke="#238a8d"/><use href="#qtl" stroke="#2fb47c"/><use href="#qtm" stroke="#3b528b"/><use href="#qtn" stroke="#2fb47c"/><use href="#qtq" stroke="#7ad151"/><use href="#qtu" stroke="#414487"/><use href="#qtv" stroke="#9bd93c"/><use href="#qtw" stroke="#28ae80"/><use href="#qua" stroke="#2f6c8e"/><use href="#quc" stroke="#8bd646"/><use href="#que" stroke="#277e8e"/><use href="#quf" stroke="#7ad151"/><use href="#qui" stroke="#414487"/><use href="#quj" stroke="#481c6e"/><use href="#qun" stroke="#38b977"/><use href="#quo" stroke="#1e9c89"/><use href="#qup" stroke="#2c728e"/><use href="#quq" stroke="#2c728e"/><use href="#quu" stroke="#38598c"/><use href="#quv" stroke="#50c46a"/><use href="#quw" stroke="#21918c"/><use href="#qux" stroke="#2a788e"/><use href="#qve" stroke="#355f8d"/><use href="#qvf" stroke="#471365"/><use href="#qvj" stroke="#2f6c8e"/><use href="#qvl" stroke="#481c6e"/><use href="#qmy" stroke="#38b977"/><use href="#qna" stroke="#6ccd5a"/><use href="#qnc" stroke="#cde11d"/><use href="#qnh" stroke="#9bd93c"/><use href="#qnl" stroke="#fde725"/><use href="#qnm" stroke="#1f968b"/><use href="#qno" stroke="#fc791a"/><use href="#qnp" stroke="#fcc62c"/><use href="#qns" stroke="#faa633"/><use href="#qnt" stroke="#440154"/><use href="#qnv" stroke="#7ad151"/><use href="#qnw" stroke="#fde725"/><use href="#qnx" stroke="#28ae80"/><use href="#qny" stroke="#5ec962"/><use href="#qoa" stroke="#3e4a89"/><use href="#qof" stroke="#460a5d"/><use href="#qoh" stroke="#44bf70"/><use href="#qoi" stroke="#8bd646"/><use href="#qoj" stroke="#2c728e"/><use href="#qok" stroke="#482475"/><use href="#qol" stroke="#31668e"/><use href="#qoq" stroke="#1e9c89"/><use href="#qos" stroke="#25848e"/><use href="#qov" stroke="#1fa287"/><use href="#qoy" stroke="#2fb47c"/><use href="#qoz" stroke="#fc791a"/><use href="#qpb" stroke="#481c6e"/><use href="#qpi" stroke="#31668e"/><use href="#qpj" stroke="#8bd646"/><use href="#qpn" stroke="#6ccd5a"/><use href="#qpo" stroke="#472d7b"/><use href="#qpp" stroke="#9bd93c"/><use href="#qps" stroke="#443b84"/><use href="#qpt" stroke="#414487"/><use href="#qpu" stroke="#3b528b"/><use href="#qpv" stroke="#443b84"/><use href="#qpy" stroke="#8bd646"/><use href="#qqa" stroke="#482475"/><use href="#qqc" stroke="#fcc62c"/><use href="#qqe" stroke="#1fa287"/><use href="#qqi" stroke="#472d7b"/><use href="#qqj" stroke="#277e8e"/><use href="#qqk" stroke="#50c46a"/><use href="#qql" stroke="#21918c"/><use href="#qqm" stroke="#cde11d"/><use href="#qqn" stroke="#2fb47c"/><use href="#qqo" stroke="#2f6c8e"/><use href="#qqp" stroke="#38b977"/><use href="#qqs" stroke="#50c46a"/><use href="#qqv" stroke="#22a884"/><use href="#qqw" stroke="#472d7b"/><use href="#qqy" stroke="#355f8d"/><use href="#qqz" stroke="#38598c"/><use href="#qra" stroke="#481c6e"/><use href="#qrb" stroke="#5ec962"/><use href="#qrc" stroke="#414487"/><use href="#qrd" stroke="#463480"/><use href="#qre" stroke="#7ad151"/><use href="#qrg" stroke="#50c46a"/><use href="#qrh" stroke="#28ae80"/><use href="#qrj" stroke="#44bf70"/><use href="#qrl" stroke="#482475"/><use href="#qrm" stroke="#2f6c8e"/><use href="#qrn" stroke="#22a884"/><use href="#qro" stroke="#1f968b"/><use href="#qrp" stroke="#443b84"/><use href="#qrr" stroke="#1e9c89"/><use href="#qrw" stroke="#fde725"/><use href="#qsa" stroke="#cde11d"/><use href="#qsb" stroke="#443b84"/><use href="#qsc" stroke="#463480"/><use href="#qsd" stroke="#2c728e"/><use href="#qsi" stroke="#471365"/><use href="#qsl" stroke="#8bd646"/><use href="#qsm" stroke="#9bd93c"/><use href="#qsp" stroke="#21918c"/><use href="#qss" stroke="#5ec962"/><use href="#qst" stroke="#1fa287"/><use href="#qsv" stroke="#277e8e"/><use href="#qsy" stroke="#25848e"/><use href="#qtb" stroke="#38598c"/><use href="#qtc" stroke="#1e9c89"/><use href="#qtd" stroke="#2a788e"/><use href="#qte" stroke="#7ad151"/><use href="#qtf" stroke="#25848e"/><use href="#qtj" stroke="#463480"/><use href="#qto" stroke="#21918c"/><use href="#qtp" stroke="#38b977"/><use href="#qtr" stroke="#238a8d"/><use href="#qts" stroke="#ff4c00"/><use href="#qtt" stroke="#22a884"/><use href="#qtx" stroke="#cde11d"/><use href="#qty" stroke="#9bd93c"/><use href="#qtz" stroke="#2fb47c"/><use href="#qub" stroke="#238a8d"/><use href="#qud" stroke="#471365"/><use href="#qug" stroke="#277e8e"/><use href="#quh" stroke="#3b528b"/><use href="#quk" stroke="#3e4a89"/><use href="#qul" stroke="#6ccd5a"/><use href="#qum" stroke="#3e4a89"/><use href="#qur" stroke="#472d7b"/><use href="#qus" stroke="#22a884"/><use href="#qut" stroke="#1fa287"/><use href="#quy" stroke="#355f8d"/><use href="#quz" stroke="#28ae80"/><use href="#qva" stroke="#481c6e"/><use href="#qvb" stroke="#481c6e"/><use href="#qvc" stroke="#238a8d"/><use href="#qvd" stroke="#2f6c8e"/><use href="#qvg" stroke="#1f968b"/><use href="#qvh" stroke="#28ae80"/><use href="#qvi" stroke="#25848e"/><use href="#qvk" stroke="#414487"/></g><g stroke-width="3.8" stroke-linecap="round" transform="translate(341 0)"><use href="#qmt" stroke="#f9aa92"/><use href="#qmu" stroke="#bb98f4"/><use href="#qmv" stroke="#fccb72"/><use href="#qmw" stroke="#fccb72"/><use href="#qmx" stroke="#7fd0c9"/><use href="#qmz" stroke="#a3b0f8"/><use href="#qnb" stroke="#a3b0f8"/><use href="#qnd" stroke="#7fd0c9"/><use href="#qne" stroke="#ececec"/><use href="#qnf" stroke="#a3b0f8"/><use href="#qng" stroke="#a3b0f8"/><use href="#qni" stroke="#f9aa92"/><use href="#qnj" stroke="#ececec"/><use href="#qnk" stroke="#a3b0f8"/><use href="#qnn" stroke="#fccb72"/><use href="#qnq" stroke="#f9aa92"/><use href="#qnr" stroke="#ececec"/><use href="#qnu" stroke="#fccb72"/><use href="#qnz" stroke="#a3b0f8"/><use href="#qob" stroke="#fccb72"/><use href="#qoc" stroke="#ececec"/><use href="#qod" stroke="#7fd0c9"/><use href="#qoe" stroke="#fccb72"/><use href="#qog" stroke="#a3b0f8"/><use href="#qom" stroke="#bb98f4"/><use href="#qon" stroke="#ececec"/><use href="#qoo" stroke="#ececec"/><use href="#qop" stroke="#f9aa92"/><use href="#qor" stroke="#fccb72"/><use href="#qot" stroke="#7fd0c9"/><use href="#qou" stroke="#fccb72"/><use href="#qow" stroke="#7fd0c9"/><use href="#qox" stroke="#7fd0c9"/><use href="#qpa" stroke="#ececec"/><use href="#qpc" stroke="#fccb72"/><use href="#qpd" stroke="#7fd0c9"/><use href="#qpe" stroke="#7fd0c9"/><use href="#qpf" stroke="#a3b0f8"/><use href="#qpg" stroke="#ececec"/><use href="#qph" stroke="#7fd0c9"/><use href="#qpk" stroke="#fccb72"/><use href="#qpl" stroke="#f9aa92"/><use href="#qpm" stroke="#f9aa92"/><use href="#qpq" stroke="#7fd0c9"/><use href="#qpr" stroke="#fccb72"/><use href="#qpw" stroke="#a3b0f8"/><use href="#qpx" stroke="#fccb72"/><use href="#qpz" stroke="#7fd0c9"/><use href="#qqb" stroke="#7fd0c9"/><use href="#qqd" stroke="#fccb72"/><use href="#qqf" stroke="#fccb72"/><use href="#qqg" stroke="#fccb72"/><use href="#qqh" stroke="#7fd0c9"/><use href="#qqq" stroke="#bb98f4"/><use href="#qqr" stroke="#bb98f4"/><use href="#qqt" stroke="#f9aa92"/><use href="#qqu" stroke="#fccb72"/><use href="#qqx" stroke="#7fd0c9"/><use href="#qrf" stroke="#ececec"/><use href="#qri" stroke="#7fd0c9"/><use href="#qrk" stroke="#a3b0f8"/><use href="#qrq" stroke="#fccb72"/><use href="#qrs" stroke="#7fd0c9"/><use href="#qrt" stroke="#fccb72"/><use href="#qru" stroke="#ececec"/><use href="#qrv" stroke="#fccb72"/><use href="#qrx" stroke="#ececec"/><use href="#qry" stroke="#f9aa92"/><use href="#qrz" stroke="#fccb72"/><use href="#qse" stroke="#fccb72"/><use href="#qsf" stroke="#a3b0f8"/><use href="#qsg" stroke="#a3b0f8"/><use href="#qsh" stroke="#ececec"/><use href="#qsj" stroke="#a3b0f8"/><use href="#qsk" stroke="#ececec"/><use href="#qsn" stroke="#7fd0c9"/><use href="#qso" stroke="#7fd0c9"/><use href="#qsq" stroke="#fccb72"/><use href="#qsr" stroke="#7fd0c9"/><use href="#qsu" stroke="#a3b0f8"/><use href="#qsw" stroke="#ececec"/><use href="#qsx" stroke="#a3b0f8"/><use href="#qsz" stroke="#7fd0c9"/><use href="#qta" stroke="#a3b0f8"/><use href="#qtg" stroke="#fccb72"/><use href="#qth" stroke="#a3b0f8"/><use href="#qti" stroke="#ececec"/><use href="#qtk" stroke="#a3b0f8"/><use href="#qtl" stroke="#7fd0c9"/><use href="#qtm" stroke="#a3b0f8"/><use href="#qtn" stroke="#a3b0f8"/><use href="#qtq" stroke="#fccb72"/><use href="#qtu" stroke="#bb98f4"/><use href="#qtv" stroke="#fccb72"/><use href="#qtw" stroke="#a3b0f8"/><use href="#qua" stroke="#a3b0f8"/><use href="#quc" stroke="#ececec"/><use href="#que" stroke="#a3b0f8"/><use href="#quf" stroke="#f9aa92"/><use href="#qui" stroke="#fccb72"/><use href="#quj" stroke="#bb98f4"/><use href="#qun" stroke="#a3b0f8"/><use href="#quo" stroke="#fccb72"/><use href="#qup" stroke="#7fd0c9"/><use href="#quq" stroke="#a3b0f8"/><use href="#quu" stroke="#7fd0c9"/><use href="#quv" stroke="#ececec"/><use href="#quw" stroke="#ececec"/><use href="#qux" stroke="#7fd0c9"/><use href="#qve" stroke="#ececec"/><use href="#qvf" stroke="#bb98f4"/><use href="#qvj" stroke="#7fd0c9"/><use href="#qvl" stroke="#fccb72"/><use href="#qmy" stroke="#7fd0c9"/><use href="#qna" stroke="#fccb72"/><use href="#qnc" stroke="#f9aa92"/><use href="#qnh" stroke="#fccb72"/><use href="#qnl" stroke="#ececec"/><use href="#qnm" stroke="#fccb72"/><use href="#qno" stroke="#ececec"/><use href="#qnp" stroke="#f9aa92"/><use href="#qns" stroke="#f9aa92"/><use href="#qnt" stroke="#a3b0f8"/><use href="#qnv" stroke="#fccb72"/><use href="#qnw" stroke="#f9aa92"/><use href="#qnx" stroke="#fccb72"/><use href="#qny" stroke="#fccb72"/><use href="#qoa" stroke="#fccb72"/><use href="#qof" stroke="#a3b0f8"/><use href="#qoh" stroke="#fccb72"/><use href="#qoi" stroke="#fccb72"/><use href="#qoj" stroke="#a3b0f8"/><use href="#qok" stroke="#fccb72"/><use href="#qol" stroke="#fccb72"/><use href="#qoq" stroke="#a3b0f8"/><use href="#qos" stroke="#a3b0f8"/><use href="#qov" stroke="#a3b0f8"/><use href="#qoy" stroke="#ececec"/><use href="#qoz" stroke="#f9aa92"/><use href="#qpb" stroke="#a3b0f8"/><use href="#qpi" stroke="#a3b0f8"/><use href="#qpj" stroke="#7fd0c9"/><use href="#qpn" stroke="#7fd0c9"/><use href="#qpo" stroke="#bb98f4"/><use href="#qpp" stroke="#f9aa92"/><use href="#qps" stroke="#bb98f4"/><use href="#qpt" stroke="#a3b0f8"/><use href="#qpu" stroke="#a3b0f8"/><use href="#qpv" stroke="#7fd0c9"/><use href="#qpy" stroke="#f9aa92"/><use href="#qqa" stroke="#a3b0f8"/><use href="#qqc" stroke="#7fd0c9"/><use href="#qqe" stroke="#fccb72"/><use href="#qqi" stroke="#a3b0f8"/><use href="#qqj" stroke="#a3b0f8"/><use href="#qqk" stroke="#ececec"/><use href="#qql" stroke="#a3b0f8"/><use href="#qqm" stroke="#fccb72"/><use href="#qqn" stroke="#7fd0c9"/><use href="#qqo" stroke="#a3b0f8"/><use href="#qqp" stroke="#fccb72"/><use href="#qqs" stroke="#7fd0c9"/><use href="#qqv" stroke="#fccb72"/><use href="#qqw" stroke="#fccb72"/><use href="#qqy" stroke="#a3b0f8"/><use href="#qqz" stroke="#a3b0f8"/><use href="#qra" stroke="#bb98f4"/><use href="#qrb" stroke="#7fd0c9"/><use href="#qrc" stroke="#fccb72"/><use href="#qrd" stroke="#bb98f4"/><use href="#qre" stroke="#7fd0c9"/><use href="#qrg" stroke="#fccb72"/><use href="#qrh" stroke="#7fd0c9"/><use href="#qrj" stroke="#7fd0c9"/><use href="#qrl" stroke="#bb98f4"/><use href="#qrm" stroke="#fccb72"/><use href="#qrn" stroke="#7fd0c9"/><use href="#qro" stroke="#7fd0c9"/><use href="#qrp" stroke="#fccb72"/><use href="#qrr" stroke="#7fd0c9"/><use href="#qrw" stroke="#7fd0c9"/><use href="#qsa" stroke="#ececec"/><use href="#qsb" stroke="#a3b0f8"/><use href="#qsc" stroke="#fccb72"/><use href="#qsd" stroke="#fccb72"/><use href="#qsi" stroke="#a3b0f8"/><use href="#qsl" stroke="#ececec"/><use href="#qsm" stroke="#ececec"/><use href="#qsp" stroke="#fccb72"/><use href="#qss" stroke="#ececec"/><use href="#qst" stroke="#7fd0c9"/><use href="#qsv" stroke="#fccb72"/><use href="#qsy" stroke="#fccb72"/><use href="#qtb" stroke="#fccb72"/><use href="#qtc" stroke="#fccb72"/><use href="#qtd" stroke="#fccb72"/><use href="#qte" stroke="#ececec"/><use href="#qtf" stroke="#7fd0c9"/><use href="#qtj" stroke="#a3b0f8"/><use href="#qto" stroke="#7fd0c9"/><use href="#qtp" stroke="#ececec"/><use href="#qtr" stroke="#7fd0c9"/><use href="#qts" stroke="#f9aa92"/><use href="#qtt" stroke="#a3b0f8"/><use href="#qtx" stroke="#7fd0c9"/><use href="#qty" stroke="#7fd0c9"/><use href="#qtz" stroke="#fccb72"/><use href="#qub" stroke="#ececec"/><use href="#qud" stroke="#fccb72"/><use href="#qug" stroke="#7fd0c9"/><use href="#quh" stroke="#fccb72"/><use href="#quk" stroke="#bb98f4"/><use href="#qul" stroke="#ececec"/><use href="#qum" stroke="#a3b0f8"/><use href="#qur" stroke="#ececec"/><use href="#qus" stroke="#ececec"/><use href="#qut" stroke="#ececec"/><use href="#quy" stroke="#7fd0c9"/><use href="#quz" stroke="#a3b0f8"/><use href="#qva" stroke="#fccb72"/><use href="#qvb" stroke="#ececec"/><use href="#qvc" stroke="#fccb72"/><use href="#qvd" stroke="#7fd0c9"/><use href="#qvg" stroke="#a3b0f8"/><use href="#qvh" stroke="#ececec"/><use href="#qvi" stroke="#ececec"/><use href="#qvk" stroke="#bb98f4"/></g><use href="#arw"/><use href="#arw" x="341"/><g stroke-width="1.36" stroke-linecap="round" transform="translate(.25 .25)"><g transform="translate(0 0)"><use href="#qvn" stroke="#229a1c"/><use href="#qvs" stroke="#979122"/><use href="#qvu" stroke="#c862d0"/><use href="#qvy" stroke="#229a1c"/><use href="#qvz" stroke="#7383e0"/><use href="#qwf" stroke="#cb5a55"/><use href="#qwj" stroke="#229a1c"/><use href="#qwt" stroke="#cb5a55"/><use href="#qwy" stroke="#cb5a55"/><use href="#qwz" stroke="#229a1c"/><use href="#qxh" stroke="#0f9aa0"/><use href="#qxi" stroke="#229a1c"/><use href="#qxj" stroke="#229a1c"/><use href="#qxm" stroke="#7383e0"/><use href="#qxr" stroke="#0f9aa0"/><use href="#qxs" stroke="#cb5a55"/><use href="#qxt" stroke="#0f9aa0"/><use href="#qyj" stroke="#cb5a55"/><use href="#qym" stroke="#cb5a55"/><use href="#qyt" stroke="#7383e0"/><use href="#qyx" stroke="#229a1c"/><use href="#qzc" stroke="#7383e0"/><use href="#qze" stroke="#cb5a55"/><use href="#qzh" stroke="#0f9aa0"/><use href="#qzi" stroke="#7383e0"/><use href="#qzl" stroke="#229a1c"/><use href="#qzp" stroke="#0f9aa0"/><use href="#qzq" stroke="#0f9aa0"/><use href="#qzs" stroke="#0f9aa0"/><use href="#qzt" stroke="#cb5a55"/><use href="#qzu" stroke="#7383e0"/><use href="#qzx" stroke="#0f9aa0"/><use href="#qbaj" stroke="#229a1c"/><use href="#qbam" stroke="#0f9aa0"/><use href="#qban" stroke="#cb5a55"/><use href="#qbat" stroke="#229a1c"/><use href="#qbav" stroke="#229a1c"/><use href="#qbax" stroke="#cb5a55"/><use href="#qbay" stroke="#7383e0"/><use href="#qbbc" stroke="#229a1c"/><use href="#qbbh" stroke="#0f9aa0"/><use href="#qbbp" stroke="#229a1c"/><use href="#qbbr" stroke="#0f9aa0"/><use href="#qbbv" stroke="#0f9aa0"/><use href="#qbca" stroke="#229a1c"/><use href="#qbcc" stroke="#7383e0"/><use href="#qbco" stroke="#cb5a55"/><use href="#qbct" stroke="#cb5a55"/><use href="#qbcv" stroke="#229a1c"/></g><g transform="translate(.5 0)"><use href="#qvr" stroke="#229a1c"/><use href="#qvt" stroke="#979122"/><use href="#qvw" stroke="#229a1c"/><use href="#qvx" stroke="#7383e0"/><use href="#qwd" stroke="#cb5a55"/><use href="#qwe" stroke="#cb5a55"/><use href="#qwg" stroke="#229a1c"/><use href="#qwk" stroke="#0f9aa0"/><use href="#qwn" stroke="#cb5a55"/><use href="#qwo" stroke="#229a1c"/><use href="#qwp" stroke="#229a1c"/><use href="#qwq" stroke="#0f9aa0"/><use href="#qwr" stroke="#0f9aa0"/><use href="#qwu" stroke="#cb5a55"/><use href="#qwx" stroke="#0f9aa0"/><use href="#qxf" stroke="#7383e0"/><use href="#qxg" stroke="#229a1c"/><use href="#qxk" stroke="#cb5a55"/><use href="#qxn" stroke="#cb5a55"/><use href="#qxx" stroke="#229a1c"/><use href="#qya" stroke="#c862d0"/><use href="#qyh" stroke="#229a1c"/><use href="#qyn" stroke="#7383e0"/><use href="#qyo" stroke="#0f9aa0"/><use href="#qyp" stroke="#0f9aa0"/><use href="#qyz" stroke="#cb5a55"/><use href="#qzd" stroke="#7383e0"/><use href="#qzg" stroke="#229a1c"/><use href="#qzj" stroke="#7383e0"/><use href="#qzn" stroke="#cb5a55"/><use href="#qzv" stroke="#229a1c"/><use href="#qzy" stroke="#7383e0"/><use href="#qbaa" stroke="#0f9aa0"/><use href="#qbak" stroke="#0f9aa0"/><use href="#qbap" stroke="#0f9aa0"/><use href="#qbbd" stroke="#cb5a55"/><use href="#qbbg" stroke="#7383e0"/><use href="#qbbi" stroke="#229a1c"/><use href="#qbbn" stroke="#cb5a55"/><use href="#qbbq" stroke="#0f9aa0"/><use href="#qbbs" stroke="#229a1c"/><use href="#qbbt" stroke="#229a1c"/><use href="#qbbu" stroke="#cb5a55"/><use href="#qbbz" stroke="#cb5a55"/><use href="#qbcg" stroke="#7383e0"/><use href="#qbcn" stroke="#0f9aa0"/><use href="#qbcp" stroke="#0f9aa0"/><use href="#qbcq" stroke="#229a1c"/><use href="#qbcw" stroke="#229a1c"/></g><g transform="translate(0 .5)"><use href="#qvm" stroke="#cb5a55"/><use href="#qvp" stroke="#7383e0"/><use href="#qwc" stroke="#979122"/><use href="#qws" stroke="#0f9aa0"/><use href="#qwv" stroke="#7383e0"/><use href="#qww" stroke="#229a1c"/><use href="#qxa" stroke="#cb5a55"/><use href="#qxd" stroke="#7383e0"/><use href="#qxl" stroke="#229a1c"/><use href="#qxo" stroke="#7383e0"/><use href="#qxv" stroke="#c862d0"/><use href="#qyb" stroke="#0f9aa0"/><use href="#qyc" stroke="#229a1c"/><use href="#qyd" stroke="#cb5a55"/><use href="#qyf" stroke="#0f9aa0"/><use href="#qyk" stroke="#0f9aa0"/><use href="#qyl" stroke="#7383e0"/><use href="#qys" stroke="#0f9aa0"/><use href="#qyu" stroke="#229a1c"/><use href="#qyw" stroke="#0f9aa0"/><use href="#qyy" stroke="#cb5a55"/><use href="#qzm" stroke="#229a1c"/><use href="#qzo" stroke="#cb5a55"/><use href="#qzz" stroke="#cb5a55"/><use href="#qbac" stroke="#cb5a55"/><use href="#qbaf" stroke="#cb5a55"/><use href="#qbag" stroke="#0f9aa0"/><use href="#qbah" stroke="#0f9aa0"/><use href="#qbal" stroke="#229a1c"/><use href="#qbas" stroke="#229a1c"/><use href="#qbau" stroke="#0f9aa0"/><use href="#qbaw" stroke="#229a1c"/><use href="#qbaz" stroke="#229a1c"/><use href="#qbbb" stroke="#cb5a55"/><use href="#qbbe" stroke="#7383e0"/><use href="#qbbj" stroke="#229a1c"/><use href="#qbbl" stroke="#7383e0"/><use href="#qbbm" stroke="#cb5a55"/><use href="#qbbo" stroke="#229a1c"/><use href="#qbbw" stroke="#229a1c"/><use href="#qbbx" stroke="#0f9aa0"/><use href="#qbcd" stroke="#cb5a55"/><use href="#qbch" stroke="#229a1c"/><use href="#qbci" stroke="#0f9aa0"/><use href="#qbcj" stroke="#0f9aa0"/><use href="#qbck" stroke="#cb5a55"/></g><g transform="translate(.5 .5)"><use href="#qvo" stroke="#979122"/><use href="#qvq" stroke="#cb5a55"/><use href="#qvv" stroke="#cb5a55"/><use href="#qwa" stroke="#229a1c"/><use href="#qwb" stroke="#0f9aa0"/><use href="#qwh" stroke="#cb5a55"/><use href="#qwi" stroke="#229a1c"/><use href="#qwl" stroke="#229a1c"/><use href="#qwm" stroke="#c862d0"/><use href="#qxb" stroke="#cb5a55"/><use href="#qxc" stroke="#0f9aa0"/><use href="#qxe" stroke="#7383e0"/><use href="#qxp" stroke="#229a1c"/><use href="#qxq" stroke="#cb5a55"/><use href="#qxu" stroke="#7383e0"/><use href="#qxw" stroke="#7383e0"/><use href="#qxy" stroke="#cb5a55"/><use href="#qxz" stroke="#0f9aa0"/><use href="#qye" stroke="#229a1c"/><use href="#qyg" stroke="#7383e0"/><use href="#qyi" stroke="#7383e0"/><use href="#qyq" stroke="#0f9aa0"/><use href="#qyr" stroke="#0f9aa0"/><use href="#qyv" stroke="#229a1c"/><use href="#qza" stroke="#cb5a55"/><use href="#qzb" stroke="#cb5a55"/><use href="#qzf" stroke="#7383e0"/><use href="#qzk" stroke="#0f9aa0"/><use href="#qzr" stroke="#229a1c"/><use href="#qzw" stroke="#0f9aa0"/><use href="#qbab" stroke="#229a1c"/><use href="#qbad" stroke="#229a1c"/><use href="#qbae" stroke="#7383e0"/><use href="#qbai" stroke="#229a1c"/><use href="#qbao" stroke="#229a1c"/><use href="#qbaq" stroke="#0f9aa0"/><use href="#qbar" stroke="#0f9aa0"/><use href="#qbba" stroke="#cb5a55"/><use href="#qbbf" stroke="#229a1c"/><use href="#qbbk" stroke="#cb5a55"/><use href="#qbby" stroke="#0f9aa0"/><use href="#qbcb" stroke="#7383e0"/><use href="#qbce" stroke="#cb5a55"/><use href="#qbcf" stroke="#0f9aa0"/><use href="#qbcl" stroke="#229a1c"/><use href="#qbcm" stroke="#cb5a55"/><use href="#qbcr" stroke="#229a1c"/><use href="#qbcs" stroke="#0f9aa0"/><use href="#qbcu" stroke="#229a1c"/></g></g><g stroke-width="1.36" stroke-linecap="round" transform="matrix(1.0159 0 0 1.034 363.36 -17.87)"><g transform="translate(0 0)"><use href="#qvn" stroke="#7f0a94"/><use href="#qvs" stroke="#616161"/><use href="#qvu" stroke="#616161"/><use href="#qvy" stroke="#ae3575"/><use href="#qvz" stroke="#450291"/><use href="#qwf" stroke="#e4a22a"/><use href="#qwj" stroke="#bf4b64"/><use href="#qwt" stroke="#d56d4b"/><use href="#qwy" stroke="#e29332"/><use href="#qwz" stroke="#630097"/><use href="#qxh" stroke="#bf4b64"/><use href="#qxi" stroke="#992086"/><use href="#qxj" stroke="#a32a7e"/><use href="#qxm" stroke="#530195"/><use href="#qxr" stroke="#c7565b"/><use href="#qxs" stroke="#cdc92c"/><use href="#qxt" stroke="#cf6253"/><use href="#qyj" stroke="#df863a"/><use href="#qym" stroke="#db7942"/><use href="#qyt" stroke="#34048b"/><use href="#qyx" stroke="#720397"/><use href="#qzc" stroke="#630097"/><use href="#qze" stroke="#cdc92c"/><use href="#qzh" stroke="#992086"/><use href="#qzi" stroke="#720397"/><use href="#qzl" stroke="#450291"/><use href="#qzp" stroke="#b7406c"/><use href="#qzq" stroke="#ae3575"/><use href="#qzs" stroke="#a32a7e"/><use href="#qzt" stroke="#cf6253"/><use href="#qzu" stroke="#220583"/><use href="#qzx" stroke="#8c158e"/><use href="#qbaj" stroke="#b7406c"/><use href="#qbam" stroke="#7f0a94"/><use href="#qban" stroke="#e4b124"/><use href="#qbat" stroke="#530195"/><use href="#qbav" stroke="#8c158e"/><use href="#qbax" stroke="#c7565b"/><use href="#qbay" stroke="#0c0779"/><use href="#qbbc" stroke="#cdc92c"/><use href="#qbbh" stroke="#db7942"/><use href="#qbbp" stroke="#cdc92c"/><use href="#qbbr" stroke="#d56d4b"/><use href="#qbbv" stroke="#df863a"/><use href="#qbca" stroke="#cdc92c"/><use href="#qbcc" stroke="#7f0a94"/><use href="#qbco" stroke="#cdc92c"/><use href="#qbct" stroke="#bf4b64"/><use href="#qbcv" stroke="#c7565b"/></g><g transform="translate(.5 0)"><use href="#qvr" stroke="#530195"/><use href="#qvt" stroke="#616161"/><use href="#qvw" stroke="#992086"/><use href="#qvx" stroke="#0c0779"/><use href="#qwd" stroke="#cf6253"/><use href="#qwe" stroke="#e4a22a"/><use href="#qwg" stroke="#cdc92c"/><use href="#qwk" stroke="#ae3575"/><use href="#qwn" stroke="#cdc92c"/><use href="#qwo" stroke="#630097"/><use href="#qwp" stroke="#7f0a94"/><use href="#qwq" stroke="#c7565b"/><use href="#qwr" stroke="#992086"/><use href="#qwu" stroke="#e29332"/><use href="#qwx" stroke="#b7406c"/><use href="#qxf" stroke="#450291"/><use href="#qxg" stroke="#a32a7e"/><use href="#qxk" stroke="#cdc92c"/><use href="#qxn" stroke="#d56d4b"/><use href="#qxx" stroke="#720397"/><use href="#qya" stroke="#616161"/><use href="#qyh" stroke="#8c158e"/><use href="#qyn" stroke="#220583"/><use href="#qyo" stroke="#bf4b64"/><use href="#qyp" stroke="#a32a7e"/><use href="#qyz" stroke="#e4b124"/><use href="#qzd" stroke="#630097"/><use href="#qzg" stroke="#cdc92c"/><use href="#qzj" stroke="#34048b"/><use href="#qzn" stroke="#db7942"/><use href="#qzv" stroke="#ae3575"/><use href="#qzy" stroke="#530195"/><use href="#qbaa" stroke="#cf6253"/><use href="#qbak" stroke="#7f0a94"/><use href="#qbap" stroke="#d56d4b"/><use href="#qbbd" stroke="#c7565b"/><use href="#qbbg" stroke="#7f0a94"/><use href="#qbbi" stroke="#b7406c"/><use href="#qbbn" stroke="#df863a"/><use href="#qbbq" stroke="#8c158e"/><use href="#qbbs" stroke="#450291"/><use href="#qbbt" stroke="#c7565b"/><use href="#qbbu" stroke="#cdc92c"/><use href="#qbbz" stroke="#bf4b64"/><use href="#qbcg" stroke="#720397"/><use href="#qbcn" stroke="#db7942"/><use href="#qbcp" stroke="#df863a"/><use href="#qbcq" stroke="#bf4b64"/><use href="#qbcw" stroke="#cdc92c"/></g><g transform="translate(0 .5)"><use href="#qvm" stroke="#e4a22a"/><use href="#qvp" stroke="#220583"/><use href="#qwc" stroke="#616161"/><use href="#qws" stroke="#cf6253"/><use href="#qwv" stroke="#450291"/><use href="#qww" stroke="#720397"/><use href="#qxa" stroke="#cdc92c"/><use href="#qxd" stroke="#630097"/><use href="#qxl" stroke="#992086"/><use href="#qxo" stroke="#34048b"/><use href="#qxv" stroke="#616161"/><use href="#qyb" stroke="#bf4b64"/><use href="#qyc" stroke="#8c158e"/><use href="#qyd" stroke="#cdc92c"/><use href="#qyf" stroke="#c7565b"/><use href="#qyk" stroke="#b7406c"/><use href="#qyl" stroke="#530195"/><use href="#qys" stroke="#992086"/><use href="#qyu" stroke="#7f0a94"/><use href="#qyw" stroke="#d56d4b"/><use href="#qyy" stroke="#db7942"/><use href="#qzm" stroke="#630097"/><use href="#qzo" stroke="#e29332"/><use href="#qzz" stroke="#e4b124"/><use href="#qbac" stroke="#cf6253"/><use href="#qbaf" stroke="#d56d4b"/><use href="#qbag" stroke="#a32a7e"/><use href="#qbah" stroke="#8c158e"/><use href="#qbal" stroke="#a32a7e"/><use href="#qbas" stroke="#450291"/><use href="#qbau" stroke="#ae3575"/><use href="#qbaw" stroke="#ae3575"/><use href="#qbaz" stroke="#530195"/><use href="#qbbb" stroke="#c7565b"/><use href="#qbbe" stroke="#720397"/><use href="#qbbj" stroke="#b7406c"/><use href="#qbbl" stroke="#0c0779"/><use href="#qbbm" stroke="#df863a"/><use href="#qbbo" stroke="#bf4b64"/><use href="#qbbw" stroke="#cdc92c"/><use href="#qbbx" stroke="#df863a"/><use href="#qbcd" stroke="#cdc92c"/><use href="#qbch" stroke="#cdc92c"/><use href="#qbci" stroke="#7f0a94"/><use href="#qbcj" stroke="#db7942"/><use href="#qbck" stroke="#bf4b64"/></g><g transform="translate(.5 .5)"><use href="#qvo" stroke="#616161"/><use href="#qvq" stroke="#db7942"/><use href="#qvv" stroke="#cdc92c"/><use href="#qwa" stroke="#7f0a94"/><use href="#qwb" stroke="#b7406c"/><use href="#qwh" stroke="#cdc92c"/><use href="#qwi" stroke="#992086"/><use href="#qwl" stroke="#450291"/><use href="#qwm" stroke="#616161"/><use href="#qxb" stroke="#c7565b"/><use href="#qxc" stroke="#992086"/><use href="#qxe" stroke="#7f0a94"/><use href="#qxp" stroke="#b7406c"/><use href="#qxq" stroke="#e4a22a"/><use href="#qxu" stroke="#630097"/><use href="#qxw" stroke="#34048b"/><use href="#qxy" stroke="#cf6253"/><use href="#qxz" stroke="#cf6253"/><use href="#qye" stroke="#a32a7e"/><use href="#qyg" stroke="#530195"/><use href="#qyi" stroke="#720397"/><use href="#qyq" stroke="#bf4b64"/><use href="#qyr" stroke="#a32a7e"/><use href="#qyv" stroke="#720397"/><use href="#qza" stroke="#d56d4b"/><use href="#qzb" stroke="#e29332"/><use href="#qzf" stroke="#450291"/><use href="#qzk" stroke="#ae3575"/><use href="#qzr" stroke="#8c158e"/><use href="#qzw" stroke="#8c158e"/><use href="#qbab" stroke="#cdc92c"/><use href="#qbad" stroke="#630097"/><use href="#qbae" stroke="#220583"/><use href="#qbai" stroke="#530195"/><use href="#qbao" stroke="#ae3575"/><use href="#qbaq" stroke="#c7565b"/><use href="#qbar" stroke="#d56d4b"/><use href="#qbba" stroke="#e4b124"/><use href="#qbbf" stroke="#cdc92c"/><use href="#qbbk" stroke="#df863a"/><use href="#qbby" stroke="#db7942"/><use href="#qbcb" stroke="#0c0779"/><use href="#qbce" stroke="#cdc92c"/><use href="#qbcf" stroke="#7f0a94"/><use href="#qbcl" stroke="#c7565b"/><use href="#qbcm" stroke="#bf4b64"/><use href="#qbcr" stroke="#bf4b64"/><use href="#qbcs" stroke="#df863a"/><use href="#qbcu" stroke="#cdc92c"/></g></g><use href="#trj"/><use href="#trj" transform="matrix(1.0159 0 0 1.034 362.85 -18.385)"/><path d="M42 155.1V179.7H66.6" stroke="#44546c" stroke-width="1.25" fill="none"/><path d="M42 151.7l2.2 4h-4.4zM70 179.7l-4 2.2v-4.4z" fill="#44546c"/><text x="41" y="189.6" font-size="7.4" text-anchor="start" font-weight="normal" fill="#333" textLength="26.6" lengthAdjust="spacingAndGlyphs">UMAP 1</text><text x="37.3" y="167.2" font-size="7.4" text-anchor="middle" font-weight="normal" fill="#333" textLength="26.8" lengthAdjust="spacingAndGlyphs" transform="rotate(-90 37.3 167.2)">UMAP 2</text><path d="M387.8 151.6V176H412.40000000000003" stroke="#44546c" stroke-width="1.25" fill="none"/><path d="M387.8 148.2l2.2 4h-4.4zM415.8 176l-4 2.2v-4.4z" fill="#44546c"/><text x="386.9" y="186.5" font-size="7.4" text-anchor="start" font-weight="normal" fill="#333" textLength="26.2" lengthAdjust="spacingAndGlyphs">UMAP 1</text><text x="383.1" y="164.4" font-size="7.4" text-anchor="middle" font-weight="normal" fill="#333" textLength="27.3" lengthAdjust="spacingAndGlyphs" transform="rotate(-90 383.1 164.4)">UMAP 2</text><path d="M17.4 850.6V882.7H51.300000000000004" stroke="#44546c" stroke-width="1.25" fill="none"/><path d="M17.4 847.2l2.2 4h-4.4zM54.7 882.7l-4 2.2v-4.4z" fill="#44546c"/><text x="21.5" y="893.6" font-size="8.2" text-anchor="start" font-weight="normal" fill="#333" textLength="26" lengthAdjust="spacingAndGlyphs">UMAP 1</text><text x="13.1" y="866.5" font-size="8.2" text-anchor="middle" font-weight="normal" fill="#333" textLength="26.8" lengthAdjust="spacingAndGlyphs" transform="rotate(-90 13.1 866.5)">UMAP 2</text><path d="M389.4 851.8V885H424.6" stroke="#44546c" stroke-width="1.25" fill="none"/><path d="M389.4 848.4l2.2 4h-4.4zM428 885l-4 2.2v-4.4z" fill="#44546c"/><text x="395" y="896.5" font-size="8.2" text-anchor="start" font-weight="normal" fill="#333" textLength="26.1" lengthAdjust="spacingAndGlyphs">UMAP 1</text><text x="385.3" y="869.1" font-size="8.2" text-anchor="middle" font-weight="normal" fill="#333" textLength="27.2" lengthAdjust="spacingAndGlyphs" transform="rotate(-90 385.3 869.1)">UMAP 2</text><text x="258.8" y="75.5" font-size="8.8" text-anchor="start" font-weight="normal" fill="#231f20" textLength="49" lengthAdjust="spacingAndGlyphs">Pseudotime</text><defs><linearGradient id="gvir" x1="0" y1="1" x2="0" y2="0"><stop offset="0.000" stop-color="#440154"/><stop offset="0.025" stop-color="#460a5d"/><stop offset="0.050" stop-color="#471365"/><stop offset="0.075" stop-color="#481c6e"/><stop offset="0.100" stop-color="#482475"/><stop offset="0.125" stop-color="#472d7b"/><stop offset="0.150" stop-color="#463480"/><stop offset="0.175" stop-color="#443b84"/><stop offset="0.200" stop-color="#414487"/><stop offset="0.225" stop-color="#3e4a89"/><stop offset="0.250" stop-color="#3b528b"/><stop offset="0.275" stop-color="#38598c"/><stop offset="0.300" stop-color="#355f8d"/><stop offset="0.325" stop-color="#31668e"/><stop offset="0.350" stop-color="#2f6c8e"/><stop offset="0.375" stop-color="#2c728e"/><stop offset="0.400" stop-color="#2a788e"/><stop offset="0.425" stop-color="#277e8e"/><stop offset="0.450" stop-color="#25848e"/><stop offset="0.475" stop-color="#238a8d"/><stop offset="0.500" stop-color="#21918c"/><stop offset="0.525" stop-color="#1f968b"/><stop offset="0.550" stop-color="#1e9c89"/><stop offset="0.575" stop-color="#1fa287"/><stop offset="0.600" stop-color="#22a884"/><stop offset="0.625" stop-color="#28ae80"/><stop offset="0.650" stop-color="#2fb47c"/><stop offset="0.675" stop-color="#38b977"/><stop offset="0.700" stop-color="#44bf70"/><stop offset="0.725" stop-color="#50c46a"/><stop offset="0.750" stop-color="#5ec962"/><stop offset="0.775" stop-color="#6ccd5a"/><stop offset="0.800" stop-color="#7ad151"/><stop offset="0.825" stop-color="#8bd646"/><stop offset="0.850" stop-color="#9bd93c"/><stop offset="0.875" stop-color="#cde11d"/><stop offset="0.900" stop-color="#fde725"/><stop offset="0.925" stop-color="#fcc62c"/><stop offset="0.950" stop-color="#faa633"/><stop offset="0.975" stop-color="#fc791a"/><stop offset="1.000" stop-color="#ff4c00"/></linearGradient></defs><rect x="272" y="82.8" width="7.2" height="34.9" rx="1" fill="url(#gvir)"/><text x="283.9" y="85.5" font-size="8.2" text-anchor="start" font-weight="normal" fill="#231f20" textLength="15.1" lengthAdjust="spacingAndGlyphs">1.00</text><path d="M272 91.5h1.6M277.6 91.5h1.6" stroke="#fff" stroke-width="0.5"/><text x="283.9" y="94.1" font-size="8.2" text-anchor="start" font-weight="normal" fill="#231f20" textLength="15.4" lengthAdjust="spacingAndGlyphs">0.75</text><path d="M272 100.0h1.6M277.6 100.0h1.6" stroke="#fff" stroke-width="0.5"/><text x="283.9" y="102.6" font-size="8.2" text-anchor="start" font-weight="normal" fill="#231f20" textLength="16.0" lengthAdjust="spacingAndGlyphs">0.50</text><path d="M272 108.8h1.6M277.6 108.8h1.6" stroke="#fff" stroke-width="0.5"/><text x="283.9" y="111.4" font-size="8.2" text-anchor="start" font-weight="normal" fill="#231f20" textLength="15.4" lengthAdjust="spacingAndGlyphs">0.25</text><text x="283.9" y="119.8" font-size="8.2" text-anchor="start" font-weight="normal" fill="#231f20">0</text><text x="614.9" y="80.1" font-size="9" text-anchor="start" font-weight="normal" fill="#231f20" textLength="30" lengthAdjust="spacingAndGlyphs">Cluster</text><path d="M618 90.1q3.2 -2.6 6.5 0q-3.3 2.6 -6.5 0z" fill="#f9ab95"/><text x="628" y="92.5" font-size="8.2" text-anchor="start" font-weight="normal" fill="#231f20" textLength="18.5" lengthAdjust="spacingAndGlyphs">NK1C</text><path d="M618 100.4q3.2 -2.6 6.5 0q-3.3 2.6 -6.5 0z" fill="#fbc560"/><text x="628" y="102.8" font-size="8.2" text-anchor="start" font-weight="normal" fill="#231f20" textLength="14.6" lengthAdjust="spacingAndGlyphs">NK3</text><path d="M618 110.7q3.2 -2.6 6.5 0q-3.3 2.6 -6.5 0z" fill="#74ccc4"/><text x="628" y="113.1" font-size="8.2" text-anchor="start" font-weight="normal" fill="#231f20" textLength="18.1" lengthAdjust="spacingAndGlyphs">NK1A</text><path d="M618 120.9q3.2 -2.6 6.5 0q-3.3 2.6 -6.5 0z" fill="#e8e8e8"/><text x="628" y="123.3" font-size="8.2" text-anchor="start" font-weight="normal" fill="#231f20" textLength="18.1" lengthAdjust="spacingAndGlyphs">NK1B</text><path d="M618 131.2q3.2 -2.6 6.5 0q-3.3 2.6 -6.5 0z" fill="#8fa3f6"/><text x="628" y="133.6" font-size="8.2" text-anchor="start" font-weight="normal" fill="#231f20" textLength="18.9" lengthAdjust="spacingAndGlyphs">NK2B</text><path d="M618 141.5q3.2 -2.6 6.5 0q-3.3 2.6 -6.5 0z" fill="#bb95f3"/><text x="628" y="143.9" font-size="8.2" text-anchor="start" font-weight="normal" fill="#231f20" textLength="19.3" lengthAdjust="spacingAndGlyphs">NK2A</text><text x="248.9" y="683.9" font-size="8.2" text-anchor="start" font-weight="normal" fill="#231f20" textLength="25.8" lengthAdjust="spacingAndGlyphs">Cluster</text><circle cx="255.1" cy="692.0" r="2" fill="#f8766d"/><text x="260.8" y="694.9" font-size="8.4" text-anchor="start" font-weight="normal" fill="#231f20" textLength="18.2" lengthAdjust="spacingAndGlyphs">NK1C</text><circle cx="255.1" cy="702.8" r="2" fill="#8494ff"/><text x="260.8" y="705.7" font-size="8.4" text-anchor="start" font-weight="normal" fill="#231f20" textLength="18.8" lengthAdjust="spacingAndGlyphs">NKint</text><circle cx="255.1" cy="713.6" r="2" fill="#00b30c"/><text x="260.8" y="716.5" font-size="8.4" text-anchor="start" font-weight="normal" fill="#231f20" textLength="18.2" lengthAdjust="spacingAndGlyphs">NK1A</text><circle cx="255.1" cy="724.4" r="2" fill="#00bfc4"/><text x="260.8" y="727.3" font-size="8.4" text-anchor="start" font-weight="normal" fill="#231f20" textLength="18.0" lengthAdjust="spacingAndGlyphs">NK1B</text><circle cx="255.1" cy="735.2" r="2" fill="#f564e3"/><text x="260.8" y="738.1" font-size="8.4" text-anchor="start" font-weight="normal" fill="#231f20" textLength="14.5" lengthAdjust="spacingAndGlyphs">NK2</text><circle cx="255.1" cy="746.0" r="2" fill="#a39a1c"/><text x="260.8" y="748.9" font-size="8.4" text-anchor="start" font-weight="normal" fill="#231f20" textLength="14.5" lengthAdjust="spacingAndGlyphs">NK3</text><text x="600.2" y="680.8" font-size="8.8" text-anchor="start" font-weight="normal" fill="#231f20" textLength="49.6" lengthAdjust="spacingAndGlyphs">Pseudotime</text><rect x="622.2" y="686.5" width="6.9" height="34.2" rx="1" fill="url(#gpl)"/><path d="M622.2 691.4h1.5M627.6 691.4h1.5" stroke="#fff" stroke-width="0.5"/><text x="632.9" y="694.1" font-size="8.2" text-anchor="start" font-weight="normal" fill="#231f20" textLength="8.6" lengthAdjust="spacingAndGlyphs">15</text><path d="M622.2 700.9h1.5M627.6 700.9h1.5" stroke="#fff" stroke-width="0.5"/><text x="632.9" y="703.6" font-size="8.2" text-anchor="start" font-weight="normal" fill="#231f20" textLength="8.6" lengthAdjust="spacingAndGlyphs">10</text><path d="M622.2 710.3h1.5M627.6 710.3h1.5" stroke="#fff" stroke-width="0.5"/><text x="632.9" y="713.0" font-size="8.2" text-anchor="start" font-weight="normal" fill="#231f20">5</text><text x="632.9" y="722.7" font-size="8.2" text-anchor="start" font-weight="normal" fill="#231f20">0</text>
</svg></body></html>
